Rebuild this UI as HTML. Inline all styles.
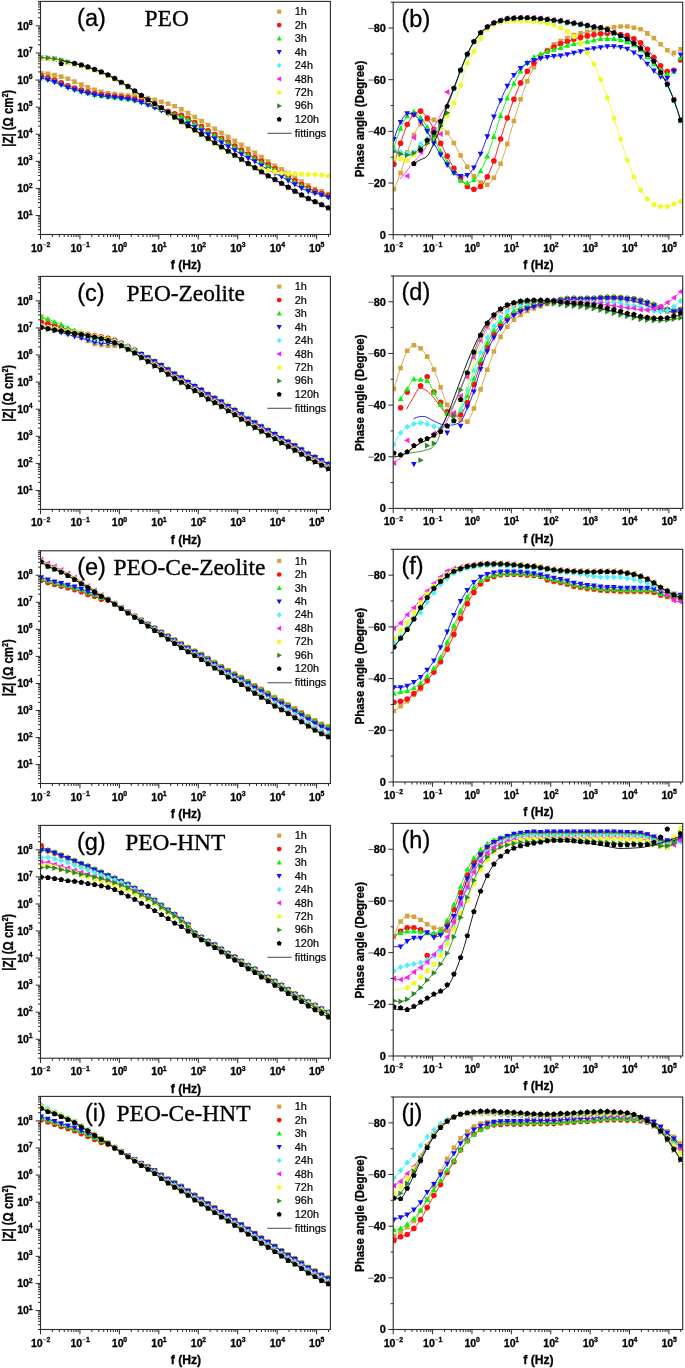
<!DOCTYPE html><html><head><meta charset="utf-8"><style>html,body{margin:0;padding:0;background:#fff;}svg{display:block;filter:blur(0.3px);}text[font-weight=bold]{stroke:#000;stroke-width:0.3px;}.lg{stroke:#000;stroke-width:0.2px;}</style></head><body><svg width="685" height="1368" viewBox="0 0 685 1368"><rect width="685" height="1368" fill="#fff"/><clipPath id="cl0"><rect x="40.5" y="1.4" width="289.9" height="233.1"/></clipPath><clipPath id="cr0"><rect x="393.2" y="2.2" width="289.5" height="232.5"/></clipPath><g clip-path="url(#cl0)"><path d="M41.2 73.3h0M47.9 73.9h0M54.6 75h0M61.2 76.6h0M67.9 78.8h0M74.6 81.6h0M81.3 84.6h0M87.9 87.3h0M94.6 89.7h0M101.3 91.7h0M108 93.2h0M114.7 94.1h0M121.3 94.8h0M128 95.5h0M134.7 96.1h0M141.4 96.9h0M148 98h0M154.7 99.7h0M161.4 101.7h0M168.1 103.8h0M174.7 106.2h0M181.4 109.4h0M188.1 113.1h0M194.8 117h0M201.5 121h0M208.1 125h0M214.8 128.8h0M221.5 132.7h0M228.2 136.8h0M234.8 140.9h0M241.5 144.8h0M248.2 148.8h0M254.9 152.9h0M261.5 157.1h0M268.2 161.5h0M274.9 165.7h0M281.6 169.4h0M288.2 173.1h0M294.9 177.4h0M301.6 181.6h0M308.3 185.6h0M315 189.1h0M321.6 191.4h0M328.3 194.1h0" stroke="#D6A43E" stroke-width="4.6" stroke-linecap="square"/><path d="M41.2 73.3 44.4 73.5 47.7 73.9 50.9 74.4 54.1 74.9 57.3 75.6 60.6 76.4 63.8 77.4 67 78.5 70.2 79.7 73.5 81.1 76.7 82.6 79.9 84.1 83.1 85.4 86.4 86.7 89.6 88 92.8 89.1 96 90.1 99.3 91.1 102.5 92 105.7 92.8 109 93.4 112.2 93.8 115.4 94.2 118.6 94.5 121.9 94.9 125.1 95.2 128.3 95.5 131.5 95.8 134.8 96.1 138 96.5 141.2 96.9 144.4 97.4 147.7 97.9 150.9 98.6 154.1 99.5 157.3 100.5 160.6 101.5 163.8 102.5 167 103.5 170.2 104.5 173.5 105.7 176.7 107.1 179.9 108.6 183.1 110.3 186.4 112.1 189.6 114 192.8 115.9 196.1 117.8 199.3 119.7 202.5 121.6 205.7 123.6 209 125.5 212.2 127.3 215.4 129.2 218.6 131 221.9 133 225.1 134.9 228.3 136.9 231.5 138.9 234.8 140.9 238 142.8 241.2 144.7 244.4 146.6 247.7 148.5 250.9 150.5 254.1 152.5 257.3 154.5 260.6 156.5 263.8 158.6 267 160.7 270.2 162.8 273.5 164.8 276.7 166.7 279.9 168.5 283.1 170.2 286.4 172 289.6 174 292.8 176 296.1 178.1 299.3 180.1 302.5 182.1 305.7 184.1 309 186 312.2 187.8 315.4 189.3 318.6 190.4 321.9 191.5 325.1 192.8 328.3 194.1" fill="none" stroke="#D6A43E" stroke-width="0.9"/><path d="M41.2 75.9h0M47.9 77.9h0M54.6 80.1h0M61.2 82.9h0M67.9 85.7h0M74.6 88h0M81.3 90h0M87.9 91.9h0M94.6 93.5h0M101.3 94.6h0M108 95.5h0M114.7 96.2h0M121.3 97h0M128 97.9h0M134.7 99h0M141.4 100.8h0M148 103.1h0M154.7 105.9h0M161.4 108.7h0M168.1 111.4h0M174.7 113.7h0M181.4 115.3h0M188.1 118.5h0M194.8 122.5h0M201.5 126.6h0M208.1 130.8h0M214.8 134.5h0M221.5 138.2h0M228.2 142.1h0M234.8 146.1h0M241.5 150.1h0M248.2 154h0M254.9 157.7h0M261.5 161.3h0M268.2 164.9h0M274.9 168.7h0M281.6 172.7h0M288.2 176.8h0M294.9 180.8h0M301.6 184.6h0M308.3 188h0M315 191.1h0M321.6 193.5h0M328.3 195.6h0" stroke="#FF1010" stroke-width="5.6" stroke-linecap="round"/><path d="M41.2 75.9 44.4 76.8 47.7 77.8 50.9 78.8 54.1 80 57.3 81.2 60.6 82.6 63.8 84 67 85.3 70.2 86.5 73.5 87.6 76.7 88.6 79.9 89.6 83.1 90.6 86.4 91.5 89.6 92.3 92.8 93.1 96 93.7 99.3 94.3 102.5 94.8 105.7 95.2 109 95.6 112.2 96 115.4 96.3 118.6 96.7 121.9 97 125.1 97.5 128.3 97.9 131.5 98.4 134.8 99 138 99.8 141.2 100.8 144.4 101.9 147.7 103 150.9 104.2 154.1 105.6 157.3 107 160.6 108.4 163.8 109.7 167 111 170.2 112.3 173.5 113.3 176.7 114.1 179.9 114.8 183.1 115.9 186.4 117.5 189.6 119.4 192.8 121.3 196.1 123.3 199.3 125.3 202.5 127.3 205.7 129.3 209 131.3 212.2 133.1 215.4 134.8 218.6 136.6 221.9 138.4 225.1 140.3 228.3 142.2 231.5 144.2 234.8 146.1 238 148 241.2 149.9 244.4 151.8 247.7 153.7 250.9 155.5 254.1 157.3 257.3 159 260.6 160.8 263.8 162.5 267 164.3 270.2 166 273.5 167.9 276.7 169.7 279.9 171.7 283.1 173.7 286.4 175.7 289.6 177.6 292.8 179.6 296.1 181.5 299.3 183.3 302.5 185 305.7 186.7 309 188.4 312.2 189.9 315.4 191.3 318.6 192.5 321.9 193.6 325.1 194.6 328.3 195.6" fill="none" stroke="#FF1010" stroke-width="0.9"/><path d="M41.2 74l2.9 5.3 -5.8 0zM47.9 76l2.9 5.3 -5.8 0zM54.6 78.2l2.9 5.3 -5.8 0zM61.2 81l2.9 5.3 -5.8 0zM67.9 83.8l2.9 5.3 -5.8 0zM74.6 86.1l2.9 5.3 -5.8 0zM81.3 88.1l2.9 5.3 -5.8 0zM87.9 90l2.9 5.3 -5.8 0zM94.6 91.6l2.9 5.3 -5.8 0zM101.3 92.7l2.9 5.3 -5.8 0zM108 93.6l2.9 5.3 -5.8 0zM114.7 94.3l2.9 5.3 -5.8 0zM121.3 95.1l2.9 5.3 -5.8 0zM128 96l2.9 5.3 -5.8 0zM134.7 97.1l2.9 5.3 -5.8 0zM141.4 98.9l2.9 5.3 -5.8 0zM148 101.2l2.9 5.3 -5.8 0zM154.7 104l2.9 5.3 -5.8 0zM161.4 106.8l2.9 5.3 -5.8 0zM168.1 109.5l2.9 5.3 -5.8 0zM174.7 111.8l2.9 5.3 -5.8 0zM181.4 113.4l2.9 5.3 -5.8 0zM188.1 116.6l2.9 5.3 -5.8 0zM194.8 120.6l2.9 5.3 -5.8 0zM201.5 124.7l2.9 5.3 -5.8 0zM208.1 128.9l2.9 5.3 -5.8 0zM214.8 132.6l2.9 5.3 -5.8 0zM221.5 136.3l2.9 5.3 -5.8 0zM228.2 140.2l2.9 5.3 -5.8 0zM234.8 144.2l2.9 5.3 -5.8 0zM241.5 148.2l2.9 5.3 -5.8 0zM248.2 152.1l2.9 5.3 -5.8 0zM254.9 155.8l2.9 5.3 -5.8 0zM261.5 159.4l2.9 5.3 -5.8 0zM268.2 163l2.9 5.3 -5.8 0zM274.9 166.8l2.9 5.3 -5.8 0zM281.6 170.8l2.9 5.3 -5.8 0zM288.2 174.9l2.9 5.3 -5.8 0zM294.9 178.9l2.9 5.3 -5.8 0zM301.6 182.7l2.9 5.3 -5.8 0zM308.3 186.1l2.9 5.3 -5.8 0zM315 189.2l2.9 5.3 -5.8 0zM321.6 191.6l2.9 5.3 -5.8 0zM328.3 193.7l2.9 5.3 -5.8 0z" fill="#10F010"/><path d="M41.2 77.1 44.4 78 47.7 79 50.9 80 54.1 81.2 57.3 82.4 60.6 83.8 63.8 85.2 67 86.5 70.2 87.7 73.5 88.8 76.7 89.8 79.9 90.8 83.1 91.8 86.4 92.7 89.6 93.5 92.8 94.3 96 94.9 99.3 95.5 102.5 96 105.7 96.4 109 96.8 112.2 97.2 115.4 97.5 118.6 97.9 121.9 98.2 125.1 98.7 128.3 99.1 131.5 99.6 134.8 100.2 138 101 141.2 102 144.4 103.1 147.7 104.2 150.9 105.4 154.1 106.8 157.3 108.2 160.6 109.6 163.8 110.9 167 112.2 170.2 113.5 173.5 114.5 176.7 115.3 179.9 116 183.1 117.1 186.4 118.7 189.6 120.6 192.8 122.5 196.1 124.5 199.3 126.5 202.5 128.5 205.7 130.5 209 132.5 212.2 134.3 215.4 136 218.6 137.8 221.9 139.6 225.1 141.5 228.3 143.4 231.5 145.4 234.8 147.3 238 149.2 241.2 151.1 244.4 153 247.7 154.9 250.9 156.7 254.1 158.5 257.3 160.2 260.6 162 263.8 163.7 267 165.5 270.2 167.2 273.5 169.1 276.7 170.9 279.9 172.9 283.1 174.9 286.4 176.9 289.6 178.8 292.8 180.8 296.1 182.7 299.3 184.5 302.5 186.2 305.7 187.9 309 189.6 312.2 191.1 315.4 192.5 318.6 193.7 321.9 194.8 325.1 195.8 328.3 196.8" fill="none" stroke="#10F010" stroke-width="0.9"/><path d="M41.2 81.1l2.9 -5.3 -5.8 0zM47.9 83.1l2.9 -5.3 -5.8 0zM54.6 85.3l2.9 -5.3 -5.8 0zM61.2 88l2.9 -5.3 -5.8 0zM67.9 90.7l2.9 -5.3 -5.8 0zM74.6 92.9l2.9 -5.3 -5.8 0zM81.3 94.8l2.9 -5.3 -5.8 0zM87.9 96.5l2.9 -5.3 -5.8 0zM94.6 97.9l2.9 -5.3 -5.8 0zM101.3 99l2.9 -5.3 -5.8 0zM108 99.9l2.9 -5.3 -5.8 0zM114.7 100.6l2.9 -5.3 -5.8 0zM121.3 101.4l2.9 -5.3 -5.8 0zM128 102.3l2.9 -5.3 -5.8 0zM134.7 103.6l2.9 -5.3 -5.8 0zM141.4 105.6l2.9 -5.3 -5.8 0zM148 108.1l2.9 -5.3 -5.8 0zM154.7 110.8l2.9 -5.3 -5.8 0zM161.4 113.7l2.9 -5.3 -5.8 0zM168.1 116.7l2.9 -5.3 -5.8 0zM174.7 120l2.9 -5.3 -5.8 0zM181.4 123.7l2.9 -5.3 -5.8 0zM188.1 126.9l2.9 -5.3 -5.8 0zM194.8 130.2l2.9 -5.3 -5.8 0zM201.5 133.9l2.9 -5.3 -5.8 0zM208.1 137.8l2.9 -5.3 -5.8 0zM214.8 141.8l2.9 -5.3 -5.8 0zM221.5 145.8l2.9 -5.3 -5.8 0zM228.2 149.7l2.9 -5.3 -5.8 0zM234.8 153.6l2.9 -5.3 -5.8 0zM241.5 157.5l2.9 -5.3 -5.8 0zM248.2 161.2l2.9 -5.3 -5.8 0zM254.9 164.6l2.9 -5.3 -5.8 0zM261.5 168.8l2.9 -5.3 -5.8 0zM268.2 172.9l2.9 -5.3 -5.8 0zM274.9 176.4l2.9 -5.3 -5.8 0zM281.6 179.8l2.9 -5.3 -5.8 0zM288.2 183.8l2.9 -5.3 -5.8 0zM294.9 187.6l2.9 -5.3 -5.8 0zM301.6 191.3l2.9 -5.3 -5.8 0zM308.3 194.4l2.9 -5.3 -5.8 0zM315 196.3l2.9 -5.3 -5.8 0zM321.6 198.1l2.9 -5.3 -5.8 0zM328.3 200.5l2.9 -5.3 -5.8 0z" fill="#1010FF"/><path d="M41.2 78 44.4 78.9 47.7 79.9 50.9 81 54.1 82.1 57.3 83.3 60.6 84.7 63.8 86 67 87.3 70.2 88.4 73.5 89.4 76.7 90.4 79.9 91.4 83.1 92.2 86.4 93 89.6 93.8 92.8 94.4 96 95 99.3 95.6 102.5 96.1 105.7 96.5 109 96.9 112.2 97.3 115.4 97.6 118.6 98 121.9 98.3 125.1 98.8 128.3 99.3 131.5 99.9 134.8 100.5 138 101.4 141.2 102.5 144.4 103.7 147.7 104.9 150.9 106.1 154.1 107.5 157.3 108.8 160.6 110.3 163.8 111.7 167 113.1 170.2 114.6 173.5 116.2 176.7 118 179.9 119.8 183.1 121.5 186.4 123 189.6 124.5 192.8 126.1 196.1 127.8 199.3 129.6 202.5 131.4 205.7 133.3 209 135.2 212.2 137.1 215.4 139.1 218.6 141 221.9 142.9 225.1 144.8 228.3 146.7 231.5 148.6 234.8 150.5 238 152.3 241.2 154.2 244.4 156 247.7 157.8 250.9 159.4 254.1 161.1 257.3 163 260.6 165.1 263.8 167.2 267 169.2 270.2 170.9 273.5 172.6 276.7 174.2 279.9 175.8 283.1 177.6 286.4 179.5 289.6 181.5 292.8 183.4 296.1 185.2 299.3 187 302.5 188.7 305.7 190.2 309 191.5 312.2 192.5 315.4 193.3 318.6 194.1 321.9 195.1 325.1 196.2 328.3 197.4" fill="none" stroke="#1010FF" stroke-width="0.9"/><path d="M41.2 54.6l2.8 3.1 -2.8 3.1 -2.8 -3.1zM47.9 55l2.8 3.1 -2.8 3.1 -2.8 -3.1zM54.6 55.7l2.8 3.1 -2.8 3.1 -2.8 -3.1zM61.2 57.2l2.8 3.1 -2.8 3.1 -2.8 -3.1zM67.9 59l2.8 3.1 -2.8 3.1 -2.8 -3.1zM74.6 60.6l2.8 3.1 -2.8 3.1 -2.8 -3.1zM81.3 62.2l2.8 3.1 -2.8 3.1 -2.8 -3.1zM87.9 64.2l2.8 3.1 -2.8 3.1 -2.8 -3.1zM94.6 66.6l2.8 3.1 -2.8 3.1 -2.8 -3.1zM101.3 69.2l2.8 3.1 -2.8 3.1 -2.8 -3.1zM108 72.1l2.8 3.1 -2.8 3.1 -2.8 -3.1zM114.7 75.6l2.8 3.1 -2.8 3.1 -2.8 -3.1zM121.3 79.5l2.8 3.1 -2.8 3.1 -2.8 -3.1zM128 83.7l2.8 3.1 -2.8 3.1 -2.8 -3.1zM134.7 88.2l2.8 3.1 -2.8 3.1 -2.8 -3.1zM141.4 92.6l2.8 3.1 -2.8 3.1 -2.8 -3.1zM148 97l2.8 3.1 -2.8 3.1 -2.8 -3.1zM154.7 100.9l2.8 3.1 -2.8 3.1 -2.8 -3.1zM161.4 104.8l2.8 3.1 -2.8 3.1 -2.8 -3.1zM168.1 109.5l2.8 3.1 -2.8 3.1 -2.8 -3.1zM174.7 114.3l2.8 3.1 -2.8 3.1 -2.8 -3.1zM181.4 118.7l2.8 3.1 -2.8 3.1 -2.8 -3.1zM188.1 123l2.8 3.1 -2.8 3.1 -2.8 -3.1zM194.8 127.2l2.8 3.1 -2.8 3.1 -2.8 -3.1zM201.5 131.4l2.8 3.1 -2.8 3.1 -2.8 -3.1zM208.1 135.7l2.8 3.1 -2.8 3.1 -2.8 -3.1zM214.8 140l2.8 3.1 -2.8 3.1 -2.8 -3.1zM221.5 144.2l2.8 3.1 -2.8 3.1 -2.8 -3.1zM228.2 148.3l2.8 3.1 -2.8 3.1 -2.8 -3.1zM234.8 152.4l2.8 3.1 -2.8 3.1 -2.8 -3.1zM241.5 156.5l2.8 3.1 -2.8 3.1 -2.8 -3.1zM248.2 160.7l2.8 3.1 -2.8 3.1 -2.8 -3.1zM254.9 164.9l2.8 3.1 -2.8 3.1 -2.8 -3.1zM261.5 169l2.8 3.1 -2.8 3.1 -2.8 -3.1zM268.2 173l2.8 3.1 -2.8 3.1 -2.8 -3.1zM274.9 176.7l2.8 3.1 -2.8 3.1 -2.8 -3.1zM281.6 180.5l2.8 3.1 -2.8 3.1 -2.8 -3.1zM288.2 184.4l2.8 3.1 -2.8 3.1 -2.8 -3.1zM294.9 188.3l2.8 3.1 -2.8 3.1 -2.8 -3.1zM301.6 192.1l2.8 3.1 -2.8 3.1 -2.8 -3.1zM308.3 195.7l2.8 3.1 -2.8 3.1 -2.8 -3.1zM315 198.8l2.8 3.1 -2.8 3.1 -2.8 -3.1zM321.6 201.8l2.8 3.1 -2.8 3.1 -2.8 -3.1zM328.3 205l2.8 3.1 -2.8 3.1 -2.8 -3.1z" fill="#50F0F8"/><path d="M41.2 57.7 44.4 57.8 47.7 58.1 50.9 58.4 54.1 58.8 57.3 59.4 60.6 60.1 63.8 61 67 61.9 70.2 62.7 73.5 63.4 76.7 64.2 79.9 65 83.1 65.9 86.4 66.8 89.6 67.9 92.8 69 96 70.2 99.3 71.4 102.5 72.8 105.7 74.2 109 75.7 112.2 77.4 115.4 79.1 118.6 81 121.9 82.9 125.1 84.9 128.3 87 131.5 89.2 134.8 91.3 138 93.5 141.2 95.6 144.4 97.8 147.7 99.9 150.9 101.8 154.1 103.6 157.3 105.5 160.6 107.4 163.8 109.5 167 111.8 170.2 114.2 173.5 116.5 176.7 118.7 179.9 120.9 183.1 123 186.4 125 189.6 127.1 192.8 129.1 196.1 131.1 199.3 133.1 202.5 135.2 205.7 137.2 209 139.3 212.2 141.4 215.4 143.5 218.6 145.5 221.9 147.5 225.1 149.5 228.3 151.5 231.5 153.5 234.8 155.5 238 157.4 241.2 159.4 244.4 161.5 247.7 163.5 250.9 165.5 254.1 167.6 257.3 169.5 260.6 171.5 263.8 173.4 267 175.4 270.2 177.2 273.5 179 276.7 180.9 279.9 182.7 283.1 184.5 286.4 186.4 289.6 188.3 292.8 190.2 296.1 192 299.3 193.9 302.5 195.7 305.7 197.5 309 199.1 312.2 200.6 315.4 202.1 318.6 203.5 321.9 205 325.1 206.5 328.3 208.1" fill="none" stroke="#50F0F8" stroke-width="0.9"/><path d="M38.1 57.9l5.3 -2.9 0 5.8zM44.8 58.3l5.3 -2.9 0 5.8zM51.5 59l5.3 -2.9 0 5.8zM58.1 60.5l5.3 -2.9 0 5.8zM64.8 62.3l5.3 -2.9 0 5.8zM71.5 63.9l5.3 -2.9 0 5.8zM78.2 65.5l5.3 -2.9 0 5.8zM84.8 67.5l5.3 -2.9 0 5.8zM91.5 69.9l5.3 -2.9 0 5.8zM98.2 72.5l5.3 -2.9 0 5.8zM104.9 75.4l5.3 -2.9 0 5.8zM111.6 78.9l5.3 -2.9 0 5.8zM118.2 82.8l5.3 -2.9 0 5.8zM124.9 87l5.3 -2.9 0 5.8zM131.6 91.5l5.3 -2.9 0 5.8zM138.3 95.9l5.3 -2.9 0 5.8zM144.9 100.3l5.3 -2.9 0 5.8zM151.6 104.2l5.3 -2.9 0 5.8zM158.3 108.1l5.3 -2.9 0 5.8zM165 112.8l5.3 -2.9 0 5.8zM171.6 117.6l5.3 -2.9 0 5.8zM178.3 122l5.3 -2.9 0 5.8zM185 126.3l5.3 -2.9 0 5.8zM191.7 130.5l5.3 -2.9 0 5.8zM198.4 134.7l5.3 -2.9 0 5.8zM205 139l5.3 -2.9 0 5.8zM211.7 143.3l5.3 -2.9 0 5.8zM218.4 147.5l5.3 -2.9 0 5.8zM225.1 151.6l5.3 -2.9 0 5.8zM231.7 155.7l5.3 -2.9 0 5.8zM238.4 159.8l5.3 -2.9 0 5.8zM245.1 164l5.3 -2.9 0 5.8zM251.8 168.2l5.3 -2.9 0 5.8zM258.4 172.3l5.3 -2.9 0 5.8zM265.1 176.3l5.3 -2.9 0 5.8zM271.8 180l5.3 -2.9 0 5.8zM278.5 183.8l5.3 -2.9 0 5.8zM285.1 187.7l5.3 -2.9 0 5.8zM291.8 191.6l5.3 -2.9 0 5.8zM298.5 195.4l5.3 -2.9 0 5.8zM305.2 199l5.3 -2.9 0 5.8zM311.9 202.1l5.3 -2.9 0 5.8zM318.5 205.1l5.3 -2.9 0 5.8zM325.2 208.3l5.3 -2.9 0 5.8z" fill="#FF20F0"/><path d="M41.2 57.9 44.4 58 47.7 58.3 50.9 58.6 54.1 59 57.3 59.6 60.6 60.3 63.8 61.2 67 62.1 70.2 62.9 73.5 63.6 76.7 64.4 79.9 65.2 83.1 66.1 86.4 67 89.6 68.1 92.8 69.2 96 70.4 99.3 71.6 102.5 73 105.7 74.4 109 75.9 112.2 77.6 115.4 79.3 118.6 81.2 121.9 83.1 125.1 85.1 128.3 87.2 131.5 89.4 134.8 91.5 138 93.7 141.2 95.8 144.4 98 147.7 100.1 150.9 102 154.1 103.8 157.3 105.7 160.6 107.6 163.8 109.7 167 112 170.2 114.4 173.5 116.7 176.7 118.9 179.9 121.1 183.1 123.2 186.4 125.2 189.6 127.3 192.8 129.3 196.1 131.3 199.3 133.3 202.5 135.4 205.7 137.4 209 139.5 212.2 141.6 215.4 143.7 218.6 145.7 221.9 147.7 225.1 149.7 228.3 151.7 231.5 153.7 234.8 155.7 238 157.6 241.2 159.6 244.4 161.7 247.7 163.7 250.9 165.7 254.1 167.8 257.3 169.7 260.6 171.7 263.8 173.6 267 175.6 270.2 177.4 273.5 179.2 276.7 181.1 279.9 182.9 283.1 184.7 286.4 186.6 289.6 188.5 292.8 190.4 296.1 192.2 299.3 194.1 302.5 195.9 305.7 197.7 309 199.3 312.2 200.8 315.4 202.3 318.6 203.7 321.9 205.2 325.1 206.7 328.3 208.3" fill="none" stroke="#FF20F0" stroke-width="0.9"/><path d="M43.6 59.6l-2.4 1.4 -2.4 -1.4 0 -2.8 2.4 -1.4 2.4 1.4zM50.3 60l-2.4 1.4 -2.4 -1.4 0 -2.8 2.4 -1.4 2.4 1.4zM57 60.7l-2.4 1.4 -2.4 -1.4 0 -2.8 2.4 -1.4 2.4 1.4zM63.7 62.2l-2.4 1.4 -2.4 -1.4 0 -2.8 2.4 -1.4 2.4 1.4zM70.3 64l-2.4 1.4 -2.4 -1.4 0 -2.8 2.4 -1.4 2.4 1.4zM77 65.6l-2.4 1.4 -2.4 -1.4 0 -2.8 2.4 -1.4 2.4 1.4zM83.7 67.2l-2.4 1.4 -2.4 -1.4 0 -2.8 2.4 -1.4 2.4 1.4zM90.4 69.2l-2.4 1.4 -2.4 -1.4 0 -2.8 2.4 -1.4 2.4 1.4zM97 71.6l-2.4 1.4 -2.4 -1.4 0 -2.8 2.4 -1.4 2.4 1.4zM103.7 74.2l-2.4 1.4 -2.4 -1.4 0 -2.8 2.4 -1.4 2.4 1.4zM110.4 77.1l-2.4 1.4 -2.4 -1.4 0 -2.8 2.4 -1.4 2.4 1.4zM117.1 80.6l-2.4 1.4 -2.4 -1.4 0 -2.8 2.4 -1.4 2.4 1.4zM123.8 84.5l-2.4 1.4 -2.4 -1.4 0 -2.8 2.4 -1.4 2.4 1.4zM130.4 88.7l-2.4 1.4 -2.4 -1.4 0 -2.8 2.4 -1.4 2.4 1.4zM137.1 93.2l-2.4 1.4 -2.4 -1.4 0 -2.8 2.4 -1.4 2.4 1.4zM143.8 97.6l-2.4 1.4 -2.4 -1.4 0 -2.8 2.4 -1.4 2.4 1.4zM150.5 102l-2.4 1.4 -2.4 -1.4 0 -2.8 2.4 -1.4 2.4 1.4zM157.1 105.9l-2.4 1.4 -2.4 -1.4 0 -2.8 2.4 -1.4 2.4 1.4zM163.8 109.8l-2.4 1.4 -2.4 -1.4 0 -2.8 2.4 -1.4 2.4 1.4zM170.5 114.5l-2.4 1.4 -2.4 -1.4 0 -2.8 2.4 -1.4 2.4 1.4zM177.2 119.3l-2.4 1.4 -2.4 -1.4 0 -2.8 2.4 -1.4 2.4 1.4zM183.8 123.7l-2.4 1.4 -2.4 -1.4 0 -2.8 2.4 -1.4 2.4 1.4zM190.5 128l-2.4 1.4 -2.4 -1.4 0 -2.8 2.4 -1.4 2.4 1.4zM197.2 132.2l-2.4 1.4 -2.4 -1.4 0 -2.8 2.4 -1.4 2.4 1.4zM203.9 136.4l-2.4 1.4 -2.4 -1.4 0 -2.8 2.4 -1.4 2.4 1.4zM210.6 140.7l-2.4 1.4 -2.4 -1.4 0 -2.8 2.4 -1.4 2.4 1.4zM217.2 145l-2.4 1.4 -2.4 -1.4 0 -2.8 2.4 -1.4 2.4 1.4zM223.9 149.2l-2.4 1.4 -2.4 -1.4 0 -2.8 2.4 -1.4 2.4 1.4zM230.6 153.3l-2.4 1.4 -2.4 -1.4 0 -2.8 2.4 -1.4 2.4 1.4zM237.3 157.2l-2.4 1.4 -2.4 -1.4 0 -2.8 2.4 -1.4 2.4 1.4zM243.9 161l-2.4 1.4 -2.4 -1.4 0 -2.8 2.4 -1.4 2.4 1.4zM250.6 164.6l-2.4 1.4 -2.4 -1.4 0 -2.8 2.4 -1.4 2.4 1.4zM257.3 167.9l-2.4 1.4 -2.4 -1.4 0 -2.8 2.4 -1.4 2.4 1.4zM264 170.4l-2.4 1.4 -2.4 -1.4 0 -2.8 2.4 -1.4 2.4 1.4zM270.6 171.8l-2.4 1.4 -2.4 -1.4 0 -2.8 2.4 -1.4 2.4 1.4zM277.3 173.3l-2.4 1.4 -2.4 -1.4 0 -2.8 2.4 -1.4 2.4 1.4zM284 174.3l-2.4 1.4 -2.4 -1.4 0 -2.8 2.4 -1.4 2.4 1.4zM290.7 175l-2.4 1.4 -2.4 -1.4 0 -2.8 2.4 -1.4 2.4 1.4zM297.4 175l-2.4 1.4 -2.4 -1.4 0 -2.8 2.4 -1.4 2.4 1.4zM304 175.4l-2.4 1.4 -2.4 -1.4 0 -2.8 2.4 -1.4 2.4 1.4zM310.7 175.7l-2.4 1.4 -2.4 -1.4 0 -2.8 2.4 -1.4 2.4 1.4zM317.4 176l-2.4 1.4 -2.4 -1.4 0 -2.8 2.4 -1.4 2.4 1.4zM324.1 176.5l-2.4 1.4 -2.4 -1.4 0 -2.8 2.4 -1.4 2.4 1.4zM330.7 177.2l-2.4 1.4 -2.4 -1.4 0 -2.8 2.4 -1.4 2.4 1.4z" fill="#F2F830"/><path d="M41.2 58.2 44.4 58.3 47.7 58.6 50.9 58.9 54.1 59.3 57.3 59.9 60.6 60.6 63.8 61.5 67 62.4 70.2 63.2 73.5 63.9 76.7 64.7 79.9 65.5 83.1 66.4 86.4 67.3 89.6 68.4 92.8 69.5 96 70.7 99.3 71.9 102.5 73.3 105.7 74.7 109 76.2 112.2 77.9 115.4 79.6 118.6 81.5 121.9 83.4 125.1 85.4 128.3 87.5 131.5 89.7 134.8 91.8 138 94 141.2 96.1 144.4 98.3 147.7 100.4 150.9 102.3 154.1 104.1 157.3 106 160.6 107.9 163.8 110 167 112.3 170.2 114.7 173.5 117 176.7 119.2 179.9 121.4 183.1 123.5 186.4 125.5 189.6 127.6 192.8 129.6 196.1 131.6 199.3 133.6 202.5 135.7 205.7 137.7 209 139.8 212.2 141.9 215.4 144 218.6 146 221.9 148.1 225.1 150.1 228.3 152 231.5 153.9 234.8 155.8 238 157.6 241.2 159.4 244.4 161.2 247.7 162.9 250.9 164.6 254.1 166.1 257.3 167.5 260.6 168.7 263.8 169.5 267 170.2 270.2 170.9 273.5 171.6 276.7 172.2 279.9 172.7 283.1 173.2 286.4 173.5 289.6 173.6 292.8 173.6 296.1 173.6 299.3 173.9 302.5 174 305.7 174.2 309 174.3 312.2 174.5 315.4 174.6 318.6 174.8 321.9 175.1 325.1 175.4 328.3 175.8" fill="none" stroke="#F2F830" stroke-width="0.9"/><path d="M44.3 57.6l-5.3 -2.9 0 5.8zM51 58l-5.3 -2.9 0 5.8zM57.7 58.7l-5.3 -2.9 0 5.8zM64.3 60.2l-5.3 -2.9 0 5.8zM71 62l-5.3 -2.9 0 5.8zM77.7 63.6l-5.3 -2.9 0 5.8zM84.4 65.2l-5.3 -2.9 0 5.8zM91 67.2l-5.3 -2.9 0 5.8zM97.7 69.6l-5.3 -2.9 0 5.8zM104.4 72.2l-5.3 -2.9 0 5.8zM111.1 75.1l-5.3 -2.9 0 5.8zM117.8 78.6l-5.3 -2.9 0 5.8zM124.4 82.5l-5.3 -2.9 0 5.8zM131.1 86.7l-5.3 -2.9 0 5.8zM137.8 91.2l-5.3 -2.9 0 5.8zM144.5 95.6l-5.3 -2.9 0 5.8zM151.1 100l-5.3 -2.9 0 5.8zM157.8 103.9l-5.3 -2.9 0 5.8zM164.5 107.8l-5.3 -2.9 0 5.8zM171.2 112.5l-5.3 -2.9 0 5.8zM177.8 117.3l-5.3 -2.9 0 5.8zM184.5 121.7l-5.3 -2.9 0 5.8zM191.2 126l-5.3 -2.9 0 5.8zM197.9 130.2l-5.3 -2.9 0 5.8zM204.6 134.4l-5.3 -2.9 0 5.8zM211.2 138.7l-5.3 -2.9 0 5.8zM217.9 143l-5.3 -2.9 0 5.8zM224.6 147.2l-5.3 -2.9 0 5.8zM231.3 151.3l-5.3 -2.9 0 5.8zM237.9 155.4l-5.3 -2.9 0 5.8zM244.6 159.5l-5.3 -2.9 0 5.8zM251.3 163.7l-5.3 -2.9 0 5.8zM258 167.9l-5.3 -2.9 0 5.8zM264.6 172l-5.3 -2.9 0 5.8zM271.3 176l-5.3 -2.9 0 5.8zM278 179.7l-5.3 -2.9 0 5.8zM284.7 183.5l-5.3 -2.9 0 5.8zM291.3 187.4l-5.3 -2.9 0 5.8zM298 191.3l-5.3 -2.9 0 5.8zM304.7 195.1l-5.3 -2.9 0 5.8zM311.4 198.7l-5.3 -2.9 0 5.8zM318.1 201.8l-5.3 -2.9 0 5.8zM324.7 204.8l-5.3 -2.9 0 5.8zM331.4 208l-5.3 -2.9 0 5.8z" fill="#2A8A22"/><path d="M41.2 57.6 44.4 57.7 47.7 58 50.9 58.3 54.1 58.7 57.3 59.3 60.6 60 63.8 60.9 67 61.8 70.2 62.6 73.5 63.3 76.7 64.1 79.9 64.9 83.1 65.8 86.4 66.7 89.6 67.8 92.8 68.9 96 70.1 99.3 71.3 102.5 72.7 105.7 74.1 109 75.6 112.2 77.3 115.4 79 118.6 80.9 121.9 82.8 125.1 84.8 128.3 86.9 131.5 89.1 134.8 91.2 138 93.4 141.2 95.5 144.4 97.7 147.7 99.8 150.9 101.7 154.1 103.5 157.3 105.4 160.6 107.3 163.8 109.4 167 111.7 170.2 114.1 173.5 116.4 176.7 118.6 179.9 120.8 183.1 122.9 186.4 124.9 189.6 127 192.8 129 196.1 131 199.3 133 202.5 135.1 205.7 137.1 209 139.2 212.2 141.3 215.4 143.4 218.6 145.4 221.9 147.4 225.1 149.4 228.3 151.4 231.5 153.4 234.8 155.4 238 157.3 241.2 159.3 244.4 161.4 247.7 163.4 250.9 165.4 254.1 167.5 257.3 169.4 260.6 171.4 263.8 173.3 267 175.3 270.2 177.1 273.5 178.9 276.7 180.8 279.9 182.6 283.1 184.4 286.4 186.3 289.6 188.2 292.8 190.1 296.1 191.9 299.3 193.8 302.5 195.6 305.7 197.4 309 199 312.2 200.5 315.4 202 318.6 203.4 321.9 204.9 325.1 206.4 328.3 208" fill="none" stroke="#2A8A22" stroke-width="0.9"/><path d="M61.2 60.9l2.8 2 -1.1 3.2 -3.4 0 -1.1 -3.2zM74.6 60.5l2.8 2 -1.1 3.2 -3.4 0 -1.1 -3.2zM81.3 62.1l2.8 2 -1.1 3.2 -3.4 0 -1.1 -3.2zM87.9 64.1l2.8 2 -1.1 3.2 -3.4 0 -1.1 -3.2zM94.6 66.5l2.8 2 -1.1 3.2 -3.4 0 -1.1 -3.2zM101.3 69.1l2.8 2 -1.1 3.2 -3.4 0 -1.1 -3.2zM108 72l2.8 2 -1.1 3.2 -3.4 0 -1.1 -3.2zM114.7 75.5l2.8 2 -1.1 3.2 -3.4 0 -1.1 -3.2zM121.3 79.4l2.8 2 -1.1 3.2 -3.4 0 -1.1 -3.2zM128 83.6l2.8 2 -1.1 3.2 -3.4 0 -1.1 -3.2zM134.7 88.1l2.8 2 -1.1 3.2 -3.4 0 -1.1 -3.2zM141.4 92.5l2.8 2 -1.1 3.2 -3.4 0 -1.1 -3.2zM148 96.9l2.8 2 -1.1 3.2 -3.4 0 -1.1 -3.2zM154.7 100.8l2.8 2 -1.1 3.2 -3.4 0 -1.1 -3.2zM161.4 104.7l2.8 2 -1.1 3.2 -3.4 0 -1.1 -3.2zM168.1 109.4l2.8 2 -1.1 3.2 -3.4 0 -1.1 -3.2zM174.7 114.2l2.8 2 -1.1 3.2 -3.4 0 -1.1 -3.2zM181.4 118.6l2.8 2 -1.1 3.2 -3.4 0 -1.1 -3.2zM188.1 122.9l2.8 2 -1.1 3.2 -3.4 0 -1.1 -3.2zM194.8 127.1l2.8 2 -1.1 3.2 -3.4 0 -1.1 -3.2zM201.5 131.3l2.8 2 -1.1 3.2 -3.4 0 -1.1 -3.2zM208.1 135.6l2.8 2 -1.1 3.2 -3.4 0 -1.1 -3.2zM214.8 139.9l2.8 2 -1.1 3.2 -3.4 0 -1.1 -3.2zM221.5 144.1l2.8 2 -1.1 3.2 -3.4 0 -1.1 -3.2zM228.2 148.2l2.8 2 -1.1 3.2 -3.4 0 -1.1 -3.2zM234.8 152.3l2.8 2 -1.1 3.2 -3.4 0 -1.1 -3.2zM241.5 156.4l2.8 2 -1.1 3.2 -3.4 0 -1.1 -3.2zM248.2 160.6l2.8 2 -1.1 3.2 -3.4 0 -1.1 -3.2zM254.9 164.8l2.8 2 -1.1 3.2 -3.4 0 -1.1 -3.2zM261.5 168.9l2.8 2 -1.1 3.2 -3.4 0 -1.1 -3.2zM268.2 172.9l2.8 2 -1.1 3.2 -3.4 0 -1.1 -3.2zM274.9 176.6l2.8 2 -1.1 3.2 -3.4 0 -1.1 -3.2zM281.6 180.4l2.8 2 -1.1 3.2 -3.4 0 -1.1 -3.2zM288.2 184.3l2.8 2 -1.1 3.2 -3.4 0 -1.1 -3.2zM294.9 188.2l2.8 2 -1.1 3.2 -3.4 0 -1.1 -3.2zM301.6 192l2.8 2 -1.1 3.2 -3.4 0 -1.1 -3.2zM308.3 195.6l2.8 2 -1.1 3.2 -3.4 0 -1.1 -3.2zM315 198.7l2.8 2 -1.1 3.2 -3.4 0 -1.1 -3.2zM321.6 201.7l2.8 2 -1.1 3.2 -3.4 0 -1.1 -3.2zM328.3 204.9l2.8 2 -1.1 3.2 -3.4 0 -1.1 -3.2z" fill="#000000"/><path d="M61.2 60 64.2 60.9 67.2 61.7 70.2 62.4 73.2 63 76.2 63.7 79.2 64.5 82.2 65.3 85.2 66.2 88.2 67.1 91.2 68.2 94.2 69.2 97.2 70.4 100.3 71.5 103.3 72.8 106.3 74.1 109.3 75.6 112.3 77.1 115.3 78.8 118.3 80.5 121.3 82.3 124.3 84.1 127.3 86 130.3 88 133.3 90 136.3 92 139.3 94 142.3 96.1 145.3 98 148.3 99.9 151.3 101.7 154.3 103.4 157.3 105.1 160.3 106.9 163.3 108.9 166.3 111 169.3 113.2 172.3 115.4 175.3 117.5 178.3 119.5 181.3 121.5 184.3 123.4 187.3 125.3 190.3 127.2 193.3 129.1 196.3 130.9 199.3 132.8 202.3 134.7 205.3 136.6 208.3 138.6 211.3 140.5 214.3 142.5 217.3 144.4 220.3 146.2 223.3 148.1 226.3 150 229.3 151.8 232.3 153.7 235.3 155.5 238.3 157.3 241.3 159.2 244.3 161.1 247.3 163 250.3 164.9 253.3 166.8 256.3 168.6 259.3 170.4 262.3 172.3 265.3 174 268.3 175.8 271.3 177.5 274.3 179.2 277.3 180.9 280.3 182.6 283.3 184.3 286.3 186.1 289.3 187.8 292.3 189.6 295.3 191.3 298.3 193 301.3 194.7 304.3 196.4 307.3 198 310.3 199.5 313.3 200.8 316.3 202.2 319.3 203.5 322.3 204.9 325.3 206.3 328.3 207.8" fill="none" stroke="#000000" stroke-width="0.9"/></g><g clip-path="url(#cr0)"><path d="M393.9 189.3h0M400.6 173h0M407.2 152.3h0M413.9 135h0M420.6 124h0M427.2 119.5h0M433.9 119.9h0M440.6 126h0M447.2 132.9h0M453.9 143h0M460.6 155.5h0M467.3 166.8h0M473.9 176.4h0M480.6 182.5h0M487.3 184.8h0M493.9 177.8h0M500.6 163.7h0M507.3 143.9h0M513.9 121h0M520.6 99.3h0M527.3 81.3h0M533.9 67.3h0M540.6 57h0M547.3 50h0M553.9 44.4h0M560.6 41h0M567.3 38h0M573.9 35h0M580.6 33.2h0M587.3 31.9h0M593.9 30.5h0M600.6 29h0M607.3 28h0M613.9 27.4h0M620.6 26.5h0M627.3 26.5h0M633.9 27.7h0M640.6 29.2h0M647.3 33.4h0M653.9 38.3h0M660.6 44.3h0M667.3 50.2h0M673.9 52.9h0M680.6 49.3h0" stroke="#D6A43E" stroke-width="4.6" stroke-linecap="square"/><path d="M393.9 189.3 397.1 182.1 400.2 174 403.3 164.6 406.5 154.5 409.6 145.5 412.8 137.4 415.9 131 419.1 125.8 422.2 122.4 425.4 120 428.5 119.5 431.7 119.7 434.8 120.2 438 123 441.1 126.5 444.3 129.6 447.4 133.1 450.5 137.5 453.7 142.6 456.8 148.4 460 154.4 463.1 160 466.3 165.3 469.4 170.2 472.6 174.8 475.7 178.4 478.9 181.4 482 183.2 485.2 184.5 488.3 184.5 491.5 181.3 494.6 176.8 497.7 170.5 500.9 162.9 504 154.1 507.2 144.1 510.3 133.5 513.5 122.5 516.6 111.9 519.8 101.8 522.9 92.6 526.1 84.2 529.2 76.8 532.4 70.2 535.5 64.6 538.7 59.6 541.8 55.6 544.9 52.2 548.1 49.2 551.2 46.4 554.4 44.1 557.5 42.4 560.7 41 563.8 39.5 567 38.1 570.1 36.6 573.3 35.2 576.4 34.2 579.6 33.4 582.7 32.8 585.9 32.2 589 31.5 592.1 30.9 595.3 30.2 598.4 29.4 601.6 28.8 604.7 28.3 607.9 27.9 611 27.7 614.2 27.4 617.3 26.9 620.5 26.5 623.6 26.5 626.8 26.5 629.9 26.8 633.1 27.5 636.2 28.1 639.3 28.8 642.5 30.1 645.6 32.2 648.8 34.4 651.9 36.7 655.1 39.2 658.2 42.1 661.4 45 664.5 47.7 667.7 50.6 670.8 53.7 674 57" fill="none" stroke="#D6A43E" stroke-width="0.9"/><path d="M393.9 164.2h0M400.6 143.2h0M407.2 124.5h0M413.9 114.2h0M420.6 111.1h0M427.2 118.1h0M433.9 129.2h0M440.6 143.4h0M447.2 156.1h0M453.9 168.3h0M460.6 178.2h0M467.3 186.4h0M473.9 189.3h0M480.6 186.5h0M487.3 176.7h0M493.9 160.9h0M500.6 139h0M507.3 118h0M513.9 99.3h0M520.6 82.9h0M527.3 71.3h0M533.9 63.1h0M540.6 56h0M547.3 51h0M553.9 47h0M560.6 43.8h0M567.3 41.6h0M573.9 39.2h0M580.6 37.4h0M587.3 35.9h0M593.9 34.7h0M600.6 33.8h0M607.3 33.2h0M613.9 33.5h0M620.6 34.5h0M627.3 35.6h0M633.9 38.7h0M640.6 42.9h0M647.3 49.3h0M653.9 57.5h0M660.6 65.7h0M667.3 71.5h0M673.9 70.3h0M680.6 59.9h0" stroke="#FF1010" stroke-width="5.6" stroke-linecap="round"/><path d="M393.9 164.2 397 154.2 400.1 144.8 403.1 135.4 406.2 126.8 409.3 120.6 412.3 115.7 415.4 113.2 418.5 111.5 421.6 111.3 424.6 114.5 427.7 118.7 430.8 123.5 433.8 129.1 436.9 135.4 440 142.2 443.1 148.2 446.1 154 449.2 159.8 452.3 165.5 455.3 170.6 458.4 175.2 461.5 179.4 464.6 183.7 467.6 186.6 470.7 188.4 473.8 189.3 476.8 188.6 479.9 186.9 483 184 486.1 178.9 489.1 172.9 492.2 165.5 495.3 156.9 498.3 146.6 501.4 136.3 504.5 126.5 507.6 117.1 510.6 108.3 513.7 99.9 516.8 91.9 519.8 84.5 522.9 78.4 526 73.2 529.1 68.9 532.1 65.2 535.2 61.6 538.3 58.3 541.4 55.4 544.4 53 547.5 50.9 550.6 48.9 553.6 47.2 556.7 45.6 559.8 44.1 562.9 43 565.9 42 569 41 572.1 39.8 575.1 38.8 578.2 38 581.3 37.2 584.4 36.5 587.4 35.9 590.5 35.3 593.6 34.8 596.6 34.3 599.7 33.9 602.8 33.5 605.9 33.2 608.9 33.2 612 33.4 615.1 33.6 618.1 34.1 621.2 34.6 624.3 35 627.4 35.6 630.4 36.8 633.5 38.5 636.6 40.2 639.6 42.2 642.7 44.7 645.8 47.7 648.9 51.1 651.9 54.9 655 58.8 658.1 62.4 661.1 66.4 664.2 71.2 667.3 76.5" fill="none" stroke="#FF1010" stroke-width="0.9"/><path d="M393.9 144.8l2.9 5.3 -5.8 0zM400.6 125.5l2.9 5.3 -5.8 0zM407.2 112.9l2.9 5.3 -5.8 0zM413.9 108.6l2.9 5.3 -5.8 0zM420.6 114.4l2.9 5.3 -5.8 0zM427.2 124l2.9 5.3 -5.8 0zM433.9 135.4l2.9 5.3 -5.8 0zM440.6 148.3l2.9 5.3 -5.8 0zM447.2 158.8l2.9 5.3 -5.8 0zM453.9 169.3l2.9 5.3 -5.8 0zM460.6 177.5l2.9 5.3 -5.8 0zM467.3 180.1l2.9 5.3 -5.8 0zM473.9 176.8l2.9 5.3 -5.8 0zM480.6 168l2.9 5.3 -5.8 0zM487.3 153.1l2.9 5.3 -5.8 0zM493.9 133.6l2.9 5.3 -5.8 0zM500.6 112.6l2.9 5.3 -5.8 0zM507.3 95l2.9 5.3 -5.8 0zM513.9 80.5l2.9 5.3 -5.8 0zM520.6 68.2l2.9 5.3 -5.8 0zM527.3 59.5l2.9 5.3 -5.8 0zM533.9 54.1l2.9 5.3 -5.8 0zM540.6 50.9l2.9 5.3 -5.8 0zM547.3 48.3l2.9 5.3 -5.8 0zM553.9 46.4l2.9 5.3 -5.8 0zM560.6 44.8l2.9 5.3 -5.8 0zM567.3 42.5l2.9 5.3 -5.8 0zM573.9 40.8l2.9 5.3 -5.8 0zM580.6 39.4l2.9 5.3 -5.8 0zM587.3 38.5l2.9 5.3 -5.8 0zM593.9 37.1l2.9 5.3 -5.8 0zM600.6 35.6l2.9 5.3 -5.8 0zM607.3 35.6l2.9 5.3 -5.8 0zM613.9 35.6l2.9 5.3 -5.8 0zM620.6 36.9l2.9 5.3 -5.8 0zM627.3 38.9l2.9 5.3 -5.8 0zM633.9 41.9l2.9 5.3 -5.8 0zM640.6 46.9l2.9 5.3 -5.8 0zM647.3 53.9l2.9 5.3 -5.8 0zM653.9 60.9l2.9 5.3 -5.8 0zM660.6 66.9l2.9 5.3 -5.8 0zM667.3 70.9l2.9 5.3 -5.8 0zM673.9 68.4l2.9 5.3 -5.8 0zM680.6 54.9l2.9 5.3 -5.8 0z" fill="#10F010"/><path d="M393.9 147.9 397 138.1 400.1 129.8 403.1 122.8 406.2 117.2 409.3 114.1 412.3 112 415.4 112.2 418.5 115.1 421.6 118.6 424.6 123 427.7 127.8 430.8 132.9 433.8 138.4 436.9 144.3 440 150.3 443.1 155.5 446.1 160.2 449.2 165 452.3 170 455.3 174.4 458.4 178.6 461.5 181.1 464.6 182.7 467.6 183.2 470.7 182.1 473.8 180 476.8 176.8 479.9 172.2 483 166.5 486.1 159.2 489.1 151.1 492.2 142 495.3 132.5 498.3 122.6 501.4 113.4 504.5 105 507.6 97.4 510.6 90.4 513.7 84 516.8 78 519.8 72.5 522.9 67.9 526 64 529.1 60.9 532.1 58.4 535.2 56.5 538.3 55 541.4 53.7 544.4 52.4 547.5 51.3 550.6 50.4 553.6 49.6 556.7 48.8 559.8 48.1 562.9 47.2 565.9 46 569 45.1 572.1 44.3 575.1 43.6 578.2 42.9 581.3 42.4 584.4 42 587.4 41.6 590.5 41 593.6 40.3 596.6 39.5 599.7 38.8 602.8 38.7 605.9 38.7 608.9 38.7 612 38.7 615.1 38.8 618.1 39.4 621.2 40.1 624.3 41 627.4 42 630.4 43.2 633.5 44.8 636.6 46.7 639.6 49.2 642.7 52 645.8 55.4 648.9 58.7 651.9 62 655 65 658.1 67.6 661.1 70.6 664.2 74.2 667.3 78.5" fill="none" stroke="#10F010" stroke-width="0.9"/><path d="M393.9 142.2l2.9 -5.3 -5.8 0zM400.6 125.3l2.9 -5.3 -5.8 0zM407.2 116.5l2.9 -5.3 -5.8 0zM413.9 117.7l2.9 -5.3 -5.8 0zM420.6 124.7l2.9 -5.3 -5.8 0zM427.2 134.4l2.9 -5.3 -5.8 0zM433.9 146.5l2.9 -5.3 -5.8 0zM440.6 157.8l2.9 -5.3 -5.8 0zM447.2 167.9l2.9 -5.3 -5.8 0zM453.9 176.1l2.9 -5.3 -5.8 0zM460.6 179.2l2.9 -5.3 -5.8 0zM467.3 178.4l2.9 -5.3 -5.8 0zM473.9 170.7l2.9 -5.3 -5.8 0zM480.6 157l2.9 -5.3 -5.8 0zM487.3 139.5l2.9 -5.3 -5.8 0zM493.9 119.9l2.9 -5.3 -5.8 0zM500.6 103.6l2.9 -5.3 -5.8 0zM507.3 89.1l2.9 -5.3 -5.8 0zM513.9 78.3l2.9 -5.3 -5.8 0zM520.6 71.3l2.9 -5.3 -5.8 0zM527.3 66.2l2.9 -5.3 -5.8 0zM533.9 63.4l2.9 -5.3 -5.8 0zM540.6 61.5l2.9 -5.3 -5.8 0zM547.3 60.3l2.9 -5.3 -5.8 0zM553.9 59.2l2.9 -5.3 -5.8 0zM560.6 58.7l2.9 -5.3 -5.8 0zM567.3 57.5l2.9 -5.3 -5.8 0zM573.9 56l2.9 -5.3 -5.8 0zM580.6 54.6l2.9 -5.3 -5.8 0zM587.3 52.7l2.9 -5.3 -5.8 0zM593.9 51.5l2.9 -5.3 -5.8 0zM600.6 50.5l2.9 -5.3 -5.8 0zM607.3 49.6l2.9 -5.3 -5.8 0zM613.9 49.6l2.9 -5.3 -5.8 0zM620.6 50.2l2.9 -5.3 -5.8 0zM627.3 52l2.9 -5.3 -5.8 0zM633.9 55.7l2.9 -5.3 -5.8 0zM640.6 60l2.9 -5.3 -5.8 0zM647.3 67l2.9 -5.3 -5.8 0zM653.9 73.9l2.9 -5.3 -5.8 0zM660.6 79.7l2.9 -5.3 -5.8 0zM667.3 81.2l2.9 -5.3 -5.8 0zM673.9 74.3l2.9 -5.3 -5.8 0zM680.6 57.8l2.9 -5.3 -5.8 0z" fill="#1010FF"/><path d="M393.9 139.1 397 130.2 400.1 123.2 403.1 117.6 406.2 113.7 409.3 113.5 412.3 114.1 415.4 115.5 418.5 118.9 421.6 122.8 424.6 127.2 427.7 132 430.8 137.6 433.8 143.3 436.9 148.6 440 153.7 443.1 158.6 446.1 163.2 449.2 167.5 452.3 171.5 455.3 174 458.4 175.6 461.5 176.1 464.6 175.8 467.6 175.2 470.7 172.4 473.8 167.8 476.8 162.3 479.9 155.5 483 148 486.1 139.7 489.1 131 492.2 121.7 495.3 113.3 498.3 105.7 501.4 98.6 504.5 91.6 507.6 85.4 510.6 80.1 513.7 75.5 516.8 71.9 519.8 68.9 522.9 66.2 526 63.9 529.1 62.2 532.1 60.9 535.2 59.9 538.3 59 541.4 58.2 544.4 57.7 547.5 57.2 550.6 56.6 553.6 56.1 556.7 55.9 559.8 55.7 562.9 55.3 565.9 54.7 569 54 572.1 53.3 575.1 52.6 578.2 52 581.3 51.3 584.4 50.4 587.4 49.6 590.5 49 593.6 48.5 596.6 48 599.7 47.5 602.8 47 605.9 46.6 608.9 46.5 612 46.5 615.1 46.5 618.1 46.8 621.2 47.2 624.3 47.9 627.4 48.9 630.4 50.4 633.5 52.3 636.6 54.1 639.6 56.2 642.7 58.9 645.8 62.3 648.9 65.6 651.9 68.8 655 71.8 658.1 74.6 661.1 77 664.2 78.9 667.3 80.5" fill="none" stroke="#1010FF" stroke-width="0.9"/><path d="M393.9 146.9l2.8 3.1 -2.8 3.1 -2.8 -3.1zM400.6 148.9l2.8 3.1 -2.8 3.1 -2.8 -3.1zM407.2 149.9l2.8 3.1 -2.8 3.1 -2.8 -3.1zM413.9 148.9l2.8 3.1 -2.8 3.1 -2.8 -3.1zM420.6 140.9l2.8 3.1 -2.8 3.1 -2.8 -3.1zM427.2 135.6l2.8 3.1 -2.8 3.1 -2.8 -3.1zM433.9 128.9l2.8 3.1 -2.8 3.1 -2.8 -3.1zM440.6 120.9l2.8 3.1 -2.8 3.1 -2.8 -3.1zM447.2 111.9l2.8 3.1 -2.8 3.1 -2.8 -3.1zM453.9 86l2.8 3.1 -2.8 3.1 -2.8 -3.1zM460.6 67.8l2.8 3.1 -2.8 3.1 -2.8 -3.1zM467.3 51.9l2.8 3.1 -2.8 3.1 -2.8 -3.1zM473.9 39.3l2.8 3.1 -2.8 3.1 -2.8 -3.1zM480.6 30.4l2.8 3.1 -2.8 3.1 -2.8 -3.1zM487.3 24.6l2.8 3.1 -2.8 3.1 -2.8 -3.1zM493.9 20.6l2.8 3.1 -2.8 3.1 -2.8 -3.1zM500.6 18.3l2.8 3.1 -2.8 3.1 -2.8 -3.1zM507.3 16.4l2.8 3.1 -2.8 3.1 -2.8 -3.1zM513.9 15.9l2.8 3.1 -2.8 3.1 -2.8 -3.1zM520.6 15.5l2.8 3.1 -2.8 3.1 -2.8 -3.1zM527.3 15.5l2.8 3.1 -2.8 3.1 -2.8 -3.1zM533.9 15.9l2.8 3.1 -2.8 3.1 -2.8 -3.1zM540.6 16.4l2.8 3.1 -2.8 3.1 -2.8 -3.1zM547.3 17.1l2.8 3.1 -2.8 3.1 -2.8 -3.1zM553.9 18l2.8 3.1 -2.8 3.1 -2.8 -3.1zM560.6 18.6l2.8 3.1 -2.8 3.1 -2.8 -3.1zM567.3 20l2.8 3.1 -2.8 3.1 -2.8 -3.1zM573.9 20.9l2.8 3.1 -2.8 3.1 -2.8 -3.1zM580.6 22l2.8 3.1 -2.8 3.1 -2.8 -3.1zM587.3 23.2l2.8 3.1 -2.8 3.1 -2.8 -3.1zM593.9 24.7l2.8 3.1 -2.8 3.1 -2.8 -3.1zM600.6 25.4l2.8 3.1 -2.8 3.1 -2.8 -3.1zM607.3 27.4l2.8 3.1 -2.8 3.1 -2.8 -3.1zM613.9 30.5l2.8 3.1 -2.8 3.1 -2.8 -3.1zM620.6 33.3l2.8 3.1 -2.8 3.1 -2.8 -3.1zM627.3 36.6l2.8 3.1 -2.8 3.1 -2.8 -3.1zM633.9 41.1l2.8 3.1 -2.8 3.1 -2.8 -3.1zM640.6 46.1l2.8 3.1 -2.8 3.1 -2.8 -3.1zM647.3 52.1l2.8 3.1 -2.8 3.1 -2.8 -3.1zM653.9 58.8l2.8 3.1 -2.8 3.1 -2.8 -3.1zM660.6 70.3l2.8 3.1 -2.8 3.1 -2.8 -3.1zM667.3 82l2.8 3.1 -2.8 3.1 -2.8 -3.1zM673.9 97.7l2.8 3.1 -2.8 3.1 -2.8 -3.1zM680.6 117.8l2.8 3.1 -2.8 3.1 -2.8 -3.1z" fill="#50F0F8"/><path d="M393.9 150 397.1 151.1 400.4 151.9 403.6 152.6 406.8 153 410 152.8 413.2 152.2 416.5 149.6 419.7 145 422.9 142 426.1 139.6 429.3 136.7 432.6 133.5 435.8 130 439 126.3 442.2 120.6 445.5 112.1 448.7 103.3 451.9 94.6 455.1 85.8 458.3 76.9 461.6 68.4 464.8 60.5 468 53.4 471.2 47.1 474.4 41.6 477.7 37 480.9 33.2 484.1 30.2 487.3 27.7 490.6 25.5 493.8 23.8 497 22.5 500.2 21.5 503.4 20.4 506.7 19.6 509.9 19.3 513.1 19.1 516.3 18.8 519.5 18.6 522.8 18.6 526 18.6 529.2 18.7 532.4 18.9 535.7 19.1 538.9 19.4 542.1 19.6 545.3 20 548.5 20.4 551.8 20.8 555 21.2 558.2 21.5 561.4 21.8 564.6 22.5 567.9 23.2 571.1 23.6 574.3 24.1 577.5 24.6 580.7 25.1 584 25.7 587.2 26.3 590.4 27 593.6 27.7 596.9 28.1 600.1 28.4 603.3 29.1 606.5 30.2 609.7 31.6 613 33.2 616.2 34.5 619.4 35.9 622.6 37.3 625.8 38.9 629.1 40.8 632.3 43 635.5 45.3 638.7 47.7 642 50.3 645.2 53.2 648.4 56.2 651.6 59.3 654.8 63.2 658.1 68.7 661.3 74.5 664.5 80 667.7 86 670.9 93.2 674.2 101.4 677.4 110.6 680.6 120.9" fill="none" stroke="#50F0F8" stroke-width="0.9"/><path d="M404.1 176l5.3 -2.9 0 5.8zM410.8 137.5l5.3 -2.9 0 5.8zM417.5 152l5.3 -2.9 0 5.8zM424.1 141l5.3 -2.9 0 5.8zM430.8 130l5.3 -2.9 0 5.8zM437.5 134l5.3 -2.9 0 5.8zM444.1 92l5.3 -2.9 0 5.8zM450.8 87.7l5.3 -2.9 0 5.8zM457.5 69.5l5.3 -2.9 0 5.8zM464.2 53.6l5.3 -2.9 0 5.8zM470.8 41l5.3 -2.9 0 5.8zM477.5 32.1l5.3 -2.9 0 5.8zM484.2 26.3l5.3 -2.9 0 5.8zM490.8 22.3l5.3 -2.9 0 5.8zM497.5 20l5.3 -2.9 0 5.8zM504.2 18.1l5.3 -2.9 0 5.8zM510.8 17.6l5.3 -2.9 0 5.8zM517.5 17.2l5.3 -2.9 0 5.8zM524.2 17.2l5.3 -2.9 0 5.8zM530.8 17.6l5.3 -2.9 0 5.8zM537.5 18.1l5.3 -2.9 0 5.8zM544.2 18.8l5.3 -2.9 0 5.8zM550.8 19.7l5.3 -2.9 0 5.8zM557.5 20.3l5.3 -2.9 0 5.8zM564.2 21.7l5.3 -2.9 0 5.8zM570.8 22.6l5.3 -2.9 0 5.8zM577.5 23.7l5.3 -2.9 0 5.8zM584.2 24.9l5.3 -2.9 0 5.8zM590.8 26.4l5.3 -2.9 0 5.8zM597.5 27.1l5.3 -2.9 0 5.8zM604.2 29.1l5.3 -2.9 0 5.8zM610.8 32.2l5.3 -2.9 0 5.8zM617.5 35l5.3 -2.9 0 5.8zM624.2 38.3l5.3 -2.9 0 5.8zM630.8 42.8l5.3 -2.9 0 5.8zM637.5 47.8l5.3 -2.9 0 5.8zM644.2 53.8l5.3 -2.9 0 5.8zM650.8 60.5l5.3 -2.9 0 5.8zM657.5 72l5.3 -2.9 0 5.8zM664.2 83.7l5.3 -2.9 0 5.8zM670.8 99.4l5.3 -2.9 0 5.8zM677.5 119.5l5.3 -2.9 0 5.8z" fill="#FF20F0"/><path d="M400 179.4 400.6 178.6 401.2 177.9 401.8 177.1 402.4 176.3 403 175.5 403.6 174.8 404.2 174 404.8 173.2 405.5 172.5 406.1 171.7 406.7 170.9 407.3 170.2 407.9 169.4 408.5 168.7 409.1 167.9 409.7 167.1 410.3 166.4 410.9 165.6 411.5 164.9 412.1 164.1 412.7 163.4 413.3 162.6 413.9 161.9 414.5 161.2 415.1 160.5 415.7 159.8 416.4 159.1 417 158.5 417.6 157.8 418.2 157.2 418.8 156.5 419.4 155.9 420 155.2 420.6 154.5 421.2 153.8 421.8 153 422.4 152.3 423 151.5 423.6 150.7 424.2 149.8 424.8 148.9 425.4 147.9 426 146.9 426.6 145.8 427.3 144.5 427.9 143.2 428.5 141.7 429.1 140.1 429.7 138.5 430.3 136.8 430.9 135.2 431.5 133.6 432.1 132 432.7 130.6 433.3 129.2 433.9 127.9 434.5 126.6 435.1 125.4 435.7 124.1 436.3 122.9 436.9 121.7 437.5 120.6 438.2 119.4 438.8 118.3 439.4 117.2 440 116.1 440.6 115 441.2 113.9 441.8 112.9 442.4 111.9 443 110.9 443.6 110 444.2 109 444.8 108 445.4 106.9 446 105.9 446.6 104.7 447.2 103.5 447.8 102.3 448.4 101 449.1 99.6 449.7 98.2 450.3 96.8 450.9 95.4 451.5 93.9 452.1 92.3 452.7 90.7 453.3 89.1 453.9 87.5" fill="none" stroke="#FF20F0" stroke-width="0.9"/><path d="M396.3 159.4l-2.4 1.4 -2.4 -1.4 0 -2.8 2.4 -1.4 2.4 1.4zM403 160.4l-2.4 1.4 -2.4 -1.4 0 -2.8 2.4 -1.4 2.4 1.4zM409.7 161.9l-2.4 1.4 -2.4 -1.4 0 -2.8 2.4 -1.4 2.4 1.4zM416.3 156.4l-2.4 1.4 -2.4 -1.4 0 -2.8 2.4 -1.4 2.4 1.4zM423 150.4l-2.4 1.4 -2.4 -1.4 0 -2.8 2.4 -1.4 2.4 1.4zM429.7 144.4l-2.4 1.4 -2.4 -1.4 0 -2.8 2.4 -1.4 2.4 1.4zM436.3 137.4l-2.4 1.4 -2.4 -1.4 0 -2.8 2.4 -1.4 2.4 1.4zM443 130l-2.4 1.4 -2.4 -1.4 0 -2.8 2.4 -1.4 2.4 1.4zM449.7 117.4l-2.4 1.4 -2.4 -1.4 0 -2.8 2.4 -1.4 2.4 1.4zM456.3 104.2l-2.4 1.4 -2.4 -1.4 0 -2.8 2.4 -1.4 2.4 1.4zM463 86.7l-2.4 1.4 -2.4 -1.4 0 -2.8 2.4 -1.4 2.4 1.4zM469.7 64.5l-2.4 1.4 -2.4 -1.4 0 -2.8 2.4 -1.4 2.4 1.4zM476.3 52.8l-2.4 1.4 -2.4 -1.4 0 -2.8 2.4 -1.4 2.4 1.4zM483 40l-2.4 1.4 -2.4 -1.4 0 -2.8 2.4 -1.4 2.4 1.4zM489.7 30.4l-2.4 1.4 -2.4 -1.4 0 -2.8 2.4 -1.4 2.4 1.4zM496.3 25.9l-2.4 1.4 -2.4 -1.4 0 -2.8 2.4 -1.4 2.4 1.4zM503 23.9l-2.4 1.4 -2.4 -1.4 0 -2.8 2.4 -1.4 2.4 1.4zM509.7 22.9l-2.4 1.4 -2.4 -1.4 0 -2.8 2.4 -1.4 2.4 1.4zM516.3 22.4l-2.4 1.4 -2.4 -1.4 0 -2.8 2.4 -1.4 2.4 1.4zM523 22.4l-2.4 1.4 -2.4 -1.4 0 -2.8 2.4 -1.4 2.4 1.4zM529.7 22.4l-2.4 1.4 -2.4 -1.4 0 -2.8 2.4 -1.4 2.4 1.4zM536.4 22.9l-2.4 1.4 -2.4 -1.4 0 -2.8 2.4 -1.4 2.4 1.4zM543 23.6l-2.4 1.4 -2.4 -1.4 0 -2.8 2.4 -1.4 2.4 1.4zM549.7 24.9l-2.4 1.4 -2.4 -1.4 0 -2.8 2.4 -1.4 2.4 1.4zM556.4 26.6l-2.4 1.4 -2.4 -1.4 0 -2.8 2.4 -1.4 2.4 1.4zM563 29.4l-2.4 1.4 -2.4 -1.4 0 -2.8 2.4 -1.4 2.4 1.4zM569.7 32.9l-2.4 1.4 -2.4 -1.4 0 -2.8 2.4 -1.4 2.4 1.4zM576.4 37.9l-2.4 1.4 -2.4 -1.4 0 -2.8 2.4 -1.4 2.4 1.4zM583 44.9l-2.4 1.4 -2.4 -1.4 0 -2.8 2.4 -1.4 2.4 1.4zM589.7 54.1l-2.4 1.4 -2.4 -1.4 0 -2.8 2.4 -1.4 2.4 1.4zM596.4 65.6l-2.4 1.4 -2.4 -1.4 0 -2.8 2.4 -1.4 2.4 1.4zM603 80.8l-2.4 1.4 -2.4 -1.4 0 -2.8 2.4 -1.4 2.4 1.4zM609.7 99l-2.4 1.4 -2.4 -1.4 0 -2.8 2.4 -1.4 2.4 1.4zM616.4 119.6l-2.4 1.4 -2.4 -1.4 0 -2.8 2.4 -1.4 2.4 1.4zM623 140.5l-2.4 1.4 -2.4 -1.4 0 -2.8 2.4 -1.4 2.4 1.4zM629.7 161.6l-2.4 1.4 -2.4 -1.4 0 -2.8 2.4 -1.4 2.4 1.4zM636.4 178.4l-2.4 1.4 -2.4 -1.4 0 -2.8 2.4 -1.4 2.4 1.4zM643 191.5l-2.4 1.4 -2.4 -1.4 0 -2.8 2.4 -1.4 2.4 1.4zM649.7 200.3l-2.4 1.4 -2.4 -1.4 0 -2.8 2.4 -1.4 2.4 1.4zM656.4 206.1l-2.4 1.4 -2.4 -1.4 0 -2.8 2.4 -1.4 2.4 1.4zM663 208l-2.4 1.4 -2.4 -1.4 0 -2.8 2.4 -1.4 2.4 1.4zM669.7 208l-2.4 1.4 -2.4 -1.4 0 -2.8 2.4 -1.4 2.4 1.4zM676.4 205.4l-2.4 1.4 -2.4 -1.4 0 -2.8 2.4 -1.4 2.4 1.4zM683 203l-2.4 1.4 -2.4 -1.4 0 -2.8 2.4 -1.4 2.4 1.4z" fill="#F2F830"/><path d="M393.9 158 397.1 158.4 400.4 159 403.6 159.8 406.8 160.5 410 159 413.2 155.7 416.5 152.7 419.7 149.8 422.9 146.9 426.1 144.1 429.3 140.9 432.6 137.5 435.8 134.1 439 130.6 442.2 125.9 445.5 119.6 448.7 113.3 451.9 107.1 455.1 100 458.3 91.7 461.6 82.2 464.8 70.6 468 61.5 471.2 55.9 474.4 50.4 477.7 44 480.9 38.1 484.1 32.9 487.3 29 490.6 26.4 493.8 24.6 497 23.4 500.2 22.6 503.4 22 506.7 21.6 509.9 21.2 513.1 21 516.3 21 519.5 21 522.8 21 526 21 529.2 21.1 532.4 21.4 535.7 21.7 538.9 22 542.1 22.4 545.3 23.1 548.5 23.8 551.8 24.6 555 25.6 558.2 26.9 561.4 28.4 564.6 30 567.9 31.9 571.1 34.2 574.3 36.8 577.5 40 580.7 43.7 584 47.9 587.2 52.6 590.4 57.8 593.6 63.6 596.9 70.4 600.1 78.1 603.3 86.4 606.5 95.4 609.7 105 613 115.2 616.2 125.2 619.4 135.3 622.6 145.6 625.8 156 629.1 165.1 632.3 173.2 635.5 180.4 638.7 186.9 642 192.2 645.2 196.5 648.4 200.1 651.6 203.2 654.8 205.1 658.1 206.2 661.3 206.6 664.5 206.6 667.7 206.6 670.9 205.4 674.2 203.9 677.4 202.7 680.6 201.6" fill="none" stroke="#F2F830" stroke-width="0.9"/><path d="M397 151.4l-5.3 -2.9 0 5.8zM403.7 154l-5.3 -2.9 0 5.8zM410.3 155.1l-5.3 -2.9 0 5.8zM417 153.1l-5.3 -2.9 0 5.8zM423.7 147.9l-5.3 -2.9 0 5.8zM430.3 143.2l-5.3 -2.9 0 5.8zM437 136l-5.3 -2.9 0 5.8zM443.7 126l-5.3 -2.9 0 5.8zM450.3 112.8l-5.3 -2.9 0 5.8zM457 88.7l-5.3 -2.9 0 5.8zM463.7 70.5l-5.3 -2.9 0 5.8zM470.4 54.6l-5.3 -2.9 0 5.8zM477 42l-5.3 -2.9 0 5.8zM483.7 33.1l-5.3 -2.9 0 5.8zM490.4 27.3l-5.3 -2.9 0 5.8zM497 23.3l-5.3 -2.9 0 5.8zM503.7 21l-5.3 -2.9 0 5.8zM510.4 19.1l-5.3 -2.9 0 5.8zM517 18.6l-5.3 -2.9 0 5.8zM523.7 18.2l-5.3 -2.9 0 5.8zM530.4 18.2l-5.3 -2.9 0 5.8zM537 18.6l-5.3 -2.9 0 5.8zM543.7 19.1l-5.3 -2.9 0 5.8zM550.4 19.8l-5.3 -2.9 0 5.8zM557 20.7l-5.3 -2.9 0 5.8zM563.7 21.3l-5.3 -2.9 0 5.8zM570.4 22.7l-5.3 -2.9 0 5.8zM577 23.6l-5.3 -2.9 0 5.8zM583.7 24.7l-5.3 -2.9 0 5.8zM590.4 25.9l-5.3 -2.9 0 5.8zM597 27.4l-5.3 -2.9 0 5.8zM603.7 28.1l-5.3 -2.9 0 5.8zM610.4 30.1l-5.3 -2.9 0 5.8zM617 33.2l-5.3 -2.9 0 5.8zM623.7 36l-5.3 -2.9 0 5.8zM630.4 39.3l-5.3 -2.9 0 5.8zM637 43.8l-5.3 -2.9 0 5.8zM643.7 48.8l-5.3 -2.9 0 5.8zM650.4 54.8l-5.3 -2.9 0 5.8zM657 61.5l-5.3 -2.9 0 5.8zM663.7 73l-5.3 -2.9 0 5.8zM670.4 84.7l-5.3 -2.9 0 5.8zM677 100.4l-5.3 -2.9 0 5.8zM683.7 120.5l-5.3 -2.9 0 5.8z" fill="#2A8A22"/><path d="M393.9 151.4 397.1 152.9 400.4 153.9 403.6 154.7 406.8 155.1 410 154.6 413.2 153.4 416.5 151.4 419.7 148.6 422.9 146.3 426.1 144.1 429.3 141.2 432.6 137.6 435.8 133.6 439 128.8 442.2 122 445.5 112.1 448.7 102.8 451.9 94.1 455.1 85.4 458.3 76.5 461.6 68 464.8 60.1 468 53 471.2 46.7 474.4 41.2 477.7 36.6 480.9 32.8 484.1 29.8 487.3 27.3 490.6 25.1 493.8 23.4 497 22.1 500.2 21.1 503.4 20 506.7 19.2 509.9 18.9 513.1 18.7 516.3 18.4 519.5 18.2 522.8 18.2 526 18.2 529.2 18.3 532.4 18.5 535.7 18.7 538.9 19 542.1 19.2 545.3 19.6 548.5 20 551.8 20.4 555 20.8 558.2 21.1 561.4 21.4 564.6 22.1 567.9 22.8 571.1 23.2 574.3 23.7 577.5 24.2 580.7 24.7 584 25.3 587.2 25.9 590.4 26.6 593.6 27.3 596.9 27.7 600.1 28 603.3 28.7 606.5 29.8 609.7 31.2 613 32.8 616.2 34.1 619.4 35.5 622.6 36.9 625.8 38.5 629.1 40.4 632.3 42.6 635.5 44.9 638.7 47.3 642 49.9 645.2 52.8 648.4 55.8 651.6 58.9 654.8 62.8 658.1 68.3 661.3 74.1 664.5 79.6 667.7 85.6 670.9 92.8 674.2 101 677.4 110.2 680.6 120.5" fill="none" stroke="#2A8A22" stroke-width="0.9"/><path d="M413.9 160.7l2.8 2 -1.1 3.2 -3.4 0 -1.1 -3.2zM420.6 147.1l2.8 2 -1.1 3.2 -3.4 0 -1.1 -3.2zM427.2 137.4l2.8 2 -1.1 3.2 -3.4 0 -1.1 -3.2zM433.9 129.6l2.8 2 -1.1 3.2 -3.4 0 -1.1 -3.2zM440.6 118.5l2.8 2 -1.1 3.2 -3.4 0 -1.1 -3.2zM447.2 103.4l2.8 2 -1.1 3.2 -3.4 0 -1.1 -3.2zM453.9 85.4l2.8 2 -1.1 3.2 -3.4 0 -1.1 -3.2zM460.6 67.2l2.8 2 -1.1 3.2 -3.4 0 -1.1 -3.2zM467.3 51.3l2.8 2 -1.1 3.2 -3.4 0 -1.1 -3.2zM473.9 38.7l2.8 2 -1.1 3.2 -3.4 0 -1.1 -3.2zM480.6 29.8l2.8 2 -1.1 3.2 -3.4 0 -1.1 -3.2zM487.3 24l2.8 2 -1.1 3.2 -3.4 0 -1.1 -3.2zM493.9 20l2.8 2 -1.1 3.2 -3.4 0 -1.1 -3.2zM500.6 17.7l2.8 2 -1.1 3.2 -3.4 0 -1.1 -3.2zM507.3 15.8l2.8 2 -1.1 3.2 -3.4 0 -1.1 -3.2zM513.9 15.3l2.8 2 -1.1 3.2 -3.4 0 -1.1 -3.2zM520.6 14.9l2.8 2 -1.1 3.2 -3.4 0 -1.1 -3.2zM527.3 14.9l2.8 2 -1.1 3.2 -3.4 0 -1.1 -3.2zM533.9 15.3l2.8 2 -1.1 3.2 -3.4 0 -1.1 -3.2zM540.6 15.8l2.8 2 -1.1 3.2 -3.4 0 -1.1 -3.2zM547.3 16.5l2.8 2 -1.1 3.2 -3.4 0 -1.1 -3.2zM553.9 17.4l2.8 2 -1.1 3.2 -3.4 0 -1.1 -3.2zM560.6 18l2.8 2 -1.1 3.2 -3.4 0 -1.1 -3.2zM567.3 19.4l2.8 2 -1.1 3.2 -3.4 0 -1.1 -3.2zM573.9 20.3l2.8 2 -1.1 3.2 -3.4 0 -1.1 -3.2zM580.6 21.4l2.8 2 -1.1 3.2 -3.4 0 -1.1 -3.2zM587.3 22.6l2.8 2 -1.1 3.2 -3.4 0 -1.1 -3.2zM593.9 24.1l2.8 2 -1.1 3.2 -3.4 0 -1.1 -3.2zM600.6 24.8l2.8 2 -1.1 3.2 -3.4 0 -1.1 -3.2zM607.3 26.8l2.8 2 -1.1 3.2 -3.4 0 -1.1 -3.2zM613.9 29.9l2.8 2 -1.1 3.2 -3.4 0 -1.1 -3.2zM620.6 32.7l2.8 2 -1.1 3.2 -3.4 0 -1.1 -3.2zM627.3 36l2.8 2 -1.1 3.2 -3.4 0 -1.1 -3.2zM633.9 40.5l2.8 2 -1.1 3.2 -3.4 0 -1.1 -3.2zM640.6 45.5l2.8 2 -1.1 3.2 -3.4 0 -1.1 -3.2zM647.3 51.5l2.8 2 -1.1 3.2 -3.4 0 -1.1 -3.2zM653.9 58.2l2.8 2 -1.1 3.2 -3.4 0 -1.1 -3.2zM660.6 69.7l2.8 2 -1.1 3.2 -3.4 0 -1.1 -3.2zM667.3 81.4l2.8 2 -1.1 3.2 -3.4 0 -1.1 -3.2zM673.9 97.1l2.8 2 -1.1 3.2 -3.4 0 -1.1 -3.2zM680.6 117.2l2.8 2 -1.1 3.2 -3.4 0 -1.1 -3.2z" fill="#000000"/><path d="M413.4 163.6 416.4 161.9 419.4 160.3 422.4 158.9 425.4 157.6 428.4 154.8 431.4 148.6 434.4 142 437.4 135.1 440.4 127.1 443.4 116.7 446.4 106.6 449.4 98.8 452.4 91.9 455.4 84.2 458.4 75.9 461.4 68 464.4 60.6 467.4 53.8 470.4 47.7 473.5 42.4 476.5 37.8 479.5 34 482.5 30.8 485.5 28.2 488.5 26.1 491.5 24.2 494.5 22.7 497.5 21.6 500.5 20.6 503.5 19.6 506.5 18.8 509.5 18.5 512.5 18.3 515.5 18.1 518.5 17.9 521.5 17.8 524.5 17.8 527.5 17.8 530.5 17.9 533.5 18.2 536.5 18.4 539.5 18.6 542.5 18.9 545.5 19.2 548.5 19.6 551.5 20 554.5 20.4 557.5 20.6 560.5 20.9 563.5 21.5 566.5 22.2 569.5 22.6 572.5 23 575.5 23.4 578.5 23.9 581.5 24.5 584.5 25 587.6 25.6 590.6 26.3 593.6 26.9 596.6 27.3 599.6 27.6 602.6 28.1 605.6 29.1 608.6 30.2 611.6 31.7 614.6 33.1 617.6 34.3 620.6 35.6 623.6 37 626.6 38.5 629.6 40.3 632.6 42.4 635.6 44.6 638.6 46.8 641.6 49.2 644.6 51.9 647.6 54.7 650.6 57.5 653.6 60.7 656.6 65.2 659.6 70.8 662.6 76 665.6 81.1 668.6 87.1 671.6 94 674.6 101.8 677.6 110.5 680.6 120.1" fill="none" stroke="#000000" stroke-width="0.9"/></g><rect x="40.5" y="1.4" width="289.9" height="233.1" fill="none" stroke="#2b2b2b" stroke-width="1.1"/><path d="M40.5 234.5v4.8M52.37 234.5v2.5M59.32 234.5v2.5M64.25 234.5v2.5M68.07 234.5v2.5M71.19 234.5v2.5M73.83 234.5v2.5M76.12 234.5v2.5M78.14 234.5v2.5M79.94 234.5v4.8M91.82 234.5v2.5M98.76 234.5v2.5M103.69 234.5v2.5M107.51 234.5v2.5M110.63 234.5v2.5M113.27 234.5v2.5M115.56 234.5v2.5M117.58 234.5v2.5M119.38 234.5v4.8M131.26 234.5v2.5M138.2 234.5v2.5M143.13 234.5v2.5M146.95 234.5v2.5M150.08 234.5v2.5M152.72 234.5v2.5M155 234.5v2.5M157.02 234.5v2.5M158.83 234.5v4.8M170.7 234.5v2.5M177.65 234.5v2.5M182.57 234.5v2.5M186.4 234.5v2.5M189.52 234.5v2.5M192.16 234.5v2.5M194.45 234.5v2.5M196.46 234.5v2.5M198.27 234.5v4.8M210.14 234.5v2.5M217.09 234.5v2.5M222.02 234.5v2.5M225.84 234.5v2.5M228.96 234.5v2.5M231.6 234.5v2.5M233.89 234.5v2.5M235.91 234.5v2.5M237.71 234.5v4.8M249.58 234.5v2.5M256.53 234.5v2.5M261.46 234.5v2.5M265.28 234.5v2.5M268.4 234.5v2.5M271.04 234.5v2.5M273.33 234.5v2.5M275.35 234.5v2.5M277.15 234.5v4.8M289.03 234.5v2.5M295.97 234.5v2.5M300.9 234.5v2.5M304.72 234.5v2.5M307.85 234.5v2.5M310.49 234.5v2.5M312.77 234.5v2.5M314.79 234.5v2.5M316.6 234.5v4.8M328.47 234.5v2.5" stroke="#2b2b2b" stroke-width="1" fill="none"/><text x="30.97" y="251.5" font-family="Liberation Sans" font-size="10.6" font-weight="bold" text-anchor="start">10</text><rect x="42.86" y="244.4" width="3.45" height="0.8" fill="#555"/><text x="46.49" y="246.8" font-family="Liberation Sans" font-size="6.9" font-weight="bold" text-anchor="start">2</text><text x="70.42" y="251.5" font-family="Liberation Sans" font-size="10.6" font-weight="bold" text-anchor="start">10</text><rect x="82.3" y="244.4" width="3.45" height="0.8" fill="#555"/><text x="85.93" y="246.8" font-family="Liberation Sans" font-size="6.9" font-weight="bold" text-anchor="start">1</text><text x="111.87" y="251.5" font-family="Liberation Sans" font-size="10.6" font-weight="bold" text-anchor="start">10</text><text x="123.36" y="246.8" font-family="Liberation Sans" font-size="6.9" font-weight="bold" text-anchor="start">0</text><text x="151.31" y="251.5" font-family="Liberation Sans" font-size="10.6" font-weight="bold" text-anchor="start">10</text><text x="162.8" y="246.8" font-family="Liberation Sans" font-size="6.9" font-weight="bold" text-anchor="start">1</text><text x="190.76" y="251.5" font-family="Liberation Sans" font-size="10.6" font-weight="bold" text-anchor="start">10</text><text x="202.24" y="246.8" font-family="Liberation Sans" font-size="6.9" font-weight="bold" text-anchor="start">2</text><text x="230.2" y="251.5" font-family="Liberation Sans" font-size="10.6" font-weight="bold" text-anchor="start">10</text><text x="241.69" y="246.8" font-family="Liberation Sans" font-size="6.9" font-weight="bold" text-anchor="start">3</text><text x="269.64" y="251.5" font-family="Liberation Sans" font-size="10.6" font-weight="bold" text-anchor="start">10</text><text x="281.13" y="246.8" font-family="Liberation Sans" font-size="6.9" font-weight="bold" text-anchor="start">4</text><text x="309.08" y="251.5" font-family="Liberation Sans" font-size="10.6" font-weight="bold" text-anchor="start">10</text><text x="320.57" y="246.8" font-family="Liberation Sans" font-size="6.9" font-weight="bold" text-anchor="start">5</text><text x="185.95" y="268.9" font-family="Liberation Sans" font-size="12.2" font-weight="bold" text-anchor="middle">f (Hz)</text><path d="M40.5 234.5h-2.5M40.5 229.73h-2.5M40.5 226.34h-2.5M40.5 223.72h-2.5M40.5 221.57h-2.5M40.5 219.76h-2.5M40.5 218.19h-2.5M40.5 216.8h-2.5M40.5 215.56h-4.8M40.5 207.4h-2.5M40.5 202.63h-2.5M40.5 199.24h-2.5M40.5 196.62h-2.5M40.5 194.47h-2.5M40.5 192.66h-2.5M40.5 191.09h-2.5M40.5 189.7h-2.5M40.5 188.46h-4.8M40.5 180.3h-2.5M40.5 175.53h-2.5M40.5 172.15h-2.5M40.5 169.52h-2.5M40.5 167.37h-2.5M40.5 165.56h-2.5M40.5 163.99h-2.5M40.5 162.6h-2.5M40.5 161.36h-4.8M40.5 153.21h-2.5M40.5 148.43h-2.5M40.5 145.05h-2.5M40.5 142.42h-2.5M40.5 140.28h-2.5M40.5 138.46h-2.5M40.5 136.89h-2.5M40.5 135.5h-2.5M40.5 134.26h-4.8M40.5 126.11h-2.5M40.5 121.34h-2.5M40.5 117.95h-2.5M40.5 115.32h-2.5M40.5 113.18h-2.5M40.5 111.36h-2.5M40.5 109.79h-2.5M40.5 108.41h-2.5M40.5 107.17h-4.8M40.5 99.01h-2.5M40.5 94.24h-2.5M40.5 90.85h-2.5M40.5 88.23h-2.5M40.5 86.08h-2.5M40.5 84.27h-2.5M40.5 82.69h-2.5M40.5 81.31h-2.5M40.5 80.07h-4.8M40.5 71.91h-2.5M40.5 67.14h-2.5M40.5 63.75h-2.5M40.5 61.13h-2.5M40.5 58.98h-2.5M40.5 57.17h-2.5M40.5 55.6h-2.5M40.5 54.21h-2.5M40.5 52.97h-4.8M40.5 44.81h-2.5M40.5 40.04h-2.5M40.5 36.66h-2.5M40.5 34.03h-2.5M40.5 31.88h-2.5M40.5 30.07h-2.5M40.5 28.5h-2.5M40.5 27.11h-2.5M40.5 25.87h-4.8M40.5 17.71h-2.5M40.5 12.94h-2.5M40.5 9.56h-2.5M40.5 6.93h-2.5M40.5 4.79h-2.5M40.5 2.97h-2.5M40.5 1.4h-2.5" stroke="#2b2b2b" stroke-width="1" fill="none"/><text x="17.18" y="219.36" font-family="Liberation Sans" font-size="10.6" font-weight="bold" text-anchor="start">10</text><text x="28.66" y="214.66" font-family="Liberation Sans" font-size="6.9" font-weight="bold" text-anchor="start">1</text><text x="17.18" y="192.26" font-family="Liberation Sans" font-size="10.6" font-weight="bold" text-anchor="start">10</text><text x="28.66" y="187.56" font-family="Liberation Sans" font-size="6.9" font-weight="bold" text-anchor="start">2</text><text x="17.18" y="165.16" font-family="Liberation Sans" font-size="10.6" font-weight="bold" text-anchor="start">10</text><text x="28.66" y="160.46" font-family="Liberation Sans" font-size="6.9" font-weight="bold" text-anchor="start">3</text><text x="17.18" y="138.06" font-family="Liberation Sans" font-size="10.6" font-weight="bold" text-anchor="start">10</text><text x="28.66" y="133.36" font-family="Liberation Sans" font-size="6.9" font-weight="bold" text-anchor="start">4</text><text x="17.18" y="110.97" font-family="Liberation Sans" font-size="10.6" font-weight="bold" text-anchor="start">10</text><text x="28.66" y="106.27" font-family="Liberation Sans" font-size="6.9" font-weight="bold" text-anchor="start">5</text><text x="17.18" y="83.87" font-family="Liberation Sans" font-size="10.6" font-weight="bold" text-anchor="start">10</text><text x="28.66" y="79.17" font-family="Liberation Sans" font-size="6.9" font-weight="bold" text-anchor="start">6</text><text x="17.18" y="56.77" font-family="Liberation Sans" font-size="10.6" font-weight="bold" text-anchor="start">10</text><text x="28.66" y="52.07" font-family="Liberation Sans" font-size="6.9" font-weight="bold" text-anchor="start">7</text><text x="17.18" y="29.67" font-family="Liberation Sans" font-size="10.6" font-weight="bold" text-anchor="start">10</text><text x="28.66" y="24.97" font-family="Liberation Sans" font-size="6.9" font-weight="bold" text-anchor="start">8</text><text transform="translate(13.0 118.3) rotate(-90)" font-family="Liberation Sans" font-size="14.5" font-weight="bold" text-anchor="middle" textLength="57" lengthAdjust="spacingAndGlyphs">|Z| (&#937; cm<tspan font-size="9" dy="-5.5">2</tspan><tspan dy="5.5">)</tspan></text><rect x="277.13" y="9.53" width="4.14" height="4.14" fill="#D6A43E"/><text x="294.8" y="15.2" font-family="Liberation Sans" font-size="10.9" font-weight="normal" text-anchor="start" class="lg">1h</text><circle cx="279.2" cy="25.07" r="2.34" fill="#FF1010"/><text x="294.8" y="28.67" font-family="Liberation Sans" font-size="10.9" font-weight="normal" text-anchor="start" class="lg">2h</text><polygon points="279.2,35.75 281.81,40.52 276.59,40.52" fill="#10F010"/><text x="294.8" y="42.14" font-family="Liberation Sans" font-size="10.9" font-weight="normal" text-anchor="start" class="lg">3h</text><polygon points="279.2,54.8 281.81,50.03 276.59,50.03" fill="#1010FF"/><text x="294.8" y="55.61" font-family="Liberation Sans" font-size="10.9" font-weight="normal" text-anchor="start" class="lg">4h</text><polygon points="279.2,62.69 281.72,65.48 279.2,68.27 276.68,65.48" fill="#50F0F8"/><text x="294.8" y="69.08" font-family="Liberation Sans" font-size="10.9" font-weight="normal" text-anchor="start" class="lg">24h</text><polygon points="276.41,78.95 281.18,76.34 281.18,81.56" fill="#FF20F0"/><text x="294.8" y="82.55" font-family="Liberation Sans" font-size="10.9" font-weight="normal" text-anchor="start" class="lg">48h</text><polygon points="281.38,93.68 279.2,94.94 277.02,93.68 277.02,91.16 279.2,89.9 281.38,91.16" fill="#F2F830"/><text x="294.8" y="96.02" font-family="Liberation Sans" font-size="10.9" font-weight="normal" text-anchor="start" class="lg">72h</text><polygon points="281.99,105.89 277.22,103.28 277.22,108.5" fill="#2A8A22"/><text x="294.8" y="109.49" font-family="Liberation Sans" font-size="10.9" font-weight="normal" text-anchor="start" class="lg">96h</text><polygon points="279.2,116.75 281.68,118.55 280.73,121.47 277.67,121.47 276.72,118.55" fill="#000000"/><text x="294.8" y="122.96" font-family="Liberation Sans" font-size="10.9" font-weight="normal" text-anchor="start" class="lg">120h</text><path d="M267.3 133.33H291.8" stroke="#666" stroke-width="1.2"/><text x="294.8" y="136.73" font-family="Liberation Sans" font-size="10.9" font-weight="normal" text-anchor="start" class="lg">fittings</text><rect x="393.2" y="2.2" width="289.5" height="232.5" fill="none" stroke="#2b2b2b" stroke-width="1.1"/><path d="M393.2 234.7v4.8M405.06 234.7v2.5M411.99 234.7v2.5M416.91 234.7v2.5M420.73 234.7v2.5M423.85 234.7v2.5M426.49 234.7v2.5M428.77 234.7v2.5M430.79 234.7v2.5M432.59 234.7v4.8M444.44 234.7v2.5M451.38 234.7v2.5M456.3 234.7v2.5M460.12 234.7v2.5M463.24 234.7v2.5M465.87 234.7v2.5M468.16 234.7v2.5M470.17 234.7v2.5M471.98 234.7v4.8M483.83 234.7v2.5M490.77 234.7v2.5M495.69 234.7v2.5M499.51 234.7v2.5M502.63 234.7v2.5M505.26 234.7v2.5M507.55 234.7v2.5M509.56 234.7v2.5M511.36 234.7v4.8M523.22 234.7v2.5M530.16 234.7v2.5M535.08 234.7v2.5M538.89 234.7v2.5M542.01 234.7v2.5M544.65 234.7v2.5M546.93 234.7v2.5M548.95 234.7v2.5M550.75 234.7v4.8M562.61 234.7v2.5M569.54 234.7v2.5M574.46 234.7v2.5M578.28 234.7v2.5M581.4 234.7v2.5M584.04 234.7v2.5M586.32 234.7v2.5M588.34 234.7v2.5M590.14 234.7v4.8M602 234.7v2.5M608.93 234.7v2.5M613.85 234.7v2.5M617.67 234.7v2.5M620.79 234.7v2.5M623.43 234.7v2.5M625.71 234.7v2.5M627.72 234.7v2.5M629.53 234.7v4.8M641.38 234.7v2.5M648.32 234.7v2.5M653.24 234.7v2.5M657.06 234.7v2.5M660.18 234.7v2.5M662.81 234.7v2.5M665.1 234.7v2.5M667.11 234.7v2.5M668.91 234.7v4.8M680.77 234.7v2.5" stroke="#2b2b2b" stroke-width="1" fill="none"/><text x="383.67" y="251.7" font-family="Liberation Sans" font-size="10.6" font-weight="bold" text-anchor="start">10</text><rect x="395.56" y="244.6" width="3.45" height="0.8" fill="#555"/><text x="399.19" y="247" font-family="Liberation Sans" font-size="6.9" font-weight="bold" text-anchor="start">2</text><text x="423.06" y="251.7" font-family="Liberation Sans" font-size="10.6" font-weight="bold" text-anchor="start">10</text><rect x="434.95" y="244.6" width="3.45" height="0.8" fill="#555"/><text x="438.58" y="247" font-family="Liberation Sans" font-size="6.9" font-weight="bold" text-anchor="start">1</text><text x="464.46" y="251.7" font-family="Liberation Sans" font-size="10.6" font-weight="bold" text-anchor="start">10</text><text x="475.95" y="247" font-family="Liberation Sans" font-size="6.9" font-weight="bold" text-anchor="start">0</text><text x="503.85" y="251.7" font-family="Liberation Sans" font-size="10.6" font-weight="bold" text-anchor="start">10</text><text x="515.34" y="247" font-family="Liberation Sans" font-size="6.9" font-weight="bold" text-anchor="start">1</text><text x="543.24" y="251.7" font-family="Liberation Sans" font-size="10.6" font-weight="bold" text-anchor="start">10</text><text x="554.73" y="247" font-family="Liberation Sans" font-size="6.9" font-weight="bold" text-anchor="start">2</text><text x="582.63" y="251.7" font-family="Liberation Sans" font-size="10.6" font-weight="bold" text-anchor="start">10</text><text x="594.11" y="247" font-family="Liberation Sans" font-size="6.9" font-weight="bold" text-anchor="start">3</text><text x="622.01" y="251.7" font-family="Liberation Sans" font-size="10.6" font-weight="bold" text-anchor="start">10</text><text x="633.5" y="247" font-family="Liberation Sans" font-size="6.9" font-weight="bold" text-anchor="start">4</text><text x="661.4" y="251.7" font-family="Liberation Sans" font-size="10.6" font-weight="bold" text-anchor="start">10</text><text x="672.89" y="247" font-family="Liberation Sans" font-size="6.9" font-weight="bold" text-anchor="start">5</text><text x="538.45" y="269.1" font-family="Liberation Sans" font-size="12.2" font-weight="bold" text-anchor="middle">f (Hz)</text><path d="M393.2 234.7h-4.8M393.2 208.87h-2.5M393.2 183.03h-4.8M393.2 157.2h-2.5M393.2 131.37h-4.8M393.2 105.53h-2.5M393.2 79.7h-4.8M393.2 53.87h-2.5M393.2 28.03h-4.8M393.2 2.2h-2.5" stroke="#2b2b2b" stroke-width="1" fill="none"/><text x="385.9" y="238.5" font-family="Liberation Sans" font-size="11" font-weight="bold" text-anchor="end">0</text><text x="385.9" y="186.83" font-family="Liberation Sans" font-size="11" font-weight="bold" text-anchor="end">20</text><rect x="368.4" y="182.93" width="5.3" height="0.9" fill="#444"/><text x="385.9" y="135.17" font-family="Liberation Sans" font-size="11" font-weight="bold" text-anchor="end">40</text><rect x="368.4" y="131.27" width="5.3" height="0.9" fill="#444"/><text x="385.9" y="83.5" font-family="Liberation Sans" font-size="11" font-weight="bold" text-anchor="end">60</text><rect x="368.4" y="79.6" width="5.3" height="0.9" fill="#444"/><text x="385.9" y="31.83" font-family="Liberation Sans" font-size="11" font-weight="bold" text-anchor="end">80</text><rect x="368.4" y="27.93" width="5.3" height="0.9" fill="#444"/><text transform="translate(363.6 118.95) rotate(-90)" font-family="Liberation Sans" font-size="12.6" font-weight="bold" text-anchor="middle" textLength="116.5" lengthAdjust="spacingAndGlyphs">Phase angle (Degree)</text><text x="77.1" y="26" font-family="Liberation Sans" font-size="23.5" font-weight="normal" text-anchor="start" stroke="#000" stroke-width="0.3">(a)</text><text x="144.6" y="25.8" font-family="Liberation Serif" font-size="23.4" font-weight="normal" text-anchor="start" stroke="#000" stroke-width="0.35">PEO</text><text x="401.5" y="26.5" font-family="Liberation Sans" font-size="23.5" font-weight="normal" text-anchor="start" stroke="#000" stroke-width="0.3">(b)</text><clipPath id="cl1"><rect x="40.5" y="276.4" width="289.9" height="233"/></clipPath><clipPath id="cr1"><rect x="393.2" y="276" width="289.5" height="232.4"/></clipPath><g clip-path="url(#cl1)"><path d="M41.2 316.6h0M47.9 320.5h0M54.6 324h0M61.2 327.5h0M67.9 331h0M74.6 334h0M81.3 337.7h0M87.9 341h0M94.6 343.9h0M101.3 345h0M108 345.8h0M114.7 345.8h0M121.3 346.2h0M128 348.5h0M134.7 352h0M141.4 356h0M148 358.4h0M154.7 362.3h0M161.4 365.7h0M168.1 370.1h0M174.7 374.5h0M181.4 378.3h0M188.1 382.7h0M194.8 386.7h0M201.5 390.6h0M208.1 394.9h0M214.8 398.6h0M221.5 402.3h0M228.2 406.7h0M234.8 410.6h0M241.5 415h0M248.2 419.4h0M254.9 423.3h0M261.5 427.1h0M268.2 431h0M274.9 434.7h0M281.6 438.7h0M288.2 442.3h0M294.9 446h0M301.6 450h0M308.3 454.3h0M315 457.6h0M321.6 460.9h0M328.3 464.6h0" stroke="#D6A43E" stroke-width="4.6" stroke-linecap="square"/><path d="M41.2 316.6 44.4 318.5 47.7 320.4 50.9 322.1 54.1 323.8 57.3 325.5 60.6 327.1 63.8 328.9 67 330.6 70.2 332.1 73.5 333.5 76.7 335.1 79.9 337 83.1 338.7 86.4 340.3 89.6 341.8 92.8 343.3 96 344.2 99.3 344.7 102.5 345.2 105.7 345.7 109 345.8 112.2 345.8 115.4 345.8 118.6 346 121.9 346.3 125.1 347.3 128.3 348.6 131.5 350.2 134.8 352 138 354.1 141.2 355.9 144.4 357.1 147.7 358.2 150.9 360 154.1 362 157.3 363.6 160.6 365.2 163.8 367.2 167 369.4 170.2 371.5 173.5 373.7 176.7 375.6 179.9 377.4 183.1 379.4 186.4 381.5 189.6 383.6 192.8 385.5 196.1 387.4 199.3 389.3 202.5 391.2 205.7 393.4 209 395.4 212.2 397.2 215.4 399 218.6 400.7 221.9 402.6 225.1 404.7 228.3 406.8 231.5 408.7 234.8 410.6 238 412.7 241.2 414.8 244.4 417 247.7 419.1 250.9 421 254.1 422.9 257.3 424.7 260.6 426.5 263.8 428.4 267 430.3 270.2 432.1 273.5 433.9 276.7 435.7 279.9 437.7 283.1 439.5 286.4 441.3 289.6 443.1 292.8 444.9 296.1 446.7 299.3 448.6 302.5 450.6 305.7 452.7 309 454.7 312.2 456.3 315.4 457.8 318.6 459.4 321.9 461 325.1 462.8 328.3 464.6" fill="none" stroke="#D6A43E" stroke-width="0.9"/><path d="M41.2 322h0M47.9 323.9h0M54.6 325h0M61.2 327.5h0M67.9 330h0M74.6 332h0M81.3 333.5h0M87.9 334.3h0M94.6 335.7h0M101.3 336.8h0M108 338.4h0M114.7 340.3h0M121.3 343.1h0M128 346.5h0M134.7 350h0M141.4 354.2h0M148 357.6h0M154.7 361.6h0M161.4 365.5h0M168.1 369.9h0M174.7 374.3h0M181.4 378.1h0M188.1 382.5h0M194.8 386.5h0M201.5 390.3h0M208.1 394.7h0M214.8 398.4h0M221.5 402.1h0M228.2 406.5h0M234.8 410.4h0M241.5 414.8h0M248.2 419.2h0M254.9 423.1h0M261.5 426.9h0M268.2 430.8h0M274.9 434.5h0M281.6 438.5h0M288.2 442.1h0M294.9 445.8h0M301.6 449.8h0M308.3 454.1h0M315 457.4h0M321.6 460.7h0M328.3 464.4h0" stroke="#FF1010" stroke-width="5.6" stroke-linecap="round"/><path d="M41.2 322 44.4 323 47.7 323.8 50.9 324.4 54.1 324.9 57.3 325.9 60.6 327.2 63.8 328.5 67 329.7 70.2 330.8 73.5 331.7 76.7 332.5 79.9 333.3 83.1 333.8 86.4 334.1 89.6 334.6 92.8 335.3 96 335.9 99.3 336.5 102.5 337.1 105.7 337.8 109 338.6 112.2 339.5 115.4 340.6 118.6 341.9 121.9 343.3 125.1 345 128.3 346.7 131.5 348.3 134.8 350 138 352.1 141.2 354.1 144.4 355.8 147.7 357.5 150.9 359.3 154.1 361.2 157.3 363.1 160.6 365 163.8 367 167 369.2 170.2 371.3 173.5 373.5 176.7 375.4 179.9 377.2 183.1 379.2 186.4 381.3 189.6 383.4 192.8 385.3 196.1 387.2 199.3 389 202.5 391 205.7 393.2 209 395.2 212.2 397 215.4 398.8 218.6 400.5 221.9 402.4 225.1 404.5 228.3 406.6 231.5 408.5 234.8 410.4 238 412.4 241.2 414.6 244.4 416.8 247.7 418.9 250.9 420.8 254.1 422.7 257.3 424.5 260.6 426.3 263.8 428.2 267 430.1 270.2 431.9 273.5 433.7 276.7 435.5 279.9 437.5 283.1 439.3 286.4 441.1 289.6 442.9 292.8 444.7 296.1 446.5 299.3 448.4 302.5 450.4 305.7 452.5 309 454.5 312.2 456.1 315.4 457.6 318.6 459.2 321.9 460.8 325.1 462.6 328.3 464.4" fill="none" stroke="#FF1010" stroke-width="0.9"/><path d="M41.2 313.9l2.9 5.3 -5.8 0zM47.9 315.9l2.9 5.3 -5.8 0zM54.6 318.9l2.9 5.3 -5.8 0zM61.2 321.5l2.9 5.3 -5.8 0zM67.9 324.7l2.9 5.3 -5.8 0zM74.6 327.3l2.9 5.3 -5.8 0zM81.3 329.4l2.9 5.3 -5.8 0zM87.9 331.4l2.9 5.3 -5.8 0zM94.6 333.4l2.9 5.3 -5.8 0zM101.3 333.9l2.9 5.3 -5.8 0zM108 335.3l2.9 5.3 -5.8 0zM114.7 337.2l2.9 5.3 -5.8 0zM121.3 339.8l2.9 5.3 -5.8 0zM128 343.1l2.9 5.3 -5.8 0zM134.7 346.5l2.9 5.3 -5.8 0zM141.4 350.6l2.9 5.3 -5.8 0zM148 353.9l2.9 5.3 -5.8 0zM154.7 357.7l2.9 5.3 -5.8 0zM161.4 361.5l2.9 5.3 -5.8 0zM168.1 365.8l2.9 5.3 -5.8 0zM174.7 370.2l2.9 5.3 -5.8 0zM181.4 373.9l2.9 5.3 -5.8 0zM188.1 378.2l2.9 5.3 -5.8 0zM194.8 382.2l2.9 5.3 -5.8 0zM201.5 386.1l2.9 5.3 -5.8 0zM208.1 390.5l2.9 5.3 -5.8 0zM214.8 394.2l2.9 5.3 -5.8 0zM221.5 397.9l2.9 5.3 -5.8 0zM228.2 402.3l2.9 5.3 -5.8 0zM234.8 406.2l2.9 5.3 -5.8 0zM241.5 410.6l2.9 5.3 -5.8 0zM248.2 415l2.9 5.3 -5.8 0zM254.9 418.9l2.9 5.3 -5.8 0zM261.5 422.7l2.9 5.3 -5.8 0zM268.2 426.6l2.9 5.3 -5.8 0zM274.9 430.3l2.9 5.3 -5.8 0zM281.6 434.3l2.9 5.3 -5.8 0zM288.2 438l2.9 5.3 -5.8 0zM294.9 441.7l2.9 5.3 -5.8 0zM301.6 445.7l2.9 5.3 -5.8 0zM308.3 450l2.9 5.3 -5.8 0zM315 453.3l2.9 5.3 -5.8 0zM321.6 456.6l2.9 5.3 -5.8 0zM328.3 460.3l2.9 5.3 -5.8 0z" fill="#10F010"/><path d="M41.2 317 44.4 317.9 47.7 318.9 50.9 320.3 54.1 321.8 57.3 323.1 60.6 324.3 63.8 325.8 67 327.4 70.2 328.8 73.5 330 76.7 331.1 79.9 332.1 83.1 333.1 86.4 334 89.6 335.1 92.8 336.1 96 336.6 99.3 336.8 102.5 337.2 105.7 337.9 109 338.7 112.2 339.5 115.4 340.5 118.6 341.7 121.9 343.1 125.1 344.7 128.3 346.4 131.5 347.9 134.8 349.6 138 351.6 141.2 353.6 144.4 355.2 147.7 356.8 150.9 358.6 154.1 360.5 157.3 362.3 160.6 364.1 163.8 366.1 167 368.3 170.2 370.4 173.5 372.5 176.7 374.4 179.9 376.1 183.1 378.1 186.4 380.2 189.6 382.2 192.8 384.1 196.1 386 199.3 387.9 202.5 389.9 205.7 392.1 209 394.1 212.2 395.9 215.4 397.6 218.6 399.4 221.9 401.2 225.1 403.4 228.3 405.5 231.5 407.4 234.8 409.3 238 411.3 241.2 413.5 244.4 415.7 247.7 417.8 250.9 419.7 254.1 421.6 257.3 423.4 260.6 425.2 263.8 427.1 267 429 270.2 430.8 273.5 432.6 276.7 434.5 279.9 436.4 283.1 438.3 286.4 440.1 289.6 441.8 292.8 443.6 296.1 445.5 299.3 447.4 302.5 449.4 305.7 451.5 309 453.5 312.2 455.1 315.4 456.6 318.6 458.2 321.9 459.8 325.1 461.6 328.3 463.4" fill="none" stroke="#10F010" stroke-width="0.9"/><path d="M41.2 330.1l2.9 -5.3 -5.8 0zM47.9 332.1l2.9 -5.3 -5.8 0zM54.6 333.6l2.9 -5.3 -5.8 0zM61.2 335.6l2.9 -5.3 -5.8 0zM67.9 337.6l2.9 -5.3 -5.8 0zM74.6 339.6l2.9 -5.3 -5.8 0zM81.3 341.1l2.9 -5.3 -5.8 0zM87.9 343l2.9 -5.3 -5.8 0zM94.6 345.2l2.9 -5.3 -5.8 0zM101.3 346.4l2.9 -5.3 -5.8 0zM108 346.6l2.9 -5.3 -5.8 0zM114.7 346.6l2.9 -5.3 -5.8 0zM121.3 348.1l2.9 -5.3 -5.8 0zM128 351.1l2.9 -5.3 -5.8 0zM134.7 354.6l2.9 -5.3 -5.8 0zM141.4 357.4l2.9 -5.3 -5.8 0zM148 360.8l2.9 -5.3 -5.8 0zM154.7 364.6l2.9 -5.3 -5.8 0zM161.4 368.4l2.9 -5.3 -5.8 0zM168.1 372.8l2.9 -5.3 -5.8 0zM174.7 377.1l2.9 -5.3 -5.8 0zM181.4 380.9l2.9 -5.3 -5.8 0zM188.1 385.2l2.9 -5.3 -5.8 0zM194.8 389.2l2.9 -5.3 -5.8 0zM201.5 393.1l2.9 -5.3 -5.8 0zM208.1 397.5l2.9 -5.3 -5.8 0zM214.8 401.2l2.9 -5.3 -5.8 0zM221.5 404.9l2.9 -5.3 -5.8 0zM228.2 409.3l2.9 -5.3 -5.8 0zM234.8 413.2l2.9 -5.3 -5.8 0zM241.5 417.6l2.9 -5.3 -5.8 0zM248.2 422l2.9 -5.3 -5.8 0zM254.9 425.9l2.9 -5.3 -5.8 0zM261.5 429.7l2.9 -5.3 -5.8 0zM268.2 433.6l2.9 -5.3 -5.8 0zM274.9 437.3l2.9 -5.3 -5.8 0zM281.6 441.3l2.9 -5.3 -5.8 0zM288.2 445l2.9 -5.3 -5.8 0zM294.9 448.7l2.9 -5.3 -5.8 0zM301.6 452.7l2.9 -5.3 -5.8 0zM308.3 457l2.9 -5.3 -5.8 0zM315 460.3l2.9 -5.3 -5.8 0zM321.6 463.6l2.9 -5.3 -5.8 0zM328.3 467.3l2.9 -5.3 -5.8 0z" fill="#1010FF"/><path d="M41.2 327 44.4 328 47.7 328.9 50.9 329.7 54.1 330.4 57.3 331.3 60.6 332.3 63.8 333.3 67 334.2 70.2 335.2 73.5 336.2 76.7 337 79.9 337.7 83.1 338.5 86.4 339.4 89.6 340.5 92.8 341.6 96 342.4 99.3 343.1 102.5 343.4 105.7 343.5 109 343.5 112.2 343.5 115.4 343.6 118.6 344.2 121.9 345.2 125.1 346.5 128.3 348.2 131.5 349.9 134.8 351.5 138 352.9 141.2 354.2 144.4 355.8 147.7 357.5 150.9 359.3 154.1 361.2 157.3 363 160.6 364.8 163.8 366.9 167 369 170.2 371.1 173.5 373.2 176.7 375.1 179.9 376.9 183.1 378.8 186.4 381 189.6 383 192.8 384.9 196.1 386.8 199.3 388.7 202.5 390.7 205.7 392.9 209 394.9 212.2 396.7 215.4 398.4 218.6 400.2 221.9 402 225.1 404.2 228.3 406.3 231.5 408.2 234.8 410.1 238 412.1 241.2 414.3 244.4 416.5 247.7 418.6 250.9 420.5 254.1 422.4 257.3 424.2 260.6 426 263.8 427.9 267 429.8 270.2 431.6 273.5 433.4 276.7 435.3 279.9 437.2 283.1 439.1 286.4 440.9 289.6 442.6 292.8 444.4 296.1 446.3 299.3 448.2 302.5 450.2 305.7 452.3 309 454.3 312.2 455.9 315.4 457.4 318.6 459 321.9 460.6 325.1 462.4 328.3 464.2" fill="none" stroke="#1010FF" stroke-width="0.9"/><path d="M41.2 322.4l2.8 3.1 -2.8 3.1 -2.8 -3.1zM47.9 324.4l2.8 3.1 -2.8 3.1 -2.8 -3.1zM54.6 325.4l2.8 3.1 -2.8 3.1 -2.8 -3.1zM61.2 326.9l2.8 3.1 -2.8 3.1 -2.8 -3.1zM67.9 328.4l2.8 3.1 -2.8 3.1 -2.8 -3.1zM74.6 329.9l2.8 3.1 -2.8 3.1 -2.8 -3.1zM81.3 331.4l2.8 3.1 -2.8 3.1 -2.8 -3.1zM87.9 333.4l2.8 3.1 -2.8 3.1 -2.8 -3.1zM94.6 335.9l2.8 3.1 -2.8 3.1 -2.8 -3.1zM101.3 337.4l2.8 3.1 -2.8 3.1 -2.8 -3.1zM108 337.9l2.8 3.1 -2.8 3.1 -2.8 -3.1zM114.7 338.1l2.8 3.1 -2.8 3.1 -2.8 -3.1zM121.3 339.9l2.8 3.1 -2.8 3.1 -2.8 -3.1zM128 343.4l2.8 3.1 -2.8 3.1 -2.8 -3.1zM134.7 347.4l2.8 3.1 -2.8 3.1 -2.8 -3.1zM141.4 352.8l2.8 3.1 -2.8 3.1 -2.8 -3.1zM148 356.6l2.8 3.1 -2.8 3.1 -2.8 -3.1zM154.7 360.8l2.8 3.1 -2.8 3.1 -2.8 -3.1zM161.4 364.6l2.8 3.1 -2.8 3.1 -2.8 -3.1zM168.1 369l2.8 3.1 -2.8 3.1 -2.8 -3.1zM174.7 373.4l2.8 3.1 -2.8 3.1 -2.8 -3.1zM181.4 377.2l2.8 3.1 -2.8 3.1 -2.8 -3.1zM188.1 381.6l2.8 3.1 -2.8 3.1 -2.8 -3.1zM194.8 385.6l2.8 3.1 -2.8 3.1 -2.8 -3.1zM201.5 389.5l2.8 3.1 -2.8 3.1 -2.8 -3.1zM208.1 393.9l2.8 3.1 -2.8 3.1 -2.8 -3.1zM214.8 397.6l2.8 3.1 -2.8 3.1 -2.8 -3.1zM221.5 401.3l2.8 3.1 -2.8 3.1 -2.8 -3.1zM228.2 405.7l2.8 3.1 -2.8 3.1 -2.8 -3.1zM234.8 409.6l2.8 3.1 -2.8 3.1 -2.8 -3.1zM241.5 414l2.8 3.1 -2.8 3.1 -2.8 -3.1zM248.2 418.4l2.8 3.1 -2.8 3.1 -2.8 -3.1zM254.9 422.3l2.8 3.1 -2.8 3.1 -2.8 -3.1zM261.5 426.1l2.8 3.1 -2.8 3.1 -2.8 -3.1zM268.2 430l2.8 3.1 -2.8 3.1 -2.8 -3.1zM274.9 433.7l2.8 3.1 -2.8 3.1 -2.8 -3.1zM281.6 437.7l2.8 3.1 -2.8 3.1 -2.8 -3.1zM288.2 441.4l2.8 3.1 -2.8 3.1 -2.8 -3.1zM294.9 445.1l2.8 3.1 -2.8 3.1 -2.8 -3.1zM301.6 449.1l2.8 3.1 -2.8 3.1 -2.8 -3.1zM308.3 453.4l2.8 3.1 -2.8 3.1 -2.8 -3.1zM315 456.7l2.8 3.1 -2.8 3.1 -2.8 -3.1zM321.6 460l2.8 3.1 -2.8 3.1 -2.8 -3.1zM328.3 463.7l2.8 3.1 -2.8 3.1 -2.8 -3.1z" fill="#50F0F8"/><path d="M41.2 325.5 44.4 326.6 47.7 327.4 50.9 328 54.1 328.4 57.3 329.1 60.6 329.8 63.8 330.6 67 331.3 70.2 332 73.5 332.7 76.7 333.5 79.9 334.2 83.1 335 86.4 336 89.6 337.1 92.8 338.4 96 339.4 99.3 340.2 102.5 340.6 105.7 340.9 109 341 112.2 341.1 115.4 341.3 118.6 342.1 121.9 343.2 125.1 344.8 128.3 346.7 131.5 348.5 134.8 350.6 138 353.2 141.2 355.8 144.4 357.7 147.7 359.5 150.9 361.5 154.1 363.6 157.3 365.4 160.6 367.2 163.8 369.2 167 371.4 170.2 373.6 173.5 375.7 176.7 377.6 179.9 379.4 183.1 381.4 186.4 383.6 189.6 385.6 192.8 387.6 196.1 389.4 199.3 391.3 202.5 393.3 205.7 395.5 209 397.5 212.2 399.3 215.4 401 218.6 402.8 221.9 404.6 225.1 406.8 228.3 408.9 231.5 410.8 234.8 412.7 238 414.7 241.2 416.9 244.4 419.1 247.7 421.2 250.9 423.1 254.1 425 257.3 426.8 260.6 428.6 263.8 430.5 267 432.4 270.2 434.2 273.5 436 276.7 437.9 279.9 439.8 283.1 441.7 286.4 443.5 289.6 445.2 292.8 447 296.1 448.9 299.3 450.8 302.5 452.8 305.7 454.9 309 456.9 312.2 458.5 315.4 460 318.6 461.6 321.9 463.2 325.1 465 328.3 466.8" fill="none" stroke="#50F0F8" stroke-width="0.9"/><path d="M38.1 326.8l5.3 -2.9 0 5.8zM44.8 327.9l5.3 -2.9 0 5.8zM51.5 329.3l5.3 -2.9 0 5.8zM58.1 330.2l5.3 -2.9 0 5.8zM64.8 331.5l5.3 -2.9 0 5.8zM71.5 332.6l5.3 -2.9 0 5.8zM78.2 333.7l5.3 -2.9 0 5.8zM84.8 334.8l5.3 -2.9 0 5.8zM91.5 336.4l5.3 -2.9 0 5.8zM98.2 337.8l5.3 -2.9 0 5.8zM104.9 339.5l5.3 -2.9 0 5.8zM111.6 341.7l5.3 -2.9 0 5.8zM118.2 344.7l5.3 -2.9 0 5.8zM124.9 348.2l5.3 -2.9 0 5.8zM131.6 351.7l5.3 -2.9 0 5.8zM138.3 356.1l5.3 -2.9 0 5.8zM144.9 359.8l5.3 -2.9 0 5.8zM151.6 364l5.3 -2.9 0 5.8zM158.3 367.7l5.3 -2.9 0 5.8zM165 372.1l5.3 -2.9 0 5.8zM171.6 376.5l5.3 -2.9 0 5.8zM178.3 380.3l5.3 -2.9 0 5.8zM185 384.7l5.3 -2.9 0 5.8zM191.7 388.7l5.3 -2.9 0 5.8zM198.4 392.6l5.3 -2.9 0 5.8zM205 397l5.3 -2.9 0 5.8zM211.7 400.7l5.3 -2.9 0 5.8zM218.4 404.4l5.3 -2.9 0 5.8zM225.1 408.8l5.3 -2.9 0 5.8zM231.7 412.7l5.3 -2.9 0 5.8zM238.4 417.1l5.3 -2.9 0 5.8zM245.1 421.5l5.3 -2.9 0 5.8zM251.8 425.4l5.3 -2.9 0 5.8zM258.4 429.2l5.3 -2.9 0 5.8zM265.1 433.1l5.3 -2.9 0 5.8zM271.8 436.8l5.3 -2.9 0 5.8zM278.5 440.8l5.3 -2.9 0 5.8zM285.1 444.5l5.3 -2.9 0 5.8zM291.8 448.2l5.3 -2.9 0 5.8zM298.5 452.2l5.3 -2.9 0 5.8zM305.2 456.5l5.3 -2.9 0 5.8zM311.9 459.8l5.3 -2.9 0 5.8zM318.5 463.1l5.3 -2.9 0 5.8zM325.2 466.8l5.3 -2.9 0 5.8z" fill="#FF20F0"/><path d="M41.2 326.8 44.4 327.3 47.7 327.8 50.9 328.5 54.1 329.2 57.3 329.7 60.6 330.1 63.8 330.7 67 331.4 70.2 331.9 73.5 332.4 76.7 333 79.9 333.5 83.1 334 86.4 334.5 89.6 335.1 92.8 335.9 96 336.7 99.3 337.3 102.5 338 105.7 338.9 109 339.8 112.2 340.8 115.4 342 118.6 343.4 121.9 345 125.1 346.6 128.3 348.4 131.5 350 134.8 351.8 138 353.9 141.2 356 144.4 357.8 147.7 359.6 150.9 361.6 154.1 363.6 157.3 365.4 160.6 367.2 163.8 369.2 167 371.4 170.2 373.6 173.5 375.7 176.7 377.6 179.9 379.4 183.1 381.4 186.4 383.6 189.6 385.6 192.8 387.6 196.1 389.4 199.3 391.3 202.5 393.3 205.7 395.5 209 397.5 212.2 399.3 215.4 401 218.6 402.8 221.9 404.6 225.1 406.8 228.3 408.9 231.5 410.8 234.8 412.7 238 414.7 241.2 416.9 244.4 419.1 247.7 421.2 250.9 423.1 254.1 425 257.3 426.8 260.6 428.6 263.8 430.5 267 432.4 270.2 434.2 273.5 436 276.7 437.9 279.9 439.8 283.1 441.7 286.4 443.5 289.6 445.2 292.8 447 296.1 448.9 299.3 450.8 302.5 452.8 305.7 454.9 309 456.9 312.2 458.5 315.4 460 318.6 461.6 321.9 463.2 325.1 465 328.3 466.8" fill="none" stroke="#FF20F0" stroke-width="0.9"/><path d="M43.6 327.6l-2.4 1.4 -2.4 -1.4 0 -2.8 2.4 -1.4 2.4 1.4zM50.3 328.7l-2.4 1.4 -2.4 -1.4 0 -2.8 2.4 -1.4 2.4 1.4zM57 330.1l-2.4 1.4 -2.4 -1.4 0 -2.8 2.4 -1.4 2.4 1.4zM63.7 331.2l-2.4 1.4 -2.4 -1.4 0 -2.8 2.4 -1.4 2.4 1.4zM70.3 332.5l-2.4 1.4 -2.4 -1.4 0 -2.8 2.4 -1.4 2.4 1.4zM77 333.6l-2.4 1.4 -2.4 -1.4 0 -2.8 2.4 -1.4 2.4 1.4zM83.7 334.8l-2.4 1.4 -2.4 -1.4 0 -2.8 2.4 -1.4 2.4 1.4zM90.4 335.9l-2.4 1.4 -2.4 -1.4 0 -2.8 2.4 -1.4 2.4 1.4zM97 337.5l-2.4 1.4 -2.4 -1.4 0 -2.8 2.4 -1.4 2.4 1.4zM103.7 338.9l-2.4 1.4 -2.4 -1.4 0 -2.8 2.4 -1.4 2.4 1.4zM110.4 340.7l-2.4 1.4 -2.4 -1.4 0 -2.8 2.4 -1.4 2.4 1.4zM117.1 343l-2.4 1.4 -2.4 -1.4 0 -2.8 2.4 -1.4 2.4 1.4zM123.8 346l-2.4 1.4 -2.4 -1.4 0 -2.8 2.4 -1.4 2.4 1.4zM130.4 349.7l-2.4 1.4 -2.4 -1.4 0 -2.8 2.4 -1.4 2.4 1.4zM137.1 353.5l-2.4 1.4 -2.4 -1.4 0 -2.8 2.4 -1.4 2.4 1.4zM143.8 358l-2.4 1.4 -2.4 -1.4 0 -2.8 2.4 -1.4 2.4 1.4zM150.5 361.9l-2.4 1.4 -2.4 -1.4 0 -2.8 2.4 -1.4 2.4 1.4zM157.1 366.4l-2.4 1.4 -2.4 -1.4 0 -2.8 2.4 -1.4 2.4 1.4zM163.8 370.3l-2.4 1.4 -2.4 -1.4 0 -2.8 2.4 -1.4 2.4 1.4zM170.5 374.7l-2.4 1.4 -2.4 -1.4 0 -2.8 2.4 -1.4 2.4 1.4zM177.2 379.1l-2.4 1.4 -2.4 -1.4 0 -2.8 2.4 -1.4 2.4 1.4zM183.8 382.9l-2.4 1.4 -2.4 -1.4 0 -2.8 2.4 -1.4 2.4 1.4zM190.5 387.3l-2.4 1.4 -2.4 -1.4 0 -2.8 2.4 -1.4 2.4 1.4zM197.2 391.3l-2.4 1.4 -2.4 -1.4 0 -2.8 2.4 -1.4 2.4 1.4zM203.9 395.2l-2.4 1.4 -2.4 -1.4 0 -2.8 2.4 -1.4 2.4 1.4zM210.6 399.6l-2.4 1.4 -2.4 -1.4 0 -2.8 2.4 -1.4 2.4 1.4zM217.2 403.3l-2.4 1.4 -2.4 -1.4 0 -2.8 2.4 -1.4 2.4 1.4zM223.9 407l-2.4 1.4 -2.4 -1.4 0 -2.8 2.4 -1.4 2.4 1.4zM230.6 411.4l-2.4 1.4 -2.4 -1.4 0 -2.8 2.4 -1.4 2.4 1.4zM237.3 415.3l-2.4 1.4 -2.4 -1.4 0 -2.8 2.4 -1.4 2.4 1.4zM243.9 419.7l-2.4 1.4 -2.4 -1.4 0 -2.8 2.4 -1.4 2.4 1.4zM250.6 424.1l-2.4 1.4 -2.4 -1.4 0 -2.8 2.4 -1.4 2.4 1.4zM257.3 428l-2.4 1.4 -2.4 -1.4 0 -2.8 2.4 -1.4 2.4 1.4zM264 431.8l-2.4 1.4 -2.4 -1.4 0 -2.8 2.4 -1.4 2.4 1.4zM270.6 435.7l-2.4 1.4 -2.4 -1.4 0 -2.8 2.4 -1.4 2.4 1.4zM277.3 439.4l-2.4 1.4 -2.4 -1.4 0 -2.8 2.4 -1.4 2.4 1.4zM284 443.4l-2.4 1.4 -2.4 -1.4 0 -2.8 2.4 -1.4 2.4 1.4zM290.7 447.1l-2.4 1.4 -2.4 -1.4 0 -2.8 2.4 -1.4 2.4 1.4zM297.4 450.8l-2.4 1.4 -2.4 -1.4 0 -2.8 2.4 -1.4 2.4 1.4zM304 454.8l-2.4 1.4 -2.4 -1.4 0 -2.8 2.4 -1.4 2.4 1.4zM310.7 459.1l-2.4 1.4 -2.4 -1.4 0 -2.8 2.4 -1.4 2.4 1.4zM317.4 462.4l-2.4 1.4 -2.4 -1.4 0 -2.8 2.4 -1.4 2.4 1.4zM324.1 465.7l-2.4 1.4 -2.4 -1.4 0 -2.8 2.4 -1.4 2.4 1.4zM330.7 469.4l-2.4 1.4 -2.4 -1.4 0 -2.8 2.4 -1.4 2.4 1.4z" fill="#F2F830"/><path d="M41.2 326.2 44.4 326.7 47.7 327.3 50.9 328 54.1 328.7 57.3 329.2 60.6 329.7 63.8 330.3 67 330.9 70.2 331.5 73.5 332 76.7 332.6 79.9 333.1 83.1 333.7 86.4 334.2 89.6 334.8 92.8 335.7 96 336.4 99.3 337.1 102.5 337.8 105.7 338.7 109 339.6 112.2 340.7 115.4 341.9 118.6 343.3 121.9 344.9 125.1 346.7 128.3 348.5 131.5 350.3 134.8 352.1 138 354.3 141.2 356.5 144.4 358.4 147.7 360.3 150.9 362.4 154.1 364.6 157.3 366.5 160.6 368.4 163.8 370.4 167 372.6 170.2 374.8 173.5 376.9 176.7 378.8 179.9 380.6 183.1 382.6 186.4 384.8 189.6 386.8 192.8 388.8 196.1 390.6 199.3 392.5 202.5 394.5 205.7 396.7 209 398.7 212.2 400.5 215.4 402.2 218.6 404 221.9 405.8 225.1 408 228.3 410.1 231.5 412 234.8 413.9 238 415.9 241.2 418.1 244.4 420.3 247.7 422.4 250.9 424.3 254.1 426.2 257.3 428 260.6 429.8 263.8 431.7 267 433.6 270.2 435.4 273.5 437.2 276.7 439.1 279.9 441 283.1 442.9 286.4 444.7 289.6 446.4 292.8 448.2 296.1 450.1 299.3 452 302.5 454 305.7 456.1 309 458.1 312.2 459.7 315.4 461.2 318.6 462.8 321.9 464.4 325.1 466.2 328.3 468" fill="none" stroke="#F2F830" stroke-width="0.9"/><path d="M44.3 328.1l-5.3 -2.9 0 5.8zM51 329.2l-5.3 -2.9 0 5.8zM57.7 330.6l-5.3 -2.9 0 5.8zM64.3 331.6l-5.3 -2.9 0 5.8zM71 332.9l-5.3 -2.9 0 5.8zM77.7 334l-5.3 -2.9 0 5.8zM84.4 335.1l-5.3 -2.9 0 5.8zM91 336.2l-5.3 -2.9 0 5.8zM97.7 337.8l-5.3 -2.9 0 5.8zM104.4 339.2l-5.3 -2.9 0 5.8zM111.1 341l-5.3 -2.9 0 5.8zM117.8 343.2l-5.3 -2.9 0 5.8zM124.4 346.2l-5.3 -2.9 0 5.8zM131.1 349.9l-5.3 -2.9 0 5.8zM137.8 353.6l-5.3 -2.9 0 5.8zM144.5 358.1l-5.3 -2.9 0 5.8zM151.1 362l-5.3 -2.9 0 5.8zM157.8 366.4l-5.3 -2.9 0 5.8zM164.5 370.3l-5.3 -2.9 0 5.8zM171.2 374.7l-5.3 -2.9 0 5.8zM177.8 379.1l-5.3 -2.9 0 5.8zM184.5 382.9l-5.3 -2.9 0 5.8zM191.2 387.3l-5.3 -2.9 0 5.8zM197.9 391.3l-5.3 -2.9 0 5.8zM204.6 395.2l-5.3 -2.9 0 5.8zM211.2 399.6l-5.3 -2.9 0 5.8zM217.9 403.3l-5.3 -2.9 0 5.8zM224.6 407l-5.3 -2.9 0 5.8zM231.3 411.4l-5.3 -2.9 0 5.8zM237.9 415.3l-5.3 -2.9 0 5.8zM244.6 419.7l-5.3 -2.9 0 5.8zM251.3 424.1l-5.3 -2.9 0 5.8zM258 428l-5.3 -2.9 0 5.8zM264.6 431.8l-5.3 -2.9 0 5.8zM271.3 435.7l-5.3 -2.9 0 5.8zM278 439.4l-5.3 -2.9 0 5.8zM284.7 443.4l-5.3 -2.9 0 5.8zM291.3 447.1l-5.3 -2.9 0 5.8zM298 450.8l-5.3 -2.9 0 5.8zM304.7 454.8l-5.3 -2.9 0 5.8zM311.4 459.1l-5.3 -2.9 0 5.8zM318.1 462.4l-5.3 -2.9 0 5.8zM324.7 465.7l-5.3 -2.9 0 5.8zM331.4 469.4l-5.3 -2.9 0 5.8z" fill="#2A8A22"/><path d="M41.2 328.1 44.4 328.6 47.7 329.2 50.9 329.8 54.1 330.5 57.3 331 60.6 331.5 63.8 332.1 67 332.7 70.2 333.3 73.5 333.8 76.7 334.3 79.9 334.9 83.1 335.4 86.4 335.9 89.6 336.6 92.8 337.4 96 338.1 99.3 338.8 102.5 339.5 105.7 340.4 109 341.3 112.2 342.3 115.4 343.5 118.6 344.9 121.9 346.5 125.1 348.2 128.3 350.1 131.5 351.8 134.8 353.7 138 355.8 141.2 358 144.4 359.9 147.7 361.8 150.9 363.9 154.1 366 157.3 367.9 160.6 369.8 163.8 371.8 167 374 170.2 376.2 173.5 378.3 176.7 380.2 179.9 382 183.1 384 186.4 386.2 189.6 388.2 192.8 390.2 196.1 392 199.3 393.9 202.5 395.9 205.7 398.1 209 400.1 212.2 401.9 215.4 403.6 218.6 405.4 221.9 407.2 225.1 409.4 228.3 411.5 231.5 413.4 234.8 415.3 238 417.3 241.2 419.5 244.4 421.7 247.7 423.8 250.9 425.7 254.1 427.6 257.3 429.4 260.6 431.2 263.8 433.1 267 435 270.2 436.8 273.5 438.6 276.7 440.5 279.9 442.4 283.1 444.3 286.4 446.1 289.6 447.8 292.8 449.6 296.1 451.5 299.3 453.4 302.5 455.4 305.7 457.5 309 459.5 312.2 461.1 315.4 462.6 318.6 464.2 321.9 465.8 325.1 467.6 328.3 469.4" fill="none" stroke="#2A8A22" stroke-width="0.9"/><path d="M41.2 324.6l2.8 2 -1.1 3.2 -3.4 0 -1.1 -3.2zM47.9 325.7l2.8 2 -1.1 3.2 -3.4 0 -1.1 -3.2zM54.6 327.1l2.8 2 -1.1 3.2 -3.4 0 -1.1 -3.2zM61.2 328.1l2.8 2 -1.1 3.2 -3.4 0 -1.1 -3.2zM67.9 329.4l2.8 2 -1.1 3.2 -3.4 0 -1.1 -3.2zM74.6 330.5l2.8 2 -1.1 3.2 -3.4 0 -1.1 -3.2zM81.3 331.6l2.8 2 -1.1 3.2 -3.4 0 -1.1 -3.2zM87.9 332.7l2.8 2 -1.1 3.2 -3.4 0 -1.1 -3.2zM94.6 334.3l2.8 2 -1.1 3.2 -3.4 0 -1.1 -3.2zM101.3 335.7l2.8 2 -1.1 3.2 -3.4 0 -1.1 -3.2zM108 337.5l2.8 2 -1.1 3.2 -3.4 0 -1.1 -3.2zM114.7 339.7l2.8 2 -1.1 3.2 -3.4 0 -1.1 -3.2zM121.3 342.7l2.8 2 -1.1 3.2 -3.4 0 -1.1 -3.2zM128 346.4l2.8 2 -1.1 3.2 -3.4 0 -1.1 -3.2zM134.7 350.1l2.8 2 -1.1 3.2 -3.4 0 -1.1 -3.2zM141.4 354.6l2.8 2 -1.1 3.2 -3.4 0 -1.1 -3.2zM148 358.5l2.8 2 -1.1 3.2 -3.4 0 -1.1 -3.2zM154.7 362.9l2.8 2 -1.1 3.2 -3.4 0 -1.1 -3.2zM161.4 366.8l2.8 2 -1.1 3.2 -3.4 0 -1.1 -3.2zM168.1 371.2l2.8 2 -1.1 3.2 -3.4 0 -1.1 -3.2zM174.7 375.6l2.8 2 -1.1 3.2 -3.4 0 -1.1 -3.2zM181.4 379.4l2.8 2 -1.1 3.2 -3.4 0 -1.1 -3.2zM188.1 383.8l2.8 2 -1.1 3.2 -3.4 0 -1.1 -3.2zM194.8 387.8l2.8 2 -1.1 3.2 -3.4 0 -1.1 -3.2zM201.5 391.7l2.8 2 -1.1 3.2 -3.4 0 -1.1 -3.2zM208.1 396.1l2.8 2 -1.1 3.2 -3.4 0 -1.1 -3.2zM214.8 399.8l2.8 2 -1.1 3.2 -3.4 0 -1.1 -3.2zM221.5 403.5l2.8 2 -1.1 3.2 -3.4 0 -1.1 -3.2zM228.2 407.9l2.8 2 -1.1 3.2 -3.4 0 -1.1 -3.2zM234.8 411.8l2.8 2 -1.1 3.2 -3.4 0 -1.1 -3.2zM241.5 416.2l2.8 2 -1.1 3.2 -3.4 0 -1.1 -3.2zM248.2 420.6l2.8 2 -1.1 3.2 -3.4 0 -1.1 -3.2zM254.9 424.5l2.8 2 -1.1 3.2 -3.4 0 -1.1 -3.2zM261.5 428.3l2.8 2 -1.1 3.2 -3.4 0 -1.1 -3.2zM268.2 432.2l2.8 2 -1.1 3.2 -3.4 0 -1.1 -3.2zM274.9 435.9l2.8 2 -1.1 3.2 -3.4 0 -1.1 -3.2zM281.6 439.9l2.8 2 -1.1 3.2 -3.4 0 -1.1 -3.2zM288.2 443.6l2.8 2 -1.1 3.2 -3.4 0 -1.1 -3.2zM294.9 447.3l2.8 2 -1.1 3.2 -3.4 0 -1.1 -3.2zM301.6 451.3l2.8 2 -1.1 3.2 -3.4 0 -1.1 -3.2zM308.3 455.6l2.8 2 -1.1 3.2 -3.4 0 -1.1 -3.2zM315 458.9l2.8 2 -1.1 3.2 -3.4 0 -1.1 -3.2zM321.6 462.2l2.8 2 -1.1 3.2 -3.4 0 -1.1 -3.2zM328.3 465.9l2.8 2 -1.1 3.2 -3.4 0 -1.1 -3.2z" fill="#000000"/><path d="M41.2 327.5 44.4 328 47.7 328.6 50.9 329.2 54.1 329.9 57.3 330.4 60.6 330.9 63.8 331.5 67 332.1 70.2 332.7 73.5 333.2 76.7 333.7 79.9 334.3 83.1 334.8 86.4 335.3 89.6 336 92.8 336.8 96 337.5 99.3 338.2 102.5 338.9 105.7 339.8 109 340.7 112.2 341.7 115.4 342.9 118.6 344.3 121.9 345.9 125.1 347.6 128.3 349.5 131.5 351.2 134.8 353.1 138 355.2 141.2 357.4 144.4 359.3 147.7 361.2 150.9 363.3 154.1 365.4 157.3 367.3 160.6 369.2 163.8 371.2 167 373.4 170.2 375.6 173.5 377.7 176.7 379.6 179.9 381.4 183.1 383.4 186.4 385.6 189.6 387.6 192.8 389.6 196.1 391.4 199.3 393.3 202.5 395.3 205.7 397.5 209 399.5 212.2 401.3 215.4 403 218.6 404.8 221.9 406.6 225.1 408.8 228.3 410.9 231.5 412.8 234.8 414.7 238 416.7 241.2 418.9 244.4 421.1 247.7 423.2 250.9 425.1 254.1 427 257.3 428.8 260.6 430.6 263.8 432.5 267 434.4 270.2 436.2 273.5 438 276.7 439.9 279.9 441.8 283.1 443.7 286.4 445.5 289.6 447.2 292.8 449 296.1 450.9 299.3 452.8 302.5 454.8 305.7 456.9 309 458.9 312.2 460.5 315.4 462 318.6 463.6 321.9 465.2 325.1 467 328.3 468.8" fill="none" stroke="#000000" stroke-width="0.9"/></g><g clip-path="url(#cr1)"><path d="M393.9 389h0M400.6 368h0M407.2 350.8h0M413.9 345.2h0M420.6 348.5h0M427.2 356.6h0M433.9 369.5h0M440.6 387.2h0M447.2 404.7h0M453.9 414h0M460.6 420h0M467.3 421.6h0M473.9 408.5h0M480.6 389.4h0M487.3 369.7h0M493.9 351.5h0M500.6 336.9h0M507.3 326.8h0M513.9 319.8h0M520.6 315h0M527.3 311h0M533.9 308.4h0M540.6 306.2h0M547.3 304h0M553.9 302.3h0M560.6 301.5h0M567.3 301h0M573.9 300.3h0M580.6 300.5h0M587.3 300.3h0M593.9 300.3h0M600.6 299.5h0M607.3 299.2h0M613.9 299.2h0M620.6 299.5h0M627.3 300.3h0M633.9 300.8h0M640.6 302.4h0M647.3 304.3h0M653.9 306.7h0M660.6 309.1h0M667.3 311.5h0M673.9 312.7h0M680.6 311.5h0" stroke="#D6A43E" stroke-width="4.6" stroke-linecap="square"/><path d="M393.9 389 397.1 378.4 400.4 368.6 403.6 359.1 406.8 351.5 410 347.5 413.2 345.4 416.5 345.9 419.7 347.9 422.9 350.7 426.1 354.9 429.3 360.1 432.6 366.5 435.8 374.1 439 382.9 442.2 391.8 445.5 400.7 448.7 407.1 451.9 411.6 455.1 415.3 458.3 418.6 461.6 420.4 464.8 421.3 468 421.1 471.2 415.4 474.4 407.2 477.7 398.2 480.9 388.5 484.1 378.9 487.3 369.5 490.6 360.4 493.8 351.9 497 344.3 500.2 337.6 503.4 332.1 506.7 327.6 509.9 323.8 513.1 320.5 516.3 317.9 519.5 315.7 522.8 313.6 526 311.7 529.2 310.1 532.4 308.9 535.7 307.8 538.9 306.8 542.1 305.7 545.3 304.6 548.5 303.6 551.8 302.8 555 302.1 558.2 301.7 561.4 301.4 564.6 301.2 567.9 300.9 571.1 300.5 574.3 300.3 577.5 300.4 580.7 300.5 584 300.4 587.2 300.3 590.4 300.3 593.6 300.3 596.9 300 600.1 299.5 603.3 299.3 606.5 299.2 609.7 299.2 613 299.2 616.2 299.2 619.4 299.4 622.6 299.7 625.8 300.1 629.1 300.4 632.3 300.6 635.5 301.1 638.7 301.9 642 302.8 645.2 303.7 648.4 304.7 651.6 305.8 654.8 307 658.1 308.2 661.3 309.4 664.5 310.6 667.7 311.6 670.9 312.4 674.2 312.7 677.4 312.4 680.6 311.5" fill="none" stroke="#D6A43E" stroke-width="0.9"/><path d="M400.6 407.7h0M407.2 391.9h0M420.6 385.8h0M427.2 376.7h0M433.9 392h0M440.6 402.4h0M447.2 411.8h0M453.9 415.5h0M460.6 414.7h0M467.3 402.6h0M473.9 384.4h0M480.6 363.6h0M487.3 347h0M493.9 334h0M500.6 325h0M507.3 318.5h0M513.9 313.5h0M520.6 310h0M527.3 307.5h0M533.9 305.5h0M540.6 303.5h0M547.3 302h0M553.9 300.5h0M560.6 299.5h0M567.3 298.6h0M573.9 298.3h0M580.6 298.5h0M587.3 298.3h0M593.9 298.3h0M600.6 297.5h0M607.3 297.2h0M613.9 297.2h0M620.6 297.5h0M627.3 298.3h0M633.9 298.8h0M640.6 300.4h0M647.3 302.3h0M653.9 304.7h0M660.6 307.1h0M667.3 309.5h0M673.9 310.7h0M680.6 309.5h0" stroke="#FF1010" stroke-width="5.6" stroke-linecap="round"/><path d="M406.4 409.4 409.5 403.8 412.6 398.7 415.6 393.2 418.7 388.5 421.8 388.1 424.9 389.6 428 391.7 431 394.7 434.1 398.2 437.2 402.3 440.3 406.4 443.4 410.6 446.5 413.9 449.5 415.8 452.6 416.9 455.7 416.7 458.8 415.7 461.9 413.4 464.9 407.5 468 400.7 471.1 392.5 474.2 383.6 477.3 373.9 480.3 364.3 483.4 356.1 486.5 348.7 489.6 342 492.7 336.1 495.8 331.2 498.8 327.1 501.9 323.6 505 320.5 508.1 317.8 511.2 315.3 514.2 313.3 517.3 311.7 520.4 310.2 523.5 308.9 526.6 307.8 529.6 306.7 532.7 305.7 535.8 304.8 538.9 303.9 542 303.1 545.1 302.3 548.1 301.6 551.2 300.9 554.3 300.5 557.4 300.1 560.5 299.8 563.5 299.6 566.6 299.3 569.7 299.1 572.8 299 575.9 298.8 578.9 298.6 582 298.4 585.1 298.2 588.2 298 591.3 297.8 594.4 297.6 597.4 297.5 600.5 297.3 603.6 297.2 606.7 297.2 609.8 297.2 612.8 297.3 615.9 297.5 619 297.7 622.1 297.9 625.2 298.1 628.2 298.4 631.3 298.7 634.4 299.2 637.5 299.8 640.6 300.4 643.7 301.2 646.7 302.1 649.8 303.2 652.9 304.3 656 305.5 659.1 306.9 662.1 308.3 665.2 309.3 668.3 309.5 671.4 309.5 674.5 309.5 677.5 309.5 680.6 309.5" fill="none" stroke="#FF1010" stroke-width="0.9"/><path d="M400.6 395.8l2.9 5.3 -5.8 0zM407.2 385.9l2.9 5.3 -5.8 0zM413.9 376l2.9 5.3 -5.8 0zM420.6 376.5l2.9 5.3 -5.8 0zM427.2 377.7l2.9 5.3 -5.8 0zM433.9 389.4l2.9 5.3 -5.8 0zM440.6 401.6l2.9 5.3 -5.8 0zM447.2 410.4l2.9 5.3 -5.8 0zM453.9 411.9l2.9 5.3 -5.8 0zM460.6 406.9l2.9 5.3 -5.8 0zM467.3 392.9l2.9 5.3 -5.8 0zM473.9 375.4l2.9 5.3 -5.8 0zM480.6 356.9l2.9 5.3 -5.8 0zM487.3 339.9l2.9 5.3 -5.8 0zM493.9 326.9l2.9 5.3 -5.8 0zM500.6 318.4l2.9 5.3 -5.8 0zM507.3 312.4l2.9 5.3 -5.8 0zM513.9 307.9l2.9 5.3 -5.8 0zM520.6 304.4l2.9 5.3 -5.8 0zM527.3 301.9l2.9 5.3 -5.8 0zM533.9 299.9l2.9 5.3 -5.8 0zM540.6 298.4l2.9 5.3 -5.8 0zM547.3 297.4l2.9 5.3 -5.8 0zM553.9 296.9l2.9 5.3 -5.8 0zM560.6 295.9l2.9 5.3 -5.8 0zM567.3 295l2.9 5.3 -5.8 0zM573.9 294.7l2.9 5.3 -5.8 0zM580.6 294.9l2.9 5.3 -5.8 0zM587.3 294.7l2.9 5.3 -5.8 0zM593.9 294.7l2.9 5.3 -5.8 0zM600.6 293.9l2.9 5.3 -5.8 0zM607.3 293.6l2.9 5.3 -5.8 0zM613.9 293.6l2.9 5.3 -5.8 0zM620.6 293.9l2.9 5.3 -5.8 0zM627.3 294.7l2.9 5.3 -5.8 0zM633.9 295.2l2.9 5.3 -5.8 0zM640.6 296.8l2.9 5.3 -5.8 0zM647.3 298.7l2.9 5.3 -5.8 0zM653.9 301.1l2.9 5.3 -5.8 0zM660.6 303.5l2.9 5.3 -5.8 0zM667.3 305.9l2.9 5.3 -5.8 0zM673.9 307.1l2.9 5.3 -5.8 0zM680.6 305.9l2.9 5.3 -5.8 0z" fill="#10F010"/><path d="M400.6 398.9 403.7 394.2 406.9 389.5 410 383.9 413.2 379.4 416.3 379.2 419.5 379.5 422.6 379.8 425.7 380.4 428.9 382.4 432 388.6 435.2 394.9 438.3 400.9 441.5 406.1 444.6 411 447.8 413.7 450.9 414.6 454.1 415 457.2 413.4 460.4 410.2 463.5 404.9 466.7 397.4 469.8 389.6 472.9 381.1 476.1 372.5 479.2 363.7 482.4 355.2 485.5 347.1 488.7 339.9 491.8 333.6 495 328.4 498.1 324.3 501.3 320.8 504.4 317.8 507.6 315.3 510.7 313 513.8 311 517 309.3 520.1 307.7 523.3 306.4 526.4 305.3 529.6 304.3 532.7 303.3 535.9 302.5 539 301.8 542.2 301.2 545.3 300.7 548.5 300.4 551.6 300.2 554.8 299.9 557.9 299.4 561 298.9 564.2 298.5 567.3 298.1 570.5 297.9 573.6 297.8 576.8 297.9 579.9 298 583.1 297.9 586.2 297.8 589.4 297.8 592.5 297.8 595.7 297.7 598.8 297.2 602 296.9 605.1 296.7 608.2 296.7 611.4 296.7 614.5 296.7 617.7 296.8 620.8 297 624 297.4 627.1 297.8 630.3 298 633.4 298.3 636.6 298.8 639.7 299.7 642.9 300.5 646 301.4 649.1 302.4 652.3 303.6 655.4 304.7 658.6 305.9 661.7 307 664.9 308.3 668 309.2 671.2 309.9 674.3 310.2 677.5 309.9 680.6 309" fill="none" stroke="#10F010" stroke-width="0.9"/><path d="M413.9 467.2l2.9 -5.3 -5.8 0zM447.2 435.9l2.9 -5.3 -5.8 0zM460.6 429.1l2.9 -5.3 -5.8 0zM467.3 410l2.9 -5.3 -5.8 0zM473.9 394.7l2.9 -5.3 -5.8 0zM480.6 372.2l2.9 -5.3 -5.8 0zM487.3 354.6l2.9 -5.3 -5.8 0zM493.9 340.8l2.9 -5.3 -5.8 0zM500.6 331.2l2.9 -5.3 -5.8 0zM507.3 324l2.9 -5.3 -5.8 0zM513.9 318.5l2.9 -5.3 -5.8 0zM520.6 314.6l2.9 -5.3 -5.8 0zM527.3 311.9l2.9 -5.3 -5.8 0zM533.9 309.8l2.9 -5.3 -5.8 0zM540.6 308l2.9 -5.3 -5.8 0zM547.3 306.1l2.9 -5.3 -5.8 0zM553.9 304.6l2.9 -5.3 -5.8 0zM560.6 303.6l2.9 -5.3 -5.8 0zM567.3 302.7l2.9 -5.3 -5.8 0zM573.9 302.4l2.9 -5.3 -5.8 0zM580.6 302.6l2.9 -5.3 -5.8 0zM587.3 302.4l2.9 -5.3 -5.8 0zM593.9 302.4l2.9 -5.3 -5.8 0zM600.6 301.6l2.9 -5.3 -5.8 0zM607.3 301.3l2.9 -5.3 -5.8 0zM613.9 301.3l2.9 -5.3 -5.8 0zM620.6 301.6l2.9 -5.3 -5.8 0zM627.3 302.4l2.9 -5.3 -5.8 0zM633.9 302.9l2.9 -5.3 -5.8 0zM640.6 304.5l2.9 -5.3 -5.8 0zM647.3 306.4l2.9 -5.3 -5.8 0zM653.9 308.8l2.9 -5.3 -5.8 0zM660.6 311.2l2.9 -5.3 -5.8 0zM667.3 313.6l2.9 -5.3 -5.8 0zM673.9 314.8l2.9 -5.3 -5.8 0zM680.6 313.6l2.9 -5.3 -5.8 0z" fill="#1010FF"/><path d="M413.4 418.8 416.4 417.4 419.4 416.7 422.4 416.4 425.4 416.7 428.4 418.1 431.4 419.8 434.4 421.3 437.4 422.7 440.4 424 443.4 424.6 446.4 424.8 449.4 425 452.4 425 455.4 424.4 458.4 423.2 461.4 421.1 464.4 415 467.4 407.7 470.4 400.7 473.4 392.9 476.4 383.3 479.4 372.7 482.5 363.8 485.5 355.9 488.5 348.8 491.5 342.3 494.5 336.8 497.5 332.2 500.5 328.3 503.5 324.8 506.5 321.7 509.5 318.9 512.5 316.4 515.5 314.4 518.5 312.7 521.5 311.2 524.5 309.9 527.5 308.7 530.5 307.7 533.5 306.9 536.5 306.1 539.5 305.2 542.5 304.2 545.5 303 548.5 301.8 551.5 300.9 554.5 300.4 557.5 300.2 560.5 300 563.5 299.9 566.5 299.8 569.5 299.7 572.5 299.6 575.5 299.5 578.5 299.4 581.5 299.3 584.5 299.1 587.5 299 590.5 298.8 593.5 298.6 596.5 298.5 599.5 298.4 602.5 298.3 605.5 298.2 608.5 298.2 611.5 298.3 614.6 298.5 617.6 298.7 620.6 299 623.6 299.3 626.6 299.7 629.6 300.2 632.6 300.9 635.6 301.7 638.6 302.7 641.6 303.6 644.6 304.7 647.6 305.8 650.6 307 653.6 308 656.6 309 659.6 310.1 662.6 311 665.6 311.6 668.6 311.7 671.6 311.7 674.6 311.5 677.6 311.1 680.6 310.5" fill="none" stroke="#1010FF" stroke-width="0.9"/><path d="M393.9 441.4l2.8 3.1 -2.8 3.1 -2.8 -3.1zM400.6 429.7l2.8 3.1 -2.8 3.1 -2.8 -3.1zM407.2 423.8l2.8 3.1 -2.8 3.1 -2.8 -3.1zM413.9 420.9l2.8 3.1 -2.8 3.1 -2.8 -3.1zM420.6 419.7l2.8 3.1 -2.8 3.1 -2.8 -3.1zM427.2 420.9l2.8 3.1 -2.8 3.1 -2.8 -3.1zM433.9 423.3l2.8 3.1 -2.8 3.1 -2.8 -3.1zM440.6 425l2.8 3.1 -2.8 3.1 -2.8 -3.1zM447.2 422.9l2.8 3.1 -2.8 3.1 -2.8 -3.1zM453.9 416.9l2.8 3.1 -2.8 3.1 -2.8 -3.1zM460.6 406.3l2.8 3.1 -2.8 3.1 -2.8 -3.1zM467.3 386.8l2.8 3.1 -2.8 3.1 -2.8 -3.1zM473.9 367.5l2.8 3.1 -2.8 3.1 -2.8 -3.1zM480.6 349.5l2.8 3.1 -2.8 3.1 -2.8 -3.1zM487.3 334.6l2.8 3.1 -2.8 3.1 -2.8 -3.1zM493.9 322.8l2.8 3.1 -2.8 3.1 -2.8 -3.1zM500.6 313.9l2.8 3.1 -2.8 3.1 -2.8 -3.1zM507.3 307.9l2.8 3.1 -2.8 3.1 -2.8 -3.1zM513.9 303.9l2.8 3.1 -2.8 3.1 -2.8 -3.1zM520.6 301.4l2.8 3.1 -2.8 3.1 -2.8 -3.1zM527.3 299.9l2.8 3.1 -2.8 3.1 -2.8 -3.1zM533.9 298.9l2.8 3.1 -2.8 3.1 -2.8 -3.1zM540.6 298.4l2.8 3.1 -2.8 3.1 -2.8 -3.1zM547.3 298.4l2.8 3.1 -2.8 3.1 -2.8 -3.1zM553.9 298.4l2.8 3.1 -2.8 3.1 -2.8 -3.1zM560.6 298.4l2.8 3.1 -2.8 3.1 -2.8 -3.1zM567.3 298.4l2.8 3.1 -2.8 3.1 -2.8 -3.1zM573.9 298.4l2.8 3.1 -2.8 3.1 -2.8 -3.1zM580.6 298.6l2.8 3.1 -2.8 3.1 -2.8 -3.1zM587.3 298.9l2.8 3.1 -2.8 3.1 -2.8 -3.1zM593.9 299.2l2.8 3.1 -2.8 3.1 -2.8 -3.1zM600.6 299.4l2.8 3.1 -2.8 3.1 -2.8 -3.1zM607.3 299.4l2.8 3.1 -2.8 3.1 -2.8 -3.1zM613.9 299.4l2.8 3.1 -2.8 3.1 -2.8 -3.1zM620.6 300.2l2.8 3.1 -2.8 3.1 -2.8 -3.1zM627.3 301.5l2.8 3.1 -2.8 3.1 -2.8 -3.1zM633.9 302.6l2.8 3.1 -2.8 3.1 -2.8 -3.1zM640.6 304.2l2.8 3.1 -2.8 3.1 -2.8 -3.1zM647.3 306.3l2.8 3.1 -2.8 3.1 -2.8 -3.1zM653.9 307.9l2.8 3.1 -2.8 3.1 -2.8 -3.1zM660.6 308.6l2.8 3.1 -2.8 3.1 -2.8 -3.1zM667.3 307.4l2.8 3.1 -2.8 3.1 -2.8 -3.1zM673.9 303.4l2.8 3.1 -2.8 3.1 -2.8 -3.1zM680.6 297.8l2.8 3.1 -2.8 3.1 -2.8 -3.1z" fill="#50F0F8"/><path d="M393.9 444.5 397.1 438 400.4 433.1 403.6 429.7 406.8 427.2 410 425.4 413.2 424.2 416.5 423.4 419.7 422.8 422.9 423 426.1 423.7 429.3 424.7 432.6 425.9 435.8 427 439 427.9 442.2 427.9 445.5 426.8 448.7 425.2 451.9 422.2 455.1 418.5 458.3 413.6 461.6 407.1 464.8 397.6 468 387.7 471.2 378.3 474.4 369.1 477.7 360.2 480.9 351.9 484.1 344.4 487.3 337.6 490.6 331.5 493.8 326.1 497 321.5 500.2 317.4 503.4 314.2 506.7 311.5 509.9 309.2 513.1 307.4 516.3 306 519.5 304.8 522.8 303.9 526 303.2 529.2 302.7 532.4 302.2 535.7 301.8 538.9 301.6 542.1 301.5 545.3 301.5 548.5 301.5 551.8 301.5 555 301.5 558.2 301.5 561.4 301.5 564.6 301.5 567.9 301.5 571.1 301.5 574.3 301.5 577.5 301.6 580.7 301.7 584 301.8 587.2 302 590.4 302.1 593.6 302.3 596.9 302.4 600.1 302.5 603.3 302.5 606.5 302.5 609.7 302.5 613 302.5 616.2 302.6 619.4 303.1 622.6 303.7 625.8 304.3 629.1 304.9 632.3 305.4 635.5 306 638.7 306.8 642 307.7 645.2 308.8 648.4 309.7 651.6 310.5 654.8 311.1 658.1 311.6 661.3 311.7 664.5 311.2 667.7 310.4 670.9 308.6 674.2 306.3 677.4 303.8 680.6 300.9" fill="none" stroke="#50F0F8" stroke-width="0.9"/><path d="M390.8 463.1l5.3 -2.9 0 5.8zM404.1 440.4l5.3 -2.9 0 5.8zM430.8 433.4l5.3 -2.9 0 5.8zM437.5 430l5.3 -2.9 0 5.8zM444.1 426.4l5.3 -2.9 0 5.8zM450.8 413l5.3 -2.9 0 5.8zM457.5 396l5.3 -2.9 0 5.8zM464.2 377.2l5.3 -2.9 0 5.8zM470.8 357.5l5.3 -2.9 0 5.8zM477.5 340.6l5.3 -2.9 0 5.8zM484.2 327l5.3 -2.9 0 5.8zM490.8 317.5l5.3 -2.9 0 5.8zM497.5 311l5.3 -2.9 0 5.8zM504.2 307l5.3 -2.9 0 5.8zM510.8 304l5.3 -2.9 0 5.8zM517.5 302.5l5.3 -2.9 0 5.8zM524.2 301.5l5.3 -2.9 0 5.8zM530.8 301l5.3 -2.9 0 5.8zM537.5 301l5.3 -2.9 0 5.8zM544.2 301l5.3 -2.9 0 5.8zM550.8 301.2l5.3 -2.9 0 5.8zM557.5 301.5l5.3 -2.9 0 5.8zM564.2 301.8l5.3 -2.9 0 5.8zM570.8 302l5.3 -2.9 0 5.8zM577.5 302.3l5.3 -2.9 0 5.8zM584.2 302.8l5.3 -2.9 0 5.8zM590.8 303.3l5.3 -2.9 0 5.8zM597.5 303.3l5.3 -2.9 0 5.8zM604.2 304.5l5.3 -2.9 0 5.8zM610.8 305.7l5.3 -2.9 0 5.8zM617.5 306.8l5.3 -2.9 0 5.8zM624.2 307.8l5.3 -2.9 0 5.8zM630.8 308.1l5.3 -2.9 0 5.8zM637.5 309.7l5.3 -2.9 0 5.8zM644.2 310l5.3 -2.9 0 5.8zM650.8 308.9l5.3 -2.9 0 5.8zM657.5 306.5l5.3 -2.9 0 5.8zM664.2 302.5l5.3 -2.9 0 5.8zM670.8 297.7l5.3 -2.9 0 5.8zM677.5 291.7l5.3 -2.9 0 5.8z" fill="#FF20F0"/><path d="M393.5 463 396.7 460.9 400 458.5 403.2 455.7 406.4 452.8 409.6 450.1 412.9 447.7 416.1 445.6 419.3 443.7 422.5 442.1 425.8 440.7 429 439.1 432.2 437.1 435.4 435 438.7 432.8 441.9 429.5 445.1 424.1 448.3 417.9 451.6 410.5 454.8 403 458 396 461.2 388.4 464.5 379.7 467.7 371 470.9 362.4 474.1 354.4 477.4 347.3 480.6 340.6 483.8 333.6 487 327.4 490.3 322.5 493.5 318.2 496.7 314.5 500 311.5 503.2 309.2 506.4 307.2 509.6 305.5 512.9 304.3 516.1 303.5 519.3 302.8 522.5 302.1 525.8 301.6 529 301.2 532.2 301 535.4 301 538.7 301 541.9 301.1 545.1 301.1 548.3 301.2 551.6 301.3 554.8 301.3 558 301.4 561.2 301.5 564.5 301.6 567.7 301.7 570.9 301.9 574.1 302 577.4 302.2 580.6 302.4 583.8 302.6 587.1 302.8 590.3 303 593.5 303.3 596.7 303.6 600 303.9 603.2 304.3 606.4 304.8 609.6 305.2 612.9 305.7 616.1 306.2 619.3 306.6 622.5 307.1 625.8 307.5 629 308 632.2 308.6 635.4 309 638.7 309.4 641.9 309.8 645.1 310 648.3 310 651.6 309.5 654.8 308.6 658 307.5 661.2 306.2 664.5 304.7 667.7 302.8 670.9 300.5 674.1 297.8 677.4 294.9 680.6 291.7" fill="none" stroke="#FF20F0" stroke-width="0.9"/><path d="M393.9 458 397.1 457.1 400.4 456.1 403.6 454.8 406.8 453.2 410 451.1 413.2 448.5 416.5 446 419.7 443.6 422.9 441.8 426.1 440.5 429.3 439.1 432.6 437.7 435.8 436 439 434 442.2 431.9 445.5 429.5 448.7 426.6 451.9 422.9 455.1 417.8 458.3 410.7 461.6 402.4 464.8 392.9 468 382.5 471.2 371.1 474.4 360.4 477.7 351.4 480.9 343.3 484.1 336.1 487.3 329.9 490.6 324.6 493.8 320.2 497 316.5 500.2 313.3 503.4 310.8 506.7 308.8 509.9 307.2 513.1 305.8 516.3 304.7 519.5 303.8 522.8 303 526 302.5 529.2 302.1 532.4 301.9 535.7 301.7 538.9 301.5 542.1 301.5 545.3 301.5 548.5 301.5 551.8 301.7 555 301.9 558.2 302 561.4 302.3 564.6 302.6 567.9 302.8 571.1 303 574.3 303.2 577.5 303.4 580.7 303.5 584 303.7 587.2 304 590.4 304.3 593.6 304.6 596.9 305 600.1 305.4 603.3 306 606.5 306.6 609.7 307.3 613 308.1 616.2 308.8 619.4 309.5 622.6 310.3 625.8 311.1 629.1 311.9 632.3 312.6 635.5 313.4 638.7 314.3 642 315.1 645.2 315.7 648.4 316.2 651.6 316.7 654.8 317.1 658.1 317.2 661.3 317.3 664.5 317.2 667.7 317 670.9 316.6 674.2 315.9 677.4 315.1 680.6 314" fill="none" stroke="#F2F830" stroke-width="0.9"/><path d="M423.7 460.2l-5.3 -2.9 0 5.8zM430.3 445.6l-5.3 -2.9 0 5.8zM437 443.3l-5.3 -2.9 0 5.8zM457 415.8l-5.3 -2.9 0 5.8zM463.7 390.1l-5.3 -2.9 0 5.8zM470.4 373.5l-5.3 -2.9 0 5.8zM477 353l-5.3 -2.9 0 5.8zM483.7 336l-5.3 -2.9 0 5.8zM490.4 324l-5.3 -2.9 0 5.8zM497 315.8l-5.3 -2.9 0 5.8zM503.7 309.5l-5.3 -2.9 0 5.8zM510.4 305.5l-5.3 -2.9 0 5.8zM517 303.3l-5.3 -2.9 0 5.8zM523.7 302l-5.3 -2.9 0 5.8zM530.4 301.5l-5.3 -2.9 0 5.8zM537 301.8l-5.3 -2.9 0 5.8zM543.7 302.3l-5.3 -2.9 0 5.8zM550.4 303l-5.3 -2.9 0 5.8zM557 303.8l-5.3 -2.9 0 5.8zM563.7 304.6l-5.3 -2.9 0 5.8zM570.4 305.5l-5.3 -2.9 0 5.8zM577 306.2l-5.3 -2.9 0 5.8zM583.7 306.8l-5.3 -2.9 0 5.8zM590.4 307.5l-5.3 -2.9 0 5.8zM597 308.5l-5.3 -2.9 0 5.8zM603.7 310l-5.3 -2.9 0 5.8zM610.4 311.5l-5.3 -2.9 0 5.8zM617 313.3l-5.3 -2.9 0 5.8zM623.7 314.8l-5.3 -2.9 0 5.8zM630.4 316.3l-5.3 -2.9 0 5.8zM637 317.8l-5.3 -2.9 0 5.8zM643.7 319.3l-5.3 -2.9 0 5.8zM650.4 320l-5.3 -2.9 0 5.8zM657 320.5l-5.3 -2.9 0 5.8zM663.7 320.5l-5.3 -2.9 0 5.8zM670.4 320l-5.3 -2.9 0 5.8zM677 319l-5.3 -2.9 0 5.8zM683.7 317.8l-5.3 -2.9 0 5.8z" fill="#2A8A22"/><path d="M400 455 403.2 454.3 406.3 453.6 409.5 453 412.6 452.6 415.8 452.2 418.9 451.7 422.1 451.1 425.2 450.3 428.4 449.4 431.5 448 434.7 445.1 437.8 440.2 441 431 444.1 422.3 447.3 414.9 450.4 409.7 453.6 404.6 456.8 397.6 459.9 389.7 463.1 382.3 466.2 374.8 469.4 365.9 472.5 356 475.7 347.4 478.8 339.7 482 333.3 485.1 327.4 488.3 322.1 491.4 317.6 494.6 314.4 497.7 311.7 500.9 309.1 504 306.9 507.2 305.1 510.3 303.8 513.5 303 516.7 302.7 519.8 302.4 523 302.2 526.1 302 529.3 301.8 532.4 301.7 535.6 301.6 538.7 301.5 541.9 301.5 545 301.6 548.2 301.7 551.3 301.9 554.5 302.2 557.6 302.5 560.8 302.9 563.9 303.3 567.1 303.7 570.3 304.1 573.4 304.5 576.6 305 579.7 305.4 582.9 305.8 586 306.3 589.2 306.8 592.3 307.3 595.5 307.9 598.6 308.4 601.8 309.1 604.9 309.7 608.1 310.3 611.2 311 614.4 311.6 617.5 312.3 620.7 313.1 623.8 313.9 627 314.7 630.2 315.5 633.3 316.3 636.5 317 639.6 317.6 642.8 318.2 645.9 318.8 649.1 319.3 652.2 319.8 655.4 320.2 658.5 320.5 661.7 320.5 664.8 320.4 668 320.1 671.1 319.7 674.3 319.2 677.4 318.6 680.6 317.8" fill="none" stroke="#2A8A22" stroke-width="0.9"/><path d="M393.9 450.3l2.8 2 -1.1 3.2 -3.4 0 -1.1 -3.2zM400.6 452.1l2.8 2 -1.1 3.2 -3.4 0 -1.1 -3.2zM407.2 449.1l2.8 2 -1.1 3.2 -3.4 0 -1.1 -3.2zM413.9 442.7l2.8 2 -1.1 3.2 -3.4 0 -1.1 -3.2zM420.6 437.5l2.8 2 -1.1 3.2 -3.4 0 -1.1 -3.2zM427.2 435.7l2.8 2 -1.1 3.2 -3.4 0 -1.1 -3.2zM433.9 432.2l2.8 2 -1.1 3.2 -3.4 0 -1.1 -3.2zM440.6 428.7l2.8 2 -1.1 3.2 -3.4 0 -1.1 -3.2zM447.2 423.1l2.8 2 -1.1 3.2 -3.4 0 -1.1 -3.2zM453.9 418l2.8 2 -1.1 3.2 -3.4 0 -1.1 -3.2zM460.6 396.8l2.8 2 -1.1 3.2 -3.4 0 -1.1 -3.2zM467.3 369.9l2.8 2 -1.1 3.2 -3.4 0 -1.1 -3.2zM473.9 349.3l2.8 2 -1.1 3.2 -3.4 0 -1.1 -3.2zM480.6 332.2l2.8 2 -1.1 3.2 -3.4 0 -1.1 -3.2zM487.3 320.2l2.8 2 -1.1 3.2 -3.4 0 -1.1 -3.2zM493.9 312.1l2.8 2 -1.1 3.2 -3.4 0 -1.1 -3.2zM500.6 305.9l2.8 2 -1.1 3.2 -3.4 0 -1.1 -3.2zM507.3 302l2.8 2 -1.1 3.2 -3.4 0 -1.1 -3.2zM513.9 299.8l2.8 2 -1.1 3.2 -3.4 0 -1.1 -3.2zM520.6 298.3l2.8 2 -1.1 3.2 -3.4 0 -1.1 -3.2zM527.3 297.6l2.8 2 -1.1 3.2 -3.4 0 -1.1 -3.2zM533.9 297.2l2.8 2 -1.1 3.2 -3.4 0 -1.1 -3.2zM540.6 297.2l2.8 2 -1.1 3.2 -3.4 0 -1.1 -3.2zM547.3 297.6l2.8 2 -1.1 3.2 -3.4 0 -1.1 -3.2zM553.9 298.3l2.8 2 -1.1 3.2 -3.4 0 -1.1 -3.2zM560.6 298.9l2.8 2 -1.1 3.2 -3.4 0 -1.1 -3.2zM567.3 299.8l2.8 2 -1.1 3.2 -3.4 0 -1.1 -3.2zM573.9 300.5l2.8 2 -1.1 3.2 -3.4 0 -1.1 -3.2zM580.6 300.4l2.8 2 -1.1 3.2 -3.4 0 -1.1 -3.2zM587.3 301.2l2.8 2 -1.1 3.2 -3.4 0 -1.1 -3.2zM593.9 302l2.8 2 -1.1 3.2 -3.4 0 -1.1 -3.2zM600.6 303.6l2.8 2 -1.1 3.2 -3.4 0 -1.1 -3.2zM607.3 305.2l2.8 2 -1.1 3.2 -3.4 0 -1.1 -3.2zM613.9 306.8l2.8 2 -1.1 3.2 -3.4 0 -1.1 -3.2zM620.6 308.4l2.8 2 -1.1 3.2 -3.4 0 -1.1 -3.2zM627.3 310.4l2.8 2 -1.1 3.2 -3.4 0 -1.1 -3.2zM633.9 311.6l2.8 2 -1.1 3.2 -3.4 0 -1.1 -3.2zM640.6 313.6l2.8 2 -1.1 3.2 -3.4 0 -1.1 -3.2zM647.3 314.5l2.8 2 -1.1 3.2 -3.4 0 -1.1 -3.2zM653.9 315.2l2.8 2 -1.1 3.2 -3.4 0 -1.1 -3.2zM660.6 315.2l2.8 2 -1.1 3.2 -3.4 0 -1.1 -3.2zM667.3 314.9l2.8 2 -1.1 3.2 -3.4 0 -1.1 -3.2zM673.9 313.2l2.8 2 -1.1 3.2 -3.4 0 -1.1 -3.2zM680.6 310.4l2.8 2 -1.1 3.2 -3.4 0 -1.1 -3.2z" fill="#000000"/><path d="M393.5 457 396.7 456.5 400 455.7 403.2 454.4 406.4 452.6 409.6 450.3 412.9 447.7 416.1 445.6 419.3 443.7 422.5 442 425.8 440.4 429 438.5 432.2 436.3 435.4 433.7 438.7 430.4 441.9 426 445.1 419.8 448.3 412.6 451.6 404.3 454.8 395.6 458 387 461.2 378.3 464.5 369.4 467.7 361 470.9 353.5 474.1 346.5 477.4 339.5 480.6 333 483.8 327.2 487 322.3 490.3 318.4 493.5 314.8 496.7 311.7 500 309.2 503.2 307.2 506.4 305.5 509.6 304 512.9 302.9 516.1 302.2 519.3 301.6 522.5 301.1 525.8 300.6 529 300.3 532.2 300.1 535.4 300.1 538.7 300.2 541.9 300.4 545.1 300.7 548.3 301.1 551.6 301.5 554.8 301.9 558 302.2 561.2 302.6 564.5 302.9 567.7 303.2 570.9 303.5 574.1 303.9 577.4 304.2 580.6 304.6 583.8 305 587.1 305.5 590.3 306 593.5 306.6 596.7 307.3 600 308.1 603.2 308.9 606.4 309.7 609.6 310.5 612.9 311.3 616.1 312 619.3 312.8 622.5 313.7 625.8 314.6 629 315.4 632.2 316.2 635.4 316.8 638.7 317.3 641.9 317.6 645.1 317.8 648.3 318.1 651.6 318.2 654.8 318.4 658 318.5 661.2 318.5 664.5 318.3 667.7 318 670.9 317.4 674.1 316.7 677.4 315.9 680.6 315" fill="none" stroke="#000000" stroke-width="0.9"/></g><rect x="40.5" y="276.4" width="289.9" height="233" fill="none" stroke="#2b2b2b" stroke-width="1.1"/><path d="M40.5 509.4v4.8M52.37 509.4v2.5M59.32 509.4v2.5M64.25 509.4v2.5M68.07 509.4v2.5M71.19 509.4v2.5M73.83 509.4v2.5M76.12 509.4v2.5M78.14 509.4v2.5M79.94 509.4v4.8M91.82 509.4v2.5M98.76 509.4v2.5M103.69 509.4v2.5M107.51 509.4v2.5M110.63 509.4v2.5M113.27 509.4v2.5M115.56 509.4v2.5M117.58 509.4v2.5M119.38 509.4v4.8M131.26 509.4v2.5M138.2 509.4v2.5M143.13 509.4v2.5M146.95 509.4v2.5M150.08 509.4v2.5M152.72 509.4v2.5M155 509.4v2.5M157.02 509.4v2.5M158.83 509.4v4.8M170.7 509.4v2.5M177.65 509.4v2.5M182.57 509.4v2.5M186.4 509.4v2.5M189.52 509.4v2.5M192.16 509.4v2.5M194.45 509.4v2.5M196.46 509.4v2.5M198.27 509.4v4.8M210.14 509.4v2.5M217.09 509.4v2.5M222.02 509.4v2.5M225.84 509.4v2.5M228.96 509.4v2.5M231.6 509.4v2.5M233.89 509.4v2.5M235.91 509.4v2.5M237.71 509.4v4.8M249.58 509.4v2.5M256.53 509.4v2.5M261.46 509.4v2.5M265.28 509.4v2.5M268.4 509.4v2.5M271.04 509.4v2.5M273.33 509.4v2.5M275.35 509.4v2.5M277.15 509.4v4.8M289.03 509.4v2.5M295.97 509.4v2.5M300.9 509.4v2.5M304.72 509.4v2.5M307.85 509.4v2.5M310.49 509.4v2.5M312.77 509.4v2.5M314.79 509.4v2.5M316.6 509.4v4.8M328.47 509.4v2.5" stroke="#2b2b2b" stroke-width="1" fill="none"/><text x="30.97" y="526.4" font-family="Liberation Sans" font-size="10.6" font-weight="bold" text-anchor="start">10</text><rect x="42.86" y="519.3" width="3.45" height="0.8" fill="#555"/><text x="46.49" y="521.7" font-family="Liberation Sans" font-size="6.9" font-weight="bold" text-anchor="start">2</text><text x="70.42" y="526.4" font-family="Liberation Sans" font-size="10.6" font-weight="bold" text-anchor="start">10</text><rect x="82.3" y="519.3" width="3.45" height="0.8" fill="#555"/><text x="85.93" y="521.7" font-family="Liberation Sans" font-size="6.9" font-weight="bold" text-anchor="start">1</text><text x="111.87" y="526.4" font-family="Liberation Sans" font-size="10.6" font-weight="bold" text-anchor="start">10</text><text x="123.36" y="521.7" font-family="Liberation Sans" font-size="6.9" font-weight="bold" text-anchor="start">0</text><text x="151.31" y="526.4" font-family="Liberation Sans" font-size="10.6" font-weight="bold" text-anchor="start">10</text><text x="162.8" y="521.7" font-family="Liberation Sans" font-size="6.9" font-weight="bold" text-anchor="start">1</text><text x="190.76" y="526.4" font-family="Liberation Sans" font-size="10.6" font-weight="bold" text-anchor="start">10</text><text x="202.24" y="521.7" font-family="Liberation Sans" font-size="6.9" font-weight="bold" text-anchor="start">2</text><text x="230.2" y="526.4" font-family="Liberation Sans" font-size="10.6" font-weight="bold" text-anchor="start">10</text><text x="241.69" y="521.7" font-family="Liberation Sans" font-size="6.9" font-weight="bold" text-anchor="start">3</text><text x="269.64" y="526.4" font-family="Liberation Sans" font-size="10.6" font-weight="bold" text-anchor="start">10</text><text x="281.13" y="521.7" font-family="Liberation Sans" font-size="6.9" font-weight="bold" text-anchor="start">4</text><text x="309.08" y="526.4" font-family="Liberation Sans" font-size="10.6" font-weight="bold" text-anchor="start">10</text><text x="320.57" y="521.7" font-family="Liberation Sans" font-size="6.9" font-weight="bold" text-anchor="start">5</text><text x="185.95" y="543.8" font-family="Liberation Sans" font-size="12.2" font-weight="bold" text-anchor="middle">f (Hz)</text><path d="M40.5 509.4h-2.5M40.5 504.63h-2.5M40.5 501.25h-2.5M40.5 498.62h-2.5M40.5 496.48h-2.5M40.5 494.66h-2.5M40.5 493.09h-2.5M40.5 491.71h-2.5M40.5 490.47h-4.8M40.5 482.31h-2.5M40.5 477.54h-2.5M40.5 474.16h-2.5M40.5 471.53h-2.5M40.5 469.39h-2.5M40.5 467.58h-2.5M40.5 466.01h-2.5M40.5 464.62h-2.5M40.5 463.38h-4.8M40.5 455.23h-2.5M40.5 450.46h-2.5M40.5 447.07h-2.5M40.5 444.45h-2.5M40.5 442.3h-2.5M40.5 440.49h-2.5M40.5 438.92h-2.5M40.5 437.53h-2.5M40.5 436.29h-4.8M40.5 428.14h-2.5M40.5 423.37h-2.5M40.5 419.99h-2.5M40.5 417.36h-2.5M40.5 415.22h-2.5M40.5 413.4h-2.5M40.5 411.83h-2.5M40.5 410.45h-2.5M40.5 409.21h-4.8M40.5 401.05h-2.5M40.5 396.28h-2.5M40.5 392.9h-2.5M40.5 390.28h-2.5M40.5 388.13h-2.5M40.5 386.32h-2.5M40.5 384.75h-2.5M40.5 383.36h-2.5M40.5 382.12h-4.8M40.5 373.97h-2.5M40.5 369.2h-2.5M40.5 365.81h-2.5M40.5 363.19h-2.5M40.5 361.04h-2.5M40.5 359.23h-2.5M40.5 357.66h-2.5M40.5 356.27h-2.5M40.5 355.03h-4.8M40.5 346.88h-2.5M40.5 342.11h-2.5M40.5 338.73h-2.5M40.5 336.1h-2.5M40.5 333.96h-2.5M40.5 332.14h-2.5M40.5 330.57h-2.5M40.5 329.19h-2.5M40.5 327.95h-4.8M40.5 319.79h-2.5M40.5 315.02h-2.5M40.5 311.64h-2.5M40.5 309.02h-2.5M40.5 306.87h-2.5M40.5 305.06h-2.5M40.5 303.49h-2.5M40.5 302.1h-2.5M40.5 300.86h-4.8M40.5 292.71h-2.5M40.5 287.94h-2.5M40.5 284.55h-2.5M40.5 281.93h-2.5M40.5 279.78h-2.5M40.5 277.97h-2.5M40.5 276.4h-2.5" stroke="#2b2b2b" stroke-width="1" fill="none"/><text x="17.18" y="494.27" font-family="Liberation Sans" font-size="10.6" font-weight="bold" text-anchor="start">10</text><text x="28.66" y="489.57" font-family="Liberation Sans" font-size="6.9" font-weight="bold" text-anchor="start">1</text><text x="17.18" y="467.18" font-family="Liberation Sans" font-size="10.6" font-weight="bold" text-anchor="start">10</text><text x="28.66" y="462.48" font-family="Liberation Sans" font-size="6.9" font-weight="bold" text-anchor="start">2</text><text x="17.18" y="440.09" font-family="Liberation Sans" font-size="10.6" font-weight="bold" text-anchor="start">10</text><text x="28.66" y="435.39" font-family="Liberation Sans" font-size="6.9" font-weight="bold" text-anchor="start">3</text><text x="17.18" y="413.01" font-family="Liberation Sans" font-size="10.6" font-weight="bold" text-anchor="start">10</text><text x="28.66" y="408.31" font-family="Liberation Sans" font-size="6.9" font-weight="bold" text-anchor="start">4</text><text x="17.18" y="385.92" font-family="Liberation Sans" font-size="10.6" font-weight="bold" text-anchor="start">10</text><text x="28.66" y="381.22" font-family="Liberation Sans" font-size="6.9" font-weight="bold" text-anchor="start">5</text><text x="17.18" y="358.83" font-family="Liberation Sans" font-size="10.6" font-weight="bold" text-anchor="start">10</text><text x="28.66" y="354.13" font-family="Liberation Sans" font-size="6.9" font-weight="bold" text-anchor="start">6</text><text x="17.18" y="331.75" font-family="Liberation Sans" font-size="10.6" font-weight="bold" text-anchor="start">10</text><text x="28.66" y="327.05" font-family="Liberation Sans" font-size="6.9" font-weight="bold" text-anchor="start">7</text><text x="17.18" y="304.66" font-family="Liberation Sans" font-size="10.6" font-weight="bold" text-anchor="start">10</text><text x="28.66" y="299.96" font-family="Liberation Sans" font-size="6.9" font-weight="bold" text-anchor="start">8</text><text transform="translate(13.0 393.3) rotate(-90)" font-family="Liberation Sans" font-size="14.5" font-weight="bold" text-anchor="middle" textLength="57" lengthAdjust="spacingAndGlyphs">|Z| (&#937; cm<tspan font-size="9" dy="-5.5">2</tspan><tspan dy="5.5">)</tspan></text><rect x="277.13" y="284.53" width="4.14" height="4.14" fill="#D6A43E"/><text x="294.8" y="290.2" font-family="Liberation Sans" font-size="10.9" font-weight="normal" text-anchor="start" class="lg">1h</text><circle cx="279.2" cy="300.07" r="2.34" fill="#FF1010"/><text x="294.8" y="303.67" font-family="Liberation Sans" font-size="10.9" font-weight="normal" text-anchor="start" class="lg">2h</text><polygon points="279.2,310.75 281.81,315.52 276.59,315.52" fill="#10F010"/><text x="294.8" y="317.14" font-family="Liberation Sans" font-size="10.9" font-weight="normal" text-anchor="start" class="lg">3h</text><polygon points="279.2,329.8 281.81,325.03 276.59,325.03" fill="#1010FF"/><text x="294.8" y="330.61" font-family="Liberation Sans" font-size="10.9" font-weight="normal" text-anchor="start" class="lg">4h</text><polygon points="279.2,337.69 281.72,340.48 279.2,343.27 276.68,340.48" fill="#50F0F8"/><text x="294.8" y="344.08" font-family="Liberation Sans" font-size="10.9" font-weight="normal" text-anchor="start" class="lg">24h</text><polygon points="276.41,353.95 281.18,351.34 281.18,356.56" fill="#FF20F0"/><text x="294.8" y="357.55" font-family="Liberation Sans" font-size="10.9" font-weight="normal" text-anchor="start" class="lg">48h</text><polygon points="281.38,368.68 279.2,369.94 277.02,368.68 277.02,366.16 279.2,364.9 281.38,366.16" fill="#F2F830"/><text x="294.8" y="371.02" font-family="Liberation Sans" font-size="10.9" font-weight="normal" text-anchor="start" class="lg">72h</text><polygon points="281.99,380.89 277.22,378.28 277.22,383.5" fill="#2A8A22"/><text x="294.8" y="384.49" font-family="Liberation Sans" font-size="10.9" font-weight="normal" text-anchor="start" class="lg">96h</text><polygon points="279.2,391.75 281.68,393.55 280.73,396.47 277.67,396.47 276.72,393.55" fill="#000000"/><text x="294.8" y="397.96" font-family="Liberation Sans" font-size="10.9" font-weight="normal" text-anchor="start" class="lg">120h</text><path d="M267.3 408.33H291.8" stroke="#666" stroke-width="1.2"/><text x="294.8" y="411.73" font-family="Liberation Sans" font-size="10.9" font-weight="normal" text-anchor="start" class="lg">fittings</text><rect x="393.2" y="276" width="289.5" height="232.4" fill="none" stroke="#2b2b2b" stroke-width="1.1"/><path d="M393.2 508.4v4.8M405.06 508.4v2.5M411.99 508.4v2.5M416.91 508.4v2.5M420.73 508.4v2.5M423.85 508.4v2.5M426.49 508.4v2.5M428.77 508.4v2.5M430.79 508.4v2.5M432.59 508.4v4.8M444.44 508.4v2.5M451.38 508.4v2.5M456.3 508.4v2.5M460.12 508.4v2.5M463.24 508.4v2.5M465.87 508.4v2.5M468.16 508.4v2.5M470.17 508.4v2.5M471.98 508.4v4.8M483.83 508.4v2.5M490.77 508.4v2.5M495.69 508.4v2.5M499.51 508.4v2.5M502.63 508.4v2.5M505.26 508.4v2.5M507.55 508.4v2.5M509.56 508.4v2.5M511.36 508.4v4.8M523.22 508.4v2.5M530.16 508.4v2.5M535.08 508.4v2.5M538.89 508.4v2.5M542.01 508.4v2.5M544.65 508.4v2.5M546.93 508.4v2.5M548.95 508.4v2.5M550.75 508.4v4.8M562.61 508.4v2.5M569.54 508.4v2.5M574.46 508.4v2.5M578.28 508.4v2.5M581.4 508.4v2.5M584.04 508.4v2.5M586.32 508.4v2.5M588.34 508.4v2.5M590.14 508.4v4.8M602 508.4v2.5M608.93 508.4v2.5M613.85 508.4v2.5M617.67 508.4v2.5M620.79 508.4v2.5M623.43 508.4v2.5M625.71 508.4v2.5M627.72 508.4v2.5M629.53 508.4v4.8M641.38 508.4v2.5M648.32 508.4v2.5M653.24 508.4v2.5M657.06 508.4v2.5M660.18 508.4v2.5M662.81 508.4v2.5M665.1 508.4v2.5M667.11 508.4v2.5M668.91 508.4v4.8M680.77 508.4v2.5" stroke="#2b2b2b" stroke-width="1" fill="none"/><text x="383.67" y="525.4" font-family="Liberation Sans" font-size="10.6" font-weight="bold" text-anchor="start">10</text><rect x="395.56" y="518.3" width="3.45" height="0.8" fill="#555"/><text x="399.19" y="520.7" font-family="Liberation Sans" font-size="6.9" font-weight="bold" text-anchor="start">2</text><text x="423.06" y="525.4" font-family="Liberation Sans" font-size="10.6" font-weight="bold" text-anchor="start">10</text><rect x="434.95" y="518.3" width="3.45" height="0.8" fill="#555"/><text x="438.58" y="520.7" font-family="Liberation Sans" font-size="6.9" font-weight="bold" text-anchor="start">1</text><text x="464.46" y="525.4" font-family="Liberation Sans" font-size="10.6" font-weight="bold" text-anchor="start">10</text><text x="475.95" y="520.7" font-family="Liberation Sans" font-size="6.9" font-weight="bold" text-anchor="start">0</text><text x="503.85" y="525.4" font-family="Liberation Sans" font-size="10.6" font-weight="bold" text-anchor="start">10</text><text x="515.34" y="520.7" font-family="Liberation Sans" font-size="6.9" font-weight="bold" text-anchor="start">1</text><text x="543.24" y="525.4" font-family="Liberation Sans" font-size="10.6" font-weight="bold" text-anchor="start">10</text><text x="554.73" y="520.7" font-family="Liberation Sans" font-size="6.9" font-weight="bold" text-anchor="start">2</text><text x="582.63" y="525.4" font-family="Liberation Sans" font-size="10.6" font-weight="bold" text-anchor="start">10</text><text x="594.11" y="520.7" font-family="Liberation Sans" font-size="6.9" font-weight="bold" text-anchor="start">3</text><text x="622.01" y="525.4" font-family="Liberation Sans" font-size="10.6" font-weight="bold" text-anchor="start">10</text><text x="633.5" y="520.7" font-family="Liberation Sans" font-size="6.9" font-weight="bold" text-anchor="start">4</text><text x="661.4" y="525.4" font-family="Liberation Sans" font-size="10.6" font-weight="bold" text-anchor="start">10</text><text x="672.89" y="520.7" font-family="Liberation Sans" font-size="6.9" font-weight="bold" text-anchor="start">5</text><text x="538.45" y="542.8" font-family="Liberation Sans" font-size="12.2" font-weight="bold" text-anchor="middle">f (Hz)</text><path d="M393.2 508.4h-4.8M393.2 482.58h-2.5M393.2 456.76h-4.8M393.2 430.93h-2.5M393.2 405.11h-4.8M393.2 379.29h-2.5M393.2 353.47h-4.8M393.2 327.64h-2.5M393.2 301.82h-4.8M393.2 276h-2.5" stroke="#2b2b2b" stroke-width="1" fill="none"/><text x="385.9" y="512.2" font-family="Liberation Sans" font-size="11" font-weight="bold" text-anchor="end">0</text><text x="385.9" y="460.56" font-family="Liberation Sans" font-size="11" font-weight="bold" text-anchor="end">20</text><rect x="368.4" y="456.66" width="5.3" height="0.9" fill="#444"/><text x="385.9" y="408.91" font-family="Liberation Sans" font-size="11" font-weight="bold" text-anchor="end">40</text><rect x="368.4" y="405.01" width="5.3" height="0.9" fill="#444"/><text x="385.9" y="357.27" font-family="Liberation Sans" font-size="11" font-weight="bold" text-anchor="end">60</text><rect x="368.4" y="353.37" width="5.3" height="0.9" fill="#444"/><text x="385.9" y="305.62" font-family="Liberation Sans" font-size="11" font-weight="bold" text-anchor="end">80</text><rect x="368.4" y="301.72" width="5.3" height="0.9" fill="#444"/><text transform="translate(363.6 392.7) rotate(-90)" font-family="Liberation Sans" font-size="12.6" font-weight="bold" text-anchor="middle" textLength="116.5" lengthAdjust="spacingAndGlyphs">Phase angle (Degree)</text><text x="77.3" y="301" font-family="Liberation Sans" font-size="23.5" font-weight="normal" text-anchor="start" stroke="#000" stroke-width="0.3">(c)</text><text x="126.6" y="300.8" font-family="Liberation Serif" font-size="23.4" font-weight="normal" text-anchor="start" stroke="#000" stroke-width="0.35">PEO-Zeolite</text><text x="401.5" y="300.3" font-family="Liberation Sans" font-size="23.5" font-weight="normal" text-anchor="start" stroke="#000" stroke-width="0.3">(d)</text><clipPath id="cl2"><rect x="40.5" y="550.8" width="289.9" height="232.7"/></clipPath><clipPath id="cr2"><rect x="393.2" y="549.3" width="289.5" height="232.7"/></clipPath><g clip-path="url(#cl2)"><path d="M41.2 579.6h0M47.9 581.8h0M54.6 583.9h0M61.2 585.5h0M67.9 587.2h0M74.6 589h0M81.3 591.2h0M87.9 593.8h0M94.6 595.7h0M101.3 598.7h0M108 600h0M114.7 604h0M121.3 608h0M128 612h0M134.7 615.9h0M141.4 619.8h0M148 623.8h0M154.7 627.8h0M161.4 631.8h0M168.1 635.7h0M174.7 639.7h0M181.4 643.4h0M188.1 647.1h0M194.8 650.7h0M201.5 654.1h0M208.1 658.1h0M214.8 662.1h0M221.5 666.2h0M228.2 670.2h0M234.8 673.5h0M241.5 677.1h0M248.2 681.1h0M254.9 685.2h0M261.5 688.7h0M268.2 692.9h0M274.9 697.1h0M281.6 700.7h0M288.2 704.2h0M294.9 708.4h0M301.6 712.2h0M308.3 716.3h0M315 720.2h0M321.6 723.7h0M328.3 726.4h0" stroke="#D6A43E" stroke-width="4.6" stroke-linecap="square"/><path d="M41.2 579.6 44.4 580.7 47.7 581.7 50.9 582.8 54.1 583.8 57.3 584.6 60.6 585.3 63.8 586.1 67 587 70.2 587.8 73.5 588.7 76.7 589.6 79.9 590.7 83.1 591.9 86.4 593.2 89.6 594.3 92.8 595.1 96 596.3 99.3 597.9 102.5 599 105.7 599.5 109 600.4 112.2 602.3 115.4 604.4 118.6 606.4 121.9 608.3 125.1 610.2 128.3 612.1 131.5 614 134.8 615.9 138 617.8 141.2 619.8 144.4 621.7 147.7 623.6 150.9 625.5 154.1 627.5 157.3 629.4 160.6 631.3 163.8 633.2 167 635.1 170.2 637 173.5 639 176.7 640.8 179.9 642.6 183.1 644.4 186.4 646.2 189.6 648 192.8 649.7 196.1 651.3 199.3 653 202.5 654.7 205.7 656.6 209 658.6 212.2 660.5 215.4 662.5 218.6 664.4 221.9 666.4 225.1 668.4 228.3 670.3 231.5 671.9 234.8 673.5 238 675.2 241.2 676.9 244.4 678.8 247.7 680.8 250.9 682.8 254.1 684.7 257.3 686.5 260.6 688.2 263.8 690.1 267 692.1 270.2 694.2 273.5 696.3 276.7 698.1 279.9 699.8 283.1 701.5 286.4 703.1 289.6 705 292.8 707.1 296.1 709.1 299.3 710.9 302.5 712.8 305.7 714.8 309 716.7 312.2 718.6 315.4 720.4 318.6 722.2 321.9 723.8 325.1 725.2 328.3 726.4" fill="none" stroke="#D6A43E" stroke-width="0.9"/><path d="M41.2 580.2h0M47.9 582.4h0M54.6 584.5h0M61.2 586.1h0M67.9 587.8h0M74.6 589.6h0M81.3 591.8h0M87.9 594.4h0M94.6 596.3h0M101.3 599.3h0M108 600.1h0M114.7 604.1h0M121.3 608.2h0M128 612.2h0M134.7 616.2h0M141.4 620.2h0M148 624.3h0M154.7 628.4h0M161.4 632.4h0M168.1 636.4h0M174.7 640.4h0M181.4 644.2h0M188.1 648h0M194.8 651.6h0M201.5 655.1h0M208.1 659.1h0M214.8 663.2h0M221.5 667.3h0M228.2 671.4h0M234.8 674.8h0M241.5 678.4h0M248.2 682.5h0M254.9 686.6h0M261.5 690.2h0M268.2 694.4h0M274.9 698.7h0M281.6 702.2h0M288.2 705.8h0M294.9 710h0M301.6 713.8h0M308.3 718h0M315 721.8h0M321.6 725.4h0M328.3 728.1h0" stroke="#FF1010" stroke-width="5.6" stroke-linecap="round"/><path d="M41.2 580.2 44.4 581.3 47.7 582.3 50.9 583.4 54.1 584.4 57.3 585.2 60.6 585.9 63.8 586.7 67 587.6 70.2 588.4 73.5 589.3 76.7 590.2 79.9 591.3 83.1 592.5 86.4 593.8 89.6 594.9 92.8 595.7 96 596.9 99.3 598.6 102.5 599.5 105.7 599.8 109 600.4 112.2 602.4 115.4 604.6 118.6 606.5 121.9 608.5 125.1 610.5 128.3 612.4 131.5 614.3 134.8 616.2 138 618.2 141.2 620.2 144.4 622.1 147.7 624.1 150.9 626 154.1 628 157.3 630 160.6 631.9 163.8 633.9 167 635.8 170.2 637.7 173.5 639.7 176.7 641.6 179.9 643.4 183.1 645.2 186.4 647 189.6 648.8 192.8 650.6 196.1 652.3 199.3 653.9 202.5 655.7 205.7 657.6 209 659.6 212.2 661.6 215.4 663.6 218.6 665.5 221.9 667.5 225.1 669.6 228.3 671.5 231.5 673.1 234.8 674.8 238 676.5 241.2 678.2 244.4 680.2 247.7 682.2 250.9 684.2 254.1 686.2 257.3 687.9 260.6 689.6 263.8 691.6 267 693.7 270.2 695.8 273.5 697.8 276.7 699.7 279.9 701.4 283.1 703 286.4 704.7 289.6 706.6 292.8 708.7 296.1 710.7 299.3 712.5 302.5 714.4 305.7 716.4 309 718.4 312.2 720.3 315.4 722.1 318.6 723.8 321.9 725.5 325.1 726.9 328.3 728.1" fill="none" stroke="#FF1010" stroke-width="0.9"/><path d="M41.2 575.7l2.9 5.3 -5.8 0zM47.9 577.9l2.9 5.3 -5.8 0zM54.6 580l2.9 5.3 -5.8 0zM61.2 581.6l2.9 5.3 -5.8 0zM67.9 583.3l2.9 5.3 -5.8 0zM74.6 585.1l2.9 5.3 -5.8 0zM81.3 587.3l2.9 5.3 -5.8 0zM87.9 589.9l2.9 5.3 -5.8 0zM94.6 591.8l2.9 5.3 -5.8 0zM101.3 594.8l2.9 5.3 -5.8 0zM108 596.5l2.9 5.3 -5.8 0zM114.7 600.5l2.9 5.3 -5.8 0zM121.3 604.6l2.9 5.3 -5.8 0zM128 608.7l2.9 5.3 -5.8 0zM134.7 612.6l2.9 5.3 -5.8 0zM141.4 616.7l2.9 5.3 -5.8 0zM148 620.8l2.9 5.3 -5.8 0zM154.7 624.8l2.9 5.3 -5.8 0zM161.4 628.9l2.9 5.3 -5.8 0zM168.1 632.9l2.9 5.3 -5.8 0zM174.7 636.9l2.9 5.3 -5.8 0zM181.4 640.7l2.9 5.3 -5.8 0zM188.1 644.5l2.9 5.3 -5.8 0zM194.8 648.1l2.9 5.3 -5.8 0zM201.5 651.5l2.9 5.3 -5.8 0zM208.1 655.5l2.9 5.3 -5.8 0zM214.8 659.6l2.9 5.3 -5.8 0zM221.5 663.7l2.9 5.3 -5.8 0zM228.2 667.8l2.9 5.3 -5.8 0zM234.8 671.2l2.9 5.3 -5.8 0zM241.5 674.8l2.9 5.3 -5.8 0zM248.2 678.8l2.9 5.3 -5.8 0zM254.9 682.9l2.9 5.3 -5.8 0zM261.5 686.5l2.9 5.3 -5.8 0zM268.2 690.7l2.9 5.3 -5.8 0zM274.9 694.9l2.9 5.3 -5.8 0zM281.6 698.5l2.9 5.3 -5.8 0zM288.2 702l2.9 5.3 -5.8 0zM294.9 706.2l2.9 5.3 -5.8 0zM301.6 710l2.9 5.3 -5.8 0zM308.3 714.1l2.9 5.3 -5.8 0zM315 718l2.9 5.3 -5.8 0zM321.6 721.5l2.9 5.3 -5.8 0zM328.3 724.2l2.9 5.3 -5.8 0z" fill="#10F010"/><path d="M41.2 578.8 44.4 579.9 47.7 580.9 50.9 582 54.1 583 57.3 583.8 60.6 584.5 63.8 585.3 67 586.2 70.2 587 73.5 587.9 76.7 588.8 79.9 589.9 83.1 591.1 86.4 592.4 89.6 593.5 92.8 594.3 96 595.5 99.3 597.1 102.5 598.2 105.7 598.9 109 600 112.2 602 115.4 604.1 118.6 606.1 121.9 608 125.1 610 128.3 611.9 131.5 613.9 134.8 615.8 138 617.7 141.2 619.7 144.4 621.7 147.7 623.6 150.9 625.6 154.1 627.6 157.3 629.5 160.6 631.5 163.8 633.4 167 635.3 170.2 637.3 173.5 639.3 176.7 641.2 179.9 643 183.1 644.8 186.4 646.6 189.6 648.4 192.8 650.1 196.1 651.8 199.3 653.5 202.5 655.2 205.7 657.2 209 659.1 212.2 661.1 215.4 663.1 218.6 665.1 221.9 667 225.1 669.1 228.3 671 231.5 672.6 234.8 674.2 238 675.9 241.2 677.7 244.4 679.6 247.7 681.6 250.9 683.6 254.1 685.6 257.3 687.4 260.6 689.1 263.8 691 267 693.1 270.2 695.1 273.5 697.2 276.7 699 279.9 700.7 283.1 702.4 286.4 704 289.6 705.9 292.8 708 296.1 710 299.3 711.8 302.5 713.7 305.7 715.7 309 717.6 312.2 719.5 315.4 721.3 318.6 723.1 321.9 724.7 325.1 726.1 328.3 727.3" fill="none" stroke="#10F010" stroke-width="0.9"/><path d="M41.2 580.5l2.9 -5.3 -5.8 0zM47.9 582.7l2.9 -5.3 -5.8 0zM54.6 584.8l2.9 -5.3 -5.8 0zM61.2 586.4l2.9 -5.3 -5.8 0zM67.9 588.1l2.9 -5.3 -5.8 0zM74.6 589.9l2.9 -5.3 -5.8 0zM81.3 592.1l2.9 -5.3 -5.8 0zM87.9 594.7l2.9 -5.3 -5.8 0zM94.6 596.6l2.9 -5.3 -5.8 0zM101.3 599.6l2.9 -5.3 -5.8 0zM108 602.7l2.9 -5.3 -5.8 0zM114.7 606.9l2.9 -5.3 -5.8 0zM121.3 611l2.9 -5.3 -5.8 0zM128 615.1l2.9 -5.3 -5.8 0zM134.7 619.2l2.9 -5.3 -5.8 0zM141.4 623.3l2.9 -5.3 -5.8 0zM148 627.4l2.9 -5.3 -5.8 0zM154.7 631.6l2.9 -5.3 -5.8 0zM161.4 635.7l2.9 -5.3 -5.8 0zM168.1 639.7l2.9 -5.3 -5.8 0zM174.7 643.9l2.9 -5.3 -5.8 0zM181.4 647.7l2.9 -5.3 -5.8 0zM188.1 651.6l2.9 -5.3 -5.8 0zM194.8 655.3l2.9 -5.3 -5.8 0zM201.5 658.9l2.9 -5.3 -5.8 0zM208.1 663l2.9 -5.3 -5.8 0zM214.8 667.2l2.9 -5.3 -5.8 0zM221.5 671.4l2.9 -5.3 -5.8 0zM228.2 675.5l2.9 -5.3 -5.8 0zM234.8 679l2.9 -5.3 -5.8 0zM241.5 682.7l2.9 -5.3 -5.8 0zM248.2 686.9l2.9 -5.3 -5.8 0zM254.9 691.1l2.9 -5.3 -5.8 0zM261.5 694.8l2.9 -5.3 -5.8 0zM268.2 699l2.9 -5.3 -5.8 0zM274.9 703.3l2.9 -5.3 -5.8 0zM281.6 706.9l2.9 -5.3 -5.8 0zM288.2 710.4l2.9 -5.3 -5.8 0zM294.9 714.6l2.9 -5.3 -5.8 0zM301.6 718.5l2.9 -5.3 -5.8 0zM308.3 722.6l2.9 -5.3 -5.8 0zM315 726.5l2.9 -5.3 -5.8 0zM321.6 730.1l2.9 -5.3 -5.8 0zM328.3 732.8l2.9 -5.3 -5.8 0z" fill="#1010FF"/><path d="M41.2 577.4 44.4 578.5 47.7 579.5 50.9 580.6 54.1 581.6 57.3 582.4 60.6 583.1 63.8 583.9 67 584.8 70.2 585.6 73.5 586.5 76.7 587.4 79.9 588.5 83.1 589.7 86.4 591 89.6 592.1 92.8 592.9 96 594 99.3 595.5 102.5 597 105.7 598.5 109 600.2 112.2 602.2 115.4 604.2 118.6 606.2 121.9 608.2 125.1 610.2 128.3 612.2 131.5 614.2 134.8 616.1 138 618.1 141.2 620.1 144.4 622.1 147.7 624.1 150.9 626.1 154.1 628.1 157.3 630.1 160.6 632.1 163.8 634.1 167 636 170.2 638 173.5 640 176.7 641.9 179.9 643.7 183.1 645.6 186.4 647.5 189.6 649.3 192.8 651.1 196.1 652.9 199.3 654.6 202.5 656.4 205.7 658.4 209 660.4 212.2 662.4 215.4 664.4 218.6 666.5 221.9 668.5 225.1 670.6 228.3 672.5 231.5 674.2 234.8 675.9 238 677.6 241.2 679.5 244.4 681.4 247.7 683.5 250.9 685.5 254.1 687.6 257.3 689.4 260.6 691.1 263.8 693.1 267 695.2 270.2 697.3 273.5 699.3 276.7 701.2 279.9 702.9 283.1 704.6 286.4 706.3 289.6 708.1 292.8 710.2 296.1 712.2 299.3 714.1 302.5 715.9 305.7 718 309 720 312.2 721.8 315.4 723.6 318.6 725.4 321.9 727 325.1 728.5 328.3 729.7" fill="none" stroke="#1010FF" stroke-width="0.9"/><path d="M41.2 558.1l2.8 3.1 -2.8 3.1 -2.8 -3.1zM47.9 562.5l2.8 3.1 -2.8 3.1 -2.8 -3.1zM54.6 565.4l2.8 3.1 -2.8 3.1 -2.8 -3.1zM61.2 568.4l2.8 3.1 -2.8 3.1 -2.8 -3.1zM67.9 571.9l2.8 3.1 -2.8 3.1 -2.8 -3.1zM74.6 575.7l2.8 3.1 -2.8 3.1 -2.8 -3.1zM81.3 580l2.8 3.1 -2.8 3.1 -2.8 -3.1zM87.9 583.8l2.8 3.1 -2.8 3.1 -2.8 -3.1zM94.6 588.1l2.8 3.1 -2.8 3.1 -2.8 -3.1zM101.3 592.5l2.8 3.1 -2.8 3.1 -2.8 -3.1zM108 596l2.8 3.1 -2.8 3.1 -2.8 -3.1zM114.7 600.3l2.8 3.1 -2.8 3.1 -2.8 -3.1zM121.3 604.5l2.8 3.1 -2.8 3.1 -2.8 -3.1zM128 608.8l2.8 3.1 -2.8 3.1 -2.8 -3.1zM134.7 613l2.8 3.1 -2.8 3.1 -2.8 -3.1zM141.4 617.3l2.8 3.1 -2.8 3.1 -2.8 -3.1zM148 621.5l2.8 3.1 -2.8 3.1 -2.8 -3.1zM154.7 625.8l2.8 3.1 -2.8 3.1 -2.8 -3.1zM161.4 630.1l2.8 3.1 -2.8 3.1 -2.8 -3.1zM168.1 634.3l2.8 3.1 -2.8 3.1 -2.8 -3.1zM174.7 638.5l2.8 3.1 -2.8 3.1 -2.8 -3.1zM181.4 642.5l2.8 3.1 -2.8 3.1 -2.8 -3.1zM188.1 646.5l2.8 3.1 -2.8 3.1 -2.8 -3.1zM194.8 650.4l2.8 3.1 -2.8 3.1 -2.8 -3.1zM201.5 654.1l2.8 3.1 -2.8 3.1 -2.8 -3.1zM208.1 658.3l2.8 3.1 -2.8 3.1 -2.8 -3.1zM214.8 662.7l2.8 3.1 -2.8 3.1 -2.8 -3.1zM221.5 667l2.8 3.1 -2.8 3.1 -2.8 -3.1zM228.2 671.3l2.8 3.1 -2.8 3.1 -2.8 -3.1zM234.8 675l2.8 3.1 -2.8 3.1 -2.8 -3.1zM241.5 678.8l2.8 3.1 -2.8 3.1 -2.8 -3.1zM248.2 683.1l2.8 3.1 -2.8 3.1 -2.8 -3.1zM254.9 687.5l2.8 3.1 -2.8 3.1 -2.8 -3.1zM261.5 691.3l2.8 3.1 -2.8 3.1 -2.8 -3.1zM268.2 695.6l2.8 3.1 -2.8 3.1 -2.8 -3.1zM274.9 700l2.8 3.1 -2.8 3.1 -2.8 -3.1zM281.6 703.6l2.8 3.1 -2.8 3.1 -2.8 -3.1zM288.2 707.3l2.8 3.1 -2.8 3.1 -2.8 -3.1zM294.9 711.6l2.8 3.1 -2.8 3.1 -2.8 -3.1zM301.6 715.6l2.8 3.1 -2.8 3.1 -2.8 -3.1zM308.3 719.8l2.8 3.1 -2.8 3.1 -2.8 -3.1zM315 723.8l2.8 3.1 -2.8 3.1 -2.8 -3.1zM321.6 727.4l2.8 3.1 -2.8 3.1 -2.8 -3.1zM328.3 730.3l2.8 3.1 -2.8 3.1 -2.8 -3.1z" fill="#50F0F8"/><path d="M41.2 561.2 44.4 563.5 47.7 565.5 50.9 567 54.1 568.3 57.3 569.7 60.6 571.2 63.8 572.8 67 574.5 70.2 576.3 73.5 578.1 76.7 580.1 79.9 582.3 83.1 584.2 86.4 586 89.6 587.9 92.8 590 96 592.2 99.3 594.3 102.5 596.3 105.7 597.9 109 599.7 112.2 601.8 115.4 603.9 118.6 605.9 121.9 608 125.1 610.1 128.3 612.1 131.5 614.1 134.8 616.1 138 618.2 141.2 620.3 144.4 622.3 147.7 624.4 150.9 626.5 154.1 628.5 157.3 630.6 160.6 632.7 163.8 634.7 167 636.7 170.2 638.8 173.5 640.8 176.7 642.8 179.9 644.7 183.1 646.6 186.4 648.6 189.6 650.5 192.8 652.4 196.1 654.2 199.3 656 202.5 657.8 205.7 659.9 209 662 212.2 664.1 215.4 666.2 218.6 668.2 221.9 670.3 225.1 672.5 228.3 674.5 231.5 676.3 234.8 678 238 679.8 241.2 681.7 244.4 683.8 247.7 685.9 250.9 688 254.1 690.1 257.3 692 260.6 693.8 263.8 695.8 267 698 270.2 700.1 273.5 702.2 276.7 704.1 279.9 705.9 283.1 707.6 286.4 709.3 289.6 711.2 292.8 713.4 296.1 715.4 299.3 717.3 302.5 719.3 305.7 721.3 309 723.4 312.2 725.3 315.4 727.2 318.6 729 321.9 730.7 325.1 732.1 328.3 733.4" fill="none" stroke="#50F0F8" stroke-width="0.9"/><path d="M38.1 559.5l5.3 -2.9 0 5.8zM44.8 563.5l5.3 -2.9 0 5.8zM51.5 566.5l5.3 -2.9 0 5.8zM58.1 569.8l5.3 -2.9 0 5.8zM64.8 573.5l5.3 -2.9 0 5.8zM71.5 577.5l5.3 -2.9 0 5.8zM78.2 582l5.3 -2.9 0 5.8zM84.8 586l5.3 -2.9 0 5.8zM91.5 590.5l5.3 -2.9 0 5.8zM98.2 595l5.3 -2.9 0 5.8zM104.9 598.9l5.3 -2.9 0 5.8zM111.6 603.3l5.3 -2.9 0 5.8zM118.2 607.7l5.3 -2.9 0 5.8zM124.9 612l5.3 -2.9 0 5.8zM131.6 616.3l5.3 -2.9 0 5.8zM138.3 620.7l5.3 -2.9 0 5.8zM144.9 625.1l5.3 -2.9 0 5.8zM151.6 629.5l5.3 -2.9 0 5.8zM158.3 633.9l5.3 -2.9 0 5.8zM165 638.1l5.3 -2.9 0 5.8zM171.6 642.5l5.3 -2.9 0 5.8zM178.3 646.6l5.3 -2.9 0 5.8zM185 650.7l5.3 -2.9 0 5.8zM191.7 654.6l5.3 -2.9 0 5.8zM198.4 658.4l5.3 -2.9 0 5.8zM205 662.7l5.3 -2.9 0 5.8zM211.7 667.1l5.3 -2.9 0 5.8zM218.4 671.4l5.3 -2.9 0 5.8zM225.1 675.8l5.3 -2.9 0 5.8zM231.7 679.5l5.3 -2.9 0 5.8zM238.4 683.4l5.3 -2.9 0 5.8zM245.1 687.8l5.3 -2.9 0 5.8zM251.8 692.2l5.3 -2.9 0 5.8zM258.4 696.1l5.3 -2.9 0 5.8zM265.1 700.5l5.3 -2.9 0 5.8zM271.8 704.9l5.3 -2.9 0 5.8zM278.5 708.6l5.3 -2.9 0 5.8zM285.1 712.3l5.3 -2.9 0 5.8zM291.8 716.6l5.3 -2.9 0 5.8zM298.5 720.6l5.3 -2.9 0 5.8zM305.2 724.9l5.3 -2.9 0 5.8zM311.9 728.9l5.3 -2.9 0 5.8zM318.5 732.6l5.3 -2.9 0 5.8zM325.2 735.5l5.3 -2.9 0 5.8z" fill="#FF20F0"/><path d="M41.2 559.5 44.4 561.6 47.7 563.4 50.9 564.9 54.1 566.3 57.3 567.8 60.6 569.5 63.8 571.2 67 573 70.2 574.9 73.5 576.8 76.7 578.9 79.9 581.1 83.1 583.1 86.4 585 89.6 587.1 92.8 589.3 96 591.5 99.3 593.7 102.5 595.7 105.7 597.6 109 599.5 112.2 601.6 115.4 603.8 118.6 605.9 121.9 608 125.1 610.1 128.3 612.2 131.5 614.3 134.8 616.4 138 618.5 141.2 620.6 144.4 622.7 147.7 624.8 150.9 627 154.1 629.1 157.3 631.2 160.6 633.3 163.8 635.4 167 637.5 170.2 639.6 173.5 641.7 176.7 643.7 179.9 645.7 183.1 647.7 186.4 649.6 189.6 651.6 192.8 653.5 196.1 655.3 199.3 657.1 202.5 659 205.7 661.1 209 663.2 212.2 665.3 215.4 667.4 218.6 669.6 221.9 671.7 225.1 673.9 228.3 675.9 231.5 677.7 234.8 679.5 238 681.3 241.2 683.2 244.4 685.3 247.7 687.5 250.9 689.6 254.1 691.7 257.3 693.7 260.6 695.5 263.8 697.5 267 699.7 270.2 701.8 273.5 704 276.7 705.9 279.9 707.7 283.1 709.4 286.4 711.2 289.6 713.1 292.8 715.3 296.1 717.3 299.3 719.2 302.5 721.2 305.7 723.3 309 725.3 312.2 727.3 315.4 729.2 318.6 731 321.9 732.7 325.1 734.2 328.3 735.5" fill="none" stroke="#FF20F0" stroke-width="0.9"/><path d="M43.6 562.2l-2.4 1.4 -2.4 -1.4 0 -2.8 2.4 -1.4 2.4 1.4zM50.3 566.7l-2.4 1.4 -2.4 -1.4 0 -2.8 2.4 -1.4 2.4 1.4zM57 569.6l-2.4 1.4 -2.4 -1.4 0 -2.8 2.4 -1.4 2.4 1.4zM63.7 572.7l-2.4 1.4 -2.4 -1.4 0 -2.8 2.4 -1.4 2.4 1.4zM70.3 576.2l-2.4 1.4 -2.4 -1.4 0 -2.8 2.4 -1.4 2.4 1.4zM77 580.1l-2.4 1.4 -2.4 -1.4 0 -2.8 2.4 -1.4 2.4 1.4zM83.7 584.5l-2.4 1.4 -2.4 -1.4 0 -2.8 2.4 -1.4 2.4 1.4zM90.4 588.3l-2.4 1.4 -2.4 -1.4 0 -2.8 2.4 -1.4 2.4 1.4zM97 592.7l-2.4 1.4 -2.4 -1.4 0 -2.8 2.4 -1.4 2.4 1.4zM103.7 597.1l-2.4 1.4 -2.4 -1.4 0 -2.8 2.4 -1.4 2.4 1.4zM110.4 600.7l-2.4 1.4 -2.4 -1.4 0 -2.8 2.4 -1.4 2.4 1.4zM117.1 605.1l-2.4 1.4 -2.4 -1.4 0 -2.8 2.4 -1.4 2.4 1.4zM123.8 609.5l-2.4 1.4 -2.4 -1.4 0 -2.8 2.4 -1.4 2.4 1.4zM130.4 613.9l-2.4 1.4 -2.4 -1.4 0 -2.8 2.4 -1.4 2.4 1.4zM137.1 618.2l-2.4 1.4 -2.4 -1.4 0 -2.8 2.4 -1.4 2.4 1.4zM143.8 622.6l-2.4 1.4 -2.4 -1.4 0 -2.8 2.4 -1.4 2.4 1.4zM150.5 627l-2.4 1.4 -2.4 -1.4 0 -2.8 2.4 -1.4 2.4 1.4zM157.1 631.4l-2.4 1.4 -2.4 -1.4 0 -2.8 2.4 -1.4 2.4 1.4zM163.8 635.8l-2.4 1.4 -2.4 -1.4 0 -2.8 2.4 -1.4 2.4 1.4zM170.5 640.2l-2.4 1.4 -2.4 -1.4 0 -2.8 2.4 -1.4 2.4 1.4zM177.2 644.6l-2.4 1.4 -2.4 -1.4 0 -2.8 2.4 -1.4 2.4 1.4zM183.8 648.7l-2.4 1.4 -2.4 -1.4 0 -2.8 2.4 -1.4 2.4 1.4zM190.5 652.8l-2.4 1.4 -2.4 -1.4 0 -2.8 2.4 -1.4 2.4 1.4zM197.2 656.7l-2.4 1.4 -2.4 -1.4 0 -2.8 2.4 -1.4 2.4 1.4zM203.9 660.5l-2.4 1.4 -2.4 -1.4 0 -2.8 2.4 -1.4 2.4 1.4zM210.6 664.8l-2.4 1.4 -2.4 -1.4 0 -2.8 2.4 -1.4 2.4 1.4zM217.2 669.2l-2.4 1.4 -2.4 -1.4 0 -2.8 2.4 -1.4 2.4 1.4zM223.9 673.6l-2.4 1.4 -2.4 -1.4 0 -2.8 2.4 -1.4 2.4 1.4zM230.6 678l-2.4 1.4 -2.4 -1.4 0 -2.8 2.4 -1.4 2.4 1.4zM237.3 681.7l-2.4 1.4 -2.4 -1.4 0 -2.8 2.4 -1.4 2.4 1.4zM243.9 685.6l-2.4 1.4 -2.4 -1.4 0 -2.8 2.4 -1.4 2.4 1.4zM250.6 690l-2.4 1.4 -2.4 -1.4 0 -2.8 2.4 -1.4 2.4 1.4zM257.3 694.4l-2.4 1.4 -2.4 -1.4 0 -2.8 2.4 -1.4 2.4 1.4zM264 698.3l-2.4 1.4 -2.4 -1.4 0 -2.8 2.4 -1.4 2.4 1.4zM270.6 702.7l-2.4 1.4 -2.4 -1.4 0 -2.8 2.4 -1.4 2.4 1.4zM277.3 707.2l-2.4 1.4 -2.4 -1.4 0 -2.8 2.4 -1.4 2.4 1.4zM284 710.9l-2.4 1.4 -2.4 -1.4 0 -2.8 2.4 -1.4 2.4 1.4zM290.7 714.6l-2.4 1.4 -2.4 -1.4 0 -2.8 2.4 -1.4 2.4 1.4zM297.4 719l-2.4 1.4 -2.4 -1.4 0 -2.8 2.4 -1.4 2.4 1.4zM304 723l-2.4 1.4 -2.4 -1.4 0 -2.8 2.4 -1.4 2.4 1.4zM310.7 727.3l-2.4 1.4 -2.4 -1.4 0 -2.8 2.4 -1.4 2.4 1.4zM317.4 731.3l-2.4 1.4 -2.4 -1.4 0 -2.8 2.4 -1.4 2.4 1.4zM324.1 735l-2.4 1.4 -2.4 -1.4 0 -2.8 2.4 -1.4 2.4 1.4zM330.7 737.9l-2.4 1.4 -2.4 -1.4 0 -2.8 2.4 -1.4 2.4 1.4z" fill="#F2F830"/><path d="M41.2 560.8 44.4 563.2 47.7 565.1 50.9 566.7 54.1 568 57.3 569.5 60.6 571 63.8 572.6 67 574.3 70.2 576.1 73.5 578 76.7 580.1 79.9 582.2 83.1 584.2 86.4 586 89.6 588 92.8 590.1 96 592.2 99.3 594.5 102.5 596.4 105.7 598.1 109 599.9 112.2 602 115.4 604.2 118.6 606.3 121.9 608.5 125.1 610.6 128.3 612.7 131.5 614.8 134.8 616.9 138 619 141.2 621.1 144.4 623.3 147.7 625.4 150.9 627.5 154.1 629.6 157.3 631.8 160.6 633.9 163.8 636 167 638.1 170.2 640.2 173.5 642.3 176.7 644.4 179.9 646.4 183.1 648.3 186.4 650.3 189.6 652.3 192.8 654.2 196.1 656 199.3 657.8 202.5 659.7 205.7 661.8 209 663.9 212.2 666.1 215.4 668.2 218.6 670.3 221.9 672.5 225.1 674.6 228.3 676.7 231.5 678.5 234.8 680.3 238 682.1 241.2 684 244.4 686.1 247.7 688.3 250.9 690.4 254.1 692.6 257.3 694.5 260.6 696.3 263.8 698.4 267 700.5 270.2 702.7 273.5 704.9 276.7 706.8 279.9 708.6 283.1 710.3 286.4 712.1 289.6 714 292.8 716.2 296.1 718.3 299.3 720.2 302.5 722.1 305.7 724.2 309 726.3 312.2 728.3 315.4 730.1 318.6 732 321.9 733.7 325.1 735.2 328.3 736.5" fill="none" stroke="#F2F830" stroke-width="0.9"/><path d="M44.3 561.7l-5.3 -2.9 0 5.8zM51 566.1l-5.3 -2.9 0 5.8zM57.7 569l-5.3 -2.9 0 5.8zM64.3 572l-5.3 -2.9 0 5.8zM71 575.5l-5.3 -2.9 0 5.8zM77.7 579.3l-5.3 -2.9 0 5.8zM84.4 583.6l-5.3 -2.9 0 5.8zM91 587.4l-5.3 -2.9 0 5.8zM97.7 591.7l-5.3 -2.9 0 5.8zM104.4 596.1l-5.3 -2.9 0 5.8zM111.1 599.6l-5.3 -2.9 0 5.8zM117.8 604l-5.3 -2.9 0 5.8zM124.4 608.4l-5.3 -2.9 0 5.8zM131.1 612.8l-5.3 -2.9 0 5.8zM137.8 617.1l-5.3 -2.9 0 5.8zM144.5 621.5l-5.3 -2.9 0 5.8zM151.1 625.9l-5.3 -2.9 0 5.8zM157.8 630.3l-5.3 -2.9 0 5.8zM164.5 634.7l-5.3 -2.9 0 5.8zM171.2 639l-5.3 -2.9 0 5.8zM177.8 643.4l-5.3 -2.9 0 5.8zM184.5 647.5l-5.3 -2.9 0 5.8zM191.2 651.6l-5.3 -2.9 0 5.8zM197.9 655.5l-5.3 -2.9 0 5.8zM204.6 659.3l-5.3 -2.9 0 5.8zM211.2 663.6l-5.3 -2.9 0 5.8zM217.9 668l-5.3 -2.9 0 5.8zM224.6 672.4l-5.3 -2.9 0 5.8zM231.3 676.8l-5.3 -2.9 0 5.8zM237.9 680.5l-5.3 -2.9 0 5.8zM244.6 684.4l-5.3 -2.9 0 5.8zM251.3 688.8l-5.3 -2.9 0 5.8zM258 693.2l-5.3 -2.9 0 5.8zM264.6 697.1l-5.3 -2.9 0 5.8zM271.3 701.5l-5.3 -2.9 0 5.8zM278 705.9l-5.3 -2.9 0 5.8zM284.7 709.6l-5.3 -2.9 0 5.8zM291.3 713.3l-5.3 -2.9 0 5.8zM298 717.7l-5.3 -2.9 0 5.8zM304.7 721.7l-5.3 -2.9 0 5.8zM311.4 726l-5.3 -2.9 0 5.8zM318.1 730l-5.3 -2.9 0 5.8zM324.7 733.7l-5.3 -2.9 0 5.8zM331.4 736.6l-5.3 -2.9 0 5.8z" fill="#2A8A22"/><path d="M41.2 561.7 44.4 564 47.7 566 50.9 567.5 54.1 568.8 57.3 570.2 60.6 571.7 63.8 573.3 67 575 70.2 576.8 73.5 578.6 76.7 580.6 79.9 582.8 83.1 584.7 86.4 586.5 89.6 588.4 92.8 590.5 96 592.7 99.3 594.8 102.5 596.8 105.7 598.4 109 600.2 112.2 602.3 115.4 604.5 118.6 606.6 121.9 608.7 125.1 610.9 128.3 613 131.5 615.1 134.8 617.1 138 619.3 141.2 621.4 144.4 623.5 147.7 625.7 150.9 627.8 154.1 629.9 157.3 632 160.6 634.2 163.8 636.2 167 638.3 170.2 640.4 173.5 642.6 176.7 644.6 179.9 646.6 183.1 648.6 186.4 650.6 189.6 652.5 192.8 654.4 196.1 656.2 199.3 658 202.5 659.9 205.7 662 209 664.1 212.2 666.3 215.4 668.4 218.6 670.5 221.9 672.7 225.1 674.8 228.3 676.9 231.5 678.7 234.8 680.5 238 682.3 241.2 684.2 244.4 686.3 247.7 688.5 250.9 690.6 254.1 692.7 257.3 694.7 260.6 696.5 263.8 698.5 267 700.7 270.2 702.9 273.5 705 276.7 706.9 279.9 708.7 283.1 710.5 286.4 712.2 289.6 714.2 292.8 716.3 296.1 718.4 299.3 720.3 302.5 722.3 305.7 724.4 309 726.4 312.2 728.4 315.4 730.3 318.6 732.1 321.9 733.8 325.1 735.3 328.3 736.6" fill="none" stroke="#2A8A22" stroke-width="0.9"/><path d="M41.2 559.1l2.8 2 -1.1 3.2 -3.4 0 -1.1 -3.2zM47.9 563.5l2.8 2 -1.1 3.2 -3.4 0 -1.1 -3.2zM54.6 566.4l2.8 2 -1.1 3.2 -3.4 0 -1.1 -3.2zM61.2 569.4l2.8 2 -1.1 3.2 -3.4 0 -1.1 -3.2zM67.9 572.9l2.8 2 -1.1 3.2 -3.4 0 -1.1 -3.2zM74.6 576.7l2.8 2 -1.1 3.2 -3.4 0 -1.1 -3.2zM81.3 581l2.8 2 -1.1 3.2 -3.4 0 -1.1 -3.2zM87.9 584.8l2.8 2 -1.1 3.2 -3.4 0 -1.1 -3.2zM94.6 589.1l2.8 2 -1.1 3.2 -3.4 0 -1.1 -3.2zM101.3 593.5l2.8 2 -1.1 3.2 -3.4 0 -1.1 -3.2zM108 597l2.8 2 -1.1 3.2 -3.4 0 -1.1 -3.2zM114.7 601.4l2.8 2 -1.1 3.2 -3.4 0 -1.1 -3.2zM121.3 605.8l2.8 2 -1.1 3.2 -3.4 0 -1.1 -3.2zM128 610.2l2.8 2 -1.1 3.2 -3.4 0 -1.1 -3.2zM134.7 614.5l2.8 2 -1.1 3.2 -3.4 0 -1.1 -3.2zM141.4 618.9l2.8 2 -1.1 3.2 -3.4 0 -1.1 -3.2zM148 623.3l2.8 2 -1.1 3.2 -3.4 0 -1.1 -3.2zM154.7 627.7l2.8 2 -1.1 3.2 -3.4 0 -1.1 -3.2zM161.4 632.1l2.8 2 -1.1 3.2 -3.4 0 -1.1 -3.2zM168.1 636.4l2.8 2 -1.1 3.2 -3.4 0 -1.1 -3.2zM174.7 640.8l2.8 2 -1.1 3.2 -3.4 0 -1.1 -3.2zM181.4 644.9l2.8 2 -1.1 3.2 -3.4 0 -1.1 -3.2zM188.1 649l2.8 2 -1.1 3.2 -3.4 0 -1.1 -3.2zM194.8 652.9l2.8 2 -1.1 3.2 -3.4 0 -1.1 -3.2zM201.5 656.7l2.8 2 -1.1 3.2 -3.4 0 -1.1 -3.2zM208.1 661l2.8 2 -1.1 3.2 -3.4 0 -1.1 -3.2zM214.8 665.4l2.8 2 -1.1 3.2 -3.4 0 -1.1 -3.2zM221.5 669.8l2.8 2 -1.1 3.2 -3.4 0 -1.1 -3.2zM228.2 674.2l2.8 2 -1.1 3.2 -3.4 0 -1.1 -3.2zM234.8 677.9l2.8 2 -1.1 3.2 -3.4 0 -1.1 -3.2zM241.5 681.8l2.8 2 -1.1 3.2 -3.4 0 -1.1 -3.2zM248.2 686.2l2.8 2 -1.1 3.2 -3.4 0 -1.1 -3.2zM254.9 690.6l2.8 2 -1.1 3.2 -3.4 0 -1.1 -3.2zM261.5 694.5l2.8 2 -1.1 3.2 -3.4 0 -1.1 -3.2zM268.2 698.9l2.8 2 -1.1 3.2 -3.4 0 -1.1 -3.2zM274.9 703.3l2.8 2 -1.1 3.2 -3.4 0 -1.1 -3.2zM281.6 707l2.8 2 -1.1 3.2 -3.4 0 -1.1 -3.2zM288.2 710.7l2.8 2 -1.1 3.2 -3.4 0 -1.1 -3.2zM294.9 715.1l2.8 2 -1.1 3.2 -3.4 0 -1.1 -3.2zM301.6 719.1l2.8 2 -1.1 3.2 -3.4 0 -1.1 -3.2zM308.3 723.4l2.8 2 -1.1 3.2 -3.4 0 -1.1 -3.2zM315 727.4l2.8 2 -1.1 3.2 -3.4 0 -1.1 -3.2zM321.6 731.1l2.8 2 -1.1 3.2 -3.4 0 -1.1 -3.2zM328.3 734l2.8 2 -1.1 3.2 -3.4 0 -1.1 -3.2z" fill="#000000"/><path d="M41.2 562 44.4 564.3 47.7 566.3 50.9 567.8 54.1 569.1 57.3 570.5 60.6 572 63.8 573.6 67 575.3 70.2 577.1 73.5 578.9 76.7 580.9 79.9 583.1 83.1 585 86.4 586.8 89.6 588.7 92.8 590.8 96 593 99.3 595.1 102.5 597.1 105.7 598.7 109 600.5 112.2 602.6 115.4 604.8 118.6 606.9 121.9 609 125.1 611.2 128.3 613.3 131.5 615.4 134.8 617.4 138 619.6 141.2 621.7 144.4 623.8 147.7 626 150.9 628.1 154.1 630.2 157.3 632.3 160.6 634.5 163.8 636.5 167 638.6 170.2 640.7 173.5 642.9 176.7 644.9 179.9 646.9 183.1 648.9 186.4 650.9 189.6 652.8 192.8 654.7 196.1 656.5 199.3 658.3 202.5 660.2 205.7 662.3 209 664.4 212.2 666.6 215.4 668.7 218.6 670.8 221.9 673 225.1 675.1 228.3 677.2 231.5 679 234.8 680.8 238 682.6 241.2 684.5 244.4 686.6 247.7 688.8 250.9 690.9 254.1 693 257.3 695 260.6 696.8 263.8 698.8 267 701 270.2 703.2 273.5 705.3 276.7 707.2 279.9 709 283.1 710.8 286.4 712.5 289.6 714.5 292.8 716.6 296.1 718.7 299.3 720.6 302.5 722.6 305.7 724.7 309 726.7 312.2 728.7 315.4 730.6 318.6 732.4 321.9 734.1 325.1 735.6 328.3 736.9" fill="none" stroke="#000000" stroke-width="0.9"/></g><g clip-path="url(#cr2)"><path d="M393.9 711h0M400.6 706.2h0M407.2 701.2h0M413.9 695h0M420.6 689.1h0M427.2 681h0M433.9 671h0M440.6 659h0M447.2 645h0M453.9 629h0M460.6 613h0M467.3 599h0M473.9 589h0M480.6 582h0M487.3 578h0M493.9 576h0M500.6 575h0M507.3 574.5h0M513.9 574.5h0M520.6 575h0M527.3 575.5h0M533.9 576h0M540.6 577h0M547.3 580.4h0M553.9 581.9h0M560.6 583.2h0M567.3 584.7h0M573.9 586.9h0M580.6 588h0M587.3 589.1h0M593.9 589.8h0M600.6 590.7h0M607.3 591.3h0M613.9 591.3h0M620.6 592h0M627.3 592h0M633.9 592h0M640.6 592h0M647.3 592h0M653.9 592.9h0M660.6 595.7h0M667.3 597h0M673.9 597.9h0M680.6 599h0" stroke="#D6A43E" stroke-width="4.6" stroke-linecap="square"/><path d="M393.9 711 397.1 708.7 400.4 706.4 403.6 704 406.8 701.6 410 698.7 413.2 695.6 416.5 692.8 419.7 690 422.9 686.5 426.1 682.5 429.3 678.1 432.6 673.2 435.8 667.8 439 662 442.2 655.7 445.5 649 448.7 641.7 451.9 633.9 455.1 626.1 458.3 618.2 461.6 610.8 464.8 603.8 468 597.7 471.2 592.6 474.4 588.4 477.7 584.7 480.9 581.8 484.1 579.6 487.3 578 490.6 576.8 493.8 576 497 575.5 500.2 575 503.4 574.7 506.7 574.5 509.9 574.5 513.1 574.5 516.3 574.6 519.5 574.9 522.8 575.2 526 575.4 529.2 575.6 532.4 575.9 535.7 576.2 538.9 576.7 542.1 577.6 545.3 579.5 548.5 580.8 551.8 581.5 555 582.1 558.2 582.7 561.4 583.4 564.6 584.1 567.9 584.9 571.1 586 574.3 587 577.5 587.5 580.7 588 584 588.6 587.2 589.1 590.4 589.4 593.6 589.8 596.9 590.2 600.1 590.6 603.3 591 606.5 591.3 609.7 591.3 613 591.3 616.2 591.5 619.4 591.9 622.6 592 625.8 592 629.1 592 632.3 592 635.5 592 638.7 592 642 592 645.2 592 648.4 592 651.6 592.4 654.8 593.2 658.1 594.6 661.3 595.9 664.5 596.5 667.7 597.1 670.9 597.5 674.2 597.9 677.4 598.4 680.6 599" fill="none" stroke="#D6A43E" stroke-width="0.9"/><path d="M393.9 702.3h0M400.6 701.2h0M407.2 699h0M413.9 693.5h0M420.6 687.4h0M427.2 680.4h0M433.9 672.1h0M440.6 661.8h0M447.2 649.3h0M453.9 634.4h0M460.6 618.6h0M467.3 603.7h0M473.9 592.4h0M480.6 584h0M487.3 579.2h0M493.9 576.4h0M500.6 574.8h0M507.3 574.2h0M513.9 574.2h0M520.6 574.5h0M527.3 575h0M533.9 575.5h0M540.6 576.3h0M547.3 579.4h0M553.9 580.9h0M560.6 582.2h0M567.3 583.7h0M573.9 585.9h0M580.6 587h0M587.3 588.1h0M593.9 588.8h0M600.6 589.7h0M607.3 590.3h0M613.9 590.3h0M620.6 591h0M627.3 591h0M633.9 591h0M640.6 591h0M647.3 591h0M653.9 591.9h0M660.6 594.7h0M667.3 596h0M673.9 596.9h0M680.6 598h0" stroke="#FF1010" stroke-width="5.6" stroke-linecap="round"/><path d="M393.9 702.3 397.1 701.9 400.4 701.2 403.6 700.4 406.8 699.2 410 697.1 413.2 694.1 416.5 691.3 419.7 688.3 422.9 685.1 426.1 681.7 429.3 677.9 432.6 673.9 435.8 669.4 439 664.4 442.2 658.9 445.5 652.9 448.7 646.3 451.9 639.1 455.1 631.6 458.3 623.9 461.6 616.3 464.8 608.9 468 602.3 471.2 596.6 474.4 591.6 477.7 587.2 480.9 583.7 484.1 581.2 487.3 579.2 490.6 577.6 493.8 576.5 497 575.5 500.2 574.9 503.4 574.4 506.7 574.2 509.9 574.2 513.1 574.2 516.3 574.3 519.5 574.4 522.8 574.6 526 574.9 529.2 575.1 532.4 575.4 535.7 575.7 538.9 576 542.1 576.8 545.3 578.5 548.5 579.7 551.8 580.5 555 581.1 558.2 581.7 561.4 582.4 564.6 583.1 567.9 583.9 571.1 585 574.3 586 577.5 586.5 580.7 587 584 587.6 587.2 588.1 590.4 588.4 593.6 588.8 596.9 589.2 600.1 589.6 603.3 590 606.5 590.3 609.7 590.3 613 590.3 616.2 590.5 619.4 590.9 622.6 591 625.8 591 629.1 591 632.3 591 635.5 591 638.7 591 642 591 645.2 591 648.4 591 651.6 591.4 654.8 592.2 658.1 593.6 661.3 594.9 664.5 595.5 667.7 596.1 670.9 596.5 674.2 596.9 677.4 597.4 680.6 598" fill="none" stroke="#FF1010" stroke-width="0.9"/><path d="M393.9 690.4l2.9 5.3 -5.8 0zM400.6 688.7l2.9 5.3 -5.8 0zM407.2 687.8l2.9 5.3 -5.8 0zM413.9 684.9l2.9 5.3 -5.8 0zM420.6 679.9l2.9 5.3 -5.8 0zM427.2 673.3l2.9 5.3 -5.8 0zM433.9 665.2l2.9 5.3 -5.8 0zM440.6 654.3l2.9 5.3 -5.8 0zM447.2 639l2.9 5.3 -5.8 0zM453.9 622.5l2.9 5.3 -5.8 0zM460.6 607.6l2.9 5.3 -5.8 0zM467.3 593.6l2.9 5.3 -5.8 0zM473.9 584.2l2.9 5.3 -5.8 0zM480.6 577.6l2.9 5.3 -5.8 0zM487.3 573.9l2.9 5.3 -5.8 0zM493.9 572.2l2.9 5.3 -5.8 0zM500.6 571.1l2.9 5.3 -5.8 0zM507.3 570.4l2.9 5.3 -5.8 0zM513.9 570.4l2.9 5.3 -5.8 0zM520.6 570.4l2.9 5.3 -5.8 0zM527.3 571.1l2.9 5.3 -5.8 0zM533.9 571.7l2.9 5.3 -5.8 0zM540.6 572.6l2.9 5.3 -5.8 0zM547.3 575.3l2.9 5.3 -5.8 0zM553.9 576.8l2.9 5.3 -5.8 0zM560.6 578.1l2.9 5.3 -5.8 0zM567.3 579.6l2.9 5.3 -5.8 0zM573.9 581.8l2.9 5.3 -5.8 0zM580.6 582.9l2.9 5.3 -5.8 0zM587.3 584l2.9 5.3 -5.8 0zM593.9 584.7l2.9 5.3 -5.8 0zM600.6 585.6l2.9 5.3 -5.8 0zM607.3 586.2l2.9 5.3 -5.8 0zM613.9 586.2l2.9 5.3 -5.8 0zM620.6 586.9l2.9 5.3 -5.8 0zM627.3 586.9l2.9 5.3 -5.8 0zM633.9 586.9l2.9 5.3 -5.8 0zM640.6 586.9l2.9 5.3 -5.8 0zM647.3 586.9l2.9 5.3 -5.8 0zM653.9 587.8l2.9 5.3 -5.8 0zM660.6 590.6l2.9 5.3 -5.8 0zM667.3 591.9l2.9 5.3 -5.8 0zM673.9 592.8l2.9 5.3 -5.8 0zM680.6 593.9l2.9 5.3 -5.8 0z" fill="#10F010"/><path d="M393.9 693.5 397.1 692.6 400.4 691.8 403.6 691.4 406.8 691 410 690 413.2 688.4 416.5 686.3 419.7 683.8 422.9 680.9 426.1 677.6 429.3 674 432.6 670.1 435.8 665.6 439 660.3 442.2 654 445.5 646.4 448.7 638.6 451.9 630.5 455.1 622.8 458.3 615.6 461.6 608.6 464.8 601.5 468 595.5 471.2 590.7 474.4 586.7 477.7 583.2 480.9 580.5 484.1 578.5 487.3 577 490.6 576 493.8 575.3 497 574.7 500.2 574.3 503.4 573.8 506.7 573.5 509.9 573.5 513.1 573.5 516.3 573.5 519.5 573.5 522.8 573.6 526 574 529.2 574.4 532.4 574.7 535.7 575 538.9 575.4 542.1 576.2 545.3 577.6 548.5 578.7 551.8 579.5 555 580.1 558.2 580.7 561.4 581.4 564.6 582.1 567.9 582.9 571.1 584 574.3 585 577.5 585.5 580.7 586 584 586.6 587.2 587.1 590.4 587.4 593.6 587.8 596.9 588.2 600.1 588.6 603.3 589 606.5 589.3 609.7 589.3 613 589.3 616.2 589.5 619.4 589.9 622.6 590 625.8 590 629.1 590 632.3 590 635.5 590 638.7 590 642 590 645.2 590 648.4 590 651.6 590.4 654.8 591.2 658.1 592.6 661.3 593.9 664.5 594.5 667.7 595.1 670.9 595.5 674.2 595.9 677.4 596.4 680.6 597" fill="none" stroke="#10F010" stroke-width="0.9"/><path d="M393.9 690.5l2.9 -5.3 -5.8 0zM400.6 690.5l2.9 -5.3 -5.8 0zM407.2 689l2.9 -5.3 -5.8 0zM413.9 685.2l2.9 -5.3 -5.8 0zM420.6 680.2l2.9 -5.3 -5.8 0zM427.2 673l2.9 -5.3 -5.8 0zM433.9 663.8l2.9 -5.3 -5.8 0zM440.6 650.6l2.9 -5.3 -5.8 0zM447.2 634.9l2.9 -5.3 -5.8 0zM453.9 618.2l2.9 -5.3 -5.8 0zM460.6 604.2l2.9 -5.3 -5.8 0zM467.3 593.3l2.9 -5.3 -5.8 0zM473.9 585.4l2.9 -5.3 -5.8 0zM480.6 580.1l2.9 -5.3 -5.8 0zM487.3 577.3l2.9 -5.3 -5.8 0zM493.9 575.7l2.9 -5.3 -5.8 0zM500.6 574.7l2.9 -5.3 -5.8 0zM507.3 574.7l2.9 -5.3 -5.8 0zM513.9 574.7l2.9 -5.3 -5.8 0zM520.6 575.1l2.9 -5.3 -5.8 0zM527.3 575.7l2.9 -5.3 -5.8 0zM533.9 576.6l2.9 -5.3 -5.8 0zM540.6 577.9l2.9 -5.3 -5.8 0zM547.3 579.5l2.9 -5.3 -5.8 0zM553.9 581l2.9 -5.3 -5.8 0zM560.6 582.3l2.9 -5.3 -5.8 0zM567.3 583.8l2.9 -5.3 -5.8 0zM573.9 586l2.9 -5.3 -5.8 0zM580.6 587.1l2.9 -5.3 -5.8 0zM587.3 588.2l2.9 -5.3 -5.8 0zM593.9 588.9l2.9 -5.3 -5.8 0zM600.6 589.8l2.9 -5.3 -5.8 0zM607.3 590.4l2.9 -5.3 -5.8 0zM613.9 590.4l2.9 -5.3 -5.8 0zM620.6 591.1l2.9 -5.3 -5.8 0zM627.3 591.1l2.9 -5.3 -5.8 0zM633.9 591.1l2.9 -5.3 -5.8 0zM640.6 591.1l2.9 -5.3 -5.8 0zM647.3 591.1l2.9 -5.3 -5.8 0zM653.9 592l2.9 -5.3 -5.8 0zM660.6 594.8l2.9 -5.3 -5.8 0zM667.3 596.1l2.9 -5.3 -5.8 0zM673.9 597l2.9 -5.3 -5.8 0zM680.6 598.1l2.9 -5.3 -5.8 0z" fill="#1010FF"/><path d="M393.9 687.4 397.1 687.4 400.4 687.4 403.6 687 406.8 686 410 684.6 413.2 682.5 416.5 680.4 419.7 677.9 422.9 674.8 426.1 671.2 429.3 667.3 432.6 662.8 435.8 657.4 439 650.9 442.2 643.8 445.5 636.2 448.7 628.2 451.9 620 455.1 612.4 458.3 605.5 461.6 599.3 464.8 593.9 468 589.2 471.2 585.2 474.4 581.8 477.7 579 480.9 576.8 484.1 575.3 487.3 574.2 490.6 573.3 493.8 572.6 497 572 500.2 571.6 503.4 571.6 506.7 571.6 509.9 571.6 513.1 571.6 516.3 571.7 519.5 571.9 522.8 572.2 526 572.5 529.2 572.8 532.4 573.3 535.7 573.8 538.9 574.4 542.1 575.1 545.3 575.9 548.5 576.7 551.8 577.4 555 578.1 558.2 578.7 561.4 579.4 564.6 580.1 567.9 580.9 571.1 582 574.3 583 577.5 583.5 580.7 584 584 584.6 587.2 585.1 590.4 585.4 593.6 585.8 596.9 586.2 600.1 586.6 603.3 587 606.5 587.3 609.7 587.3 613 587.3 616.2 587.5 619.4 587.9 622.6 588 625.8 588 629.1 588 632.3 588 635.5 588 638.7 588 642 588 645.2 588 648.4 588 651.6 588.4 654.8 589.2 658.1 590.6 661.3 591.9 664.5 592.5 667.7 593.1 670.9 593.5 674.2 593.9 677.4 594.4 680.6 595" fill="none" stroke="#1010FF" stroke-width="0.9"/><path d="M393.9 640.1l2.8 3.1 -2.8 3.1 -2.8 -3.1zM400.6 632.9l2.8 3.1 -2.8 3.1 -2.8 -3.1zM407.2 624.9l2.8 3.1 -2.8 3.1 -2.8 -3.1zM413.9 614.9l2.8 3.1 -2.8 3.1 -2.8 -3.1zM420.6 609.4l2.8 3.1 -2.8 3.1 -2.8 -3.1zM427.2 598.9l2.8 3.1 -2.8 3.1 -2.8 -3.1zM433.9 589.7l2.8 3.1 -2.8 3.1 -2.8 -3.1zM440.6 581.4l2.8 3.1 -2.8 3.1 -2.8 -3.1zM447.2 575.4l2.8 3.1 -2.8 3.1 -2.8 -3.1zM453.9 570.4l2.8 3.1 -2.8 3.1 -2.8 -3.1zM460.6 567.4l2.8 3.1 -2.8 3.1 -2.8 -3.1zM467.3 565.4l2.8 3.1 -2.8 3.1 -2.8 -3.1zM473.9 563.9l2.8 3.1 -2.8 3.1 -2.8 -3.1zM480.6 562.7l2.8 3.1 -2.8 3.1 -2.8 -3.1zM487.3 562.3l2.8 3.1 -2.8 3.1 -2.8 -3.1zM493.9 562.3l2.8 3.1 -2.8 3.1 -2.8 -3.1zM500.6 562.3l2.8 3.1 -2.8 3.1 -2.8 -3.1zM507.3 562.7l2.8 3.1 -2.8 3.1 -2.8 -3.1zM513.9 563.2l2.8 3.1 -2.8 3.1 -2.8 -3.1zM520.6 563.8l2.8 3.1 -2.8 3.1 -2.8 -3.1zM527.3 564.5l2.8 3.1 -2.8 3.1 -2.8 -3.1zM533.9 564.9l2.8 3.1 -2.8 3.1 -2.8 -3.1zM540.6 566l2.8 3.1 -2.8 3.1 -2.8 -3.1zM547.3 567.1l2.8 3.1 -2.8 3.1 -2.8 -3.1zM553.9 568.2l2.8 3.1 -2.8 3.1 -2.8 -3.1zM560.6 568.9l2.8 3.1 -2.8 3.1 -2.8 -3.1zM567.3 569.3l2.8 3.1 -2.8 3.1 -2.8 -3.1zM573.9 569.7l2.8 3.1 -2.8 3.1 -2.8 -3.1zM580.6 571l2.8 3.1 -2.8 3.1 -2.8 -3.1zM587.3 572.2l2.8 3.1 -2.8 3.1 -2.8 -3.1zM593.9 573.2l2.8 3.1 -2.8 3.1 -2.8 -3.1zM600.6 574l2.8 3.1 -2.8 3.1 -2.8 -3.1zM607.3 573.9l2.8 3.1 -2.8 3.1 -2.8 -3.1zM613.9 574l2.8 3.1 -2.8 3.1 -2.8 -3.1zM620.6 574.4l2.8 3.1 -2.8 3.1 -2.8 -3.1zM627.3 575.2l2.8 3.1 -2.8 3.1 -2.8 -3.1zM633.9 576.4l2.8 3.1 -2.8 3.1 -2.8 -3.1zM640.6 578.3l2.8 3.1 -2.8 3.1 -2.8 -3.1zM647.3 579.9l2.8 3.1 -2.8 3.1 -2.8 -3.1zM653.9 582.5l2.8 3.1 -2.8 3.1 -2.8 -3.1zM660.6 585.7l2.8 3.1 -2.8 3.1 -2.8 -3.1zM667.3 588.9l2.8 3.1 -2.8 3.1 -2.8 -3.1zM673.9 592.4l2.8 3.1 -2.8 3.1 -2.8 -3.1zM680.6 594.1l2.8 3.1 -2.8 3.1 -2.8 -3.1z" fill="#50F0F8"/><path d="M393.9 643.2 397.1 639.8 400.4 636.3 403.6 632.6 406.8 628.6 410 623.7 413.2 618.8 416.5 615.8 419.7 613.4 422.9 609.3 426.1 603.8 429.3 599 432.6 594.6 435.8 590.3 439 586.3 442.2 582.9 445.5 580 448.7 577.3 451.9 574.8 455.1 572.9 458.3 571.4 461.6 570.2 464.8 569.2 468 568.3 471.2 567.6 474.4 566.9 477.7 566.2 480.9 565.8 484.1 565.5 487.3 565.4 490.6 565.4 493.8 565.4 497 565.4 500.2 565.4 503.4 565.5 506.7 565.8 509.9 566 513.1 566.2 516.3 566.5 519.5 566.8 522.8 567.1 526 567.5 529.2 567.7 532.4 567.9 535.7 568.2 538.9 568.8 542.1 569.3 545.3 569.9 548.5 570.4 551.8 571 555 571.4 558.2 571.8 561.4 572.1 564.6 572.3 567.9 572.4 571.1 572.6 574.3 572.8 577.5 573.4 580.7 574.1 584 574.7 587.2 575.3 590.4 575.8 593.6 576.3 596.9 576.7 600.1 577.1 603.3 577.1 606.5 577 609.7 577 613 577.1 616.2 577.2 619.4 577.4 622.6 577.6 625.8 578.1 629.1 578.5 632.3 579.1 635.5 579.9 638.7 580.9 642 581.7 645.2 582.5 648.4 583.4 651.6 584.6 654.8 586 658.1 587.5 661.3 589.1 664.5 590.7 667.7 592.2 670.9 594.1 674.2 595.6 677.4 596.6 680.6 597.2" fill="none" stroke="#50F0F8" stroke-width="0.9"/><path d="M390.8 628.3l5.3 -2.9 0 5.8zM397.5 623l5.3 -2.9 0 5.8zM404.1 614.7l5.3 -2.9 0 5.8zM410.8 607.7l5.3 -2.9 0 5.8zM417.5 598.9l5.3 -2.9 0 5.8zM424.1 591l5.3 -2.9 0 5.8zM430.8 583.6l5.3 -2.9 0 5.8zM437.5 577l5.3 -2.9 0 5.8zM444.1 570.9l5.3 -2.9 0 5.8zM450.8 568.5l5.3 -2.9 0 5.8zM457.5 567l5.3 -2.9 0 5.8zM464.2 565.5l5.3 -2.9 0 5.8zM470.8 564.5l5.3 -2.9 0 5.8zM477.5 563.5l5.3 -2.9 0 5.8zM484.2 563.1l5.3 -2.9 0 5.8zM490.8 563.1l5.3 -2.9 0 5.8zM497.5 563.1l5.3 -2.9 0 5.8zM504.2 563.5l5.3 -2.9 0 5.8zM510.8 564l5.3 -2.9 0 5.8zM517.5 564.6l5.3 -2.9 0 5.8zM524.2 565.3l5.3 -2.9 0 5.8zM530.8 565.7l5.3 -2.9 0 5.8zM537.5 566.8l5.3 -2.9 0 5.8zM544.2 567.9l5.3 -2.9 0 5.8zM550.8 569l5.3 -2.9 0 5.8zM557.5 569.7l5.3 -2.9 0 5.8zM564.2 570.1l5.3 -2.9 0 5.8zM570.8 570.5l5.3 -2.9 0 5.8zM577.5 570.8l5.3 -2.9 0 5.8zM584.2 571l5.3 -2.9 0 5.8zM590.8 571l5.3 -2.9 0 5.8zM597.5 570.8l5.3 -2.9 0 5.8zM604.2 570.8l5.3 -2.9 0 5.8zM610.8 571l5.3 -2.9 0 5.8zM617.5 571.4l5.3 -2.9 0 5.8zM624.2 572.3l5.3 -2.9 0 5.8zM630.8 573.6l5.3 -2.9 0 5.8zM637.5 575.6l5.3 -2.9 0 5.8zM644.2 578.4l5.3 -2.9 0 5.8zM650.8 582.1l5.3 -2.9 0 5.8zM657.5 589.2l5.3 -2.9 0 5.8zM664.2 595.2l5.3 -2.9 0 5.8zM670.8 600.7l5.3 -2.9 0 5.8zM677.5 601.8l5.3 -2.9 0 5.8z" fill="#FF20F0"/><path d="M393.9 628.3 397.1 626.1 400.4 623.2 403.6 619.4 406.8 615.2 410 611.8 413.2 608.4 416.5 604.4 419.7 600.1 422.9 596.1 426.1 592.3 429.3 588.6 432.6 585 435.8 581.7 439 578.5 442.2 575.3 445.5 572.2 448.7 570.2 451.9 569.1 455.1 568.2 458.3 567.5 461.6 566.8 464.8 566 468 565.4 471.2 564.9 474.4 564.4 477.7 563.9 480.9 563.5 484.1 563.2 487.3 563.1 490.6 563.1 493.8 563.1 497 563.1 500.2 563.1 503.4 563.2 506.7 563.5 509.9 563.7 513.1 563.9 516.3 564.2 519.5 564.5 522.8 564.8 526 565.2 529.2 565.4 532.4 565.6 535.7 565.9 538.9 566.5 542.1 567 545.3 567.6 548.5 568.1 551.8 568.7 555 569.1 558.2 569.5 561.4 569.8 564.6 570 567.9 570.1 571.1 570.3 574.3 570.5 577.5 570.7 580.7 570.8 584 570.9 587.2 571 590.4 571 593.6 571 596.9 570.9 600.1 570.8 603.3 570.8 606.5 570.8 609.7 570.8 613 571 616.2 571.1 619.4 571.3 622.6 571.6 625.8 572.1 629.1 572.6 632.3 573.2 635.5 574 638.7 575 642 576.1 645.2 577.4 648.4 578.9 651.6 580.6 654.8 582.9 658.1 586.4 661.3 589.8 664.5 592.8 667.7 595.6 670.9 598.7 674.2 600.7 677.4 601.5 680.6 601.8" fill="none" stroke="#FF20F0" stroke-width="0.9"/><path d="M396.3 640.2l-2.4 1.4 -2.4 -1.4 0 -2.8 2.4 -1.4 2.4 1.4zM403 631.9l-2.4 1.4 -2.4 -1.4 0 -2.8 2.4 -1.4 2.4 1.4zM409.7 624.4l-2.4 1.4 -2.4 -1.4 0 -2.8 2.4 -1.4 2.4 1.4zM416.3 613.9l-2.4 1.4 -2.4 -1.4 0 -2.8 2.4 -1.4 2.4 1.4zM423 604l-2.4 1.4 -2.4 -1.4 0 -2.8 2.4 -1.4 2.4 1.4zM429.7 595.4l-2.4 1.4 -2.4 -1.4 0 -2.8 2.4 -1.4 2.4 1.4zM436.3 587.4l-2.4 1.4 -2.4 -1.4 0 -2.8 2.4 -1.4 2.4 1.4zM443 580.9l-2.4 1.4 -2.4 -1.4 0 -2.8 2.4 -1.4 2.4 1.4zM449.7 575.4l-2.4 1.4 -2.4 -1.4 0 -2.8 2.4 -1.4 2.4 1.4zM456.3 571.4l-2.4 1.4 -2.4 -1.4 0 -2.8 2.4 -1.4 2.4 1.4zM463 569.2l-2.4 1.4 -2.4 -1.4 0 -2.8 2.4 -1.4 2.4 1.4zM469.7 567.4l-2.4 1.4 -2.4 -1.4 0 -2.8 2.4 -1.4 2.4 1.4zM476.3 566.4l-2.4 1.4 -2.4 -1.4 0 -2.8 2.4 -1.4 2.4 1.4zM483 565.2l-2.4 1.4 -2.4 -1.4 0 -2.8 2.4 -1.4 2.4 1.4zM489.7 564.8l-2.4 1.4 -2.4 -1.4 0 -2.8 2.4 -1.4 2.4 1.4zM496.3 564.8l-2.4 1.4 -2.4 -1.4 0 -2.8 2.4 -1.4 2.4 1.4zM503 564.8l-2.4 1.4 -2.4 -1.4 0 -2.8 2.4 -1.4 2.4 1.4zM509.7 565.2l-2.4 1.4 -2.4 -1.4 0 -2.8 2.4 -1.4 2.4 1.4zM516.3 565.7l-2.4 1.4 -2.4 -1.4 0 -2.8 2.4 -1.4 2.4 1.4zM523 566.3l-2.4 1.4 -2.4 -1.4 0 -2.8 2.4 -1.4 2.4 1.4zM529.7 567l-2.4 1.4 -2.4 -1.4 0 -2.8 2.4 -1.4 2.4 1.4zM536.4 567.4l-2.4 1.4 -2.4 -1.4 0 -2.8 2.4 -1.4 2.4 1.4zM543 568.5l-2.4 1.4 -2.4 -1.4 0 -2.8 2.4 -1.4 2.4 1.4zM549.7 569.6l-2.4 1.4 -2.4 -1.4 0 -2.8 2.4 -1.4 2.4 1.4zM556.4 570.7l-2.4 1.4 -2.4 -1.4 0 -2.8 2.4 -1.4 2.4 1.4zM563 571.4l-2.4 1.4 -2.4 -1.4 0 -2.8 2.4 -1.4 2.4 1.4zM569.7 571.8l-2.4 1.4 -2.4 -1.4 0 -2.8 2.4 -1.4 2.4 1.4zM576.4 572.2l-2.4 1.4 -2.4 -1.4 0 -2.8 2.4 -1.4 2.4 1.4zM583 572.5l-2.4 1.4 -2.4 -1.4 0 -2.8 2.4 -1.4 2.4 1.4zM589.7 572.7l-2.4 1.4 -2.4 -1.4 0 -2.8 2.4 -1.4 2.4 1.4zM596.4 572.7l-2.4 1.4 -2.4 -1.4 0 -2.8 2.4 -1.4 2.4 1.4zM603 572.5l-2.4 1.4 -2.4 -1.4 0 -2.8 2.4 -1.4 2.4 1.4zM609.7 572.5l-2.4 1.4 -2.4 -1.4 0 -2.8 2.4 -1.4 2.4 1.4zM616.4 572.7l-2.4 1.4 -2.4 -1.4 0 -2.8 2.4 -1.4 2.4 1.4zM623 573.1l-2.4 1.4 -2.4 -1.4 0 -2.8 2.4 -1.4 2.4 1.4zM629.7 574l-2.4 1.4 -2.4 -1.4 0 -2.8 2.4 -1.4 2.4 1.4zM636.4 575.3l-2.4 1.4 -2.4 -1.4 0 -2.8 2.4 -1.4 2.4 1.4zM643 577.3l-2.4 1.4 -2.4 -1.4 0 -2.8 2.4 -1.4 2.4 1.4zM649.7 580.1l-2.4 1.4 -2.4 -1.4 0 -2.8 2.4 -1.4 2.4 1.4zM656.4 583.8l-2.4 1.4 -2.4 -1.4 0 -2.8 2.4 -1.4 2.4 1.4zM663 588.2l-2.4 1.4 -2.4 -1.4 0 -2.8 2.4 -1.4 2.4 1.4zM669.7 591.9l-2.4 1.4 -2.4 -1.4 0 -2.8 2.4 -1.4 2.4 1.4zM676.4 595.9l-2.4 1.4 -2.4 -1.4 0 -2.8 2.4 -1.4 2.4 1.4zM683 598.1l-2.4 1.4 -2.4 -1.4 0 -2.8 2.4 -1.4 2.4 1.4z" fill="#F2F830"/><path d="M393.9 638.8 397.1 634.7 400.4 630.8 403.6 627.2 406.8 623.6 410 618.8 413.2 613.6 416.5 608.6 419.7 603.9 422.9 599.5 426.1 595.4 429.3 591.4 432.6 587.5 435.8 584 439 580.9 442.2 578 445.5 575.3 448.7 573 451.9 571 455.1 569.5 458.3 568.5 461.6 567.5 464.8 566.6 468 565.9 471.2 565.4 474.4 564.9 477.7 564.3 480.9 563.8 484.1 563.5 487.3 563.4 490.6 563.4 493.8 563.4 497 563.4 500.2 563.4 503.4 563.5 506.7 563.8 509.9 564 513.1 564.2 516.3 564.5 519.5 564.8 522.8 565.1 526 565.5 529.2 565.7 532.4 565.9 535.7 566.2 538.9 566.8 542.1 567.3 545.3 567.9 548.5 568.4 551.8 569 555 569.4 558.2 569.8 561.4 570.1 564.6 570.3 567.9 570.4 571.1 570.6 574.3 570.8 577.5 571 580.7 571.1 584 571.2 587.2 571.3 590.4 571.3 593.6 571.3 596.9 571.2 600.1 571.1 603.3 571.1 606.5 571.1 609.7 571.1 613 571.3 616.2 571.4 619.4 571.6 622.6 571.9 625.8 572.4 629.1 572.9 632.3 573.5 635.5 574.3 638.7 575.3 642 576.4 645.2 577.7 648.4 579.3 651.6 581 654.8 583 658.1 585.1 661.3 587.2 664.5 589 667.7 590.8 670.9 592.8 674.2 594.6 677.4 595.8 680.6 596.7" fill="none" stroke="#F2F830" stroke-width="0.9"/><path d="M397 647.7l-5.3 -2.9 0 5.8zM403.7 638.9l-5.3 -2.9 0 5.8zM410.3 630.2l-5.3 -2.9 0 5.8zM417 619.7l-5.3 -2.9 0 5.8zM423.7 608.3l-5.3 -2.9 0 5.8zM430.3 598.2l-5.3 -2.9 0 5.8zM437 589l-5.3 -2.9 0 5.8zM443.7 582l-5.3 -2.9 0 5.8zM450.3 576.3l-5.3 -2.9 0 5.8zM457 571.9l-5.3 -2.9 0 5.8zM463.7 569.3l-5.3 -2.9 0 5.8zM470.4 567.1l-5.3 -2.9 0 5.8zM477 566l-5.3 -2.9 0 5.8zM483.7 564.9l-5.3 -2.9 0 5.8zM490.4 564.5l-5.3 -2.9 0 5.8zM497 564.5l-5.3 -2.9 0 5.8zM503.7 564.5l-5.3 -2.9 0 5.8zM510.4 564.9l-5.3 -2.9 0 5.8zM517 565.4l-5.3 -2.9 0 5.8zM523.7 566l-5.3 -2.9 0 5.8zM530.4 566.7l-5.3 -2.9 0 5.8zM537 567.1l-5.3 -2.9 0 5.8zM543.7 568.2l-5.3 -2.9 0 5.8zM550.4 569.3l-5.3 -2.9 0 5.8zM557 570.4l-5.3 -2.9 0 5.8zM563.7 571.1l-5.3 -2.9 0 5.8zM570.4 571.5l-5.3 -2.9 0 5.8zM577 571.9l-5.3 -2.9 0 5.8zM583.7 572.2l-5.3 -2.9 0 5.8zM590.4 572.4l-5.3 -2.9 0 5.8zM597 572.4l-5.3 -2.9 0 5.8zM603.7 572.2l-5.3 -2.9 0 5.8zM610.4 572.2l-5.3 -2.9 0 5.8zM617 572.4l-5.3 -2.9 0 5.8zM623.7 572.8l-5.3 -2.9 0 5.8zM630.4 573.7l-5.3 -2.9 0 5.8zM637 575l-5.3 -2.9 0 5.8zM643.7 577l-5.3 -2.9 0 5.8zM650.4 579.8l-5.3 -2.9 0 5.8zM657 583.5l-5.3 -2.9 0 5.8zM663.7 587.9l-5.3 -2.9 0 5.8zM670.4 591.6l-5.3 -2.9 0 5.8zM677 595.6l-5.3 -2.9 0 5.8zM683.7 597.8l-5.3 -2.9 0 5.8z" fill="#2A8A22"/><path d="M393.9 647.7 397.1 643.4 400.4 639.2 403.6 635.1 406.8 630.8 410 626 413.2 620.8 416.5 615.3 419.7 609.8 422.9 604.7 426.1 599.8 429.3 595.2 432.6 590.7 435.8 586.9 439 583.5 442.2 580.5 445.5 577.7 448.7 575.2 451.9 573 455.1 571.4 458.3 570.1 461.6 568.9 464.8 567.8 468 567 471.2 566.4 474.4 565.9 477.7 565.3 480.9 564.9 484.1 564.6 487.3 564.5 490.6 564.5 493.8 564.5 497 564.5 500.2 564.5 503.4 564.6 506.7 564.9 509.9 565.1 513.1 565.3 516.3 565.6 519.5 565.9 522.8 566.2 526 566.6 529.2 566.8 532.4 567 535.7 567.3 538.9 567.9 542.1 568.4 545.3 569 548.5 569.5 551.8 570.1 555 570.5 558.2 570.9 561.4 571.2 564.6 571.4 567.9 571.5 571.1 571.7 574.3 571.9 577.5 572.1 580.7 572.2 584 572.3 587.2 572.4 590.4 572.4 593.6 572.4 596.9 572.3 600.1 572.2 603.3 572.2 606.5 572.2 609.7 572.2 613 572.4 616.2 572.5 619.4 572.7 622.6 573 625.8 573.5 629.1 574 632.3 574.6 635.5 575.4 638.7 576.4 642 577.5 645.2 578.8 648.4 580.4 651.6 582.1 654.8 584.1 658.1 586.2 661.3 588.3 664.5 590.1 667.7 591.9 670.9 593.9 674.2 595.7 677.4 596.9 680.6 597.8" fill="none" stroke="#2A8A22" stroke-width="0.9"/><path d="M393.9 644.2l2.8 2 -1.1 3.2 -3.4 0 -1.1 -3.2zM400.6 635.4l2.8 2 -1.1 3.2 -3.4 0 -1.1 -3.2zM407.2 626.7l2.8 2 -1.1 3.2 -3.4 0 -1.1 -3.2zM413.9 616.2l2.8 2 -1.1 3.2 -3.4 0 -1.1 -3.2zM420.6 604.8l2.8 2 -1.1 3.2 -3.4 0 -1.1 -3.2zM427.2 594.7l2.8 2 -1.1 3.2 -3.4 0 -1.1 -3.2zM433.9 585.5l2.8 2 -1.1 3.2 -3.4 0 -1.1 -3.2zM440.6 578.5l2.8 2 -1.1 3.2 -3.4 0 -1.1 -3.2zM447.2 572.8l2.8 2 -1.1 3.2 -3.4 0 -1.1 -3.2zM453.9 568.4l2.8 2 -1.1 3.2 -3.4 0 -1.1 -3.2zM460.6 565.8l2.8 2 -1.1 3.2 -3.4 0 -1.1 -3.2zM467.3 563.6l2.8 2 -1.1 3.2 -3.4 0 -1.1 -3.2zM473.9 562.5l2.8 2 -1.1 3.2 -3.4 0 -1.1 -3.2zM480.6 561.4l2.8 2 -1.1 3.2 -3.4 0 -1.1 -3.2zM487.3 561l2.8 2 -1.1 3.2 -3.4 0 -1.1 -3.2zM493.9 561l2.8 2 -1.1 3.2 -3.4 0 -1.1 -3.2zM500.6 561l2.8 2 -1.1 3.2 -3.4 0 -1.1 -3.2zM507.3 561.4l2.8 2 -1.1 3.2 -3.4 0 -1.1 -3.2zM513.9 561.9l2.8 2 -1.1 3.2 -3.4 0 -1.1 -3.2zM520.6 562.5l2.8 2 -1.1 3.2 -3.4 0 -1.1 -3.2zM527.3 563.2l2.8 2 -1.1 3.2 -3.4 0 -1.1 -3.2zM533.9 563.6l2.8 2 -1.1 3.2 -3.4 0 -1.1 -3.2zM540.6 564.7l2.8 2 -1.1 3.2 -3.4 0 -1.1 -3.2zM547.3 565.8l2.8 2 -1.1 3.2 -3.4 0 -1.1 -3.2zM553.9 566.9l2.8 2 -1.1 3.2 -3.4 0 -1.1 -3.2zM560.6 567.6l2.8 2 -1.1 3.2 -3.4 0 -1.1 -3.2zM567.3 568l2.8 2 -1.1 3.2 -3.4 0 -1.1 -3.2zM573.9 568.4l2.8 2 -1.1 3.2 -3.4 0 -1.1 -3.2zM580.6 568.7l2.8 2 -1.1 3.2 -3.4 0 -1.1 -3.2zM587.3 568.9l2.8 2 -1.1 3.2 -3.4 0 -1.1 -3.2zM593.9 568.9l2.8 2 -1.1 3.2 -3.4 0 -1.1 -3.2zM600.6 568.7l2.8 2 -1.1 3.2 -3.4 0 -1.1 -3.2zM607.3 568.7l2.8 2 -1.1 3.2 -3.4 0 -1.1 -3.2zM613.9 568.9l2.8 2 -1.1 3.2 -3.4 0 -1.1 -3.2zM620.6 569.3l2.8 2 -1.1 3.2 -3.4 0 -1.1 -3.2zM627.3 570.2l2.8 2 -1.1 3.2 -3.4 0 -1.1 -3.2zM633.9 571.5l2.8 2 -1.1 3.2 -3.4 0 -1.1 -3.2zM640.6 573.5l2.8 2 -1.1 3.2 -3.4 0 -1.1 -3.2zM647.3 576.3l2.8 2 -1.1 3.2 -3.4 0 -1.1 -3.2zM653.9 580l2.8 2 -1.1 3.2 -3.4 0 -1.1 -3.2zM660.6 584.4l2.8 2 -1.1 3.2 -3.4 0 -1.1 -3.2zM667.3 588.1l2.8 2 -1.1 3.2 -3.4 0 -1.1 -3.2zM673.9 592.1l2.8 2 -1.1 3.2 -3.4 0 -1.1 -3.2zM680.6 594.3l2.8 2 -1.1 3.2 -3.4 0 -1.1 -3.2z" fill="#000000"/><path d="M393.9 647.1 397.1 642.8 400.4 638.6 403.6 634.5 406.8 630.2 410 625.4 413.2 620.2 416.5 614.7 419.7 609.2 422.9 604.1 426.1 599.2 429.3 594.6 432.6 590.1 435.8 586.3 439 582.9 442.2 579.9 445.5 577.1 448.7 574.6 451.9 572.4 455.1 570.8 458.3 569.5 461.6 568.3 464.8 567.2 468 566.4 471.2 565.8 474.4 565.3 477.7 564.7 480.9 564.3 484.1 564 487.3 563.9 490.6 563.9 493.8 563.9 497 563.9 500.2 563.9 503.4 564 506.7 564.3 509.9 564.5 513.1 564.7 516.3 565 519.5 565.3 522.8 565.6 526 566 529.2 566.2 532.4 566.4 535.7 566.7 538.9 567.3 542.1 567.8 545.3 568.4 548.5 568.9 551.8 569.5 555 569.9 558.2 570.3 561.4 570.6 564.6 570.8 567.9 570.9 571.1 571.1 574.3 571.3 577.5 571.5 580.7 571.6 584 571.7 587.2 571.8 590.4 571.8 593.6 571.8 596.9 571.7 600.1 571.6 603.3 571.6 606.5 571.6 609.7 571.6 613 571.8 616.2 571.9 619.4 572.1 622.6 572.4 625.8 572.9 629.1 573.4 632.3 574 635.5 574.8 638.7 575.8 642 576.9 645.2 578.2 648.4 579.8 651.6 581.5 654.8 583.5 658.1 585.6 661.3 587.7 664.5 589.5 667.7 591.3 670.9 593.3 674.2 595.1 677.4 596.3 680.6 597.2" fill="none" stroke="#000000" stroke-width="0.9"/></g><rect x="40.5" y="550.8" width="289.9" height="232.7" fill="none" stroke="#2b2b2b" stroke-width="1.1"/><path d="M40.5 783.5v4.8M52.37 783.5v2.5M59.32 783.5v2.5M64.25 783.5v2.5M68.07 783.5v2.5M71.19 783.5v2.5M73.83 783.5v2.5M76.12 783.5v2.5M78.14 783.5v2.5M79.94 783.5v4.8M91.82 783.5v2.5M98.76 783.5v2.5M103.69 783.5v2.5M107.51 783.5v2.5M110.63 783.5v2.5M113.27 783.5v2.5M115.56 783.5v2.5M117.58 783.5v2.5M119.38 783.5v4.8M131.26 783.5v2.5M138.2 783.5v2.5M143.13 783.5v2.5M146.95 783.5v2.5M150.08 783.5v2.5M152.72 783.5v2.5M155 783.5v2.5M157.02 783.5v2.5M158.83 783.5v4.8M170.7 783.5v2.5M177.65 783.5v2.5M182.57 783.5v2.5M186.4 783.5v2.5M189.52 783.5v2.5M192.16 783.5v2.5M194.45 783.5v2.5M196.46 783.5v2.5M198.27 783.5v4.8M210.14 783.5v2.5M217.09 783.5v2.5M222.02 783.5v2.5M225.84 783.5v2.5M228.96 783.5v2.5M231.6 783.5v2.5M233.89 783.5v2.5M235.91 783.5v2.5M237.71 783.5v4.8M249.58 783.5v2.5M256.53 783.5v2.5M261.46 783.5v2.5M265.28 783.5v2.5M268.4 783.5v2.5M271.04 783.5v2.5M273.33 783.5v2.5M275.35 783.5v2.5M277.15 783.5v4.8M289.03 783.5v2.5M295.97 783.5v2.5M300.9 783.5v2.5M304.72 783.5v2.5M307.85 783.5v2.5M310.49 783.5v2.5M312.77 783.5v2.5M314.79 783.5v2.5M316.6 783.5v4.8M328.47 783.5v2.5" stroke="#2b2b2b" stroke-width="1" fill="none"/><text x="30.97" y="800.5" font-family="Liberation Sans" font-size="10.6" font-weight="bold" text-anchor="start">10</text><rect x="42.86" y="793.4" width="3.45" height="0.8" fill="#555"/><text x="46.49" y="795.8" font-family="Liberation Sans" font-size="6.9" font-weight="bold" text-anchor="start">2</text><text x="70.42" y="800.5" font-family="Liberation Sans" font-size="10.6" font-weight="bold" text-anchor="start">10</text><rect x="82.3" y="793.4" width="3.45" height="0.8" fill="#555"/><text x="85.93" y="795.8" font-family="Liberation Sans" font-size="6.9" font-weight="bold" text-anchor="start">1</text><text x="111.87" y="800.5" font-family="Liberation Sans" font-size="10.6" font-weight="bold" text-anchor="start">10</text><text x="123.36" y="795.8" font-family="Liberation Sans" font-size="6.9" font-weight="bold" text-anchor="start">0</text><text x="151.31" y="800.5" font-family="Liberation Sans" font-size="10.6" font-weight="bold" text-anchor="start">10</text><text x="162.8" y="795.8" font-family="Liberation Sans" font-size="6.9" font-weight="bold" text-anchor="start">1</text><text x="190.76" y="800.5" font-family="Liberation Sans" font-size="10.6" font-weight="bold" text-anchor="start">10</text><text x="202.24" y="795.8" font-family="Liberation Sans" font-size="6.9" font-weight="bold" text-anchor="start">2</text><text x="230.2" y="800.5" font-family="Liberation Sans" font-size="10.6" font-weight="bold" text-anchor="start">10</text><text x="241.69" y="795.8" font-family="Liberation Sans" font-size="6.9" font-weight="bold" text-anchor="start">3</text><text x="269.64" y="800.5" font-family="Liberation Sans" font-size="10.6" font-weight="bold" text-anchor="start">10</text><text x="281.13" y="795.8" font-family="Liberation Sans" font-size="6.9" font-weight="bold" text-anchor="start">4</text><text x="309.08" y="800.5" font-family="Liberation Sans" font-size="10.6" font-weight="bold" text-anchor="start">10</text><text x="320.57" y="795.8" font-family="Liberation Sans" font-size="6.9" font-weight="bold" text-anchor="start">5</text><text x="185.95" y="817.9" font-family="Liberation Sans" font-size="12.2" font-weight="bold" text-anchor="middle">f (Hz)</text><path d="M40.5 783.5h-2.5M40.5 778.74h-2.5M40.5 775.36h-2.5M40.5 772.74h-2.5M40.5 770.59h-2.5M40.5 768.78h-2.5M40.5 767.21h-2.5M40.5 765.83h-2.5M40.5 764.59h-4.8M40.5 756.45h-2.5M40.5 751.68h-2.5M40.5 748.3h-2.5M40.5 745.68h-2.5M40.5 743.54h-2.5M40.5 741.73h-2.5M40.5 740.16h-2.5M40.5 738.78h-2.5M40.5 737.54h-4.8M40.5 729.4h-2.5M40.5 724.63h-2.5M40.5 721.25h-2.5M40.5 718.63h-2.5M40.5 716.49h-2.5M40.5 714.68h-2.5M40.5 713.11h-2.5M40.5 711.73h-2.5M40.5 710.49h-4.8M40.5 702.35h-2.5M40.5 697.58h-2.5M40.5 694.2h-2.5M40.5 691.58h-2.5M40.5 689.44h-2.5M40.5 687.63h-2.5M40.5 686.06h-2.5M40.5 684.67h-2.5M40.5 683.44h-4.8M40.5 675.29h-2.5M40.5 670.53h-2.5M40.5 667.15h-2.5M40.5 664.53h-2.5M40.5 662.39h-2.5M40.5 660.58h-2.5M40.5 659.01h-2.5M40.5 657.62h-2.5M40.5 656.39h-4.8M40.5 648.24h-2.5M40.5 643.48h-2.5M40.5 640.1h-2.5M40.5 637.48h-2.5M40.5 635.33h-2.5M40.5 633.52h-2.5M40.5 631.95h-2.5M40.5 630.57h-2.5M40.5 629.33h-4.8M40.5 621.19h-2.5M40.5 616.43h-2.5M40.5 613.05h-2.5M40.5 610.43h-2.5M40.5 608.28h-2.5M40.5 606.47h-2.5M40.5 604.9h-2.5M40.5 603.52h-2.5M40.5 602.28h-4.8M40.5 594.14h-2.5M40.5 589.37h-2.5M40.5 586h-2.5M40.5 583.37h-2.5M40.5 581.23h-2.5M40.5 579.42h-2.5M40.5 577.85h-2.5M40.5 576.47h-2.5M40.5 575.23h-4.8M40.5 567.09h-2.5M40.5 562.32h-2.5M40.5 558.94h-2.5M40.5 556.32h-2.5M40.5 554.18h-2.5M40.5 552.37h-2.5M40.5 550.8h-2.5" stroke="#2b2b2b" stroke-width="1" fill="none"/><text x="17.18" y="768.39" font-family="Liberation Sans" font-size="10.6" font-weight="bold" text-anchor="start">10</text><text x="28.66" y="763.69" font-family="Liberation Sans" font-size="6.9" font-weight="bold" text-anchor="start">1</text><text x="17.18" y="741.34" font-family="Liberation Sans" font-size="10.6" font-weight="bold" text-anchor="start">10</text><text x="28.66" y="736.64" font-family="Liberation Sans" font-size="6.9" font-weight="bold" text-anchor="start">2</text><text x="17.18" y="714.29" font-family="Liberation Sans" font-size="10.6" font-weight="bold" text-anchor="start">10</text><text x="28.66" y="709.59" font-family="Liberation Sans" font-size="6.9" font-weight="bold" text-anchor="start">3</text><text x="17.18" y="687.24" font-family="Liberation Sans" font-size="10.6" font-weight="bold" text-anchor="start">10</text><text x="28.66" y="682.54" font-family="Liberation Sans" font-size="6.9" font-weight="bold" text-anchor="start">4</text><text x="17.18" y="660.19" font-family="Liberation Sans" font-size="10.6" font-weight="bold" text-anchor="start">10</text><text x="28.66" y="655.49" font-family="Liberation Sans" font-size="6.9" font-weight="bold" text-anchor="start">5</text><text x="17.18" y="633.13" font-family="Liberation Sans" font-size="10.6" font-weight="bold" text-anchor="start">10</text><text x="28.66" y="628.43" font-family="Liberation Sans" font-size="6.9" font-weight="bold" text-anchor="start">6</text><text x="17.18" y="606.08" font-family="Liberation Sans" font-size="10.6" font-weight="bold" text-anchor="start">10</text><text x="28.66" y="601.38" font-family="Liberation Sans" font-size="6.9" font-weight="bold" text-anchor="start">7</text><text x="17.18" y="579.03" font-family="Liberation Sans" font-size="10.6" font-weight="bold" text-anchor="start">10</text><text x="28.66" y="574.33" font-family="Liberation Sans" font-size="6.9" font-weight="bold" text-anchor="start">8</text><text transform="translate(13.0 667.7) rotate(-90)" font-family="Liberation Sans" font-size="14.5" font-weight="bold" text-anchor="middle" textLength="57" lengthAdjust="spacingAndGlyphs">|Z| (&#937; cm<tspan font-size="9" dy="-5.5">2</tspan><tspan dy="5.5">)</tspan></text><rect x="277.13" y="558.93" width="4.14" height="4.14" fill="#D6A43E"/><text x="294.8" y="564.6" font-family="Liberation Sans" font-size="10.9" font-weight="normal" text-anchor="start" class="lg">1h</text><circle cx="279.2" cy="574.47" r="2.34" fill="#FF1010"/><text x="294.8" y="578.07" font-family="Liberation Sans" font-size="10.9" font-weight="normal" text-anchor="start" class="lg">2h</text><polygon points="279.2,585.15 281.81,589.92 276.59,589.92" fill="#10F010"/><text x="294.8" y="591.54" font-family="Liberation Sans" font-size="10.9" font-weight="normal" text-anchor="start" class="lg">3h</text><polygon points="279.2,604.2 281.81,599.43 276.59,599.43" fill="#1010FF"/><text x="294.8" y="605.01" font-family="Liberation Sans" font-size="10.9" font-weight="normal" text-anchor="start" class="lg">4h</text><polygon points="279.2,612.09 281.72,614.88 279.2,617.67 276.68,614.88" fill="#50F0F8"/><text x="294.8" y="618.48" font-family="Liberation Sans" font-size="10.9" font-weight="normal" text-anchor="start" class="lg">24h</text><polygon points="276.41,628.35 281.18,625.74 281.18,630.96" fill="#FF20F0"/><text x="294.8" y="631.95" font-family="Liberation Sans" font-size="10.9" font-weight="normal" text-anchor="start" class="lg">48h</text><polygon points="281.38,643.08 279.2,644.34 277.02,643.08 277.02,640.56 279.2,639.3 281.38,640.56" fill="#F2F830"/><text x="294.8" y="645.42" font-family="Liberation Sans" font-size="10.9" font-weight="normal" text-anchor="start" class="lg">72h</text><polygon points="281.99,655.29 277.22,652.68 277.22,657.9" fill="#2A8A22"/><text x="294.8" y="658.89" font-family="Liberation Sans" font-size="10.9" font-weight="normal" text-anchor="start" class="lg">96h</text><polygon points="279.2,666.15 281.68,667.95 280.73,670.87 277.67,670.87 276.72,667.95" fill="#000000"/><text x="294.8" y="672.36" font-family="Liberation Sans" font-size="10.9" font-weight="normal" text-anchor="start" class="lg">120h</text><path d="M267.3 682.73H291.8" stroke="#666" stroke-width="1.2"/><text x="294.8" y="686.13" font-family="Liberation Sans" font-size="10.9" font-weight="normal" text-anchor="start" class="lg">fittings</text><rect x="393.2" y="549.3" width="289.5" height="232.7" fill="none" stroke="#2b2b2b" stroke-width="1.1"/><path d="M393.2 782v4.8M405.06 782v2.5M411.99 782v2.5M416.91 782v2.5M420.73 782v2.5M423.85 782v2.5M426.49 782v2.5M428.77 782v2.5M430.79 782v2.5M432.59 782v4.8M444.44 782v2.5M451.38 782v2.5M456.3 782v2.5M460.12 782v2.5M463.24 782v2.5M465.87 782v2.5M468.16 782v2.5M470.17 782v2.5M471.98 782v4.8M483.83 782v2.5M490.77 782v2.5M495.69 782v2.5M499.51 782v2.5M502.63 782v2.5M505.26 782v2.5M507.55 782v2.5M509.56 782v2.5M511.36 782v4.8M523.22 782v2.5M530.16 782v2.5M535.08 782v2.5M538.89 782v2.5M542.01 782v2.5M544.65 782v2.5M546.93 782v2.5M548.95 782v2.5M550.75 782v4.8M562.61 782v2.5M569.54 782v2.5M574.46 782v2.5M578.28 782v2.5M581.4 782v2.5M584.04 782v2.5M586.32 782v2.5M588.34 782v2.5M590.14 782v4.8M602 782v2.5M608.93 782v2.5M613.85 782v2.5M617.67 782v2.5M620.79 782v2.5M623.43 782v2.5M625.71 782v2.5M627.72 782v2.5M629.53 782v4.8M641.38 782v2.5M648.32 782v2.5M653.24 782v2.5M657.06 782v2.5M660.18 782v2.5M662.81 782v2.5M665.1 782v2.5M667.11 782v2.5M668.91 782v4.8M680.77 782v2.5" stroke="#2b2b2b" stroke-width="1" fill="none"/><text x="383.67" y="799" font-family="Liberation Sans" font-size="10.6" font-weight="bold" text-anchor="start">10</text><rect x="395.56" y="791.9" width="3.45" height="0.8" fill="#555"/><text x="399.19" y="794.3" font-family="Liberation Sans" font-size="6.9" font-weight="bold" text-anchor="start">2</text><text x="423.06" y="799" font-family="Liberation Sans" font-size="10.6" font-weight="bold" text-anchor="start">10</text><rect x="434.95" y="791.9" width="3.45" height="0.8" fill="#555"/><text x="438.58" y="794.3" font-family="Liberation Sans" font-size="6.9" font-weight="bold" text-anchor="start">1</text><text x="464.46" y="799" font-family="Liberation Sans" font-size="10.6" font-weight="bold" text-anchor="start">10</text><text x="475.95" y="794.3" font-family="Liberation Sans" font-size="6.9" font-weight="bold" text-anchor="start">0</text><text x="503.85" y="799" font-family="Liberation Sans" font-size="10.6" font-weight="bold" text-anchor="start">10</text><text x="515.34" y="794.3" font-family="Liberation Sans" font-size="6.9" font-weight="bold" text-anchor="start">1</text><text x="543.24" y="799" font-family="Liberation Sans" font-size="10.6" font-weight="bold" text-anchor="start">10</text><text x="554.73" y="794.3" font-family="Liberation Sans" font-size="6.9" font-weight="bold" text-anchor="start">2</text><text x="582.63" y="799" font-family="Liberation Sans" font-size="10.6" font-weight="bold" text-anchor="start">10</text><text x="594.11" y="794.3" font-family="Liberation Sans" font-size="6.9" font-weight="bold" text-anchor="start">3</text><text x="622.01" y="799" font-family="Liberation Sans" font-size="10.6" font-weight="bold" text-anchor="start">10</text><text x="633.5" y="794.3" font-family="Liberation Sans" font-size="6.9" font-weight="bold" text-anchor="start">4</text><text x="661.4" y="799" font-family="Liberation Sans" font-size="10.6" font-weight="bold" text-anchor="start">10</text><text x="672.89" y="794.3" font-family="Liberation Sans" font-size="6.9" font-weight="bold" text-anchor="start">5</text><text x="538.45" y="816.4" font-family="Liberation Sans" font-size="12.2" font-weight="bold" text-anchor="middle">f (Hz)</text><path d="M393.2 782h-4.8M393.2 756.14h-2.5M393.2 730.29h-4.8M393.2 704.43h-2.5M393.2 678.58h-4.8M393.2 652.72h-2.5M393.2 626.87h-4.8M393.2 601.01h-2.5M393.2 575.16h-4.8M393.2 549.3h-2.5" stroke="#2b2b2b" stroke-width="1" fill="none"/><text x="385.9" y="785.8" font-family="Liberation Sans" font-size="11" font-weight="bold" text-anchor="end">0</text><text x="385.9" y="734.09" font-family="Liberation Sans" font-size="11" font-weight="bold" text-anchor="end">20</text><rect x="368.4" y="730.19" width="5.3" height="0.9" fill="#444"/><text x="385.9" y="682.38" font-family="Liberation Sans" font-size="11" font-weight="bold" text-anchor="end">40</text><rect x="368.4" y="678.48" width="5.3" height="0.9" fill="#444"/><text x="385.9" y="630.67" font-family="Liberation Sans" font-size="11" font-weight="bold" text-anchor="end">60</text><rect x="368.4" y="626.77" width="5.3" height="0.9" fill="#444"/><text x="385.9" y="578.96" font-family="Liberation Sans" font-size="11" font-weight="bold" text-anchor="end">80</text><rect x="368.4" y="575.06" width="5.3" height="0.9" fill="#444"/><text transform="translate(363.6 666.15) rotate(-90)" font-family="Liberation Sans" font-size="12.6" font-weight="bold" text-anchor="middle" textLength="116.5" lengthAdjust="spacingAndGlyphs">Phase angle (Degree)</text><text x="77.2" y="575.4" font-family="Liberation Sans" font-size="23.5" font-weight="normal" text-anchor="start" stroke="#000" stroke-width="0.3">(e)</text><text x="113.4" y="575.2" font-family="Liberation Serif" font-size="23.4" font-weight="normal" text-anchor="start" stroke="#000" stroke-width="0.35">PEO-Ce-Zeolite</text><text x="401.5" y="573.6" font-family="Liberation Sans" font-size="23.5" font-weight="normal" text-anchor="start" stroke="#000" stroke-width="0.3">(f)</text><clipPath id="cl3"><rect x="40.5" y="825.4" width="289.9" height="232.8"/></clipPath><clipPath id="cr3"><rect x="393.2" y="823.4" width="289.5" height="232.6"/></clipPath><g clip-path="url(#cl3)"><path d="M41.2 847h0M47.9 851.3h0M54.6 853.5h0M61.2 856.2h0M67.9 858.8h0M74.6 861.6h0M81.3 864.5h0M87.9 867.1h0M94.6 870.4h0M101.3 873.2h0M108 876.3h0M114.7 879.1h0M121.3 881.9h0M128 885h0M134.7 888.9h0M141.4 892.8h0M148 896.6h0M154.7 900.9h0M161.4 906h0M168.1 910.8h0M174.7 915.2h0M181.4 919.9h0M188.1 925.4h0M194.8 933.5h0M201.5 937.8h0M208.1 942h0M214.8 945.4h0M221.5 949.7h0M228.2 953.9h0M234.8 957.5h0M241.5 961.8h0M248.2 966.1h0M254.9 969.7h0M261.5 974h0M268.2 977.8h0M274.9 982.1h0M281.6 985.9h0M288.2 990.2h0M294.9 994.4h0M301.6 998h0M308.3 1002.3h0M315 1005.9h0M321.6 1009.3h0M328.3 1012.9h0" stroke="#D6A43E" stroke-width="4.6" stroke-linecap="square"/><path d="M41.2 847 44.4 849.4 47.7 851.2 50.9 852.4 54.1 853.3 57.3 854.6 60.6 855.9 63.8 857.2 67 858.4 70.2 859.7 73.5 861.1 76.7 862.5 79.9 863.9 83.1 865.2 86.4 866.4 89.6 867.9 92.8 869.5 96 871 99.3 872.3 102.5 873.7 105.7 875.2 109 876.7 112.2 878 115.4 879.4 118.6 880.8 121.9 882.2 125.1 883.6 128.3 885.2 131.5 887 134.8 889 138 890.9 141.2 892.7 144.4 894.6 147.7 896.4 150.9 898.4 154.1 900.5 157.3 902.9 160.6 905.4 163.8 907.8 167 910.1 170.2 912.3 173.5 914.4 176.7 916.5 179.9 918.8 183.1 921.2 186.4 923.8 189.6 927.1 192.8 931.4 196.1 934.5 199.3 936.5 202.5 938.5 205.7 940.5 209 942.4 212.2 944 215.4 945.7 218.6 947.8 221.9 949.9 225.1 952 228.3 954 231.5 955.8 234.8 957.5 238 959.5 241.2 961.6 244.4 963.7 247.7 965.8 250.9 967.6 254.1 969.3 257.3 971.3 260.6 973.4 263.8 975.3 267 977.1 270.2 979.1 273.5 981.2 276.7 983.1 279.9 984.9 283.1 986.8 286.4 988.9 289.6 991 292.8 993.1 296.1 995.1 299.3 996.8 302.5 998.6 305.7 1000.7 309 1002.7 312.2 1004.5 315.4 1006.2 318.6 1007.8 321.9 1009.4 325.1 1011.1 328.3 1012.9" fill="none" stroke="#D6A43E" stroke-width="0.9"/><path d="M41.2 845.8h0M47.9 850.5h0M54.6 852.7h0M61.2 855.4h0M67.9 858h0M74.6 860.8h0M81.3 863.7h0M87.9 866.3h0M94.6 869.6h0M101.3 872.4h0M108 875.5h0M114.7 878.3h0M121.3 881.2h0M128 884.3h0M134.7 888.2h0M141.4 892.1h0M148 895.9h0M154.7 900.2h0M161.4 905.3h0M168.1 910.1h0M174.7 914.5h0M181.4 919.2h0M188.1 924.7h0M194.8 932.8h0M201.5 937.1h0M208.1 941.3h0M214.8 944.7h0M221.5 949h0M228.2 953.3h0M234.8 956.9h0M241.5 961.2h0M248.2 965.5h0M254.9 969.1h0M261.5 973.3h0M268.2 977.1h0M274.9 981.4h0M281.6 985.2h0M288.2 989.5h0M294.9 993.8h0M301.6 997.4h0M308.3 1001.7h0M315 1005.3h0M321.6 1008.7h0M328.3 1012.3h0" stroke="#FF1010" stroke-width="5.6" stroke-linecap="round"/><path d="M41.2 845.8 44.4 848.4 47.7 850.4 50.9 851.6 54.1 852.5 57.3 853.8 60.6 855.1 63.8 856.4 67 857.6 70.2 859 73.5 860.3 76.7 861.7 79.9 863.1 83.1 864.4 86.4 865.7 89.6 867.1 92.8 868.7 96 870.2 99.3 871.5 102.5 872.9 105.7 874.5 109 875.9 112.2 877.3 115.4 878.6 118.6 880 121.9 881.4 125.1 882.9 128.3 884.5 131.5 886.3 134.8 888.2 138 890.1 141.2 892 144.4 893.8 147.7 895.7 150.9 897.7 154.1 899.8 157.3 902.2 160.6 904.7 163.8 907.1 167 909.4 170.2 911.5 173.5 913.6 176.7 915.8 179.9 918.1 183.1 920.5 186.4 923.1 189.6 926.4 192.8 930.7 196.1 933.8 199.3 935.8 202.5 937.8 205.7 939.8 209 941.7 212.2 943.3 215.4 945 218.6 947.1 221.9 949.2 225.1 951.3 228.3 953.3 231.5 955.1 234.8 956.8 238 958.8 241.2 961 244.4 963.1 247.7 965.1 250.9 966.9 254.1 968.6 257.3 970.6 260.6 972.7 263.8 974.6 267 976.4 270.2 978.4 273.5 980.5 276.7 982.5 279.9 984.3 283.1 986.2 286.4 988.3 289.6 990.4 292.8 992.5 296.1 994.5 299.3 996.1 302.5 998 305.7 1000.1 309 1002.1 312.2 1003.9 315.4 1005.5 318.6 1007.2 321.9 1008.8 325.1 1010.5 328.3 1012.3" fill="none" stroke="#FF1010" stroke-width="0.9"/><path d="M41.2 846.1l2.9 5.3 -5.8 0zM47.9 846.7l2.9 5.3 -5.8 0zM54.6 848.9l2.9 5.3 -5.8 0zM61.2 851.6l2.9 5.3 -5.8 0zM67.9 854.2l2.9 5.3 -5.8 0zM74.6 857l2.9 5.3 -5.8 0zM81.3 859.9l2.9 5.3 -5.8 0zM87.9 862.5l2.9 5.3 -5.8 0zM94.6 865.8l2.9 5.3 -5.8 0zM101.3 868.6l2.9 5.3 -5.8 0zM108 871.7l2.9 5.3 -5.8 0zM114.7 874.6l2.9 5.3 -5.8 0zM121.3 877.5l2.9 5.3 -5.8 0zM128 880.6l2.9 5.3 -5.8 0zM134.7 884.5l2.9 5.3 -5.8 0zM141.4 888.4l2.9 5.3 -5.8 0zM148 892.2l2.9 5.3 -5.8 0zM154.7 896.5l2.9 5.3 -5.8 0zM161.4 901.6l2.9 5.3 -5.8 0zM168.1 906.4l2.9 5.3 -5.8 0zM174.7 910.8l2.9 5.3 -5.8 0zM181.4 915.5l2.9 5.3 -5.8 0zM188.1 921l2.9 5.3 -5.8 0zM194.8 929.1l2.9 5.3 -5.8 0zM201.5 933.4l2.9 5.3 -5.8 0zM208.1 937.6l2.9 5.3 -5.8 0zM214.8 941l2.9 5.3 -5.8 0zM221.5 945.3l2.9 5.3 -5.8 0zM228.2 949.6l2.9 5.3 -5.8 0zM234.8 953.2l2.9 5.3 -5.8 0zM241.5 957.5l2.9 5.3 -5.8 0zM248.2 961.8l2.9 5.3 -5.8 0zM254.9 965.4l2.9 5.3 -5.8 0zM261.5 969.7l2.9 5.3 -5.8 0zM268.2 973.5l2.9 5.3 -5.8 0zM274.9 977.8l2.9 5.3 -5.8 0zM281.6 981.6l2.9 5.3 -5.8 0zM288.2 985.9l2.9 5.3 -5.8 0zM294.9 990.2l2.9 5.3 -5.8 0zM301.6 993.8l2.9 5.3 -5.8 0zM308.3 998.1l2.9 5.3 -5.8 0zM315 1001.7l2.9 5.3 -5.8 0zM321.6 1005.1l2.9 5.3 -5.8 0zM328.3 1008.7l2.9 5.3 -5.8 0z" fill="#10F010"/><path d="M41.2 849.2 44.4 849.4 47.7 849.8 50.9 850.6 54.1 851.8 57.3 853.1 60.6 854.4 63.8 855.7 67 857 70.2 858.3 73.5 859.6 76.7 861 79.9 862.5 83.1 863.8 86.4 865 89.6 866.4 92.8 868.1 96 869.6 99.3 870.9 102.5 872.3 105.7 873.8 109 875.3 112.2 876.6 115.4 878 118.6 879.4 121.9 880.8 125.1 882.2 128.3 883.8 131.5 885.7 134.8 887.6 138 889.5 141.2 891.4 144.4 893.2 147.7 895.1 150.9 897 154.1 899.2 157.3 901.5 160.6 904.1 163.8 906.4 167 908.8 170.2 910.9 173.5 913 176.7 915.2 179.9 917.5 183.1 919.9 186.4 922.5 189.6 925.8 192.8 930.1 196.1 933.2 199.3 935.2 202.5 937.2 205.7 939.3 209 941.1 212.2 942.7 215.4 944.5 218.6 946.5 221.9 948.6 225.1 950.8 228.3 952.8 231.5 954.5 234.8 956.3 238 958.3 241.2 960.4 244.4 962.5 247.7 964.6 250.9 966.4 254.1 968.1 257.3 970.1 260.6 972.2 263.8 974.1 267 975.9 270.2 977.9 273.5 980 276.7 981.9 279.9 983.7 283.1 985.7 286.4 987.8 289.6 989.9 292.8 992 296.1 993.9 299.3 995.6 302.5 997.5 305.7 999.6 309 1001.6 312.2 1003.3 315.4 1005 318.6 1006.7 321.9 1008.3 325.1 1010 328.3 1011.8" fill="none" stroke="#10F010" stroke-width="0.9"/><path d="M41.2 853.3l2.9 -5.3 -5.8 0zM47.9 853.9l2.9 -5.3 -5.8 0zM54.6 856.1l2.9 -5.3 -5.8 0zM61.2 858.8l2.9 -5.3 -5.8 0zM67.9 861.4l2.9 -5.3 -5.8 0zM74.6 864.2l2.9 -5.3 -5.8 0zM81.3 867.1l2.9 -5.3 -5.8 0zM87.9 869.7l2.9 -5.3 -5.8 0zM94.6 873l2.9 -5.3 -5.8 0zM101.3 875.8l2.9 -5.3 -5.8 0zM108 878.9l2.9 -5.3 -5.8 0zM114.7 881.7l2.9 -5.3 -5.8 0zM121.3 884.6l2.9 -5.3 -5.8 0zM128 887.7l2.9 -5.3 -5.8 0zM134.7 891.6l2.9 -5.3 -5.8 0zM141.4 895.5l2.9 -5.3 -5.8 0zM148 899.3l2.9 -5.3 -5.8 0zM154.7 903.6l2.9 -5.3 -5.8 0zM161.4 908.7l2.9 -5.3 -5.8 0zM168.1 913.5l2.9 -5.3 -5.8 0zM174.7 917.9l2.9 -5.3 -5.8 0zM181.4 922.6l2.9 -5.3 -5.8 0zM188.1 928.1l2.9 -5.3 -5.8 0zM194.8 936.2l2.9 -5.3 -5.8 0zM201.5 940.5l2.9 -5.3 -5.8 0zM208.1 944.7l2.9 -5.3 -5.8 0zM214.8 948.1l2.9 -5.3 -5.8 0zM221.5 952.4l2.9 -5.3 -5.8 0zM228.2 956.7l2.9 -5.3 -5.8 0zM234.8 960.3l2.9 -5.3 -5.8 0zM241.5 964.6l2.9 -5.3 -5.8 0zM248.2 968.9l2.9 -5.3 -5.8 0zM254.9 972.5l2.9 -5.3 -5.8 0zM261.5 976.7l2.9 -5.3 -5.8 0zM268.2 980.5l2.9 -5.3 -5.8 0zM274.9 984.8l2.9 -5.3 -5.8 0zM281.6 988.6l2.9 -5.3 -5.8 0zM288.2 992.9l2.9 -5.3 -5.8 0zM294.9 997.2l2.9 -5.3 -5.8 0zM301.6 1000.8l2.9 -5.3 -5.8 0zM308.3 1005.1l2.9 -5.3 -5.8 0zM315 1008.7l2.9 -5.3 -5.8 0zM321.6 1012.1l2.9 -5.3 -5.8 0zM328.3 1015.7l2.9 -5.3 -5.8 0z" fill="#1010FF"/><path d="M41.2 850.2 44.4 850.4 47.7 850.8 50.9 851.6 54.1 852.8 57.3 854.1 60.6 855.4 63.8 856.7 67 857.9 70.2 859.3 73.5 860.6 76.7 862 79.9 863.4 83.1 864.7 86.4 866 89.6 867.4 92.8 869 96 870.5 99.3 871.8 102.5 873.2 105.7 874.8 109 876.2 112.2 877.6 115.4 878.9 118.6 880.3 121.9 881.7 125.1 883.2 128.3 884.8 131.5 886.6 134.8 888.5 138 890.4 141.2 892.3 144.4 894.1 147.7 896 150.9 898 154.1 900.1 157.3 902.5 160.6 905 163.8 907.4 167 909.7 170.2 911.8 173.5 913.9 176.7 916.1 179.9 918.4 183.1 920.8 186.4 923.4 189.6 926.7 192.8 931 196.1 934.1 199.3 936.1 202.5 938.1 205.7 940.1 209 942 212.2 943.6 215.4 945.3 218.6 947.4 221.9 949.5 225.1 951.6 228.3 953.6 231.5 955.4 234.8 957.1 238 959.1 241.2 961.3 244.4 963.4 247.7 965.4 250.9 967.2 254.1 968.9 257.3 970.9 260.6 973 263.8 974.9 267 976.7 270.2 978.7 273.5 980.8 276.7 982.8 279.9 984.6 283.1 986.5 286.4 988.6 289.6 990.7 292.8 992.8 296.1 994.8 299.3 996.4 302.5 998.3 305.7 1000.4 309 1002.4 312.2 1004.2 315.4 1005.8 318.6 1007.5 321.9 1009.1 325.1 1010.8 328.3 1012.6" fill="none" stroke="#1010FF" stroke-width="0.9"/><path d="M41.2 854.3l2.8 3.1 -2.8 3.1 -2.8 -3.1zM47.9 854.2l2.8 3.1 -2.8 3.1 -2.8 -3.1zM54.6 855.7l2.8 3.1 -2.8 3.1 -2.8 -3.1zM61.2 857.7l2.8 3.1 -2.8 3.1 -2.8 -3.1zM67.9 859.6l2.8 3.1 -2.8 3.1 -2.8 -3.1zM74.6 862l2.8 3.1 -2.8 3.1 -2.8 -3.1zM81.3 864.4l2.8 3.1 -2.8 3.1 -2.8 -3.1zM87.9 866.6l2.8 3.1 -2.8 3.1 -2.8 -3.1zM94.6 869.5l2.8 3.1 -2.8 3.1 -2.8 -3.1zM101.3 871.9l2.8 3.1 -2.8 3.1 -2.8 -3.1zM108 874.5l2.8 3.1 -2.8 3.1 -2.8 -3.1zM114.7 876.9l2.8 3.1 -2.8 3.1 -2.8 -3.1zM121.3 879.4l2.8 3.1 -2.8 3.1 -2.8 -3.1zM128 882.5l2.8 3.1 -2.8 3.1 -2.8 -3.1zM134.7 886.4l2.8 3.1 -2.8 3.1 -2.8 -3.1zM141.4 890.3l2.8 3.1 -2.8 3.1 -2.8 -3.1zM148 894l2.8 3.1 -2.8 3.1 -2.8 -3.1zM154.7 898.3l2.8 3.1 -2.8 3.1 -2.8 -3.1zM161.4 903.4l2.8 3.1 -2.8 3.1 -2.8 -3.1zM168.1 908.2l2.8 3.1 -2.8 3.1 -2.8 -3.1zM174.7 912.6l2.8 3.1 -2.8 3.1 -2.8 -3.1zM181.4 917.3l2.8 3.1 -2.8 3.1 -2.8 -3.1zM188.1 922.8l2.8 3.1 -2.8 3.1 -2.8 -3.1zM194.8 930.9l2.8 3.1 -2.8 3.1 -2.8 -3.1zM201.5 935.1l2.8 3.1 -2.8 3.1 -2.8 -3.1zM208.1 939.3l2.8 3.1 -2.8 3.1 -2.8 -3.1zM214.8 942.7l2.8 3.1 -2.8 3.1 -2.8 -3.1zM221.5 947l2.8 3.1 -2.8 3.1 -2.8 -3.1zM228.2 951.3l2.8 3.1 -2.8 3.1 -2.8 -3.1zM234.8 954.8l2.8 3.1 -2.8 3.1 -2.8 -3.1zM241.5 959.1l2.8 3.1 -2.8 3.1 -2.8 -3.1zM248.2 963.4l2.8 3.1 -2.8 3.1 -2.8 -3.1zM254.9 967l2.8 3.1 -2.8 3.1 -2.8 -3.1zM261.5 971.3l2.8 3.1 -2.8 3.1 -2.8 -3.1zM268.2 975.1l2.8 3.1 -2.8 3.1 -2.8 -3.1zM274.9 979.3l2.8 3.1 -2.8 3.1 -2.8 -3.1zM281.6 983.1l2.8 3.1 -2.8 3.1 -2.8 -3.1zM288.2 987.4l2.8 3.1 -2.8 3.1 -2.8 -3.1zM294.9 991.7l2.8 3.1 -2.8 3.1 -2.8 -3.1zM301.6 995.3l2.8 3.1 -2.8 3.1 -2.8 -3.1zM308.3 999.6l2.8 3.1 -2.8 3.1 -2.8 -3.1zM315 1003.1l2.8 3.1 -2.8 3.1 -2.8 -3.1zM321.6 1006.5l2.8 3.1 -2.8 3.1 -2.8 -3.1zM328.3 1010.1l2.8 3.1 -2.8 3.1 -2.8 -3.1z" fill="#50F0F8"/><path d="M41.2 857.4 44.4 857.3 47.7 857.3 50.9 857.8 54.1 858.7 57.3 859.6 60.6 860.6 63.8 861.5 67 862.4 70.2 863.5 73.5 864.7 76.7 865.9 79.9 867.1 83.1 868.2 86.4 869.2 89.6 870.4 92.8 871.8 96 873.1 99.3 874.3 102.5 875.4 105.7 876.8 109 878 112.2 879.1 115.4 880.3 118.6 881.5 121.9 882.7 125.1 884.2 128.3 885.8 131.5 887.6 134.8 889.5 138 891.4 141.2 893.3 144.4 895.1 147.7 896.9 150.9 898.9 154.1 901 157.3 903.4 160.6 905.9 163.8 908.3 167 910.6 170.2 912.8 173.5 914.8 176.7 917 179.9 919.3 183.1 921.7 186.4 924.3 189.6 927.6 192.8 931.8 196.1 934.9 199.3 936.9 202.5 938.9 205.7 941 209 942.9 212.2 944.4 215.4 946.2 218.6 948.2 221.9 950.3 225.1 952.4 228.3 954.4 231.5 956.2 234.8 957.9 238 959.9 241.2 962 244.4 964.1 247.7 966.2 250.9 968 254.1 969.7 257.3 971.7 260.6 973.8 263.8 975.7 267 977.5 270.2 979.4 273.5 981.6 276.7 983.5 279.9 985.3 283.1 987.2 286.4 989.3 289.6 991.4 292.8 993.5 296.1 995.4 299.3 997.1 302.5 998.9 305.7 1001 309 1003 312.2 1004.8 315.4 1006.5 318.6 1008.1 321.9 1009.7 325.1 1011.4 328.3 1013.2" fill="none" stroke="#50F0F8" stroke-width="0.9"/><path d="M38.1 862.2l5.3 -2.9 0 5.8zM44.8 862.5l5.3 -2.9 0 5.8zM51.5 864.4l5.3 -2.9 0 5.8zM58.1 866.4l5.3 -2.9 0 5.8zM64.8 868.2l5.3 -2.9 0 5.8zM71.5 870.3l5.3 -2.9 0 5.8zM78.2 872.4l5.3 -2.9 0 5.8zM84.8 874.3l5.3 -2.9 0 5.8zM91.5 876.9l5.3 -2.9 0 5.8zM98.2 878.9l5.3 -2.9 0 5.8zM104.9 881.3l5.3 -2.9 0 5.8zM111.6 883.3l5.3 -2.9 0 5.8zM118.2 885.5l5.3 -2.9 0 5.8zM124.9 887.8l5.3 -2.9 0 5.8zM131.6 891l5.3 -2.9 0 5.8zM138.3 894.7l5.3 -2.9 0 5.8zM144.9 898.4l5.3 -2.9 0 5.8zM151.6 902.5l5.3 -2.9 0 5.8zM158.3 907.5l5.3 -2.9 0 5.8zM165 912.1l5.3 -2.9 0 5.8zM171.6 916.3l5.3 -2.9 0 5.8zM178.3 920.9l5.3 -2.9 0 5.8zM185 926.2l5.3 -2.9 0 5.8zM191.7 934.3l5.3 -2.9 0 5.8zM198.4 938.6l5.3 -2.9 0 5.8zM205 942.8l5.3 -2.9 0 5.8zM211.7 946.1l5.3 -2.9 0 5.8zM218.4 950.4l5.3 -2.9 0 5.8zM225.1 954.7l5.3 -2.9 0 5.8zM231.7 958.3l5.3 -2.9 0 5.8zM238.4 962.6l5.3 -2.9 0 5.8zM245.1 966.9l5.3 -2.9 0 5.8zM251.8 970.5l5.3 -2.9 0 5.8zM258.4 974.7l5.3 -2.9 0 5.8zM265.1 978.5l5.3 -2.9 0 5.8zM271.8 982.8l5.3 -2.9 0 5.8zM278.5 986.6l5.3 -2.9 0 5.8zM285.1 990.9l5.3 -2.9 0 5.8zM291.8 995.2l5.3 -2.9 0 5.8zM298.5 998.8l5.3 -2.9 0 5.8zM305.2 1003l5.3 -2.9 0 5.8zM311.9 1006.6l5.3 -2.9 0 5.8zM318.5 1010l5.3 -2.9 0 5.8zM325.2 1013.6l5.3 -2.9 0 5.8z" fill="#FF20F0"/><path d="M41.2 862.2 44.4 862.3 47.7 862.5 50.9 863.2 54.1 864.3 57.3 865.2 60.6 866.2 63.8 867.1 67 868 70.2 868.9 73.5 869.9 76.7 871 79.9 872 83.1 873 86.4 873.8 89.6 874.9 92.8 876.2 96 877.3 99.3 878.3 102.5 879.3 105.7 880.5 109 881.6 112.2 882.6 115.4 883.6 118.6 884.6 121.9 885.7 125.1 886.8 128.3 888 131.5 889.4 134.8 891 138 892.8 141.2 894.7 144.4 896.4 147.7 898.2 150.9 900.1 154.1 902.1 157.3 904.4 160.6 906.8 163.8 909.2 167 911.4 170.2 913.5 173.5 915.5 176.7 917.6 179.9 919.8 183.1 922.1 186.4 924.7 189.6 927.9 192.8 932.2 196.1 935.3 199.3 937.3 202.5 939.2 205.7 941.3 209 943.2 212.2 944.8 215.4 946.5 218.6 948.5 221.9 950.7 225.1 952.8 228.3 954.8 231.5 956.5 234.8 958.3 238 960.3 241.2 962.4 244.4 964.5 247.7 966.6 250.9 968.3 254.1 970 257.3 972 260.6 974.1 263.8 976 267 977.8 270.2 979.8 273.5 981.9 276.7 983.9 279.9 985.6 283.1 987.6 286.4 989.7 289.6 991.8 292.8 993.9 296.1 995.8 299.3 997.5 302.5 999.3 305.7 1001.4 309 1003.4 312.2 1005.2 315.4 1006.9 318.6 1008.5 321.9 1010.1 325.1 1011.8 328.3 1013.6" fill="none" stroke="#FF20F0" stroke-width="0.9"/><path d="M43.6 867.1l-2.4 1.4 -2.4 -1.4 0 -2.8 2.4 -1.4 2.4 1.4zM50.3 866.9l-2.4 1.4 -2.4 -1.4 0 -2.8 2.4 -1.4 2.4 1.4zM57 868.4l-2.4 1.4 -2.4 -1.4 0 -2.8 2.4 -1.4 2.4 1.4zM63.7 870.4l-2.4 1.4 -2.4 -1.4 0 -2.8 2.4 -1.4 2.4 1.4zM70.3 872.2l-2.4 1.4 -2.4 -1.4 0 -2.8 2.4 -1.4 2.4 1.4zM77 874.2l-2.4 1.4 -2.4 -1.4 0 -2.8 2.4 -1.4 2.4 1.4zM83.7 876.4l-2.4 1.4 -2.4 -1.4 0 -2.8 2.4 -1.4 2.4 1.4zM90.4 878.2l-2.4 1.4 -2.4 -1.4 0 -2.8 2.4 -1.4 2.4 1.4zM97 880.8l-2.4 1.4 -2.4 -1.4 0 -2.8 2.4 -1.4 2.4 1.4zM103.7 882.9l-2.4 1.4 -2.4 -1.4 0 -2.8 2.4 -1.4 2.4 1.4zM110.4 885.2l-2.4 1.4 -2.4 -1.4 0 -2.8 2.4 -1.4 2.4 1.4zM117.1 887.2l-2.4 1.4 -2.4 -1.4 0 -2.8 2.4 -1.4 2.4 1.4zM123.8 889.4l-2.4 1.4 -2.4 -1.4 0 -2.8 2.4 -1.4 2.4 1.4zM130.4 891.8l-2.4 1.4 -2.4 -1.4 0 -2.8 2.4 -1.4 2.4 1.4zM137.1 894.9l-2.4 1.4 -2.4 -1.4 0 -2.8 2.4 -1.4 2.4 1.4zM143.8 898l-2.4 1.4 -2.4 -1.4 0 -2.8 2.4 -1.4 2.4 1.4zM150.5 901.1l-2.4 1.4 -2.4 -1.4 0 -2.8 2.4 -1.4 2.4 1.4zM157.1 905.1l-2.4 1.4 -2.4 -1.4 0 -2.8 2.4 -1.4 2.4 1.4zM163.8 909.8l-2.4 1.4 -2.4 -1.4 0 -2.8 2.4 -1.4 2.4 1.4zM170.5 914.3l-2.4 1.4 -2.4 -1.4 0 -2.8 2.4 -1.4 2.4 1.4zM177.2 918.4l-2.4 1.4 -2.4 -1.4 0 -2.8 2.4 -1.4 2.4 1.4zM183.8 922.7l-2.4 1.4 -2.4 -1.4 0 -2.8 2.4 -1.4 2.4 1.4zM190.5 927.9l-2.4 1.4 -2.4 -1.4 0 -2.8 2.4 -1.4 2.4 1.4zM197.2 936l-2.4 1.4 -2.4 -1.4 0 -2.8 2.4 -1.4 2.4 1.4zM203.9 940.3l-2.4 1.4 -2.4 -1.4 0 -2.8 2.4 -1.4 2.4 1.4zM210.6 944.5l-2.4 1.4 -2.4 -1.4 0 -2.8 2.4 -1.4 2.4 1.4zM217.2 947.9l-2.4 1.4 -2.4 -1.4 0 -2.8 2.4 -1.4 2.4 1.4zM223.9 952.2l-2.4 1.4 -2.4 -1.4 0 -2.8 2.4 -1.4 2.4 1.4zM230.6 956.5l-2.4 1.4 -2.4 -1.4 0 -2.8 2.4 -1.4 2.4 1.4zM237.3 960.1l-2.4 1.4 -2.4 -1.4 0 -2.8 2.4 -1.4 2.4 1.4zM243.9 964.4l-2.4 1.4 -2.4 -1.4 0 -2.8 2.4 -1.4 2.4 1.4zM250.6 968.7l-2.4 1.4 -2.4 -1.4 0 -2.8 2.4 -1.4 2.4 1.4zM257.3 972.3l-2.4 1.4 -2.4 -1.4 0 -2.8 2.4 -1.4 2.4 1.4zM264 976.5l-2.4 1.4 -2.4 -1.4 0 -2.8 2.4 -1.4 2.4 1.4zM270.6 980.3l-2.4 1.4 -2.4 -1.4 0 -2.8 2.4 -1.4 2.4 1.4zM277.3 984.6l-2.4 1.4 -2.4 -1.4 0 -2.8 2.4 -1.4 2.4 1.4zM284 988.4l-2.4 1.4 -2.4 -1.4 0 -2.8 2.4 -1.4 2.4 1.4zM290.7 992.7l-2.4 1.4 -2.4 -1.4 0 -2.8 2.4 -1.4 2.4 1.4zM297.4 997l-2.4 1.4 -2.4 -1.4 0 -2.8 2.4 -1.4 2.4 1.4zM304 1000.6l-2.4 1.4 -2.4 -1.4 0 -2.8 2.4 -1.4 2.4 1.4zM310.7 1004.9l-2.4 1.4 -2.4 -1.4 0 -2.8 2.4 -1.4 2.4 1.4zM317.4 1008.5l-2.4 1.4 -2.4 -1.4 0 -2.8 2.4 -1.4 2.4 1.4zM324.1 1011.9l-2.4 1.4 -2.4 -1.4 0 -2.8 2.4 -1.4 2.4 1.4zM330.7 1015.5l-2.4 1.4 -2.4 -1.4 0 -2.8 2.4 -1.4 2.4 1.4z" fill="#F2F830"/><path d="M41.2 865.7 44.4 865.6 47.7 865.6 50.9 866 54.1 866.9 57.3 867.8 60.6 868.8 63.8 869.7 67 870.5 70.2 871.5 73.5 872.5 76.7 873.5 79.9 874.6 83.1 875.5 86.4 876.4 89.6 877.4 92.8 878.7 96 879.9 99.3 880.8 102.5 881.9 105.7 883 109 884.1 112.2 885.1 115.4 886.1 118.6 887.1 121.9 888.2 125.1 889.3 128.3 890.5 131.5 892 134.8 893.5 138 895.1 141.2 896.6 144.4 898 147.7 899.5 150.9 901.3 154.1 903.3 157.3 905.5 160.6 907.8 163.8 910.1 167 912.2 170.2 914.2 173.5 916.2 176.7 918.2 179.9 920.3 183.1 922.6 186.4 925 189.6 928.2 192.8 932.5 196.1 935.6 199.3 937.6 202.5 939.6 205.7 941.6 209 943.5 212.2 945.1 215.4 946.8 218.6 948.9 221.9 951 225.1 953.1 228.3 955.1 231.5 956.9 234.8 958.6 238 960.6 241.2 962.8 244.4 964.9 247.7 966.9 250.9 968.7 254.1 970.4 257.3 972.4 260.6 974.5 263.8 976.4 267 978.2 270.2 980.2 273.5 982.3 276.7 984.3 279.9 986.1 283.1 988 286.4 990.1 289.6 992.2 292.8 994.3 296.1 996.3 299.3 997.9 302.5 999.8 305.7 1001.9 309 1003.9 312.2 1005.7 315.4 1007.3 318.6 1009 321.9 1010.6 325.1 1012.3 328.3 1014.1" fill="none" stroke="#F2F830" stroke-width="0.9"/><path d="M44.3 867.7l-5.3 -2.9 0 5.8zM51 867.1l-5.3 -2.9 0 5.8zM57.7 868.1l-5.3 -2.9 0 5.8zM64.3 869.7l-5.3 -2.9 0 5.8zM71 871.1l-5.3 -2.9 0 5.8zM77.7 872.7l-5.3 -2.9 0 5.8zM84.4 874.2l-5.3 -2.9 0 5.8zM91 875.3l-5.3 -2.9 0 5.8zM97.7 877.2l-5.3 -2.9 0 5.8zM104.4 878.5l-5.3 -2.9 0 5.8zM111.1 880.2l-5.3 -2.9 0 5.8zM117.8 882.7l-5.3 -2.9 0 5.8zM124.4 885.2l-5.3 -2.9 0 5.8zM131.1 888l-5.3 -2.9 0 5.8zM137.8 891.6l-5.3 -2.9 0 5.8zM144.5 895.1l-5.3 -2.9 0 5.8zM151.1 898.6l-5.3 -2.9 0 5.8zM157.8 902.6l-5.3 -2.9 0 5.8zM164.5 907.4l-5.3 -2.9 0 5.8zM171.2 911.8l-5.3 -2.9 0 5.8zM177.8 915.9l-5.3 -2.9 0 5.8zM184.5 920.9l-5.3 -2.9 0 5.8zM191.2 926.6l-5.3 -2.9 0 5.8zM197.9 934.7l-5.3 -2.9 0 5.8zM204.6 939l-5.3 -2.9 0 5.8zM211.2 943.2l-5.3 -2.9 0 5.8zM217.9 946.7l-5.3 -2.9 0 5.8zM224.6 951l-5.3 -2.9 0 5.8zM231.3 955.3l-5.3 -2.9 0 5.8zM237.9 958.9l-5.3 -2.9 0 5.8zM244.6 963.2l-5.3 -2.9 0 5.8zM251.3 967.5l-5.3 -2.9 0 5.8zM258 971.1l-5.3 -2.9 0 5.8zM264.6 975.5l-5.3 -2.9 0 5.8zM271.3 979.3l-5.3 -2.9 0 5.8zM278 983.6l-5.3 -2.9 0 5.8zM284.7 987.4l-5.3 -2.9 0 5.8zM291.3 991.7l-5.3 -2.9 0 5.8zM298 996l-5.3 -2.9 0 5.8zM304.7 999.6l-5.3 -2.9 0 5.8zM311.4 1004l-5.3 -2.9 0 5.8zM318.1 1007.6l-5.3 -2.9 0 5.8zM324.7 1011l-5.3 -2.9 0 5.8zM331.4 1014.6l-5.3 -2.9 0 5.8z" fill="#2A8A22"/><path d="M41.2 867.7 44.4 867.3 47.7 867.1 50.9 867.4 54.1 868.1 57.3 868.7 60.6 869.5 63.8 870.2 67 870.9 70.2 871.6 73.5 872.4 76.7 873.2 79.9 873.9 83.1 874.5 86.4 875 89.6 875.7 92.8 876.7 96 877.5 99.3 878.1 102.5 878.8 105.7 879.6 109 880.5 112.2 881.7 115.4 883 118.6 884.2 121.9 885.4 125.1 886.7 128.3 888.2 131.5 889.8 134.8 891.6 138 893.4 141.2 895.1 144.4 896.7 147.7 898.4 150.9 900.2 154.1 902.2 157.3 904.4 160.6 906.8 163.8 909 167 911.2 170.2 913.2 173.5 915.1 176.7 917.3 179.9 919.7 183.1 922.2 186.4 925 189.6 928.4 192.8 932.6 196.1 935.7 199.3 937.7 202.5 939.7 205.7 941.8 209 943.7 212.2 945.3 215.4 947 218.6 949.1 221.9 951.2 225.1 953.3 228.3 955.4 231.5 957.1 234.8 958.9 238 960.9 241.2 963 244.4 965.1 247.7 967.2 250.9 969 254.1 970.7 257.3 972.7 260.6 974.8 263.8 976.8 267 978.6 270.2 980.6 273.5 982.7 276.7 984.6 279.9 986.4 283.1 988.4 286.4 990.5 289.6 992.6 292.8 994.7 296.1 996.7 299.3 998.4 302.5 1000.2 305.7 1002.3 309 1004.3 312.2 1006.1 315.4 1007.8 318.6 1009.4 321.9 1011.1 325.1 1012.8 328.3 1014.6" fill="none" stroke="#2A8A22" stroke-width="0.9"/><path d="M41.2 874.2l2.8 2 -1.1 3.2 -3.4 0 -1.1 -3.2zM47.9 874.7l2.8 2 -1.1 3.2 -3.4 0 -1.1 -3.2zM54.6 875.7l2.8 2 -1.1 3.2 -3.4 0 -1.1 -3.2zM61.2 876.8l2.8 2 -1.1 3.2 -3.4 0 -1.1 -3.2zM67.9 877.9l2.8 2 -1.1 3.2 -3.4 0 -1.1 -3.2zM74.6 878.6l2.8 2 -1.1 3.2 -3.4 0 -1.1 -3.2zM81.3 879.5l2.8 2 -1.1 3.2 -3.4 0 -1.1 -3.2zM87.9 880.8l2.8 2 -1.1 3.2 -3.4 0 -1.1 -3.2zM94.6 881.7l2.8 2 -1.1 3.2 -3.4 0 -1.1 -3.2zM101.3 883l2.8 2 -1.1 3.2 -3.4 0 -1.1 -3.2zM108 884.5l2.8 2 -1.1 3.2 -3.4 0 -1.1 -3.2zM114.7 886.7l2.8 2 -1.1 3.2 -3.4 0 -1.1 -3.2zM121.3 890l2.8 2 -1.1 3.2 -3.4 0 -1.1 -3.2zM128 893.3l2.8 2 -1.1 3.2 -3.4 0 -1.1 -3.2zM134.7 896.5l2.8 2 -1.1 3.2 -3.4 0 -1.1 -3.2zM141.4 900.5l2.8 2 -1.1 3.2 -3.4 0 -1.1 -3.2zM148 903.6l2.8 2 -1.1 3.2 -3.4 0 -1.1 -3.2zM154.7 907.9l2.8 2 -1.1 3.2 -3.4 0 -1.1 -3.2zM161.4 911.9l2.8 2 -1.1 3.2 -3.4 0 -1.1 -3.2zM168.1 915.8l2.8 2 -1.1 3.2 -3.4 0 -1.1 -3.2zM174.7 920.2l2.8 2 -1.1 3.2 -3.4 0 -1.1 -3.2zM181.4 923.8l2.8 2 -1.1 3.2 -3.4 0 -1.1 -3.2zM188.1 928.2l2.8 2 -1.1 3.2 -3.4 0 -1.1 -3.2zM194.8 932.6l2.8 2 -1.1 3.2 -3.4 0 -1.1 -3.2zM201.5 937l2.8 2 -1.1 3.2 -3.4 0 -1.1 -3.2zM208.1 941.3l2.8 2 -1.1 3.2 -3.4 0 -1.1 -3.2zM214.8 944.8l2.8 2 -1.1 3.2 -3.4 0 -1.1 -3.2zM221.5 949.2l2.8 2 -1.1 3.2 -3.4 0 -1.1 -3.2zM228.2 953.6l2.8 2 -1.1 3.2 -3.4 0 -1.1 -3.2zM234.8 957.3l2.8 2 -1.1 3.2 -3.4 0 -1.1 -3.2zM241.5 961.7l2.8 2 -1.1 3.2 -3.4 0 -1.1 -3.2zM248.2 966.1l2.8 2 -1.1 3.2 -3.4 0 -1.1 -3.2zM254.9 969.8l2.8 2 -1.1 3.2 -3.4 0 -1.1 -3.2zM261.5 974.2l2.8 2 -1.1 3.2 -3.4 0 -1.1 -3.2zM268.2 978.1l2.8 2 -1.1 3.2 -3.4 0 -1.1 -3.2zM274.9 982.5l2.8 2 -1.1 3.2 -3.4 0 -1.1 -3.2zM281.6 986.4l2.8 2 -1.1 3.2 -3.4 0 -1.1 -3.2zM288.2 990.8l2.8 2 -1.1 3.2 -3.4 0 -1.1 -3.2zM294.9 995.2l2.8 2 -1.1 3.2 -3.4 0 -1.1 -3.2zM301.6 998.9l2.8 2 -1.1 3.2 -3.4 0 -1.1 -3.2zM308.3 1003.3l2.8 2 -1.1 3.2 -3.4 0 -1.1 -3.2zM315 1007l2.8 2 -1.1 3.2 -3.4 0 -1.1 -3.2zM321.6 1010.5l2.8 2 -1.1 3.2 -3.4 0 -1.1 -3.2zM328.3 1014.2l2.8 2 -1.1 3.2 -3.4 0 -1.1 -3.2z" fill="#000000"/><path d="M41.2 877.1 44.4 877.3 47.7 877.6 50.9 878 54.1 878.5 57.3 879.1 60.6 879.6 63.8 880.1 67 880.7 70.2 881.1 73.5 881.4 76.7 881.8 79.9 882.2 83.1 882.7 86.4 883.4 89.6 883.9 92.8 884.3 96 884.8 99.3 885.5 102.5 886.1 105.7 886.8 109 887.7 112.2 888.7 115.4 889.9 118.6 891.5 121.9 893.2 125.1 894.8 128.3 896.3 131.5 897.9 134.8 899.4 138 901.4 141.2 903.3 144.4 904.8 147.7 906.3 150.9 908.3 154.1 910.4 157.3 912.4 160.6 914.3 163.8 916.2 167 918.1 170.2 920.1 173.5 922.3 176.7 924.2 179.9 925.9 183.1 927.8 186.4 929.9 189.6 932.1 192.8 934.2 196.1 936.3 199.3 938.5 202.5 940.6 205.7 942.7 209 944.7 212.2 946.3 215.4 948.1 218.6 950.2 221.9 952.4 225.1 954.5 228.3 956.6 231.5 958.4 234.8 960.2 238 962.2 241.2 964.4 244.4 966.6 247.7 968.7 250.9 970.5 254.1 972.3 257.3 974.3 260.6 976.5 263.8 978.4 267 980.3 270.2 982.3 273.5 984.5 276.7 986.5 279.9 988.3 283.1 990.3 286.4 992.4 289.6 994.6 292.8 996.8 296.1 998.7 299.3 1000.5 302.5 1002.4 305.7 1004.5 309 1006.6 312.2 1008.4 315.4 1010.1 318.6 1011.8 321.9 1013.5 325.1 1015.3 328.3 1017.1" fill="none" stroke="#000000" stroke-width="0.9"/></g><g clip-path="url(#cr3)"><path d="M393.9 936.9h0M400.6 921.5h0M407.2 916.1h0M413.9 916.7h0M420.6 920h0M427.2 924.2h0M433.9 927.7h0M440.6 929h0M447.2 930.7h0M453.9 921.1h0M460.6 903h0M467.3 884h0M473.9 868h0M480.6 857h0M487.3 849h0M493.9 844h0M500.6 840.5h0M507.3 838h0M513.9 836.5h0M520.6 834.9h0M527.3 834.2h0M533.9 833.8h0M540.6 834.2h0M547.3 833.8h0M553.9 833.8h0M560.6 833.8h0M567.3 833.8h0M573.9 833.8h0M580.6 833.8h0M587.3 833.8h0M593.9 833.8h0M600.6 833.8h0M607.3 833.8h0M613.9 833.8h0M620.6 834h0M627.3 834.2h0M633.9 834.5h0M640.6 834.9h0M647.3 836.4h0M653.9 838.6h0M660.6 841.4h0M667.3 842.5h0M673.9 842h0M680.6 840h0" stroke="#D6A43E" stroke-width="4.6" stroke-linecap="square"/><path d="M393.9 936.9 397.1 928 400.4 921.9 403.6 918.2 406.8 916.2 410 916.2 413.2 916.6 416.5 917.6 419.7 919.5 422.9 921.4 426.1 923.5 429.3 925.5 432.6 927.2 435.8 928.1 439 928.7 442.2 929.5 445.5 930.5 448.7 930 451.9 925 455.1 918.4 458.3 909.6 461.6 900.2 464.8 890.9 468 882.1 471.2 873.9 474.4 867 477.7 861.4 480.9 856.6 484.1 852.4 487.3 848.9 490.6 846.3 493.8 844.1 497 842.2 500.2 840.7 503.4 839.3 506.7 838.2 509.9 837.4 513.1 836.7 516.3 835.9 519.5 835.1 522.8 834.6 526 834.3 529.2 834 532.4 833.8 535.7 833.9 538.9 834.1 542.1 834.1 545.3 833.9 548.5 833.8 551.8 833.8 555 833.8 558.2 833.8 561.4 833.8 564.6 833.8 567.9 833.8 571.1 833.8 574.3 833.8 577.5 833.8 580.7 833.8 584 833.8 587.2 833.8 590.4 833.8 593.6 833.8 596.9 833.8 600.1 833.8 603.3 833.8 606.5 833.8 609.7 833.8 613 833.8 616.2 833.8 619.4 834 622.6 834.1 625.8 834.2 629.1 834.3 632.3 834.4 635.5 834.6 638.7 834.8 642 835.1 645.2 835.8 648.4 836.7 651.6 837.8 654.8 839 658.1 840.5 661.3 841.6 664.5 842.2 667.7 842.5 670.9 842.3 674.2 842 677.4 841.2 680.6 840" fill="none" stroke="#D6A43E" stroke-width="0.9"/><path d="M400.6 931.4h0M407.2 927.7h0M413.9 927.7h0M420.6 929.9h0M427.2 955.5h0M433.9 935h0M440.6 933h0M447.2 924.8h0M453.9 909.5h0M460.6 892.6h0M467.3 875.1h0M473.9 862.4h0M480.6 853.2h0M487.3 846.5h0M493.9 842h0M500.6 839h0M507.3 837h0M513.9 835.5h0M520.6 835h0M527.3 833.2h0M533.9 832.8h0M540.6 833.2h0M547.3 832.8h0M553.9 832.8h0M560.6 832.8h0M567.3 832.8h0M573.9 832.8h0M580.6 832.8h0M587.3 832.8h0M593.9 832.8h0M600.6 832.8h0M607.3 832.8h0M613.9 832.8h0M620.6 833h0M627.3 833.2h0M633.9 833.5h0M640.6 833.9h0M647.3 835.4h0M653.9 837.6h0M660.6 840.4h0M667.3 841.5h0M673.9 841h0M680.6 839h0" stroke="#FF1010" stroke-width="5.6" stroke-linecap="round"/><path d="M393.9 938 397.1 934.4 400.4 931.6 403.6 929.2 406.8 927.7 410 927.7 413.2 927.7 416.5 928.2 419.7 929.5 422.9 931 426.1 932.5 429.3 933.8 432.6 934.9 435.8 934.8 439 933.7 442.2 931.7 445.5 927.6 448.7 922.2 451.9 914.5 455.1 906.6 458.3 898.4 461.6 890 464.8 881.2 468 873.5 471.2 867.1 474.4 861.6 477.7 856.9 480.9 852.9 484.1 849.4 487.3 846.4 490.6 844.1 493.8 842.1 497 840.5 500.2 839.1 503.4 838.1 506.7 837.2 509.9 836.3 513.1 835.6 516.3 835.3 519.5 835.1 522.8 834.5 526 833.5 529.2 833 532.4 832.8 535.7 832.9 538.9 833.1 542.1 833.1 545.3 832.9 548.5 832.8 551.8 832.8 555 832.8 558.2 832.8 561.4 832.8 564.6 832.8 567.9 832.8 571.1 832.8 574.3 832.8 577.5 832.8 580.7 832.8 584 832.8 587.2 832.8 590.4 832.8 593.6 832.8 596.9 832.8 600.1 832.8 603.3 832.8 606.5 832.8 609.7 832.8 613 832.8 616.2 832.8 619.4 833 622.6 833.1 625.8 833.2 629.1 833.3 632.3 833.4 635.5 833.6 638.7 833.8 642 834.1 645.2 834.8 648.4 835.7 651.6 836.8 654.8 838 658.1 839.5 661.3 840.6 664.5 841.2 667.7 841.5 670.9 841.3 674.2 841 677.4 840.2 680.6 839" fill="none" stroke="#FF1010" stroke-width="0.9"/><path d="M400.6 929.9l2.9 5.3 -5.8 0zM407.2 928.3l2.9 5.3 -5.8 0zM413.9 928.3l2.9 5.3 -5.8 0zM420.6 928.9l2.9 5.3 -5.8 0zM427.2 929.9l2.9 5.3 -5.8 0zM433.9 929.9l2.9 5.3 -5.8 0zM440.6 927.9l2.9 5.3 -5.8 0zM447.2 917.3l2.9 5.3 -5.8 0zM453.9 901.4l2.9 5.3 -5.8 0zM460.6 883.4l2.9 5.3 -5.8 0zM467.3 866.3l2.9 5.3 -5.8 0zM473.9 854.9l2.9 5.3 -5.8 0zM480.6 846.6l2.9 5.3 -5.8 0zM487.3 840.7l2.9 5.3 -5.8 0zM493.9 836.9l2.9 5.3 -5.8 0zM500.6 834.4l2.9 5.3 -5.8 0zM507.3 832.4l2.9 5.3 -5.8 0zM513.9 831.4l2.9 5.3 -5.8 0zM520.6 830.9l2.9 5.3 -5.8 0zM527.3 830.6l2.9 5.3 -5.8 0zM533.9 830.2l2.9 5.3 -5.8 0zM540.6 830.6l2.9 5.3 -5.8 0zM547.3 830.2l2.9 5.3 -5.8 0zM553.9 830.2l2.9 5.3 -5.8 0zM560.6 830.2l2.9 5.3 -5.8 0zM567.3 830.2l2.9 5.3 -5.8 0zM573.9 830.2l2.9 5.3 -5.8 0zM580.6 830.2l2.9 5.3 -5.8 0zM587.3 830.2l2.9 5.3 -5.8 0zM593.9 830.2l2.9 5.3 -5.8 0zM600.6 830.2l2.9 5.3 -5.8 0zM607.3 830.2l2.9 5.3 -5.8 0zM613.9 830.2l2.9 5.3 -5.8 0zM620.6 830.4l2.9 5.3 -5.8 0zM627.3 830.6l2.9 5.3 -5.8 0zM633.9 830.9l2.9 5.3 -5.8 0zM640.6 831.3l2.9 5.3 -5.8 0zM647.3 832.8l2.9 5.3 -5.8 0zM653.9 835l2.9 5.3 -5.8 0zM660.6 837.8l2.9 5.3 -5.8 0zM667.3 838.9l2.9 5.3 -5.8 0zM673.9 838.4l2.9 5.3 -5.8 0zM680.6 836.4l2.9 5.3 -5.8 0z" fill="#10F010"/><path d="M393.9 935 397.1 934 400.4 933.1 403.6 932.1 406.8 931.4 410 931.4 413.2 931.4 416.5 931.5 419.7 931.9 422.9 932.4 426.1 932.9 429.3 933 432.6 933 435.8 932.8 439 931.7 442.2 929.4 445.5 923.9 448.7 917.5 451.9 909.7 455.1 901.4 458.3 892.6 461.6 883.9 464.8 875.2 468 867.9 471.2 862.2 474.4 857.3 477.7 853 480.9 849.4 484.1 846.3 487.3 843.8 490.6 841.7 493.8 840.1 497 838.8 500.2 837.6 503.4 836.5 506.7 835.6 509.9 835 513.1 834.6 516.3 834.3 519.5 834.1 522.8 833.9 526 833.8 529.2 833.6 532.4 833.3 535.7 833.4 538.9 833.6 542.1 833.6 545.3 833.4 548.5 833.3 551.8 833.3 555 833.3 558.2 833.3 561.4 833.3 564.6 833.3 567.9 833.3 571.1 833.3 574.3 833.3 577.5 833.3 580.7 833.3 584 833.3 587.2 833.3 590.4 833.3 593.6 833.3 596.9 833.3 600.1 833.3 603.3 833.3 606.5 833.3 609.7 833.3 613 833.3 616.2 833.3 619.4 833.5 622.6 833.6 625.8 833.7 629.1 833.8 632.3 833.9 635.5 834.1 638.7 834.3 642 834.6 645.2 835.3 648.4 836.2 651.6 837.3 654.8 838.5 658.1 840 661.3 841.1 664.5 841.7 667.7 842 670.9 841.8 674.2 841.5 677.4 840.7 680.6 839.5" fill="none" stroke="#10F010" stroke-width="0.9"/><path d="M400.6 949.8l2.9 -5.3 -5.8 0zM407.2 944.3l2.9 -5.3 -5.8 0zM413.9 941.1l2.9 -5.3 -5.8 0zM420.6 941.1l2.9 -5.3 -5.8 0zM427.2 935.6l2.9 -5.3 -5.8 0zM433.9 940.4l2.9 -5.3 -5.8 0zM440.6 938.2l2.9 -5.3 -5.8 0zM447.2 930.1l2.9 -5.3 -5.8 0zM453.9 919.2l2.9 -5.3 -5.8 0zM460.6 901.6l2.9 -5.3 -5.8 0zM467.3 881.9l2.9 -5.3 -5.8 0zM473.9 868.8l2.9 -5.3 -5.8 0zM480.6 857.8l2.9 -5.3 -5.8 0zM487.3 850.2l2.9 -5.3 -5.8 0zM493.9 845.4l2.9 -5.3 -5.8 0zM500.6 841.9l2.9 -5.3 -5.8 0zM507.3 839.2l2.9 -5.3 -5.8 0zM513.9 837.1l2.9 -5.3 -5.8 0zM520.6 836l2.9 -5.3 -5.8 0zM527.3 835.3l2.9 -5.3 -5.8 0zM533.9 834.9l2.9 -5.3 -5.8 0zM540.6 835.3l2.9 -5.3 -5.8 0zM547.3 834.9l2.9 -5.3 -5.8 0zM553.9 834.9l2.9 -5.3 -5.8 0zM560.6 834.9l2.9 -5.3 -5.8 0zM567.3 834.9l2.9 -5.3 -5.8 0zM573.9 834.9l2.9 -5.3 -5.8 0zM580.6 834.9l2.9 -5.3 -5.8 0zM587.3 834.9l2.9 -5.3 -5.8 0zM593.9 834.9l2.9 -5.3 -5.8 0zM600.6 834.9l2.9 -5.3 -5.8 0zM607.3 834.9l2.9 -5.3 -5.8 0zM613.9 834.9l2.9 -5.3 -5.8 0zM620.6 835.1l2.9 -5.3 -5.8 0zM627.3 835.3l2.9 -5.3 -5.8 0zM633.9 835.6l2.9 -5.3 -5.8 0zM640.6 836l2.9 -5.3 -5.8 0zM647.3 837.5l2.9 -5.3 -5.8 0zM653.9 839.7l2.9 -5.3 -5.8 0zM660.6 842.5l2.9 -5.3 -5.8 0zM667.3 843.6l2.9 -5.3 -5.8 0zM673.9 843.1l2.9 -5.3 -5.8 0zM680.6 841.1l2.9 -5.3 -5.8 0z" fill="#1010FF"/><path d="M393.9 946.7 397.1 946.7 400.4 946.7 403.6 944.8 406.8 941.5 410 939.4 413.2 938.1 416.5 938 419.7 938 422.9 936.4 426.1 933 429.3 933.7 432.6 936.7 435.8 937.1 439 935.9 442.2 933.7 445.5 929.6 448.7 925 451.9 919.9 455.1 913.4 458.3 904.9 461.6 895.7 464.8 885.6 468 877.1 471.2 870.6 474.4 864.8 477.7 859.1 480.9 854.3 484.1 850.3 487.3 847 490.6 844.5 493.8 842.4 497 840.6 500.2 839 503.4 837.6 506.7 836.3 509.9 835.2 513.1 834.2 516.3 833.5 519.5 833 522.8 832.6 526 832.3 529.2 832 532.4 831.8 535.7 831.9 538.9 832.1 542.1 832.1 545.3 831.9 548.5 831.8 551.8 831.8 555 831.8 558.2 831.8 561.4 831.8 564.6 831.8 567.9 831.8 571.1 831.8 574.3 831.8 577.5 831.8 580.7 831.8 584 831.8 587.2 831.8 590.4 831.8 593.6 831.8 596.9 831.8 600.1 831.8 603.3 831.8 606.5 831.8 609.7 831.8 613 831.8 616.2 831.8 619.4 832 622.6 832.1 625.8 832.2 629.1 832.3 632.3 832.4 635.5 832.6 638.7 832.8 642 833.1 645.2 833.8 648.4 834.7 651.6 835.8 654.8 837 658.1 838.5 661.3 839.6 664.5 840.2 667.7 840.5 670.9 840.3 674.2 840 677.4 839.2 680.6 838" fill="none" stroke="#1010FF" stroke-width="0.9"/><path d="M393.9 967.7l2.8 3.1 -2.8 3.1 -2.8 -3.1zM400.6 964l2.8 3.1 -2.8 3.1 -2.8 -3.1zM407.2 962.2l2.8 3.1 -2.8 3.1 -2.8 -3.1zM413.9 960.9l2.8 3.1 -2.8 3.1 -2.8 -3.1zM420.6 959.6l2.8 3.1 -2.8 3.1 -2.8 -3.1zM427.2 956.8l2.8 3.1 -2.8 3.1 -2.8 -3.1zM433.9 952.9l2.8 3.1 -2.8 3.1 -2.8 -3.1zM440.6 946.9l2.8 3.1 -2.8 3.1 -2.8 -3.1zM447.2 936.9l2.8 3.1 -2.8 3.1 -2.8 -3.1zM453.9 921.9l2.8 3.1 -2.8 3.1 -2.8 -3.1zM460.6 902.9l2.8 3.1 -2.8 3.1 -2.8 -3.1zM467.3 884.9l2.8 3.1 -2.8 3.1 -2.8 -3.1zM473.9 868.9l2.8 3.1 -2.8 3.1 -2.8 -3.1zM480.6 856.9l2.8 3.1 -2.8 3.1 -2.8 -3.1zM487.3 848.9l2.8 3.1 -2.8 3.1 -2.8 -3.1zM493.9 842.9l2.8 3.1 -2.8 3.1 -2.8 -3.1zM500.6 838.9l2.8 3.1 -2.8 3.1 -2.8 -3.1zM507.3 836.4l2.8 3.1 -2.8 3.1 -2.8 -3.1zM513.9 834.9l2.8 3.1 -2.8 3.1 -2.8 -3.1zM520.6 833.9l2.8 3.1 -2.8 3.1 -2.8 -3.1zM527.3 833.1l2.8 3.1 -2.8 3.1 -2.8 -3.1zM533.9 832.7l2.8 3.1 -2.8 3.1 -2.8 -3.1zM540.6 833.1l2.8 3.1 -2.8 3.1 -2.8 -3.1zM547.3 832.7l2.8 3.1 -2.8 3.1 -2.8 -3.1zM553.9 832.7l2.8 3.1 -2.8 3.1 -2.8 -3.1zM560.6 832.7l2.8 3.1 -2.8 3.1 -2.8 -3.1zM567.3 832.7l2.8 3.1 -2.8 3.1 -2.8 -3.1zM573.9 832.7l2.8 3.1 -2.8 3.1 -2.8 -3.1zM580.6 832.7l2.8 3.1 -2.8 3.1 -2.8 -3.1zM587.3 832.7l2.8 3.1 -2.8 3.1 -2.8 -3.1zM593.9 832.7l2.8 3.1 -2.8 3.1 -2.8 -3.1zM600.6 832.7l2.8 3.1 -2.8 3.1 -2.8 -3.1zM607.3 832.7l2.8 3.1 -2.8 3.1 -2.8 -3.1zM613.9 832.7l2.8 3.1 -2.8 3.1 -2.8 -3.1zM620.6 832.9l2.8 3.1 -2.8 3.1 -2.8 -3.1zM627.3 833.1l2.8 3.1 -2.8 3.1 -2.8 -3.1zM633.9 833.4l2.8 3.1 -2.8 3.1 -2.8 -3.1zM640.6 833.8l2.8 3.1 -2.8 3.1 -2.8 -3.1zM647.3 835.3l2.8 3.1 -2.8 3.1 -2.8 -3.1zM653.9 837.5l2.8 3.1 -2.8 3.1 -2.8 -3.1zM660.6 840.3l2.8 3.1 -2.8 3.1 -2.8 -3.1zM667.3 841.4l2.8 3.1 -2.8 3.1 -2.8 -3.1zM673.9 840.9l2.8 3.1 -2.8 3.1 -2.8 -3.1zM680.6 838.9l2.8 3.1 -2.8 3.1 -2.8 -3.1z" fill="#50F0F8"/><path d="M393.9 970.8 397.1 968.7 400.4 967.2 403.6 966.2 406.8 965.4 410 964.7 413.2 964.1 416.5 963.5 419.7 962.9 422.9 961.9 426.1 960.4 429.3 958.8 432.6 956.9 435.8 954.6 439 951.7 442.2 947.9 445.5 943.1 448.7 937.3 451.9 930 455.1 921.8 458.3 912.5 461.6 903.3 464.8 894.5 468 886.1 471.2 878.1 474.4 870.9 477.7 864.8 480.9 859.6 484.1 855.5 487.3 851.9 490.6 848.8 493.8 846.1 497 844 500.2 842.2 503.4 840.8 506.7 839.7 509.9 838.8 513.1 838.2 516.3 837.6 519.5 837.1 522.8 836.7 526 836.3 529.2 836 532.4 835.8 535.7 835.9 538.9 836.1 542.1 836.1 545.3 835.9 548.5 835.8 551.8 835.8 555 835.8 558.2 835.8 561.4 835.8 564.6 835.8 567.9 835.8 571.1 835.8 574.3 835.8 577.5 835.8 580.7 835.8 584 835.8 587.2 835.8 590.4 835.8 593.6 835.8 596.9 835.8 600.1 835.8 603.3 835.8 606.5 835.8 609.7 835.8 613 835.8 616.2 835.8 619.4 836 622.6 836.1 625.8 836.2 629.1 836.3 632.3 836.4 635.5 836.6 638.7 836.8 642 837.1 645.2 837.8 648.4 838.7 651.6 839.8 654.8 841 658.1 842.5 661.3 843.6 664.5 844.2 667.7 844.5 670.9 844.3 674.2 844 677.4 843.2 680.6 842" fill="none" stroke="#50F0F8" stroke-width="0.9"/><path d="M390.8 978.5l5.3 -2.9 0 5.8zM397.5 979.6l5.3 -2.9 0 5.8zM404.1 977.4l5.3 -2.9 0 5.8zM410.8 972l5.3 -2.9 0 5.8zM417.5 967.5l5.3 -2.9 0 5.8zM424.1 962l5.3 -2.9 0 5.8zM430.8 954.4l5.3 -2.9 0 5.8zM437.5 947l5.3 -2.9 0 5.8zM444.1 937l5.3 -2.9 0 5.8zM450.8 922l5.3 -2.9 0 5.8zM457.5 904l5.3 -2.9 0 5.8zM464.2 887l5.3 -2.9 0 5.8zM470.8 872l5.3 -2.9 0 5.8zM477.5 861l5.3 -2.9 0 5.8zM484.2 853l5.3 -2.9 0 5.8zM490.8 847.5l5.3 -2.9 0 5.8zM497.5 844l5.3 -2.9 0 5.8zM504.2 841.5l5.3 -2.9 0 5.8zM510.8 840l5.3 -2.9 0 5.8zM517.5 838.9l5.3 -2.9 0 5.8zM524.2 838.2l5.3 -2.9 0 5.8zM530.8 837.8l5.3 -2.9 0 5.8zM537.5 838.2l5.3 -2.9 0 5.8zM544.2 837.8l5.3 -2.9 0 5.8zM550.8 837.8l5.3 -2.9 0 5.8zM557.5 837.8l5.3 -2.9 0 5.8zM564.2 837.8l5.3 -2.9 0 5.8zM570.8 837.8l5.3 -2.9 0 5.8zM577.5 837.8l5.3 -2.9 0 5.8zM584.2 837.8l5.3 -2.9 0 5.8zM590.8 837.8l5.3 -2.9 0 5.8zM597.5 837.8l5.3 -2.9 0 5.8zM604.2 837.8l5.3 -2.9 0 5.8zM610.8 837.8l5.3 -2.9 0 5.8zM617.5 838l5.3 -2.9 0 5.8zM624.2 838.2l5.3 -2.9 0 5.8zM630.8 838.5l5.3 -2.9 0 5.8zM637.5 838.9l5.3 -2.9 0 5.8zM644.2 840.4l5.3 -2.9 0 5.8zM650.8 842.6l5.3 -2.9 0 5.8zM657.5 845.4l5.3 -2.9 0 5.8zM664.2 846.5l5.3 -2.9 0 5.8zM670.8 844.9l5.3 -2.9 0 5.8zM677.5 840.5l5.3 -2.9 0 5.8z" fill="#FF20F0"/><path d="M393.9 978.5 397.1 979.4 400.4 979.6 403.6 979 406.8 977.6 410 975.4 413.2 972.6 416.5 970.3 419.7 968.1 422.9 965.7 426.1 963 429.3 959.8 432.6 956 435.8 952.4 439 948.9 442.2 944.8 445.5 940 448.7 934.2 451.9 926.9 455.1 918.9 458.3 910.1 461.6 901.4 464.8 893.1 468 885.2 471.2 877.7 474.4 871 477.7 865.4 480.9 860.6 484.1 856.4 487.3 852.9 490.6 850 493.8 847.6 497 845.7 500.2 844.2 503.4 842.8 506.7 841.7 509.9 840.8 513.1 840.2 516.3 839.6 519.5 839 522.8 838.6 526 838.3 529.2 838 532.4 837.8 535.7 837.9 538.9 838.1 542.1 838.1 545.3 837.9 548.5 837.8 551.8 837.8 555 837.8 558.2 837.8 561.4 837.8 564.6 837.8 567.9 837.8 571.1 837.8 574.3 837.8 577.5 837.8 580.7 837.8 584 837.8 587.2 837.8 590.4 837.8 593.6 837.8 596.9 837.8 600.1 837.8 603.3 837.8 606.5 837.8 609.7 837.8 613 837.8 616.2 837.8 619.4 838 622.6 838.1 625.8 838.2 629.1 838.3 632.3 838.4 635.5 838.6 638.7 838.8 642 839.1 645.2 839.8 648.4 840.7 651.6 841.8 654.8 843 658.1 844.5 661.3 845.6 664.5 846.2 667.7 846.5 670.9 845.9 674.2 844.8 677.4 843 680.6 840.5" fill="none" stroke="#FF20F0" stroke-width="0.9"/><path d="M409.7 989.1l-2.4 1.4 -2.4 -1.4 0 -2.8 2.4 -1.4 2.4 1.4zM416.3 984.7l-2.4 1.4 -2.4 -1.4 0 -2.8 2.4 -1.4 2.4 1.4zM423 978.8l-2.4 1.4 -2.4 -1.4 0 -2.8 2.4 -1.4 2.4 1.4zM429.7 972.2l-2.4 1.4 -2.4 -1.4 0 -2.8 2.4 -1.4 2.4 1.4zM436.3 965.6l-2.4 1.4 -2.4 -1.4 0 -2.8 2.4 -1.4 2.4 1.4zM443 956.9l-2.4 1.4 -2.4 -1.4 0 -2.8 2.4 -1.4 2.4 1.4zM449.7 945.3l-2.4 1.4 -2.4 -1.4 0 -2.8 2.4 -1.4 2.4 1.4zM456.3 930.4l-2.4 1.4 -2.4 -1.4 0 -2.8 2.4 -1.4 2.4 1.4zM463 914.6l-2.4 1.4 -2.4 -1.4 0 -2.8 2.4 -1.4 2.4 1.4zM469.7 902.1l-2.4 1.4 -2.4 -1.4 0 -2.8 2.4 -1.4 2.4 1.4zM476.3 885.4l-2.4 1.4 -2.4 -1.4 0 -2.8 2.4 -1.4 2.4 1.4zM483 871.4l-2.4 1.4 -2.4 -1.4 0 -2.8 2.4 -1.4 2.4 1.4zM489.7 861.4l-2.4 1.4 -2.4 -1.4 0 -2.8 2.4 -1.4 2.4 1.4zM496.3 853.4l-2.4 1.4 -2.4 -1.4 0 -2.8 2.4 -1.4 2.4 1.4zM503 848.4l-2.4 1.4 -2.4 -1.4 0 -2.8 2.4 -1.4 2.4 1.4zM509.7 845.4l-2.4 1.4 -2.4 -1.4 0 -2.8 2.4 -1.4 2.4 1.4zM516.3 843.4l-2.4 1.4 -2.4 -1.4 0 -2.8 2.4 -1.4 2.4 1.4zM523 841.3l-2.4 1.4 -2.4 -1.4 0 -2.8 2.4 -1.4 2.4 1.4zM529.7 840.6l-2.4 1.4 -2.4 -1.4 0 -2.8 2.4 -1.4 2.4 1.4zM536.4 840.2l-2.4 1.4 -2.4 -1.4 0 -2.8 2.4 -1.4 2.4 1.4zM543 840.6l-2.4 1.4 -2.4 -1.4 0 -2.8 2.4 -1.4 2.4 1.4zM549.7 840.2l-2.4 1.4 -2.4 -1.4 0 -2.8 2.4 -1.4 2.4 1.4zM556.4 840.2l-2.4 1.4 -2.4 -1.4 0 -2.8 2.4 -1.4 2.4 1.4zM563 840.2l-2.4 1.4 -2.4 -1.4 0 -2.8 2.4 -1.4 2.4 1.4zM569.7 840.2l-2.4 1.4 -2.4 -1.4 0 -2.8 2.4 -1.4 2.4 1.4zM576.4 840.2l-2.4 1.4 -2.4 -1.4 0 -2.8 2.4 -1.4 2.4 1.4zM583 840.2l-2.4 1.4 -2.4 -1.4 0 -2.8 2.4 -1.4 2.4 1.4zM589.7 840.2l-2.4 1.4 -2.4 -1.4 0 -2.8 2.4 -1.4 2.4 1.4zM596.4 840.2l-2.4 1.4 -2.4 -1.4 0 -2.8 2.4 -1.4 2.4 1.4zM603 840.2l-2.4 1.4 -2.4 -1.4 0 -2.8 2.4 -1.4 2.4 1.4zM609.7 840.2l-2.4 1.4 -2.4 -1.4 0 -2.8 2.4 -1.4 2.4 1.4zM616.4 840.2l-2.4 1.4 -2.4 -1.4 0 -2.8 2.4 -1.4 2.4 1.4zM623 840.4l-2.4 1.4 -2.4 -1.4 0 -2.8 2.4 -1.4 2.4 1.4zM629.7 840.6l-2.4 1.4 -2.4 -1.4 0 -2.8 2.4 -1.4 2.4 1.4zM636.4 840.9l-2.4 1.4 -2.4 -1.4 0 -2.8 2.4 -1.4 2.4 1.4zM643 841.3l-2.4 1.4 -2.4 -1.4 0 -2.8 2.4 -1.4 2.4 1.4zM649.7 842.8l-2.4 1.4 -2.4 -1.4 0 -2.8 2.4 -1.4 2.4 1.4zM656.4 845l-2.4 1.4 -2.4 -1.4 0 -2.8 2.4 -1.4 2.4 1.4zM663 847.8l-2.4 1.4 -2.4 -1.4 0 -2.8 2.4 -1.4 2.4 1.4zM669.7 848.9l-2.4 1.4 -2.4 -1.4 0 -2.8 2.4 -1.4 2.4 1.4zM676.4 838.6l-2.4 1.4 -2.4 -1.4 0 -2.8 2.4 -1.4 2.4 1.4zM683 829.9l-2.4 1.4 -2.4 -1.4 0 -2.8 2.4 -1.4 2.4 1.4z" fill="#F2F830"/><path d="M393.9 990 397.1 989.6 400.4 989 403.6 988.5 406.8 987.8 410 986.3 413.2 983.8 416.5 981.2 419.7 978.2 422.9 975.2 426.1 971.9 429.3 968.8 432.6 965.6 435.8 962 439 957.8 442.2 952.9 445.5 947.3 448.7 941 451.9 933.7 455.1 926.1 458.3 918.3 461.6 911.3 464.8 905.5 468 899 471.2 890.8 474.4 882.8 477.7 875.7 480.9 869.5 484.1 864.4 487.3 859.9 490.6 855.7 493.8 852.2 497 849.4 500.2 847.2 503.4 845.6 506.7 844.2 509.9 843.2 513.1 842.2 516.3 841.2 519.5 840.1 522.8 839.6 526 839.3 529.2 839 532.4 838.8 535.7 838.9 538.9 839.1 542.1 839.1 545.3 838.9 548.5 838.8 551.8 838.8 555 838.8 558.2 838.8 561.4 838.8 564.6 838.8 567.9 838.8 571.1 838.8 574.3 838.8 577.5 838.8 580.7 838.8 584 838.8 587.2 838.8 590.4 838.8 593.6 838.8 596.9 838.8 600.1 838.8 603.3 838.8 606.5 838.8 609.7 838.8 613 838.8 616.2 838.8 619.4 839 622.6 839.1 625.8 839.2 629.1 839.3 632.3 839.4 635.5 839.6 638.7 839.8 642 840.1 645.2 840.8 648.4 841.7 651.6 842.8 654.8 844 658.1 845.5 661.3 846.6 664.5 847.2 667.7 847.4 670.9 842.8 674.2 836.9 677.4 832.5 680.6 828.5" fill="none" stroke="#F2F830" stroke-width="0.9"/><path d="M397 1000.8l-5.3 -2.9 0 5.8zM403.7 1001.5l-5.3 -2.9 0 5.8zM410.3 999.3l-5.3 -2.9 0 5.8zM417 993.8l-5.3 -2.9 0 5.8zM423.7 987.7l-5.3 -2.9 0 5.8zM430.3 980.2l-5.3 -2.9 0 5.8zM437 973l-5.3 -2.9 0 5.8zM443.7 964.2l-5.3 -2.9 0 5.8zM450.3 953.3l-5.3 -2.9 0 5.8zM457 936.9l-5.3 -2.9 0 5.8zM463.7 917.6l-5.3 -2.9 0 5.8zM470.4 897.4l-5.3 -2.9 0 5.8zM477 880.4l-5.3 -2.9 0 5.8zM483.7 866.4l-5.3 -2.9 0 5.8zM490.4 857l-5.3 -2.9 0 5.8zM497 851l-5.3 -2.9 0 5.8zM503.7 847l-5.3 -2.9 0 5.8zM510.4 845l-5.3 -2.9 0 5.8zM517 843.5l-5.3 -2.9 0 5.8zM523.7 842.5l-5.3 -2.9 0 5.8zM530.4 842l-5.3 -2.9 0 5.8zM537 841.5l-5.3 -2.9 0 5.8zM543.7 841l-5.3 -2.9 0 5.8zM550.4 840l-5.3 -2.9 0 5.8zM557 839.5l-5.3 -2.9 0 5.8zM563.7 839.5l-5.3 -2.9 0 5.8zM570.4 839.5l-5.3 -2.9 0 5.8zM577 840l-5.3 -2.9 0 5.8zM583.7 840.5l-5.3 -2.9 0 5.8zM590.4 841l-5.3 -2.9 0 5.8zM597 841.5l-5.3 -2.9 0 5.8zM603.7 842l-5.3 -2.9 0 5.8zM610.4 842.5l-5.3 -2.9 0 5.8zM617 843l-5.3 -2.9 0 5.8zM623.7 843.5l-5.3 -2.9 0 5.8zM630.4 843.5l-5.3 -2.9 0 5.8zM637 843.5l-5.3 -2.9 0 5.8zM643.7 843.8l-5.3 -2.9 0 5.8zM650.4 844l-5.3 -2.9 0 5.8zM657 844.5l-5.3 -2.9 0 5.8zM663.7 846l-5.3 -2.9 0 5.8zM670.4 846l-5.3 -2.9 0 5.8zM677 843l-5.3 -2.9 0 5.8zM683.7 832.9l-5.3 -2.9 0 5.8z" fill="#2A8A22"/><path d="M393.9 1000.8 397.1 1001.4 400.4 1001.5 403.6 1000.9 406.8 999.5 410 997.4 413.2 994.4 416.5 991.6 419.7 988.6 422.9 985.2 426.1 981.5 429.3 978 432.6 974.5 435.8 970.7 439 966.4 442.2 961.8 445.5 956.6 448.7 950.3 451.9 942.3 455.1 933.6 458.3 924.3 461.6 914.7 464.8 904.7 468 895.4 471.2 886.9 474.4 879.2 477.7 872 480.9 865.9 484.1 861 487.3 856.9 490.6 853.7 493.8 851.1 497 848.9 500.2 847.2 503.4 846 506.7 845.2 509.9 844.4 513.1 843.7 516.3 843.1 519.5 842.6 522.8 842.3 526 842.1 529.2 841.9 532.4 841.6 535.7 841.4 538.9 841.2 542.1 840.8 545.3 840.3 548.5 839.9 551.8 839.6 555 839.5 558.2 839.5 561.4 839.5 564.6 839.5 567.9 839.5 571.1 839.7 574.3 840 577.5 840.3 580.7 840.5 584 840.8 587.2 841 590.4 841.2 593.6 841.5 596.9 841.7 600.1 842 603.3 842.2 606.5 842.4 609.7 842.7 613 842.9 616.2 843.2 619.4 843.5 622.6 843.5 625.8 843.5 629.1 843.5 632.3 843.5 635.5 843.5 638.7 843.7 642 843.8 645.2 843.9 648.4 844.1 651.6 844.3 654.8 844.7 658.1 845.6 661.3 846 664.5 846 667.7 846 670.9 844.9 674.2 842.8 677.4 838.9 680.6 832.9" fill="none" stroke="#2A8A22" stroke-width="0.9"/><path d="M393.9 1004l2.8 2 -1.1 3.2 -3.4 0 -1.1 -3.2zM400.6 1005.1l2.8 2 -1.1 3.2 -3.4 0 -1.1 -3.2zM407.2 1006.7l2.8 2 -1.1 3.2 -3.4 0 -1.1 -3.2zM413.9 1003.6l2.8 2 -1.1 3.2 -3.4 0 -1.1 -3.2zM420.6 999.2l2.8 2 -1.1 3.2 -3.4 0 -1.1 -3.2zM427.2 995.3l2.8 2 -1.1 3.2 -3.4 0 -1.1 -3.2zM433.9 991.3l2.8 2 -1.1 3.2 -3.4 0 -1.1 -3.2zM440.6 988.3l2.8 2 -1.1 3.2 -3.4 0 -1.1 -3.2zM447.2 982.1l2.8 2 -1.1 3.2 -3.4 0 -1.1 -3.2zM453.9 971.2l2.8 2 -1.1 3.2 -3.4 0 -1.1 -3.2zM460.6 954.8l2.8 2 -1.1 3.2 -3.4 0 -1.1 -3.2zM467.3 932.9l2.8 2 -1.1 3.2 -3.4 0 -1.1 -3.2zM473.9 908.8l2.8 2 -1.1 3.2 -3.4 0 -1.1 -3.2zM480.6 888.4l2.8 2 -1.1 3.2 -3.4 0 -1.1 -3.2zM487.3 872.7l2.8 2 -1.1 3.2 -3.4 0 -1.1 -3.2zM493.9 861.3l2.8 2 -1.1 3.2 -3.4 0 -1.1 -3.2zM500.6 853.4l2.8 2 -1.1 3.2 -3.4 0 -1.1 -3.2zM507.3 848.6l2.8 2 -1.1 3.2 -3.4 0 -1.1 -3.2zM513.9 845.3l2.8 2 -1.1 3.2 -3.4 0 -1.1 -3.2zM520.6 843.1l2.8 2 -1.1 3.2 -3.4 0 -1.1 -3.2zM527.3 841.6l2.8 2 -1.1 3.2 -3.4 0 -1.1 -3.2zM533.9 840.2l2.8 2 -1.1 3.2 -3.4 0 -1.1 -3.2zM540.6 839.4l2.8 2 -1.1 3.2 -3.4 0 -1.1 -3.2zM547.3 838.1l2.8 2 -1.1 3.2 -3.4 0 -1.1 -3.2zM553.9 837.6l2.8 2 -1.1 3.2 -3.4 0 -1.1 -3.2zM560.6 837.6l2.8 2 -1.1 3.2 -3.4 0 -1.1 -3.2zM567.3 837.6l2.8 2 -1.1 3.2 -3.4 0 -1.1 -3.2zM573.9 838.1l2.8 2 -1.1 3.2 -3.4 0 -1.1 -3.2zM580.6 838.7l2.8 2 -1.1 3.2 -3.4 0 -1.1 -3.2zM587.3 839.4l2.8 2 -1.1 3.2 -3.4 0 -1.1 -3.2zM593.9 839.8l2.8 2 -1.1 3.2 -3.4 0 -1.1 -3.2zM600.6 840.9l2.8 2 -1.1 3.2 -3.4 0 -1.1 -3.2zM607.3 841.6l2.8 2 -1.1 3.2 -3.4 0 -1.1 -3.2zM613.9 842l2.8 2 -1.1 3.2 -3.4 0 -1.1 -3.2zM620.6 842l2.8 2 -1.1 3.2 -3.4 0 -1.1 -3.2zM627.3 842l2.8 2 -1.1 3.2 -3.4 0 -1.1 -3.2zM633.9 841.6l2.8 2 -1.1 3.2 -3.4 0 -1.1 -3.2zM640.6 842l2.8 2 -1.1 3.2 -3.4 0 -1.1 -3.2zM647.3 841.6l2.8 2 -1.1 3.2 -3.4 0 -1.1 -3.2zM653.9 839.4l2.8 2 -1.1 3.2 -3.4 0 -1.1 -3.2zM660.6 834.3l2.8 2 -1.1 3.2 -3.4 0 -1.1 -3.2zM667.3 826.2l2.8 2 -1.1 3.2 -3.4 0 -1.1 -3.2zM680.6 831.1l2.8 2 -1.1 3.2 -3.4 0 -1.1 -3.2z" fill="#000000"/><path d="M393.5 1009 396.7 1009.3 400 1009.5 403.2 1009.6 406.4 1009.6 409.6 1009.2 412.9 1007.8 416.1 1005.8 419.3 1003.7 422.5 1001.9 425.8 1000 429 998 432.2 996 435.4 994.1 438.7 992.5 441.9 990.9 445.1 988.9 448.3 985.8 451.6 980 454.8 973 458 964.9 461.2 955.8 464.5 945.5 467.7 934.4 470.9 922.4 474.1 910.9 477.4 900.6 480.6 891.3 483.8 883.2 487 876.1 490.3 869.9 493.5 864.7 496.7 860.8 500 857.3 503.2 854.3 506.4 852 509.6 850.3 512.9 848.9 516.1 847.6 519.3 846.5 522.5 845.6 525.8 844.8 529 844.2 532.2 843.5 535.4 843 538.7 842.4 541.9 841.9 545.1 841.5 548.3 841.2 551.6 841 554.8 841 558 841.1 561.2 841.2 564.5 841.3 567.7 841.5 570.9 841.7 574.1 842 577.4 842.2 580.6 842.5 583.8 842.8 587.1 843.2 590.3 843.7 593.5 844.2 596.7 844.7 600 845.3 603.2 845.8 606.4 846.4 609.6 846.9 612.9 847.5 616.1 848.1 619.3 848.5 622.5 848.5 625.8 848.4 629 848.3 632.2 848.1 635.4 847.9 638.7 847.7 641.9 847.4 645.1 846.9 648.3 846.3 651.6 845.5 654.8 844.6 658 843.7 661.2 842.8 664.5 841.9 667.7 840.8 670.9 839.7 674.1 838.6 677.4 837.3 680.6 836" fill="none" stroke="#000000" stroke-width="0.9"/></g><rect x="40.5" y="825.4" width="289.9" height="232.8" fill="none" stroke="#2b2b2b" stroke-width="1.1"/><path d="M40.5 1058.2v4.8M52.37 1058.2v2.5M59.32 1058.2v2.5M64.25 1058.2v2.5M68.07 1058.2v2.5M71.19 1058.2v2.5M73.83 1058.2v2.5M76.12 1058.2v2.5M78.14 1058.2v2.5M79.94 1058.2v4.8M91.82 1058.2v2.5M98.76 1058.2v2.5M103.69 1058.2v2.5M107.51 1058.2v2.5M110.63 1058.2v2.5M113.27 1058.2v2.5M115.56 1058.2v2.5M117.58 1058.2v2.5M119.38 1058.2v4.8M131.26 1058.2v2.5M138.2 1058.2v2.5M143.13 1058.2v2.5M146.95 1058.2v2.5M150.08 1058.2v2.5M152.72 1058.2v2.5M155 1058.2v2.5M157.02 1058.2v2.5M158.83 1058.2v4.8M170.7 1058.2v2.5M177.65 1058.2v2.5M182.57 1058.2v2.5M186.4 1058.2v2.5M189.52 1058.2v2.5M192.16 1058.2v2.5M194.45 1058.2v2.5M196.46 1058.2v2.5M198.27 1058.2v4.8M210.14 1058.2v2.5M217.09 1058.2v2.5M222.02 1058.2v2.5M225.84 1058.2v2.5M228.96 1058.2v2.5M231.6 1058.2v2.5M233.89 1058.2v2.5M235.91 1058.2v2.5M237.71 1058.2v4.8M249.58 1058.2v2.5M256.53 1058.2v2.5M261.46 1058.2v2.5M265.28 1058.2v2.5M268.4 1058.2v2.5M271.04 1058.2v2.5M273.33 1058.2v2.5M275.35 1058.2v2.5M277.15 1058.2v4.8M289.03 1058.2v2.5M295.97 1058.2v2.5M300.9 1058.2v2.5M304.72 1058.2v2.5M307.85 1058.2v2.5M310.49 1058.2v2.5M312.77 1058.2v2.5M314.79 1058.2v2.5M316.6 1058.2v4.8M328.47 1058.2v2.5" stroke="#2b2b2b" stroke-width="1" fill="none"/><text x="30.97" y="1075.2" font-family="Liberation Sans" font-size="10.6" font-weight="bold" text-anchor="start">10</text><rect x="42.86" y="1068.1" width="3.45" height="0.8" fill="#555"/><text x="46.49" y="1070.5" font-family="Liberation Sans" font-size="6.9" font-weight="bold" text-anchor="start">2</text><text x="70.42" y="1075.2" font-family="Liberation Sans" font-size="10.6" font-weight="bold" text-anchor="start">10</text><rect x="82.3" y="1068.1" width="3.45" height="0.8" fill="#555"/><text x="85.93" y="1070.5" font-family="Liberation Sans" font-size="6.9" font-weight="bold" text-anchor="start">1</text><text x="111.87" y="1075.2" font-family="Liberation Sans" font-size="10.6" font-weight="bold" text-anchor="start">10</text><text x="123.36" y="1070.5" font-family="Liberation Sans" font-size="6.9" font-weight="bold" text-anchor="start">0</text><text x="151.31" y="1075.2" font-family="Liberation Sans" font-size="10.6" font-weight="bold" text-anchor="start">10</text><text x="162.8" y="1070.5" font-family="Liberation Sans" font-size="6.9" font-weight="bold" text-anchor="start">1</text><text x="190.76" y="1075.2" font-family="Liberation Sans" font-size="10.6" font-weight="bold" text-anchor="start">10</text><text x="202.24" y="1070.5" font-family="Liberation Sans" font-size="6.9" font-weight="bold" text-anchor="start">2</text><text x="230.2" y="1075.2" font-family="Liberation Sans" font-size="10.6" font-weight="bold" text-anchor="start">10</text><text x="241.69" y="1070.5" font-family="Liberation Sans" font-size="6.9" font-weight="bold" text-anchor="start">3</text><text x="269.64" y="1075.2" font-family="Liberation Sans" font-size="10.6" font-weight="bold" text-anchor="start">10</text><text x="281.13" y="1070.5" font-family="Liberation Sans" font-size="6.9" font-weight="bold" text-anchor="start">4</text><text x="309.08" y="1075.2" font-family="Liberation Sans" font-size="10.6" font-weight="bold" text-anchor="start">10</text><text x="320.57" y="1070.5" font-family="Liberation Sans" font-size="6.9" font-weight="bold" text-anchor="start">5</text><text x="185.95" y="1092.6" font-family="Liberation Sans" font-size="12.2" font-weight="bold" text-anchor="middle">f (Hz)</text><path d="M40.5 1058.2h-2.5M40.5 1053.43h-2.5M40.5 1050.05h-2.5M40.5 1047.43h-2.5M40.5 1045.29h-2.5M40.5 1043.48h-2.5M40.5 1041.91h-2.5M40.5 1040.52h-2.5M40.5 1039.28h-4.8M40.5 1031.14h-2.5M40.5 1026.37h-2.5M40.5 1022.99h-2.5M40.5 1020.37h-2.5M40.5 1018.22h-2.5M40.5 1016.41h-2.5M40.5 1014.84h-2.5M40.5 1013.46h-2.5M40.5 1012.22h-4.8M40.5 1004.07h-2.5M40.5 999.31h-2.5M40.5 995.93h-2.5M40.5 993.3h-2.5M40.5 991.16h-2.5M40.5 989.35h-2.5M40.5 987.78h-2.5M40.5 986.4h-2.5M40.5 985.16h-4.8M40.5 977.01h-2.5M40.5 972.24h-2.5M40.5 968.86h-2.5M40.5 966.24h-2.5M40.5 964.1h-2.5M40.5 962.29h-2.5M40.5 960.72h-2.5M40.5 959.33h-2.5M40.5 958.09h-4.8M40.5 949.95h-2.5M40.5 945.18h-2.5M40.5 941.8h-2.5M40.5 939.18h-2.5M40.5 937.03h-2.5M40.5 935.22h-2.5M40.5 933.65h-2.5M40.5 932.27h-2.5M40.5 931.03h-4.8M40.5 922.88h-2.5M40.5 918.12h-2.5M40.5 914.74h-2.5M40.5 912.11h-2.5M40.5 909.97h-2.5M40.5 908.16h-2.5M40.5 906.59h-2.5M40.5 905.21h-2.5M40.5 903.97h-4.8M40.5 895.82h-2.5M40.5 891.05h-2.5M40.5 887.67h-2.5M40.5 885.05h-2.5M40.5 882.91h-2.5M40.5 881.1h-2.5M40.5 879.53h-2.5M40.5 878.14h-2.5M40.5 876.9h-4.8M40.5 868.76h-2.5M40.5 863.99h-2.5M40.5 860.61h-2.5M40.5 857.99h-2.5M40.5 855.84h-2.5M40.5 854.03h-2.5M40.5 852.46h-2.5M40.5 851.08h-2.5M40.5 849.84h-4.8M40.5 841.69h-2.5M40.5 836.93h-2.5M40.5 833.55h-2.5M40.5 830.92h-2.5M40.5 828.78h-2.5M40.5 826.97h-2.5M40.5 825.4h-2.5" stroke="#2b2b2b" stroke-width="1" fill="none"/><text x="17.18" y="1043.08" font-family="Liberation Sans" font-size="10.6" font-weight="bold" text-anchor="start">10</text><text x="28.66" y="1038.38" font-family="Liberation Sans" font-size="6.9" font-weight="bold" text-anchor="start">1</text><text x="17.18" y="1016.02" font-family="Liberation Sans" font-size="10.6" font-weight="bold" text-anchor="start">10</text><text x="28.66" y="1011.32" font-family="Liberation Sans" font-size="6.9" font-weight="bold" text-anchor="start">2</text><text x="17.18" y="988.96" font-family="Liberation Sans" font-size="10.6" font-weight="bold" text-anchor="start">10</text><text x="28.66" y="984.26" font-family="Liberation Sans" font-size="6.9" font-weight="bold" text-anchor="start">3</text><text x="17.18" y="961.89" font-family="Liberation Sans" font-size="10.6" font-weight="bold" text-anchor="start">10</text><text x="28.66" y="957.19" font-family="Liberation Sans" font-size="6.9" font-weight="bold" text-anchor="start">4</text><text x="17.18" y="934.83" font-family="Liberation Sans" font-size="10.6" font-weight="bold" text-anchor="start">10</text><text x="28.66" y="930.13" font-family="Liberation Sans" font-size="6.9" font-weight="bold" text-anchor="start">5</text><text x="17.18" y="907.77" font-family="Liberation Sans" font-size="10.6" font-weight="bold" text-anchor="start">10</text><text x="28.66" y="903.07" font-family="Liberation Sans" font-size="6.9" font-weight="bold" text-anchor="start">6</text><text x="17.18" y="880.7" font-family="Liberation Sans" font-size="10.6" font-weight="bold" text-anchor="start">10</text><text x="28.66" y="876" font-family="Liberation Sans" font-size="6.9" font-weight="bold" text-anchor="start">7</text><text x="17.18" y="853.64" font-family="Liberation Sans" font-size="10.6" font-weight="bold" text-anchor="start">10</text><text x="28.66" y="848.94" font-family="Liberation Sans" font-size="6.9" font-weight="bold" text-anchor="start">8</text><text transform="translate(13.0 942.3) rotate(-90)" font-family="Liberation Sans" font-size="14.5" font-weight="bold" text-anchor="middle" textLength="57" lengthAdjust="spacingAndGlyphs">|Z| (&#937; cm<tspan font-size="9" dy="-5.5">2</tspan><tspan dy="5.5">)</tspan></text><rect x="277.13" y="833.53" width="4.14" height="4.14" fill="#D6A43E"/><text x="294.8" y="839.2" font-family="Liberation Sans" font-size="10.9" font-weight="normal" text-anchor="start" class="lg">1h</text><circle cx="279.2" cy="849.07" r="2.34" fill="#FF1010"/><text x="294.8" y="852.67" font-family="Liberation Sans" font-size="10.9" font-weight="normal" text-anchor="start" class="lg">2h</text><polygon points="279.2,859.75 281.81,864.52 276.59,864.52" fill="#10F010"/><text x="294.8" y="866.14" font-family="Liberation Sans" font-size="10.9" font-weight="normal" text-anchor="start" class="lg">3h</text><polygon points="279.2,878.8 281.81,874.03 276.59,874.03" fill="#1010FF"/><text x="294.8" y="879.61" font-family="Liberation Sans" font-size="10.9" font-weight="normal" text-anchor="start" class="lg">4h</text><polygon points="279.2,886.69 281.72,889.48 279.2,892.27 276.68,889.48" fill="#50F0F8"/><text x="294.8" y="893.08" font-family="Liberation Sans" font-size="10.9" font-weight="normal" text-anchor="start" class="lg">24h</text><polygon points="276.41,902.95 281.18,900.34 281.18,905.56" fill="#FF20F0"/><text x="294.8" y="906.55" font-family="Liberation Sans" font-size="10.9" font-weight="normal" text-anchor="start" class="lg">48h</text><polygon points="281.38,917.68 279.2,918.94 277.02,917.68 277.02,915.16 279.2,913.9 281.38,915.16" fill="#F2F830"/><text x="294.8" y="920.02" font-family="Liberation Sans" font-size="10.9" font-weight="normal" text-anchor="start" class="lg">72h</text><polygon points="281.99,929.89 277.22,927.28 277.22,932.5" fill="#2A8A22"/><text x="294.8" y="933.49" font-family="Liberation Sans" font-size="10.9" font-weight="normal" text-anchor="start" class="lg">96h</text><polygon points="279.2,940.75 281.68,942.55 280.73,945.47 277.67,945.47 276.72,942.55" fill="#000000"/><text x="294.8" y="946.96" font-family="Liberation Sans" font-size="10.9" font-weight="normal" text-anchor="start" class="lg">120h</text><path d="M267.3 957.33H291.8" stroke="#666" stroke-width="1.2"/><text x="294.8" y="960.73" font-family="Liberation Sans" font-size="10.9" font-weight="normal" text-anchor="start" class="lg">fittings</text><rect x="393.2" y="823.4" width="289.5" height="232.6" fill="none" stroke="#2b2b2b" stroke-width="1.1"/><path d="M393.2 1056v4.8M405.06 1056v2.5M411.99 1056v2.5M416.91 1056v2.5M420.73 1056v2.5M423.85 1056v2.5M426.49 1056v2.5M428.77 1056v2.5M430.79 1056v2.5M432.59 1056v4.8M444.44 1056v2.5M451.38 1056v2.5M456.3 1056v2.5M460.12 1056v2.5M463.24 1056v2.5M465.87 1056v2.5M468.16 1056v2.5M470.17 1056v2.5M471.98 1056v4.8M483.83 1056v2.5M490.77 1056v2.5M495.69 1056v2.5M499.51 1056v2.5M502.63 1056v2.5M505.26 1056v2.5M507.55 1056v2.5M509.56 1056v2.5M511.36 1056v4.8M523.22 1056v2.5M530.16 1056v2.5M535.08 1056v2.5M538.89 1056v2.5M542.01 1056v2.5M544.65 1056v2.5M546.93 1056v2.5M548.95 1056v2.5M550.75 1056v4.8M562.61 1056v2.5M569.54 1056v2.5M574.46 1056v2.5M578.28 1056v2.5M581.4 1056v2.5M584.04 1056v2.5M586.32 1056v2.5M588.34 1056v2.5M590.14 1056v4.8M602 1056v2.5M608.93 1056v2.5M613.85 1056v2.5M617.67 1056v2.5M620.79 1056v2.5M623.43 1056v2.5M625.71 1056v2.5M627.72 1056v2.5M629.53 1056v4.8M641.38 1056v2.5M648.32 1056v2.5M653.24 1056v2.5M657.06 1056v2.5M660.18 1056v2.5M662.81 1056v2.5M665.1 1056v2.5M667.11 1056v2.5M668.91 1056v4.8M680.77 1056v2.5" stroke="#2b2b2b" stroke-width="1" fill="none"/><text x="383.67" y="1073" font-family="Liberation Sans" font-size="10.6" font-weight="bold" text-anchor="start">10</text><rect x="395.56" y="1065.9" width="3.45" height="0.8" fill="#555"/><text x="399.19" y="1068.3" font-family="Liberation Sans" font-size="6.9" font-weight="bold" text-anchor="start">2</text><text x="423.06" y="1073" font-family="Liberation Sans" font-size="10.6" font-weight="bold" text-anchor="start">10</text><rect x="434.95" y="1065.9" width="3.45" height="0.8" fill="#555"/><text x="438.58" y="1068.3" font-family="Liberation Sans" font-size="6.9" font-weight="bold" text-anchor="start">1</text><text x="464.46" y="1073" font-family="Liberation Sans" font-size="10.6" font-weight="bold" text-anchor="start">10</text><text x="475.95" y="1068.3" font-family="Liberation Sans" font-size="6.9" font-weight="bold" text-anchor="start">0</text><text x="503.85" y="1073" font-family="Liberation Sans" font-size="10.6" font-weight="bold" text-anchor="start">10</text><text x="515.34" y="1068.3" font-family="Liberation Sans" font-size="6.9" font-weight="bold" text-anchor="start">1</text><text x="543.24" y="1073" font-family="Liberation Sans" font-size="10.6" font-weight="bold" text-anchor="start">10</text><text x="554.73" y="1068.3" font-family="Liberation Sans" font-size="6.9" font-weight="bold" text-anchor="start">2</text><text x="582.63" y="1073" font-family="Liberation Sans" font-size="10.6" font-weight="bold" text-anchor="start">10</text><text x="594.11" y="1068.3" font-family="Liberation Sans" font-size="6.9" font-weight="bold" text-anchor="start">3</text><text x="622.01" y="1073" font-family="Liberation Sans" font-size="10.6" font-weight="bold" text-anchor="start">10</text><text x="633.5" y="1068.3" font-family="Liberation Sans" font-size="6.9" font-weight="bold" text-anchor="start">4</text><text x="661.4" y="1073" font-family="Liberation Sans" font-size="10.6" font-weight="bold" text-anchor="start">10</text><text x="672.89" y="1068.3" font-family="Liberation Sans" font-size="6.9" font-weight="bold" text-anchor="start">5</text><text x="538.45" y="1090.4" font-family="Liberation Sans" font-size="12.2" font-weight="bold" text-anchor="middle">f (Hz)</text><path d="M393.2 1056h-4.8M393.2 1030.16h-2.5M393.2 1004.31h-4.8M393.2 978.47h-2.5M393.2 952.62h-4.8M393.2 926.78h-2.5M393.2 900.93h-4.8M393.2 875.09h-2.5M393.2 849.24h-4.8M393.2 823.4h-2.5" stroke="#2b2b2b" stroke-width="1" fill="none"/><text x="385.9" y="1059.8" font-family="Liberation Sans" font-size="11" font-weight="bold" text-anchor="end">0</text><text x="385.9" y="1008.11" font-family="Liberation Sans" font-size="11" font-weight="bold" text-anchor="end">20</text><rect x="368.4" y="1004.21" width="5.3" height="0.9" fill="#444"/><text x="385.9" y="956.42" font-family="Liberation Sans" font-size="11" font-weight="bold" text-anchor="end">40</text><rect x="368.4" y="952.52" width="5.3" height="0.9" fill="#444"/><text x="385.9" y="904.73" font-family="Liberation Sans" font-size="11" font-weight="bold" text-anchor="end">60</text><rect x="368.4" y="900.83" width="5.3" height="0.9" fill="#444"/><text x="385.9" y="853.04" font-family="Liberation Sans" font-size="11" font-weight="bold" text-anchor="end">80</text><rect x="368.4" y="849.14" width="5.3" height="0.9" fill="#444"/><text transform="translate(363.6 940.2) rotate(-90)" font-family="Liberation Sans" font-size="12.6" font-weight="bold" text-anchor="middle" textLength="116.5" lengthAdjust="spacingAndGlyphs">Phase angle (Degree)</text><text x="76.9" y="850" font-family="Liberation Sans" font-size="23.5" font-weight="normal" text-anchor="start" stroke="#000" stroke-width="0.3">(g)</text><text x="125.2" y="849.8" font-family="Liberation Serif" font-size="23.4" font-weight="normal" text-anchor="start" stroke="#000" stroke-width="0.35">PEO-HNT</text><text x="401.5" y="847.7" font-family="Liberation Sans" font-size="23.5" font-weight="normal" text-anchor="start" stroke="#000" stroke-width="0.3">(h)</text><clipPath id="cl4"><rect x="40.5" y="1096.4" width="289.9" height="233.1"/></clipPath><clipPath id="cr4"><rect x="393.2" y="1097" width="289.5" height="232.5"/></clipPath><g clip-path="url(#cl4)"><path d="M41.2 1118.8h0M47.9 1121h0M54.6 1123.2h0M61.2 1125.4h0M67.9 1127.6h0M74.6 1129.7h0M81.3 1132.6h0M87.9 1135.2h0M94.6 1138.5h0M101.3 1141.5h0M108 1143.7h0M114.7 1147.6h0M121.3 1151.5h0M128 1155.4h0M134.7 1159.3h0M141.4 1163.1h0M148 1166.4h0M154.7 1170.2h0M161.4 1174.8h0M168.1 1178.6h0M174.7 1182.5h0M181.4 1186h0M188.1 1190.4h0M194.8 1194.9h0M201.5 1198.9h0M208.1 1203.2h0M214.8 1207.5h0M221.5 1211.8h0M228.2 1215.7h0M234.8 1220h0M241.5 1224.3h0M248.2 1228.7h0M254.9 1233h0M261.5 1237.8h0M268.2 1241.6h0M274.9 1246h0M281.6 1250.3h0M288.2 1254.6h0M294.9 1258.3h0M301.6 1262.6h0M308.3 1267h0M315 1270.6h0M321.6 1274.5h0M328.3 1277.7h0" stroke="#D6A43E" stroke-width="4.6" stroke-linecap="square"/><path d="M41.2 1118.8 44.4 1119.9 47.7 1120.9 50.9 1122 54.1 1123.1 57.3 1124.1 60.6 1125.2 63.8 1126.2 67 1127.3 70.2 1128.3 73.5 1129.3 76.7 1130.6 79.9 1132 83.1 1133.3 86.4 1134.6 89.6 1136 92.8 1137.6 96 1139.2 99.3 1140.7 102.5 1141.9 105.7 1142.9 109 1144.2 112.2 1146.1 115.4 1148 118.6 1149.9 121.9 1151.8 125.1 1153.7 128.3 1155.6 131.5 1157.5 134.8 1159.3 138 1161.2 141.2 1163 144.4 1164.6 147.7 1166.2 150.9 1167.9 154.1 1169.8 157.3 1172 160.6 1174.3 163.8 1176.2 167 1178 170.2 1179.9 173.5 1181.8 176.7 1183.5 179.9 1185.2 183.1 1187.1 186.4 1189.2 189.6 1191.4 192.8 1193.6 196.1 1195.7 199.3 1197.6 202.5 1199.5 205.7 1201.6 209 1203.7 212.2 1205.8 215.4 1207.9 218.6 1210 221.9 1212 225.1 1213.9 228.3 1215.8 231.5 1217.9 234.8 1219.9 238 1222 241.2 1224.1 244.4 1226.2 247.7 1228.3 250.9 1230.4 254.1 1232.5 257.3 1234.8 260.6 1237.1 263.8 1239.1 267 1240.9 270.2 1242.9 273.5 1245 276.7 1247.1 279.9 1249.2 283.1 1251.3 286.4 1253.5 289.6 1255.4 292.8 1257.1 296.1 1259 299.3 1261.1 302.5 1263.2 305.7 1265.4 309 1267.4 312.2 1269.1 315.4 1270.9 318.6 1272.8 321.9 1274.6 325.1 1276.2 328.3 1277.7" fill="none" stroke="#D6A43E" stroke-width="0.9"/><path d="M41.2 1119.8h0M47.9 1122h0M54.6 1124.2h0M61.2 1126.4h0M67.9 1128.6h0M74.6 1130.7h0M81.3 1133.6h0M87.9 1136.2h0M94.6 1139.5h0M101.3 1142.5h0M108 1144.2h0M114.7 1148.1h0M121.3 1152h0M128 1155.9h0M134.7 1159.8h0M141.4 1163.7h0M148 1167h0M154.7 1170.8h0M161.4 1175.4h0M168.1 1179.2h0M174.7 1183.1h0M181.4 1186.6h0M188.1 1191h0M194.8 1195.5h0M201.5 1199.5h0M208.1 1203.8h0M214.8 1208.1h0M221.5 1212.4h0M228.2 1216.4h0M234.8 1220.6h0M241.5 1225h0M248.2 1229.3h0M254.9 1233.7h0M261.5 1238.4h0M268.2 1242.3h0M274.9 1246.6h0M281.6 1251h0M288.2 1255.3h0M294.9 1259h0M301.6 1263.3h0M308.3 1267.7h0M315 1271.3h0M321.6 1275.2h0M328.3 1278.4h0" stroke="#FF1010" stroke-width="5.6" stroke-linecap="round"/><path d="M41.2 1119.8 44.4 1120.9 47.7 1121.9 50.9 1123 54.1 1124.1 57.3 1125.1 60.6 1126.2 63.8 1127.2 67 1128.3 70.2 1129.3 73.5 1130.3 76.7 1131.6 79.9 1133 83.1 1134.3 86.4 1135.6 89.6 1137 92.8 1138.6 96 1140.2 99.3 1141.7 102.5 1142.8 105.7 1143.6 109 1144.6 112.2 1146.5 115.4 1148.6 118.6 1150.4 121.9 1152.3 125.1 1154.2 128.3 1156.1 131.5 1158 134.8 1159.9 138 1161.8 141.2 1163.6 144.4 1165.2 147.7 1166.8 150.9 1168.5 154.1 1170.4 157.3 1172.6 160.6 1174.8 163.8 1176.8 167 1178.6 170.2 1180.5 173.5 1182.4 176.7 1184.1 179.9 1185.8 183.1 1187.7 186.4 1189.8 189.6 1192 192.8 1194.3 196.1 1196.3 199.3 1198.2 202.5 1200.2 205.7 1202.3 209 1204.4 212.2 1206.4 215.4 1208.5 218.6 1210.6 221.9 1212.7 225.1 1214.6 228.3 1216.5 231.5 1218.5 234.8 1220.6 238 1222.7 241.2 1224.8 244.4 1226.9 247.7 1229 250.9 1231.1 254.1 1233.2 257.3 1235.4 260.6 1237.8 263.8 1239.8 267 1241.6 270.2 1243.6 273.5 1245.7 276.7 1247.8 279.9 1249.9 283.1 1252 286.4 1254.1 289.6 1256.1 292.8 1257.8 296.1 1259.7 299.3 1261.8 302.5 1263.9 305.7 1266 309 1268 312.2 1269.8 315.4 1271.6 318.6 1273.5 321.9 1275.3 325.1 1276.9 328.3 1278.4" fill="none" stroke="#FF1010" stroke-width="0.9"/><path d="M41.2 1115.2l2.9 5.3 -5.8 0zM47.9 1117.4l2.9 5.3 -5.8 0zM54.6 1119.6l2.9 5.3 -5.8 0zM61.2 1121.8l2.9 5.3 -5.8 0zM67.9 1124l2.9 5.3 -5.8 0zM74.6 1126.1l2.9 5.3 -5.8 0zM81.3 1129l2.9 5.3 -5.8 0zM87.9 1131.6l2.9 5.3 -5.8 0zM94.6 1134.9l2.9 5.3 -5.8 0zM101.3 1137.9l2.9 5.3 -5.8 0zM108 1140.4l2.9 5.3 -5.8 0zM114.7 1144.4l2.9 5.3 -5.8 0zM121.3 1148.3l2.9 5.3 -5.8 0zM128 1152.2l2.9 5.3 -5.8 0zM134.7 1156.2l2.9 5.3 -5.8 0zM141.4 1160l2.9 5.3 -5.8 0zM148 1163.4l2.9 5.3 -5.8 0zM154.7 1167.2l2.9 5.3 -5.8 0zM161.4 1171.8l2.9 5.3 -5.8 0zM168.1 1175.7l2.9 5.3 -5.8 0zM174.7 1179.6l2.9 5.3 -5.8 0zM181.4 1183.1l2.9 5.3 -5.8 0zM188.1 1187.5l2.9 5.3 -5.8 0zM194.8 1192l2.9 5.3 -5.8 0zM201.5 1196l2.9 5.3 -5.8 0zM208.1 1200.3l2.9 5.3 -5.8 0zM214.8 1204.6l2.9 5.3 -5.8 0zM221.5 1208.9l2.9 5.3 -5.8 0zM228.2 1212.9l2.9 5.3 -5.8 0zM234.8 1217.1l2.9 5.3 -5.8 0zM241.5 1221.5l2.9 5.3 -5.8 0zM248.2 1225.8l2.9 5.3 -5.8 0zM254.9 1230.2l2.9 5.3 -5.8 0zM261.5 1234.9l2.9 5.3 -5.8 0zM268.2 1238.8l2.9 5.3 -5.8 0zM274.9 1243.1l2.9 5.3 -5.8 0zM281.6 1247.5l2.9 5.3 -5.8 0zM288.2 1251.8l2.9 5.3 -5.8 0zM294.9 1255.5l2.9 5.3 -5.8 0zM301.6 1259.8l2.9 5.3 -5.8 0zM308.3 1264.2l2.9 5.3 -5.8 0zM315 1267.8l2.9 5.3 -5.8 0zM321.6 1271.7l2.9 5.3 -5.8 0zM328.3 1274.9l2.9 5.3 -5.8 0z" fill="#10F010"/><path d="M41.2 1118.3 44.4 1119.4 47.7 1120.4 50.9 1121.5 54.1 1122.6 57.3 1123.6 60.6 1124.7 63.8 1125.7 67 1126.8 70.2 1127.8 73.5 1128.8 76.7 1130.1 79.9 1131.5 83.1 1132.8 86.4 1134.1 89.6 1135.5 92.8 1137.1 96 1138.7 99.3 1140.1 102.5 1141.5 105.7 1142.6 109 1144 112.2 1145.9 115.4 1147.9 118.6 1149.8 121.9 1151.7 125.1 1153.6 128.3 1155.5 131.5 1157.4 134.8 1159.3 138 1161.2 141.2 1163 144.4 1164.7 147.7 1166.3 150.9 1168 154.1 1169.9 157.3 1172.1 160.6 1174.4 163.8 1176.4 167 1178.2 170.2 1180.1 173.5 1182 176.7 1183.7 179.9 1185.4 183.1 1187.3 186.4 1189.4 189.6 1191.6 192.8 1193.9 196.1 1195.9 199.3 1197.8 202.5 1199.8 205.7 1201.9 209 1204 212.2 1206 215.4 1208.1 218.6 1210.2 221.9 1212.3 225.1 1214.2 228.3 1216.1 231.5 1218.1 234.8 1220.2 238 1222.3 241.2 1224.4 244.4 1226.5 247.7 1228.6 250.9 1230.7 254.1 1232.8 257.3 1235 260.6 1237.4 263.8 1239.4 267 1241.2 270.2 1243.2 273.5 1245.3 276.7 1247.4 279.9 1249.5 283.1 1251.6 286.4 1253.7 289.6 1255.7 292.8 1257.4 296.1 1259.3 299.3 1261.4 302.5 1263.5 305.7 1265.6 309 1267.6 312.2 1269.4 315.4 1271.2 318.6 1273.1 321.9 1274.9 325.1 1276.5 328.3 1278" fill="none" stroke="#10F010" stroke-width="0.9"/><path d="M41.2 1119.9l2.9 -5.3 -5.8 0zM47.9 1122.1l2.9 -5.3 -5.8 0zM54.6 1124.3l2.9 -5.3 -5.8 0zM61.2 1126.5l2.9 -5.3 -5.8 0zM67.9 1128.7l2.9 -5.3 -5.8 0zM74.6 1130.8l2.9 -5.3 -5.8 0zM81.3 1133.7l2.9 -5.3 -5.8 0zM87.9 1136.3l2.9 -5.3 -5.8 0zM94.6 1139.6l2.9 -5.3 -5.8 0zM101.3 1142.6l2.9 -5.3 -5.8 0zM108 1146.4l2.9 -5.3 -5.8 0zM114.7 1150.5l2.9 -5.3 -5.8 0zM121.3 1154.5l2.9 -5.3 -5.8 0zM128 1158.5l2.9 -5.3 -5.8 0zM134.7 1162.6l2.9 -5.3 -5.8 0zM141.4 1166.5l2.9 -5.3 -5.8 0zM148 1170l2.9 -5.3 -5.8 0zM154.7 1173.9l2.9 -5.3 -5.8 0zM161.4 1178.6l2.9 -5.3 -5.8 0zM168.1 1182.6l2.9 -5.3 -5.8 0zM174.7 1186.6l2.9 -5.3 -5.8 0zM181.4 1190.1l2.9 -5.3 -5.8 0zM188.1 1194.4l2.9 -5.3 -5.8 0zM194.8 1198.9l2.9 -5.3 -5.8 0zM201.5 1202.8l2.9 -5.3 -5.8 0zM208.1 1207l2.9 -5.3 -5.8 0zM214.8 1211.2l2.9 -5.3 -5.8 0zM221.5 1215.5l2.9 -5.3 -5.8 0zM228.2 1219.4l2.9 -5.3 -5.8 0zM234.8 1223.6l2.9 -5.3 -5.8 0zM241.5 1228l2.9 -5.3 -5.8 0zM248.2 1232.4l2.9 -5.3 -5.8 0zM254.9 1236.8l2.9 -5.3 -5.8 0zM261.5 1241.5l2.9 -5.3 -5.8 0zM268.2 1245.4l2.9 -5.3 -5.8 0zM274.9 1249.8l2.9 -5.3 -5.8 0zM281.6 1254.2l2.9 -5.3 -5.8 0zM288.2 1258.6l2.9 -5.3 -5.8 0zM294.9 1262.3l2.9 -5.3 -5.8 0zM301.6 1266.7l2.9 -5.3 -5.8 0zM308.3 1271l2.9 -5.3 -5.8 0zM315 1274.7l2.9 -5.3 -5.8 0zM321.6 1278.6l2.9 -5.3 -5.8 0zM328.3 1281.9l2.9 -5.3 -5.8 0z" fill="#1010FF"/><path d="M41.2 1116.8 44.4 1117.9 47.7 1118.9 50.9 1120 54.1 1121.1 57.3 1122.1 60.6 1123.2 63.8 1124.2 67 1125.3 70.2 1126.3 73.5 1127.3 76.7 1128.6 79.9 1130 83.1 1131.3 86.4 1132.6 89.6 1134 92.8 1135.6 96 1137.1 99.3 1138.5 102.5 1140.1 105.7 1142 109 1143.9 112.2 1145.9 115.4 1147.8 118.6 1149.8 121.9 1151.7 125.1 1153.7 128.3 1155.6 131.5 1157.6 134.8 1159.5 138 1161.5 141.2 1163.3 144.4 1165 147.7 1166.7 150.9 1168.5 154.1 1170.4 157.3 1172.6 160.6 1175 163.8 1177 167 1178.8 170.2 1180.8 173.5 1182.8 176.7 1184.5 179.9 1186.2 183.1 1188 186.4 1190.1 189.6 1192.3 192.8 1194.5 196.1 1196.5 199.3 1198.4 202.5 1200.3 205.7 1202.4 209 1204.5 212.2 1206.5 215.4 1208.5 218.6 1210.6 221.9 1212.6 225.1 1214.5 228.3 1216.4 231.5 1218.4 234.8 1220.5 238 1222.6 241.2 1224.7 244.4 1226.8 247.7 1228.9 250.9 1231 254.1 1233.2 257.3 1235.4 260.6 1237.8 263.8 1239.8 267 1241.6 270.2 1243.6 273.5 1245.8 276.7 1247.9 279.9 1250 283.1 1252.2 286.4 1254.3 289.6 1256.3 292.8 1258 296.1 1259.9 299.3 1262 302.5 1264.2 305.7 1266.3 309 1268.3 312.2 1270.1 315.4 1271.9 318.6 1273.8 321.9 1275.6 325.1 1277.3 328.3 1278.8" fill="none" stroke="#1010FF" stroke-width="0.9"/><path d="M41.2 1102.1l2.8 3.1 -2.8 3.1 -2.8 -3.1zM47.9 1105.4l2.8 3.1 -2.8 3.1 -2.8 -3.1zM54.6 1108.4l2.8 3.1 -2.8 3.1 -2.8 -3.1zM61.2 1111.4l2.8 3.1 -2.8 3.1 -2.8 -3.1zM67.9 1114.6l2.8 3.1 -2.8 3.1 -2.8 -3.1zM74.6 1117.9l2.8 3.1 -2.8 3.1 -2.8 -3.1zM81.3 1122.4l2.8 3.1 -2.8 3.1 -2.8 -3.1zM87.9 1126.6l2.8 3.1 -2.8 3.1 -2.8 -3.1zM94.6 1131.2l2.8 3.1 -2.8 3.1 -2.8 -3.1zM101.3 1135.4l2.8 3.1 -2.8 3.1 -2.8 -3.1zM108 1139.6l2.8 3.1 -2.8 3.1 -2.8 -3.1zM114.7 1143.9l2.8 3.1 -2.8 3.1 -2.8 -3.1zM121.3 1148.1l2.8 3.1 -2.8 3.1 -2.8 -3.1zM128 1152.4l2.8 3.1 -2.8 3.1 -2.8 -3.1zM134.7 1156.6l2.8 3.1 -2.8 3.1 -2.8 -3.1zM141.4 1160.8l2.8 3.1 -2.8 3.1 -2.8 -3.1zM148 1164.5l2.8 3.1 -2.8 3.1 -2.8 -3.1zM154.7 1168.6l2.8 3.1 -2.8 3.1 -2.8 -3.1zM161.4 1173.6l2.8 3.1 -2.8 3.1 -2.8 -3.1zM168.1 1177.7l2.8 3.1 -2.8 3.1 -2.8 -3.1zM174.7 1182l2.8 3.1 -2.8 3.1 -2.8 -3.1zM181.4 1185.6l2.8 3.1 -2.8 3.1 -2.8 -3.1zM188.1 1189.9l2.8 3.1 -2.8 3.1 -2.8 -3.1zM194.8 1194.5l2.8 3.1 -2.8 3.1 -2.8 -3.1zM201.5 1198.5l2.8 3.1 -2.8 3.1 -2.8 -3.1zM208.1 1202.9l2.8 3.1 -2.8 3.1 -2.8 -3.1zM214.8 1207.1l2.8 3.1 -2.8 3.1 -2.8 -3.1zM221.5 1211.5l2.8 3.1 -2.8 3.1 -2.8 -3.1zM228.2 1215.5l2.8 3.1 -2.8 3.1 -2.8 -3.1zM234.8 1219.8l2.8 3.1 -2.8 3.1 -2.8 -3.1zM241.5 1224.1l2.8 3.1 -2.8 3.1 -2.8 -3.1zM248.2 1228.5l2.8 3.1 -2.8 3.1 -2.8 -3.1zM254.9 1232.9l2.8 3.1 -2.8 3.1 -2.8 -3.1zM261.5 1237.7l2.8 3.1 -2.8 3.1 -2.8 -3.1zM268.2 1241.5l2.8 3.1 -2.8 3.1 -2.8 -3.1zM274.9 1245.9l2.8 3.1 -2.8 3.1 -2.8 -3.1zM281.6 1250.3l2.8 3.1 -2.8 3.1 -2.8 -3.1zM288.2 1254.7l2.8 3.1 -2.8 3.1 -2.8 -3.1zM294.9 1258.3l2.8 3.1 -2.8 3.1 -2.8 -3.1zM301.6 1262.7l2.8 3.1 -2.8 3.1 -2.8 -3.1zM308.3 1267.1l2.8 3.1 -2.8 3.1 -2.8 -3.1zM315 1270.8l2.8 3.1 -2.8 3.1 -2.8 -3.1zM321.6 1274.6l2.8 3.1 -2.8 3.1 -2.8 -3.1zM328.3 1277.9l2.8 3.1 -2.8 3.1 -2.8 -3.1z" fill="#50F0F8"/><path d="M41.2 1105.2 44.4 1106.8 47.7 1108.4 50.9 1109.9 54.1 1111.3 57.3 1112.7 60.6 1114.2 63.8 1115.7 67 1117.3 70.2 1118.8 73.5 1120.4 76.7 1122.3 79.9 1124.6 83.1 1126.7 86.4 1128.7 89.6 1130.8 92.8 1133.1 96 1135.2 99.3 1137.2 102.5 1139.3 105.7 1141.3 109 1143.3 112.2 1145.4 115.4 1147.4 118.6 1149.5 121.9 1151.6 125.1 1153.6 128.3 1155.7 131.5 1157.7 134.8 1159.8 138 1161.8 141.2 1163.8 144.4 1165.6 147.7 1167.3 150.9 1169.3 154.1 1171.3 157.3 1173.7 160.6 1176.1 163.8 1178.2 167 1180.2 170.2 1182.2 173.5 1184.3 176.7 1186.2 179.9 1187.8 183.1 1189.7 186.4 1191.9 189.6 1194.1 192.8 1196.3 196.1 1198.4 199.3 1200.3 202.5 1202.3 205.7 1204.4 209 1206.5 212.2 1208.6 215.4 1210.6 218.6 1212.8 221.9 1214.8 225.1 1216.8 228.3 1218.7 231.5 1220.7 234.8 1222.8 238 1224.9 241.2 1227 244.4 1229.2 247.7 1231.3 250.9 1233.4 254.1 1235.5 257.3 1237.8 260.6 1240.1 263.8 1242.1 267 1243.9 270.2 1245.9 273.5 1248.1 276.7 1250.2 279.9 1252.3 283.1 1254.4 286.4 1256.6 289.6 1258.5 292.8 1260.3 296.1 1262.1 299.3 1264.3 302.5 1266.4 305.7 1268.6 309 1270.6 312.2 1272.3 315.4 1274.1 318.6 1276 321.9 1277.8 325.1 1279.5 328.3 1281" fill="none" stroke="#50F0F8" stroke-width="0.9"/><path d="M38.1 1107.5l5.3 -2.9 0 5.8zM44.8 1110.8l5.3 -2.9 0 5.8zM51.5 1113l5.3 -2.9 0 5.8zM58.1 1115.9l5.3 -2.9 0 5.8zM64.8 1118.7l5.3 -2.9 0 5.8zM71.5 1121.8l5.3 -2.9 0 5.8zM78.2 1126.2l5.3 -2.9 0 5.8zM84.8 1130.1l5.3 -2.9 0 5.8zM91.5 1134.6l5.3 -2.9 0 5.8zM98.2 1138.6l5.3 -2.9 0 5.8zM104.9 1142.9l5.3 -2.9 0 5.8zM111.6 1147.2l5.3 -2.9 0 5.8zM118.2 1151.6l5.3 -2.9 0 5.8zM124.9 1156l5.3 -2.9 0 5.8zM131.6 1160.3l5.3 -2.9 0 5.8zM138.3 1164.5l5.3 -2.9 0 5.8zM144.9 1168.3l5.3 -2.9 0 5.8zM151.6 1172.5l5.3 -2.9 0 5.8zM158.3 1177.6l5.3 -2.9 0 5.8zM165 1181.8l5.3 -2.9 0 5.8zM171.6 1186.2l5.3 -2.9 0 5.8zM178.3 1189.8l5.3 -2.9 0 5.8zM185 1194.2l5.3 -2.9 0 5.8zM191.7 1198.8l5.3 -2.9 0 5.8zM198.4 1202.8l5.3 -2.9 0 5.8zM205 1207.2l5.3 -2.9 0 5.8zM211.7 1211.4l5.3 -2.9 0 5.8zM218.4 1215.8l5.3 -2.9 0 5.8zM225.1 1219.8l5.3 -2.9 0 5.8zM231.7 1224.1l5.3 -2.9 0 5.8zM238.4 1228.5l5.3 -2.9 0 5.8zM245.1 1232.9l5.3 -2.9 0 5.8zM251.8 1237.3l5.3 -2.9 0 5.8zM258.4 1242.1l5.3 -2.9 0 5.8zM265.1 1246l5.3 -2.9 0 5.8zM271.8 1250.4l5.3 -2.9 0 5.8zM278.5 1254.8l5.3 -2.9 0 5.8zM285.1 1259.2l5.3 -2.9 0 5.8zM291.8 1262.8l5.3 -2.9 0 5.8zM298.5 1267.2l5.3 -2.9 0 5.8zM305.2 1271.6l5.3 -2.9 0 5.8zM311.9 1275.3l5.3 -2.9 0 5.8zM318.5 1279.2l5.3 -2.9 0 5.8zM325.2 1282.5l5.3 -2.9 0 5.8z" fill="#FF20F0"/><path d="M41.2 1107.5 44.4 1109.2 47.7 1110.7 50.9 1111.8 54.1 1112.9 57.3 1114.2 60.6 1115.6 63.8 1116.9 67 1118.3 70.2 1119.7 73.5 1121.2 76.7 1123.1 79.9 1125.3 83.1 1127.3 86.4 1129.2 89.6 1131.2 92.8 1133.4 96 1135.4 99.3 1137.4 102.5 1139.3 105.7 1141.4 109 1143.5 112.2 1145.6 115.4 1147.7 118.6 1149.8 121.9 1151.9 125.1 1154 128.3 1156.1 131.5 1158.3 134.8 1160.3 138 1162.4 141.2 1164.5 144.4 1166.3 147.7 1168.1 150.9 1170 154.1 1172.1 157.3 1174.5 160.6 1177 163.8 1179.2 167 1181.2 170.2 1183.3 173.5 1185.4 176.7 1187.3 179.9 1189 183.1 1190.9 186.4 1193 189.6 1195.2 192.8 1197.5 196.1 1199.6 199.3 1201.5 202.5 1203.4 205.7 1205.6 209 1207.7 212.2 1209.8 215.4 1211.8 218.6 1214 221.9 1216.1 225.1 1218 228.3 1219.9 231.5 1222 234.8 1224.1 238 1226.2 241.2 1228.3 244.4 1230.4 247.7 1232.6 250.9 1234.7 254.1 1236.8 257.3 1239.1 260.6 1241.4 263.8 1243.4 267 1245.3 270.2 1247.3 273.5 1249.4 276.7 1251.6 279.9 1253.7 283.1 1255.8 286.4 1258 289.6 1259.9 292.8 1261.7 296.1 1263.5 299.3 1265.7 302.5 1267.8 305.7 1270 309 1272 312.2 1273.8 315.4 1275.6 318.6 1277.5 321.9 1279.3 325.1 1281 328.3 1282.5" fill="none" stroke="#FF20F0" stroke-width="0.9"/><path d="M43.6 1108.4l-2.4 1.4 -2.4 -1.4 0 -2.8 2.4 -1.4 2.4 1.4zM50.3 1111.8l-2.4 1.4 -2.4 -1.4 0 -2.8 2.4 -1.4 2.4 1.4zM57 1114l-2.4 1.4 -2.4 -1.4 0 -2.8 2.4 -1.4 2.4 1.4zM63.7 1116.9l-2.4 1.4 -2.4 -1.4 0 -2.8 2.4 -1.4 2.4 1.4zM70.3 1119.8l-2.4 1.4 -2.4 -1.4 0 -2.8 2.4 -1.4 2.4 1.4zM77 1123l-2.4 1.4 -2.4 -1.4 0 -2.8 2.4 -1.4 2.4 1.4zM83.7 1127.4l-2.4 1.4 -2.4 -1.4 0 -2.8 2.4 -1.4 2.4 1.4zM90.4 1131.4l-2.4 1.4 -2.4 -1.4 0 -2.8 2.4 -1.4 2.4 1.4zM97 1135.9l-2.4 1.4 -2.4 -1.4 0 -2.8 2.4 -1.4 2.4 1.4zM103.7 1139.9l-2.4 1.4 -2.4 -1.4 0 -2.8 2.4 -1.4 2.4 1.4zM110.4 1144.3l-2.4 1.4 -2.4 -1.4 0 -2.8 2.4 -1.4 2.4 1.4zM117.1 1148.7l-2.4 1.4 -2.4 -1.4 0 -2.8 2.4 -1.4 2.4 1.4zM123.8 1153.1l-2.4 1.4 -2.4 -1.4 0 -2.8 2.4 -1.4 2.4 1.4zM130.4 1157.5l-2.4 1.4 -2.4 -1.4 0 -2.8 2.4 -1.4 2.4 1.4zM137.1 1162l-2.4 1.4 -2.4 -1.4 0 -2.8 2.4 -1.4 2.4 1.4zM143.8 1166.3l-2.4 1.4 -2.4 -1.4 0 -2.8 2.4 -1.4 2.4 1.4zM150.5 1170.1l-2.4 1.4 -2.4 -1.4 0 -2.8 2.4 -1.4 2.4 1.4zM157.1 1174.4l-2.4 1.4 -2.4 -1.4 0 -2.8 2.4 -1.4 2.4 1.4zM163.8 1179.5l-2.4 1.4 -2.4 -1.4 0 -2.8 2.4 -1.4 2.4 1.4zM170.5 1183.8l-2.4 1.4 -2.4 -1.4 0 -2.8 2.4 -1.4 2.4 1.4zM177.2 1188.3l-2.4 1.4 -2.4 -1.4 0 -2.8 2.4 -1.4 2.4 1.4zM183.8 1191.9l-2.4 1.4 -2.4 -1.4 0 -2.8 2.4 -1.4 2.4 1.4zM190.5 1196.3l-2.4 1.4 -2.4 -1.4 0 -2.8 2.4 -1.4 2.4 1.4zM197.2 1200.9l-2.4 1.4 -2.4 -1.4 0 -2.8 2.4 -1.4 2.4 1.4zM203.9 1204.9l-2.4 1.4 -2.4 -1.4 0 -2.8 2.4 -1.4 2.4 1.4zM210.6 1209.3l-2.4 1.4 -2.4 -1.4 0 -2.8 2.4 -1.4 2.4 1.4zM217.2 1213.6l-2.4 1.4 -2.4 -1.4 0 -2.8 2.4 -1.4 2.4 1.4zM223.9 1218.1l-2.4 1.4 -2.4 -1.4 0 -2.8 2.4 -1.4 2.4 1.4zM230.6 1222.1l-2.4 1.4 -2.4 -1.4 0 -2.8 2.4 -1.4 2.4 1.4zM237.3 1226.4l-2.4 1.4 -2.4 -1.4 0 -2.8 2.4 -1.4 2.4 1.4zM243.9 1230.8l-2.4 1.4 -2.4 -1.4 0 -2.8 2.4 -1.4 2.4 1.4zM250.6 1235.2l-2.4 1.4 -2.4 -1.4 0 -2.8 2.4 -1.4 2.4 1.4zM257.3 1239.6l-2.4 1.4 -2.4 -1.4 0 -2.8 2.4 -1.4 2.4 1.4zM264 1244.4l-2.4 1.4 -2.4 -1.4 0 -2.8 2.4 -1.4 2.4 1.4zM270.6 1248.4l-2.4 1.4 -2.4 -1.4 0 -2.8 2.4 -1.4 2.4 1.4zM277.3 1252.8l-2.4 1.4 -2.4 -1.4 0 -2.8 2.4 -1.4 2.4 1.4zM284 1257.2l-2.4 1.4 -2.4 -1.4 0 -2.8 2.4 -1.4 2.4 1.4zM290.7 1261.6l-2.4 1.4 -2.4 -1.4 0 -2.8 2.4 -1.4 2.4 1.4zM297.4 1265.3l-2.4 1.4 -2.4 -1.4 0 -2.8 2.4 -1.4 2.4 1.4zM304 1269.7l-2.4 1.4 -2.4 -1.4 0 -2.8 2.4 -1.4 2.4 1.4zM310.7 1274.2l-2.4 1.4 -2.4 -1.4 0 -2.8 2.4 -1.4 2.4 1.4zM317.4 1277.9l-2.4 1.4 -2.4 -1.4 0 -2.8 2.4 -1.4 2.4 1.4zM324.1 1281.8l-2.4 1.4 -2.4 -1.4 0 -2.8 2.4 -1.4 2.4 1.4zM330.7 1285.1l-2.4 1.4 -2.4 -1.4 0 -2.8 2.4 -1.4 2.4 1.4z" fill="#F2F830"/><path d="M41.2 1107 44.4 1108.8 47.7 1110.3 50.9 1111.4 54.1 1112.5 57.3 1113.8 60.6 1115.2 63.8 1116.6 67 1118 70.2 1119.4 73.5 1121 76.7 1122.9 79.9 1125.1 83.1 1127.2 86.4 1129 89.6 1131.1 92.8 1133.3 96 1135.3 99.3 1137.3 102.5 1139.3 105.7 1141.4 109 1143.5 112.2 1145.7 115.4 1147.8 118.6 1149.9 121.9 1152.1 125.1 1154.2 128.3 1156.3 131.5 1158.5 134.8 1160.6 138 1162.7 141.2 1164.8 144.4 1166.6 147.7 1168.5 150.9 1170.5 154.1 1172.6 157.3 1175 160.6 1177.5 163.8 1179.7 167 1181.8 170.2 1183.9 173.5 1186.1 176.7 1187.9 179.9 1189.6 183.1 1191.5 186.4 1193.7 189.6 1195.9 192.8 1198.2 196.1 1200.3 199.3 1202.2 202.5 1204.2 205.7 1206.3 209 1208.5 212.2 1210.5 215.4 1212.6 218.6 1214.8 221.9 1216.9 225.1 1218.8 228.3 1220.8 231.5 1222.8 234.8 1224.9 238 1227.1 241.2 1229.2 244.4 1231.3 247.7 1233.5 250.9 1235.6 254.1 1237.7 257.3 1240 260.6 1242.4 263.8 1244.4 267 1246.2 270.2 1248.3 273.5 1250.4 276.7 1252.6 279.9 1254.7 283.1 1256.9 286.4 1259 289.6 1261 292.8 1262.7 296.1 1264.6 299.3 1266.8 302.5 1268.9 305.7 1271.1 309 1273.1 312.2 1274.9 315.4 1276.7 318.6 1278.7 321.9 1280.5 325.1 1282.2 328.3 1283.7" fill="none" stroke="#F2F830" stroke-width="0.9"/><path d="M44.3 1108.1l-5.3 -2.9 0 5.8zM51 1111.4l-5.3 -2.9 0 5.8zM57.7 1113.6l-5.3 -2.9 0 5.8zM64.3 1116.4l-5.3 -2.9 0 5.8zM71 1119.2l-5.3 -2.9 0 5.8zM77.7 1122.3l-5.3 -2.9 0 5.8zM84.4 1126.7l-5.3 -2.9 0 5.8zM91 1130.6l-5.3 -2.9 0 5.8zM97.7 1135l-5.3 -2.9 0 5.8zM104.4 1139l-5.3 -2.9 0 5.8zM111.1 1143.3l-5.3 -2.9 0 5.8zM117.8 1147.7l-5.3 -2.9 0 5.8zM124.4 1152.1l-5.3 -2.9 0 5.8zM131.1 1156.5l-5.3 -2.9 0 5.8zM137.8 1160.9l-5.3 -2.9 0 5.8zM144.5 1165.2l-5.3 -2.9 0 5.8zM151.1 1169l-5.3 -2.9 0 5.8zM157.8 1173.3l-5.3 -2.9 0 5.8zM164.5 1178.4l-5.3 -2.9 0 5.8zM171.2 1182.7l-5.3 -2.9 0 5.8zM177.8 1187.1l-5.3 -2.9 0 5.8zM184.5 1190.7l-5.3 -2.9 0 5.8zM191.2 1195.1l-5.3 -2.9 0 5.8zM197.9 1199.7l-5.3 -2.9 0 5.8zM204.6 1203.7l-5.3 -2.9 0 5.8zM211.2 1208.1l-5.3 -2.9 0 5.8zM217.9 1212.4l-5.3 -2.9 0 5.8zM224.6 1216.8l-5.3 -2.9 0 5.8zM231.3 1220.8l-5.3 -2.9 0 5.8zM237.9 1225.1l-5.3 -2.9 0 5.8zM244.6 1229.5l-5.3 -2.9 0 5.8zM251.3 1233.9l-5.3 -2.9 0 5.8zM258 1238.3l-5.3 -2.9 0 5.8zM264.6 1243.1l-5.3 -2.9 0 5.8zM271.3 1247l-5.3 -2.9 0 5.8zM278 1251.4l-5.3 -2.9 0 5.8zM284.7 1255.8l-5.3 -2.9 0 5.8zM291.3 1260.2l-5.3 -2.9 0 5.8zM298 1263.9l-5.3 -2.9 0 5.8zM304.7 1268.3l-5.3 -2.9 0 5.8zM311.4 1272.7l-5.3 -2.9 0 5.8zM318.1 1276.4l-5.3 -2.9 0 5.8zM324.7 1280.3l-5.3 -2.9 0 5.8zM331.4 1283.6l-5.3 -2.9 0 5.8z" fill="#2A8A22"/><path d="M41.2 1108.1 44.4 1109.8 47.7 1111.3 50.9 1112.4 54.1 1113.4 57.3 1114.7 60.6 1116.1 63.8 1117.5 67 1118.8 70.2 1120.2 73.5 1121.7 76.7 1123.6 79.9 1125.8 83.1 1127.8 86.4 1129.7 89.6 1131.7 92.8 1133.8 96 1135.9 99.3 1137.8 102.5 1139.8 105.7 1141.8 109 1143.9 112.2 1146.1 115.4 1148.2 118.6 1150.3 121.9 1152.4 125.1 1154.6 128.3 1156.7 131.5 1158.8 134.8 1160.9 138 1163.1 141.2 1165.1 144.4 1167 147.7 1168.8 150.9 1170.8 154.1 1172.9 157.3 1175.3 160.6 1177.8 163.8 1180 167 1182 170.2 1184.2 173.5 1186.3 176.7 1188.2 179.9 1189.9 183.1 1191.8 186.4 1193.9 189.6 1196.1 192.8 1198.4 196.1 1200.5 199.3 1202.4 202.5 1204.4 205.7 1206.5 209 1208.6 212.2 1210.7 215.4 1212.8 218.6 1214.9 221.9 1217 225.1 1219 228.3 1220.9 231.5 1222.9 234.8 1225.1 238 1227.2 241.2 1229.3 244.4 1231.4 247.7 1233.6 250.9 1235.7 254.1 1237.8 257.3 1240.1 260.6 1242.4 263.8 1244.5 267 1246.3 270.2 1248.3 273.5 1250.5 276.7 1252.6 279.9 1254.7 283.1 1256.9 286.4 1259 289.6 1261 292.8 1262.7 296.1 1264.6 299.3 1266.7 302.5 1268.9 305.7 1271.1 309 1273.1 312.2 1274.9 315.4 1276.7 318.6 1278.6 321.9 1280.4 325.1 1282.1 328.3 1283.6" fill="none" stroke="#2A8A22" stroke-width="0.9"/><path d="M41.2 1105.6l2.8 2 -1.1 3.2 -3.4 0 -1.1 -3.2zM47.9 1108.9l2.8 2 -1.1 3.2 -3.4 0 -1.1 -3.2zM54.6 1111.1l2.8 2 -1.1 3.2 -3.4 0 -1.1 -3.2zM61.2 1113.9l2.8 2 -1.1 3.2 -3.4 0 -1.1 -3.2zM67.9 1116.7l2.8 2 -1.1 3.2 -3.4 0 -1.1 -3.2zM74.6 1119.8l2.8 2 -1.1 3.2 -3.4 0 -1.1 -3.2zM81.3 1124.2l2.8 2 -1.1 3.2 -3.4 0 -1.1 -3.2zM87.9 1128.1l2.8 2 -1.1 3.2 -3.4 0 -1.1 -3.2zM94.6 1132.5l2.8 2 -1.1 3.2 -3.4 0 -1.1 -3.2zM101.3 1136.5l2.8 2 -1.1 3.2 -3.4 0 -1.1 -3.2zM108 1140.8l2.8 2 -1.1 3.2 -3.4 0 -1.1 -3.2zM114.7 1145.2l2.8 2 -1.1 3.2 -3.4 0 -1.1 -3.2zM121.3 1149.6l2.8 2 -1.1 3.2 -3.4 0 -1.1 -3.2zM128 1154l2.8 2 -1.1 3.2 -3.4 0 -1.1 -3.2zM134.7 1158.4l2.8 2 -1.1 3.2 -3.4 0 -1.1 -3.2zM141.4 1162.7l2.8 2 -1.1 3.2 -3.4 0 -1.1 -3.2zM148 1166.5l2.8 2 -1.1 3.2 -3.4 0 -1.1 -3.2zM154.7 1170.8l2.8 2 -1.1 3.2 -3.4 0 -1.1 -3.2zM161.4 1175.9l2.8 2 -1.1 3.2 -3.4 0 -1.1 -3.2zM168.1 1180.2l2.8 2 -1.1 3.2 -3.4 0 -1.1 -3.2zM174.7 1184.6l2.8 2 -1.1 3.2 -3.4 0 -1.1 -3.2zM181.4 1188.2l2.8 2 -1.1 3.2 -3.4 0 -1.1 -3.2zM188.1 1192.6l2.8 2 -1.1 3.2 -3.4 0 -1.1 -3.2zM194.8 1197.2l2.8 2 -1.1 3.2 -3.4 0 -1.1 -3.2zM201.5 1201.2l2.8 2 -1.1 3.2 -3.4 0 -1.1 -3.2zM208.1 1205.6l2.8 2 -1.1 3.2 -3.4 0 -1.1 -3.2zM214.8 1209.9l2.8 2 -1.1 3.2 -3.4 0 -1.1 -3.2zM221.5 1214.3l2.8 2 -1.1 3.2 -3.4 0 -1.1 -3.2zM228.2 1218.3l2.8 2 -1.1 3.2 -3.4 0 -1.1 -3.2zM234.8 1222.6l2.8 2 -1.1 3.2 -3.4 0 -1.1 -3.2zM241.5 1227l2.8 2 -1.1 3.2 -3.4 0 -1.1 -3.2zM248.2 1231.4l2.8 2 -1.1 3.2 -3.4 0 -1.1 -3.2zM254.9 1235.8l2.8 2 -1.1 3.2 -3.4 0 -1.1 -3.2zM261.5 1240.6l2.8 2 -1.1 3.2 -3.4 0 -1.1 -3.2zM268.2 1244.5l2.8 2 -1.1 3.2 -3.4 0 -1.1 -3.2zM274.9 1248.9l2.8 2 -1.1 3.2 -3.4 0 -1.1 -3.2zM281.6 1253.3l2.8 2 -1.1 3.2 -3.4 0 -1.1 -3.2zM288.2 1257.7l2.8 2 -1.1 3.2 -3.4 0 -1.1 -3.2zM294.9 1261.4l2.8 2 -1.1 3.2 -3.4 0 -1.1 -3.2zM301.6 1265.8l2.8 2 -1.1 3.2 -3.4 0 -1.1 -3.2zM308.3 1270.2l2.8 2 -1.1 3.2 -3.4 0 -1.1 -3.2zM315 1273.9l2.8 2 -1.1 3.2 -3.4 0 -1.1 -3.2zM321.6 1277.8l2.8 2 -1.1 3.2 -3.4 0 -1.1 -3.2zM328.3 1281.1l2.8 2 -1.1 3.2 -3.4 0 -1.1 -3.2z" fill="#000000"/><path d="M41.2 1108.5 44.4 1110.2 47.7 1111.7 50.9 1112.8 54.1 1113.8 57.3 1115.1 60.6 1116.5 63.8 1117.9 67 1119.2 70.2 1120.6 73.5 1122.1 76.7 1124 79.9 1126.2 83.1 1128.2 86.4 1130.1 89.6 1132.1 92.8 1134.2 96 1136.3 99.3 1138.2 102.5 1140.2 105.7 1142.2 109 1144.3 112.2 1146.5 115.4 1148.6 118.6 1150.7 121.9 1152.8 125.1 1155 128.3 1157.1 131.5 1159.2 134.8 1161.3 138 1163.5 141.2 1165.5 144.4 1167.4 147.7 1169.2 150.9 1171.2 154.1 1173.3 157.3 1175.7 160.6 1178.2 163.8 1180.4 167 1182.4 170.2 1184.6 173.5 1186.7 176.7 1188.6 179.9 1190.3 183.1 1192.2 186.4 1194.3 189.6 1196.5 192.8 1198.8 196.1 1200.9 199.3 1202.8 202.5 1204.8 205.7 1206.9 209 1209 212.2 1211.1 215.4 1213.2 218.6 1215.3 221.9 1217.4 225.1 1219.4 228.3 1221.3 231.5 1223.3 234.8 1225.5 238 1227.6 241.2 1229.7 244.4 1231.8 247.7 1234 250.9 1236.1 254.1 1238.2 257.3 1240.5 260.6 1242.8 263.8 1244.9 267 1246.7 270.2 1248.7 273.5 1250.9 276.7 1253 279.9 1255.1 283.1 1257.3 286.4 1259.4 289.6 1261.4 292.8 1263.1 296.1 1265 299.3 1267.1 302.5 1269.3 305.7 1271.5 309 1273.5 312.2 1275.3 315.4 1277.1 318.6 1279 321.9 1280.8 325.1 1282.5 328.3 1284" fill="none" stroke="#000000" stroke-width="0.9"/></g><g clip-path="url(#cr4)"><path d="M393.9 1236h0M400.6 1231.7h0M407.2 1227.3h0M413.9 1221h0M420.6 1211h0M427.2 1199h0M433.9 1186h0M440.6 1171.4h0M447.2 1158.7h0M453.9 1147.8h0M460.6 1138.2h0M467.3 1131.6h0M473.9 1126.6h0M480.6 1123.5h0M487.3 1122h0M493.9 1121.5h0M500.6 1121.5h0M507.3 1121.5h0M513.9 1122.6h0M520.6 1122.6h0M527.3 1122.1h0M533.9 1122.1h0M540.6 1122.1h0M547.3 1122.1h0M553.9 1122.1h0M560.6 1121.5h0M567.3 1120.8h0M573.9 1120.4h0M580.6 1120h0M587.3 1120h0M593.9 1119.3h0M600.6 1118.6h0M607.3 1118.2h0M613.9 1118.2h0M620.6 1118.2h0M627.3 1118.6h0M633.9 1118.6h0M640.6 1119.3h0M647.3 1120.4h0M653.9 1121.5h0M660.6 1126.5h0M667.3 1131.3h0M673.9 1136.8h0M680.6 1143.4h0" stroke="#D6A43E" stroke-width="4.6" stroke-linecap="square"/><path d="M393.9 1236 397.1 1233.9 400.4 1231.8 403.6 1229.8 406.8 1227.6 410 1225 413.2 1221.7 416.5 1217.6 419.7 1212.5 422.9 1207 426.1 1201.1 429.3 1195 432.6 1188.7 435.8 1182 439 1174.8 442.2 1168.1 445.5 1161.9 448.7 1156.2 451.9 1151 455.1 1146 458.3 1141.1 461.6 1137.1 464.8 1133.8 468 1131 471.2 1128.4 474.4 1126.3 477.7 1124.6 480.9 1123.4 484.1 1122.6 487.3 1122 490.6 1121.7 493.8 1121.5 497 1121.5 500.2 1121.5 503.4 1121.5 506.7 1121.5 509.9 1121.9 513.1 1122.5 516.3 1122.6 519.5 1122.6 522.8 1122.5 526 1122.2 529.2 1122.1 532.4 1122.1 535.7 1122.1 538.9 1122.1 542.1 1122.1 545.3 1122.1 548.5 1122.1 551.8 1122.1 555 1122.1 558.2 1121.8 561.4 1121.4 564.6 1121.1 567.9 1120.8 571.1 1120.6 574.3 1120.4 577.5 1120.1 580.7 1120 584 1120 587.2 1120 590.4 1119.8 593.6 1119.3 596.9 1119 600.1 1118.6 603.3 1118.4 606.5 1118.2 609.7 1118.2 613 1118.2 616.2 1118.2 619.4 1118.2 622.6 1118.3 625.8 1118.6 629.1 1118.6 632.3 1118.6 635.5 1118.7 638.7 1119 642 1119.5 645.2 1120 648.4 1120.6 651.6 1121 654.8 1121.9 658.1 1124.3 661.3 1127 664.5 1129.3 667.7 1131.6 670.9 1134.2 674.2 1137 677.4 1140.1 680.6 1143.4" fill="none" stroke="#D6A43E" stroke-width="0.9"/><path d="M393.9 1240.4h0M400.6 1236.7h0M407.2 1234.5h0M413.9 1228.4h0M420.6 1219.6h0M427.2 1207.6h0M433.9 1195.5h0M440.6 1184.6h0M447.2 1172.5h0M453.9 1161.6h0M460.6 1150h0M467.3 1140.8h0M473.9 1134.2h0M480.6 1129.4h0M487.3 1126.6h0M493.9 1125h0M500.6 1124.4h0M507.3 1123.8h0M513.9 1124.1h0M520.6 1124.1h0M527.3 1123.6h0M533.9 1123.6h0M540.6 1123.6h0M547.3 1123.6h0M553.9 1123.6h0M560.6 1123h0M567.3 1122.3h0M573.9 1121.9h0M580.6 1121.5h0M587.3 1121.5h0M593.9 1120.8h0M600.6 1120.1h0M607.3 1119.7h0M613.9 1119.7h0M620.6 1119.7h0M627.3 1120.1h0M633.9 1120.1h0M640.6 1120.8h0M647.3 1121.9h0M653.9 1125h0M660.6 1130h0M667.3 1136h0M673.9 1141.6h0M680.6 1149.3h0" stroke="#FF1010" stroke-width="5.6" stroke-linecap="round"/><path d="M393.9 1240.4 397.1 1238.4 400.4 1236.8 403.6 1235.8 406.8 1234.7 410 1232.5 413.2 1229.1 416.5 1225.4 419.7 1220.9 422.9 1215.7 426.1 1209.7 429.3 1203.8 432.6 1197.9 435.8 1192.4 439 1187.2 442.2 1181.7 445.5 1175.7 448.7 1170.1 451.9 1164.9 455.1 1159.5 458.3 1153.7 461.6 1148.5 464.8 1143.9 468 1140 471.2 1136.6 474.4 1133.8 477.7 1131.3 480.9 1129.3 484.1 1127.7 487.3 1126.6 490.6 1125.7 493.8 1125 497 1124.7 500.2 1124.4 503.4 1124.1 506.7 1123.8 509.9 1123.9 513.1 1124.1 516.3 1124.1 519.5 1124.1 522.8 1124 526 1123.7 529.2 1123.6 532.4 1123.6 535.7 1123.6 538.9 1123.6 542.1 1123.6 545.3 1123.6 548.5 1123.6 551.8 1123.6 555 1123.6 558.2 1123.3 561.4 1122.9 564.6 1122.6 567.9 1122.3 571.1 1122.1 574.3 1121.9 577.5 1121.6 580.7 1121.5 584 1121.5 587.2 1121.5 590.4 1121.3 593.6 1120.8 596.9 1120.5 600.1 1120.1 603.3 1119.9 606.5 1119.7 609.7 1119.7 613 1119.7 616.2 1119.7 619.4 1119.7 622.6 1119.8 625.8 1120.1 629.1 1120.1 632.3 1120.1 635.5 1120.2 638.7 1120.5 642 1121 645.2 1121.5 648.4 1122.3 651.6 1123.7 654.8 1125.6 658.1 1127.9 661.3 1130.6 664.5 1133.5 667.7 1136.4 670.9 1139 674.2 1141.8 677.4 1145.3 680.6 1149.3" fill="none" stroke="#FF1010" stroke-width="0.9"/><path d="M393.9 1227l2.9 5.3 -5.8 0zM400.6 1225.3l2.9 5.3 -5.8 0zM407.2 1221.3l2.9 5.3 -5.8 0zM413.9 1215.4l2.9 5.3 -5.8 0zM420.6 1207.3l2.9 5.3 -5.8 0zM427.2 1196.8l2.9 5.3 -5.8 0zM433.9 1186.9l2.9 5.3 -5.8 0zM440.6 1177.5l2.9 5.3 -5.8 0zM447.2 1167.3l2.9 5.3 -5.8 0zM453.9 1157.4l2.9 5.3 -5.8 0zM460.6 1146.5l2.9 5.3 -5.8 0zM467.3 1137.7l2.9 5.3 -5.8 0zM473.9 1131.6l2.9 5.3 -5.8 0zM480.6 1126.7l2.9 5.3 -5.8 0zM487.3 1123.5l2.9 5.3 -5.8 0zM493.9 1121.3l2.9 5.3 -5.8 0zM500.6 1120.2l2.9 5.3 -5.8 0zM507.3 1119.7l2.9 5.3 -5.8 0zM513.9 1120.2l2.9 5.3 -5.8 0zM520.6 1120.2l2.9 5.3 -5.8 0zM527.3 1119.7l2.9 5.3 -5.8 0zM533.9 1119.7l2.9 5.3 -5.8 0zM540.6 1119.7l2.9 5.3 -5.8 0zM547.3 1119.7l2.9 5.3 -5.8 0zM553.9 1119.7l2.9 5.3 -5.8 0zM560.6 1119.1l2.9 5.3 -5.8 0zM567.3 1118.4l2.9 5.3 -5.8 0zM573.9 1118l2.9 5.3 -5.8 0zM580.6 1117.6l2.9 5.3 -5.8 0zM587.3 1117.6l2.9 5.3 -5.8 0zM593.9 1116.9l2.9 5.3 -5.8 0zM600.6 1116.2l2.9 5.3 -5.8 0zM607.3 1115.8l2.9 5.3 -5.8 0zM613.9 1115.8l2.9 5.3 -5.8 0zM620.6 1115.8l2.9 5.3 -5.8 0zM627.3 1116.2l2.9 5.3 -5.8 0zM633.9 1116.2l2.9 5.3 -5.8 0zM640.6 1116.9l2.9 5.3 -5.8 0zM647.3 1118l2.9 5.3 -5.8 0zM653.9 1121.1l2.9 5.3 -5.8 0zM660.6 1126.1l2.9 5.3 -5.8 0zM667.3 1132.1l2.9 5.3 -5.8 0zM673.9 1137.7l2.9 5.3 -5.8 0zM680.6 1145.4l2.9 5.3 -5.8 0z" fill="#10F010"/><path d="M393.9 1230.1 397.1 1229.5 400.4 1228.5 403.6 1226.9 406.8 1224.7 410 1222.2 413.2 1219.2 416.5 1215.7 419.7 1211.6 422.9 1206.9 426.1 1201.7 429.3 1196.7 432.6 1192 435.8 1187.3 439 1182.9 442.2 1178.1 445.5 1173.2 448.7 1168.3 451.9 1163.6 455.1 1158.6 458.3 1153.2 461.6 1148.2 464.8 1143.8 468 1140 471.2 1137 474.4 1134.3 477.7 1131.8 480.9 1129.6 484.1 1128 487.3 1126.6 490.6 1125.4 493.8 1124.4 497 1123.8 500.2 1123.3 503.4 1123 506.7 1122.8 509.9 1123 513.1 1123.3 516.3 1123.3 519.5 1123.3 522.8 1123.2 526 1122.9 529.2 1122.8 532.4 1122.8 535.7 1122.8 538.9 1122.8 542.1 1122.8 545.3 1122.8 548.5 1122.8 551.8 1122.8 555 1122.8 558.2 1122.5 561.4 1122.1 564.6 1121.8 567.9 1121.5 571.1 1121.3 574.3 1121.1 577.5 1120.8 580.7 1120.7 584 1120.7 587.2 1120.7 590.4 1120.5 593.6 1120 596.9 1119.7 600.1 1119.3 603.3 1119.1 606.5 1118.9 609.7 1118.9 613 1118.9 616.2 1118.9 619.4 1118.9 622.6 1119 625.8 1119.3 629.1 1119.3 632.3 1119.3 635.5 1119.4 638.7 1119.7 642 1120.2 645.2 1120.7 648.4 1121.5 651.6 1122.9 654.8 1124.8 658.1 1127.1 661.3 1129.8 664.5 1132.7 667.7 1135.6 670.9 1138.2 674.2 1141 677.4 1144.5 680.6 1148.5" fill="none" stroke="#10F010" stroke-width="0.9"/><path d="M393.9 1222.7l2.9 -5.3 -5.8 0zM400.6 1220.5l2.9 -5.3 -5.8 0zM407.2 1217.9l2.9 -5.3 -5.8 0zM413.9 1212.9l2.9 -5.3 -5.8 0zM420.6 1205.6l2.9 -5.3 -5.8 0zM427.2 1195.3l2.9 -5.3 -5.8 0zM433.9 1187.2l2.9 -5.3 -5.8 0zM440.6 1177.8l2.9 -5.3 -5.8 0zM447.2 1166.9l2.9 -5.3 -5.8 0zM453.9 1156.6l2.9 -5.3 -5.8 0zM460.6 1146.5l2.9 -5.3 -5.8 0zM467.3 1139.1l2.9 -5.3 -5.8 0zM473.9 1132.9l2.9 -5.3 -5.8 0zM480.6 1129l2.9 -5.3 -5.8 0zM487.3 1126.8l2.9 -5.3 -5.8 0zM493.9 1125.3l2.9 -5.3 -5.8 0zM500.6 1124.6l2.9 -5.3 -5.8 0zM507.3 1124.2l2.9 -5.3 -5.8 0zM513.9 1124.2l2.9 -5.3 -5.8 0zM520.6 1124.2l2.9 -5.3 -5.8 0zM527.3 1123.7l2.9 -5.3 -5.8 0zM533.9 1123.7l2.9 -5.3 -5.8 0zM540.6 1123.7l2.9 -5.3 -5.8 0zM547.3 1123.7l2.9 -5.3 -5.8 0zM553.9 1123.7l2.9 -5.3 -5.8 0zM560.6 1123.1l2.9 -5.3 -5.8 0zM567.3 1122.4l2.9 -5.3 -5.8 0zM573.9 1122l2.9 -5.3 -5.8 0zM580.6 1121.6l2.9 -5.3 -5.8 0zM587.3 1121.6l2.9 -5.3 -5.8 0zM593.9 1120.9l2.9 -5.3 -5.8 0zM600.6 1120.2l2.9 -5.3 -5.8 0zM607.3 1119.8l2.9 -5.3 -5.8 0zM613.9 1119.8l2.9 -5.3 -5.8 0zM620.6 1119.8l2.9 -5.3 -5.8 0zM627.3 1120.2l2.9 -5.3 -5.8 0zM633.9 1120.2l2.9 -5.3 -5.8 0zM640.6 1120.9l2.9 -5.3 -5.8 0zM647.3 1122l2.9 -5.3 -5.8 0zM653.9 1125.1l2.9 -5.3 -5.8 0zM660.6 1130.1l2.9 -5.3 -5.8 0zM667.3 1136.1l2.9 -5.3 -5.8 0zM673.9 1141.7l2.9 -5.3 -5.8 0zM680.6 1149.4l2.9 -5.3 -5.8 0z" fill="#1010FF"/><path d="M393.9 1219.6 397.1 1218.6 400.4 1217.5 403.6 1216.3 406.8 1215 410 1213 413.2 1210.4 416.5 1207.3 419.7 1203.6 422.9 1199.1 426.1 1193.9 429.3 1189.6 432.6 1185.8 435.8 1181.6 439 1177 442.2 1172.1 445.5 1166.7 448.7 1161.6 451.9 1156.6 455.1 1151.6 458.3 1146.6 461.6 1142.2 464.8 1138.6 468 1135.2 471.2 1132.1 474.4 1129.4 477.7 1127.4 480.9 1125.8 484.1 1124.6 487.3 1123.7 490.6 1122.9 493.8 1122.2 497 1121.8 500.2 1121.5 503.4 1121.3 506.7 1121.1 509.9 1121.1 513.1 1121.1 516.3 1121.1 519.5 1121.1 522.8 1121 526 1120.7 529.2 1120.6 532.4 1120.6 535.7 1120.6 538.9 1120.6 542.1 1120.6 545.3 1120.6 548.5 1120.6 551.8 1120.6 555 1120.6 558.2 1120.3 561.4 1119.9 564.6 1119.6 567.9 1119.3 571.1 1119.1 574.3 1118.9 577.5 1118.6 580.7 1118.5 584 1118.5 587.2 1118.5 590.4 1118.3 593.6 1117.8 596.9 1117.5 600.1 1117.1 603.3 1116.9 606.5 1116.7 609.7 1116.7 613 1116.7 616.2 1116.7 619.4 1116.7 622.6 1116.8 625.8 1117.1 629.1 1117.1 632.3 1117.1 635.5 1117.2 638.7 1117.5 642 1118 645.2 1118.5 648.4 1119.3 651.6 1120.7 654.8 1122.6 658.1 1124.9 661.3 1127.6 664.5 1130.5 667.7 1133.4 670.9 1136 674.2 1138.8 677.4 1142.3 680.6 1146.3" fill="none" stroke="#1010FF" stroke-width="0.9"/><path d="M393.9 1174.9l2.8 3.1 -2.8 3.1 -2.8 -3.1zM400.6 1167.3l2.8 3.1 -2.8 3.1 -2.8 -3.1zM407.2 1159.6l2.8 3.1 -2.8 3.1 -2.8 -3.1zM413.9 1151.9l2.8 3.1 -2.8 3.1 -2.8 -3.1zM420.6 1142.5l2.8 3.1 -2.8 3.1 -2.8 -3.1zM427.2 1133.8l2.8 3.1 -2.8 3.1 -2.8 -3.1zM433.9 1126.7l2.8 3.1 -2.8 3.1 -2.8 -3.1zM440.6 1120.6l2.8 3.1 -2.8 3.1 -2.8 -3.1zM447.2 1116.4l2.8 3.1 -2.8 3.1 -2.8 -3.1zM453.9 1113.4l2.8 3.1 -2.8 3.1 -2.8 -3.1zM460.6 1111.7l2.8 3.1 -2.8 3.1 -2.8 -3.1zM467.3 1110.9l2.8 3.1 -2.8 3.1 -2.8 -3.1zM473.9 1110.4l2.8 3.1 -2.8 3.1 -2.8 -3.1zM480.6 1110.4l2.8 3.1 -2.8 3.1 -2.8 -3.1zM487.3 1110.4l2.8 3.1 -2.8 3.1 -2.8 -3.1zM493.9 1110.7l2.8 3.1 -2.8 3.1 -2.8 -3.1zM500.6 1111.2l2.8 3.1 -2.8 3.1 -2.8 -3.1zM507.3 1111.7l2.8 3.1 -2.8 3.1 -2.8 -3.1zM513.9 1112.2l2.8 3.1 -2.8 3.1 -2.8 -3.1zM520.6 1112.5l2.8 3.1 -2.8 3.1 -2.8 -3.1zM527.3 1112.9l2.8 3.1 -2.8 3.1 -2.8 -3.1zM533.9 1113.2l2.8 3.1 -2.8 3.1 -2.8 -3.1zM540.6 1113.4l2.8 3.1 -2.8 3.1 -2.8 -3.1zM547.3 1113.4l2.8 3.1 -2.8 3.1 -2.8 -3.1zM553.9 1113.4l2.8 3.1 -2.8 3.1 -2.8 -3.1zM560.6 1113.2l2.8 3.1 -2.8 3.1 -2.8 -3.1zM567.3 1112.9l2.8 3.1 -2.8 3.1 -2.8 -3.1zM573.9 1112.7l2.8 3.1 -2.8 3.1 -2.8 -3.1zM580.6 1112.4l2.8 3.1 -2.8 3.1 -2.8 -3.1zM587.3 1112.2l2.8 3.1 -2.8 3.1 -2.8 -3.1zM593.9 1112.2l2.8 3.1 -2.8 3.1 -2.8 -3.1zM600.6 1111.9l2.8 3.1 -2.8 3.1 -2.8 -3.1zM607.3 1111.9l2.8 3.1 -2.8 3.1 -2.8 -3.1zM613.9 1111.9l2.8 3.1 -2.8 3.1 -2.8 -3.1zM620.6 1112.2l2.8 3.1 -2.8 3.1 -2.8 -3.1zM627.3 1112.5l2.8 3.1 -2.8 3.1 -2.8 -3.1zM633.9 1113.4l2.8 3.1 -2.8 3.1 -2.8 -3.1zM640.6 1115.4l2.8 3.1 -2.8 3.1 -2.8 -3.1zM647.3 1118.4l2.8 3.1 -2.8 3.1 -2.8 -3.1zM653.9 1122.4l2.8 3.1 -2.8 3.1 -2.8 -3.1zM660.6 1127.4l2.8 3.1 -2.8 3.1 -2.8 -3.1zM667.3 1133.9l2.8 3.1 -2.8 3.1 -2.8 -3.1zM673.9 1140.9l2.8 3.1 -2.8 3.1 -2.8 -3.1zM680.6 1148.9l2.8 3.1 -2.8 3.1 -2.8 -3.1z" fill="#50F0F8"/><path d="M393.9 1178 397.1 1174.3 400.4 1170.7 403.6 1166.9 406.8 1163.2 410 1159.6 413.2 1155.8 416.5 1151.5 419.7 1146.8 422.9 1142.5 426.1 1138.3 429.3 1134.5 432.6 1131.1 435.8 1128 439 1125 442.2 1122.5 445.5 1120.5 448.7 1118.8 451.9 1117.3 455.1 1116.1 458.3 1115.3 461.6 1114.6 464.8 1114.2 468 1113.9 471.2 1113.6 474.4 1113.5 477.7 1113.5 480.9 1113.5 484.1 1113.5 487.3 1113.5 490.6 1113.6 493.8 1113.8 497 1114 500.2 1114.3 503.4 1114.5 506.7 1114.8 509.9 1115 513.1 1115.2 516.3 1115.4 519.5 1115.6 522.8 1115.7 526 1115.9 529.2 1116.1 532.4 1116.2 535.7 1116.4 538.9 1116.5 542.1 1116.5 545.3 1116.5 548.5 1116.5 551.8 1116.5 555 1116.5 558.2 1116.4 561.4 1116.3 564.6 1116.1 567.9 1116 571.1 1115.9 574.3 1115.8 577.5 1115.6 580.7 1115.5 584 1115.4 587.2 1115.3 590.4 1115.3 593.6 1115.3 596.9 1115.2 600.1 1115 603.3 1115 606.5 1115 609.7 1115 613 1115 616.2 1115.1 619.4 1115.2 622.6 1115.4 625.8 1115.5 629.1 1115.8 632.3 1116.2 635.5 1116.9 638.7 1117.8 642 1119 645.2 1120.5 648.4 1122.1 651.6 1124 654.8 1126.1 658.1 1128.5 661.3 1131.1 664.5 1134.2 667.7 1137.5 670.9 1140.8 674.2 1144.3 677.4 1148 680.6 1152" fill="none" stroke="#50F0F8" stroke-width="0.9"/><path d="M390.8 1185.7l5.3 -2.9 0 5.8zM397.5 1181.3l5.3 -2.9 0 5.8zM404.1 1173.6l5.3 -2.9 0 5.8zM410.8 1166.6l5.3 -2.9 0 5.8zM417.5 1156l5.3 -2.9 0 5.8zM424.1 1144.5l5.3 -2.9 0 5.8zM430.8 1134l5.3 -2.9 0 5.8zM437.5 1126l5.3 -2.9 0 5.8zM444.1 1120.5l5.3 -2.9 0 5.8zM450.8 1116.8l5.3 -2.9 0 5.8zM457.5 1114.5l5.3 -2.9 0 5.8zM464.2 1113.5l5.3 -2.9 0 5.8zM470.8 1113l5.3 -2.9 0 5.8zM477.5 1113l5.3 -2.9 0 5.8zM484.2 1113l5.3 -2.9 0 5.8zM490.8 1113.3l5.3 -2.9 0 5.8zM497.5 1113.8l5.3 -2.9 0 5.8zM504.2 1114.3l5.3 -2.9 0 5.8zM510.8 1114.8l5.3 -2.9 0 5.8zM517.5 1115.2l5.3 -2.9 0 5.8zM524.2 1115.6l5.3 -2.9 0 5.8zM530.8 1116l5.3 -2.9 0 5.8zM537.5 1116.3l5.3 -2.9 0 5.8zM544.2 1116.5l5.3 -2.9 0 5.8zM550.8 1116.5l5.3 -2.9 0 5.8zM557.5 1116.3l5.3 -2.9 0 5.8zM564.2 1116l5.3 -2.9 0 5.8zM570.8 1115.8l5.3 -2.9 0 5.8zM577.5 1115.5l5.3 -2.9 0 5.8zM584.2 1115.3l5.3 -2.9 0 5.8zM590.8 1115.3l5.3 -2.9 0 5.8zM597.5 1115l5.3 -2.9 0 5.8zM604.2 1115l5.3 -2.9 0 5.8zM610.8 1115l5.3 -2.9 0 5.8zM617.5 1115.3l5.3 -2.9 0 5.8zM624.2 1115.6l5.3 -2.9 0 5.8zM630.8 1116.5l5.3 -2.9 0 5.8zM637.5 1118.5l5.3 -2.9 0 5.8zM644.2 1121.5l5.3 -2.9 0 5.8zM650.8 1126l5.3 -2.9 0 5.8zM657.5 1131.5l5.3 -2.9 0 5.8zM664.2 1138.5l5.3 -2.9 0 5.8zM670.8 1145l5.3 -2.9 0 5.8zM677.5 1149.6l5.3 -2.9 0 5.8z" fill="#FF20F0"/><path d="M393.9 1185.7 397.1 1183.9 400.4 1181.5 403.6 1178.1 406.8 1174.1 410 1170.8 413.2 1167.4 416.5 1162.9 419.7 1157.5 422.9 1152 426.1 1146.4 429.3 1141 432.6 1135.9 435.8 1131.5 439 1127.7 442.2 1124.5 445.5 1121.8 448.7 1119.6 451.9 1117.8 455.1 1116.3 458.3 1115.1 461.6 1114.3 464.8 1113.8 468 1113.4 471.2 1113.1 474.4 1113 477.7 1113 480.9 1113 484.1 1113 487.3 1113 490.6 1113.1 493.8 1113.3 497 1113.5 500.2 1113.8 503.4 1114 506.7 1114.3 509.9 1114.5 513.1 1114.7 516.3 1115 519.5 1115.1 522.8 1115.3 526 1115.5 529.2 1115.7 532.4 1115.9 535.7 1116.1 538.9 1116.2 542.1 1116.4 545.3 1116.5 548.5 1116.5 551.8 1116.5 555 1116.5 558.2 1116.4 561.4 1116.3 564.6 1116.1 567.9 1116 571.1 1115.9 574.3 1115.8 577.5 1115.6 580.7 1115.5 584 1115.4 587.2 1115.3 590.4 1115.3 593.6 1115.3 596.9 1115.2 600.1 1115 603.3 1115 606.5 1115 609.7 1115 613 1115 616.2 1115.1 619.4 1115.2 622.6 1115.4 625.8 1115.5 629.1 1115.8 632.3 1116.2 635.5 1116.9 638.7 1117.8 642 1119 645.2 1120.4 648.4 1122.2 651.6 1124.3 654.8 1126.7 658.1 1129.3 661.3 1132.2 664.5 1135.5 667.7 1139 670.9 1142.2 674.2 1145.2 677.4 1147.6 680.6 1149.6" fill="none" stroke="#FF20F0" stroke-width="0.9"/><path d="M396.3 1194.7l-2.4 1.4 -2.4 -1.4 0 -2.8 2.4 -1.4 2.4 1.4zM403 1188.2l-2.4 1.4 -2.4 -1.4 0 -2.8 2.4 -1.4 2.4 1.4zM409.7 1179.4l-2.4 1.4 -2.4 -1.4 0 -2.8 2.4 -1.4 2.4 1.4zM416.3 1169.9l-2.4 1.4 -2.4 -1.4 0 -2.8 2.4 -1.4 2.4 1.4zM423 1158.9l-2.4 1.4 -2.4 -1.4 0 -2.8 2.4 -1.4 2.4 1.4zM429.7 1146.9l-2.4 1.4 -2.4 -1.4 0 -2.8 2.4 -1.4 2.4 1.4zM436.3 1136.4l-2.4 1.4 -2.4 -1.4 0 -2.8 2.4 -1.4 2.4 1.4zM443 1128.2l-2.4 1.4 -2.4 -1.4 0 -2.8 2.4 -1.4 2.4 1.4zM449.7 1122.4l-2.4 1.4 -2.4 -1.4 0 -2.8 2.4 -1.4 2.4 1.4zM456.3 1118.4l-2.4 1.4 -2.4 -1.4 0 -2.8 2.4 -1.4 2.4 1.4zM463 1115.9l-2.4 1.4 -2.4 -1.4 0 -2.8 2.4 -1.4 2.4 1.4zM469.7 1114.8l-2.4 1.4 -2.4 -1.4 0 -2.8 2.4 -1.4 2.4 1.4zM476.3 1114.2l-2.4 1.4 -2.4 -1.4 0 -2.8 2.4 -1.4 2.4 1.4zM483 1114l-2.4 1.4 -2.4 -1.4 0 -2.8 2.4 -1.4 2.4 1.4zM489.7 1114l-2.4 1.4 -2.4 -1.4 0 -2.8 2.4 -1.4 2.4 1.4zM496.3 1114.2l-2.4 1.4 -2.4 -1.4 0 -2.8 2.4 -1.4 2.4 1.4zM503 1114.7l-2.4 1.4 -2.4 -1.4 0 -2.8 2.4 -1.4 2.4 1.4zM509.7 1115l-2.4 1.4 -2.4 -1.4 0 -2.8 2.4 -1.4 2.4 1.4zM516.3 1115.4l-2.4 1.4 -2.4 -1.4 0 -2.8 2.4 -1.4 2.4 1.4zM523 1115.9l-2.4 1.4 -2.4 -1.4 0 -2.8 2.4 -1.4 2.4 1.4zM529.7 1116.4l-2.4 1.4 -2.4 -1.4 0 -2.8 2.4 -1.4 2.4 1.4zM536.4 1116.7l-2.4 1.4 -2.4 -1.4 0 -2.8 2.4 -1.4 2.4 1.4zM543 1117l-2.4 1.4 -2.4 -1.4 0 -2.8 2.4 -1.4 2.4 1.4zM549.7 1117.2l-2.4 1.4 -2.4 -1.4 0 -2.8 2.4 -1.4 2.4 1.4zM556.4 1117.2l-2.4 1.4 -2.4 -1.4 0 -2.8 2.4 -1.4 2.4 1.4zM563 1116.9l-2.4 1.4 -2.4 -1.4 0 -2.8 2.4 -1.4 2.4 1.4zM569.7 1116.7l-2.4 1.4 -2.4 -1.4 0 -2.8 2.4 -1.4 2.4 1.4zM576.4 1116.4l-2.4 1.4 -2.4 -1.4 0 -2.8 2.4 -1.4 2.4 1.4zM583 1116.2l-2.4 1.4 -2.4 -1.4 0 -2.8 2.4 -1.4 2.4 1.4zM589.7 1115.9l-2.4 1.4 -2.4 -1.4 0 -2.8 2.4 -1.4 2.4 1.4zM596.4 1115.7l-2.4 1.4 -2.4 -1.4 0 -2.8 2.4 -1.4 2.4 1.4zM603 1115.4l-2.4 1.4 -2.4 -1.4 0 -2.8 2.4 -1.4 2.4 1.4zM609.7 1115.4l-2.4 1.4 -2.4 -1.4 0 -2.8 2.4 -1.4 2.4 1.4zM616.4 1115.4l-2.4 1.4 -2.4 -1.4 0 -2.8 2.4 -1.4 2.4 1.4zM623 1115.7l-2.4 1.4 -2.4 -1.4 0 -2.8 2.4 -1.4 2.4 1.4zM629.7 1116.2l-2.4 1.4 -2.4 -1.4 0 -2.8 2.4 -1.4 2.4 1.4zM636.4 1117.2l-2.4 1.4 -2.4 -1.4 0 -2.8 2.4 -1.4 2.4 1.4zM643 1119.2l-2.4 1.4 -2.4 -1.4 0 -2.8 2.4 -1.4 2.4 1.4zM649.7 1122.4l-2.4 1.4 -2.4 -1.4 0 -2.8 2.4 -1.4 2.4 1.4zM656.4 1126.9l-2.4 1.4 -2.4 -1.4 0 -2.8 2.4 -1.4 2.4 1.4zM663 1132.4l-2.4 1.4 -2.4 -1.4 0 -2.8 2.4 -1.4 2.4 1.4zM669.7 1139.4l-2.4 1.4 -2.4 -1.4 0 -2.8 2.4 -1.4 2.4 1.4zM676.4 1146.9l-2.4 1.4 -2.4 -1.4 0 -2.8 2.4 -1.4 2.4 1.4zM683 1154.4l-2.4 1.4 -2.4 -1.4 0 -2.8 2.4 -1.4 2.4 1.4z" fill="#F2F830"/><path d="M393.9 1193.3 397.1 1190.4 400.4 1187 403.6 1183.1 406.8 1178.6 410 1174.2 413.2 1169.5 416.5 1164.5 419.7 1159 422.9 1153.3 426.1 1147.5 429.3 1142 432.6 1136.9 435.8 1132.5 439 1128.5 442.2 1125.2 445.5 1122.4 448.7 1120 451.9 1118 455.1 1116.5 458.3 1115.2 461.6 1114.3 464.8 1113.7 468 1113.3 471.2 1113 474.4 1112.8 477.7 1112.7 480.9 1112.6 484.1 1112.6 487.3 1112.6 490.6 1112.7 493.8 1112.8 497 1113 500.2 1113.3 503.4 1113.4 506.7 1113.6 509.9 1113.7 513.1 1113.9 516.3 1114.2 519.5 1114.4 522.8 1114.7 526 1114.9 529.2 1115.1 532.4 1115.2 535.7 1115.4 538.9 1115.5 542.1 1115.7 545.3 1115.8 548.5 1115.8 551.8 1115.8 555 1115.8 558.2 1115.6 561.4 1115.5 564.6 1115.4 567.9 1115.3 571.1 1115.1 574.3 1115 577.5 1114.9 580.7 1114.8 584 1114.6 587.2 1114.5 590.4 1114.4 593.6 1114.3 596.9 1114.1 600.1 1114 603.3 1114 606.5 1114 609.7 1114 613 1114 616.2 1114.1 619.4 1114.2 622.6 1114.4 625.8 1114.7 629.1 1115 632.3 1115.5 635.5 1116.2 638.7 1117.1 642 1118.3 645.2 1119.9 648.4 1121.7 651.6 1123.8 654.8 1126.2 658.1 1128.8 661.3 1131.7 664.5 1135 667.7 1138.5 670.9 1142.1 674.2 1145.8 677.4 1149.4 680.6 1153" fill="none" stroke="#F2F830" stroke-width="0.9"/><path d="M397 1198.2l-5.3 -2.9 0 5.8zM403.7 1193.3l-5.3 -2.9 0 5.8zM410.3 1183.5l-5.3 -2.9 0 5.8zM417 1171.4l-5.3 -2.9 0 5.8zM423.7 1158.5l-5.3 -2.9 0 5.8zM430.3 1146.5l-5.3 -2.9 0 5.8zM437 1136l-5.3 -2.9 0 5.8zM443.7 1127.5l-5.3 -2.9 0 5.8zM450.3 1121.5l-5.3 -2.9 0 5.8zM457 1117.2l-5.3 -2.9 0 5.8zM463.7 1114.5l-5.3 -2.9 0 5.8zM470.4 1113.2l-5.3 -2.9 0 5.8zM477 1112.5l-5.3 -2.9 0 5.8zM483.7 1112l-5.3 -2.9 0 5.8zM490.4 1112l-5.3 -2.9 0 5.8zM497 1112.2l-5.3 -2.9 0 5.8zM503.7 1112.8l-5.3 -2.9 0 5.8zM510.4 1113l-5.3 -2.9 0 5.8zM517 1113.4l-5.3 -2.9 0 5.8zM523.7 1113.8l-5.3 -2.9 0 5.8zM530.4 1114.3l-5.3 -2.9 0 5.8zM537 1114.6l-5.3 -2.9 0 5.8zM543.7 1115l-5.3 -2.9 0 5.8zM550.4 1115l-5.3 -2.9 0 5.8zM557 1115l-5.3 -2.9 0 5.8zM563.7 1114.6l-5.3 -2.9 0 5.8zM570.4 1114.3l-5.3 -2.9 0 5.8zM577 1114l-5.3 -2.9 0 5.8zM583.7 1113.6l-5.3 -2.9 0 5.8zM590.4 1113.3l-5.3 -2.9 0 5.8zM597 1113l-5.3 -2.9 0 5.8zM603.7 1112.8l-5.3 -2.9 0 5.8zM610.4 1112.8l-5.3 -2.9 0 5.8zM617 1113l-5.3 -2.9 0 5.8zM623.7 1113.4l-5.3 -2.9 0 5.8zM630.4 1114l-5.3 -2.9 0 5.8zM637 1115.5l-5.3 -2.9 0 5.8zM643.7 1118l-5.3 -2.9 0 5.8zM650.4 1121.5l-5.3 -2.9 0 5.8zM657 1126l-5.3 -2.9 0 5.8zM663.7 1132l-5.3 -2.9 0 5.8zM670.4 1140l-5.3 -2.9 0 5.8zM677 1150l-5.3 -2.9 0 5.8zM683.7 1160l-5.3 -2.9 0 5.8z" fill="#2A8A22"/><path d="M393.9 1198.2 397.1 1196.3 400.4 1193.5 403.6 1189.4 406.8 1184.2 410 1178.7 413.2 1172.7 416.5 1166.5 419.7 1160.2 422.9 1154.2 426.1 1148.4 429.3 1143 432.6 1138 435.8 1133.4 439 1129.3 442.2 1125.8 445.5 1122.9 448.7 1120.5 451.9 1118.3 455.1 1116.6 458.3 1115.2 461.6 1114.3 464.8 1113.6 468 1113.1 471.2 1112.7 474.4 1112.5 477.7 1112.1 480.9 1112 484.1 1112 487.3 1112 490.6 1112.1 493.8 1112.2 497 1112.5 500.2 1112.8 503.4 1112.9 506.7 1113 509.9 1113.1 513.1 1113.3 516.3 1113.5 519.5 1113.7 522.8 1114 526 1114.2 529.2 1114.4 532.4 1114.5 535.7 1114.7 538.9 1114.9 542.1 1115 545.3 1115 548.5 1115 551.8 1115 555 1115 558.2 1114.8 561.4 1114.6 564.6 1114.4 567.9 1114.3 571.1 1114.1 574.3 1114 577.5 1113.8 580.7 1113.6 584 1113.4 587.2 1113.3 590.4 1113.2 593.6 1113 596.9 1112.9 600.1 1112.8 603.3 1112.8 606.5 1112.8 609.7 1112.8 613 1113 616.2 1113.1 619.4 1113.3 622.6 1113.5 625.8 1113.8 629.1 1114.3 632.3 1115.1 635.5 1116 638.7 1117.2 642 1118.6 645.2 1120.3 648.4 1122.2 651.6 1124.3 654.8 1126.7 658.1 1129.5 661.3 1132.7 664.5 1136.4 667.7 1140.6 670.9 1145.4 674.2 1150.3 677.4 1155.2 680.6 1160" fill="none" stroke="#2A8A22" stroke-width="0.9"/><path d="M393.9 1195.3l2.8 2 -1.1 3.2 -3.4 0 -1.1 -3.2zM400.6 1195.9l2.8 2 -1.1 3.2 -3.4 0 -1.1 -3.2zM407.2 1185.6l2.8 2 -1.1 3.2 -3.4 0 -1.1 -3.2zM413.9 1172.5l2.8 2 -1.1 3.2 -3.4 0 -1.1 -3.2zM420.6 1158l2.8 2 -1.1 3.2 -3.4 0 -1.1 -3.2zM427.2 1144.9l2.8 2 -1.1 3.2 -3.4 0 -1.1 -3.2zM433.9 1133.5l2.8 2 -1.1 3.2 -3.4 0 -1.1 -3.2zM440.6 1124.8l2.8 2 -1.1 3.2 -3.4 0 -1.1 -3.2zM447.2 1118.6l2.8 2 -1.1 3.2 -3.4 0 -1.1 -3.2zM453.9 1114.2l2.8 2 -1.1 3.2 -3.4 0 -1.1 -3.2zM460.6 1111.2l2.8 2 -1.1 3.2 -3.4 0 -1.1 -3.2zM467.3 1109.9l2.8 2 -1.1 3.2 -3.4 0 -1.1 -3.2zM473.9 1109l2.8 2 -1.1 3.2 -3.4 0 -1.1 -3.2zM480.6 1108.3l2.8 2 -1.1 3.2 -3.4 0 -1.1 -3.2zM487.3 1108.3l2.8 2 -1.1 3.2 -3.4 0 -1.1 -3.2zM493.9 1108.3l2.8 2 -1.1 3.2 -3.4 0 -1.1 -3.2zM500.6 1109l2.8 2 -1.1 3.2 -3.4 0 -1.1 -3.2zM507.3 1109l2.8 2 -1.1 3.2 -3.4 0 -1.1 -3.2zM513.9 1109.4l2.8 2 -1.1 3.2 -3.4 0 -1.1 -3.2zM520.6 1109.9l2.8 2 -1.1 3.2 -3.4 0 -1.1 -3.2zM527.3 1110.5l2.8 2 -1.1 3.2 -3.4 0 -1.1 -3.2zM533.9 1110.9l2.8 2 -1.1 3.2 -3.4 0 -1.1 -3.2zM540.6 1111.2l2.8 2 -1.1 3.2 -3.4 0 -1.1 -3.2zM547.3 1111.2l2.8 2 -1.1 3.2 -3.4 0 -1.1 -3.2zM553.9 1111.2l2.8 2 -1.1 3.2 -3.4 0 -1.1 -3.2zM560.6 1110.5l2.8 2 -1.1 3.2 -3.4 0 -1.1 -3.2zM567.3 1110.5l2.8 2 -1.1 3.2 -3.4 0 -1.1 -3.2zM573.9 1109.9l2.8 2 -1.1 3.2 -3.4 0 -1.1 -3.2zM580.6 1109.4l2.8 2 -1.1 3.2 -3.4 0 -1.1 -3.2zM587.3 1109l2.8 2 -1.1 3.2 -3.4 0 -1.1 -3.2zM593.9 1109l2.8 2 -1.1 3.2 -3.4 0 -1.1 -3.2zM600.6 1108.6l2.8 2 -1.1 3.2 -3.4 0 -1.1 -3.2zM607.3 1108.6l2.8 2 -1.1 3.2 -3.4 0 -1.1 -3.2zM613.9 1109l2.8 2 -1.1 3.2 -3.4 0 -1.1 -3.2zM620.6 1109.4l2.8 2 -1.1 3.2 -3.4 0 -1.1 -3.2zM627.3 1109.9l2.8 2 -1.1 3.2 -3.4 0 -1.1 -3.2zM633.9 1111.6l2.8 2 -1.1 3.2 -3.4 0 -1.1 -3.2zM640.6 1114.2l2.8 2 -1.1 3.2 -3.4 0 -1.1 -3.2zM647.3 1117.7l2.8 2 -1.1 3.2 -3.4 0 -1.1 -3.2zM653.9 1122.1l2.8 2 -1.1 3.2 -3.4 0 -1.1 -3.2zM660.6 1128l2.8 2 -1.1 3.2 -3.4 0 -1.1 -3.2zM667.3 1136.1l2.8 2 -1.1 3.2 -3.4 0 -1.1 -3.2zM673.9 1146.2l2.8 2 -1.1 3.2 -3.4 0 -1.1 -3.2zM680.6 1156.5l2.8 2 -1.1 3.2 -3.4 0 -1.1 -3.2z" fill="#000000"/><path d="M393.9 1198.2 397.1 1198.7 400.4 1198.7 403.6 1195.6 406.8 1189.3 410 1183.3 413.2 1176.8 416.5 1169.9 419.7 1162.8 422.9 1156.2 426.1 1149.9 429.3 1144 432.6 1138.5 435.8 1133.7 439 1129.5 442.2 1126 445.5 1123 448.7 1120.4 451.9 1118.3 455.1 1116.5 458.3 1114.9 461.6 1113.9 464.8 1113.2 468 1112.7 471.2 1112.2 474.4 1111.8 477.7 1111.4 480.9 1111.2 484.1 1111.2 487.3 1111.2 490.6 1111.2 493.8 1111.2 497 1111.5 500.2 1111.9 503.4 1111.9 506.7 1111.9 509.9 1112 513.1 1112.2 516.3 1112.5 519.5 1112.7 522.8 1113 526 1113.3 529.2 1113.5 532.4 1113.7 535.7 1113.9 538.9 1114.1 542.1 1114.1 545.3 1114.1 548.5 1114.1 551.8 1114.1 555 1114 558.2 1113.6 561.4 1113.4 564.6 1113.4 567.9 1113.4 571.1 1113.1 574.3 1112.8 577.5 1112.5 580.7 1112.3 584 1112 587.2 1111.9 590.4 1111.9 593.6 1111.9 596.9 1111.7 600.1 1111.5 603.3 1111.5 606.5 1111.5 609.7 1111.6 613 1111.8 616.2 1112 619.4 1112.2 622.6 1112.4 625.8 1112.7 629.1 1113.1 632.3 1114 635.5 1115 638.7 1116.3 642 1117.7 645.2 1119.4 648.4 1121.3 651.6 1123.3 654.8 1125.7 658.1 1128.4 661.3 1131.6 664.5 1135.4 667.7 1139.6 670.9 1144.4 674.2 1149.4 677.4 1154.4 680.6 1159.4" fill="none" stroke="#000000" stroke-width="0.9"/></g><rect x="40.5" y="1096.4" width="289.9" height="233.1" fill="none" stroke="#2b2b2b" stroke-width="1.1"/><path d="M40.5 1329.5v4.8M52.37 1329.5v2.5M59.32 1329.5v2.5M64.25 1329.5v2.5M68.07 1329.5v2.5M71.19 1329.5v2.5M73.83 1329.5v2.5M76.12 1329.5v2.5M78.14 1329.5v2.5M79.94 1329.5v4.8M91.82 1329.5v2.5M98.76 1329.5v2.5M103.69 1329.5v2.5M107.51 1329.5v2.5M110.63 1329.5v2.5M113.27 1329.5v2.5M115.56 1329.5v2.5M117.58 1329.5v2.5M119.38 1329.5v4.8M131.26 1329.5v2.5M138.2 1329.5v2.5M143.13 1329.5v2.5M146.95 1329.5v2.5M150.08 1329.5v2.5M152.72 1329.5v2.5M155 1329.5v2.5M157.02 1329.5v2.5M158.83 1329.5v4.8M170.7 1329.5v2.5M177.65 1329.5v2.5M182.57 1329.5v2.5M186.4 1329.5v2.5M189.52 1329.5v2.5M192.16 1329.5v2.5M194.45 1329.5v2.5M196.46 1329.5v2.5M198.27 1329.5v4.8M210.14 1329.5v2.5M217.09 1329.5v2.5M222.02 1329.5v2.5M225.84 1329.5v2.5M228.96 1329.5v2.5M231.6 1329.5v2.5M233.89 1329.5v2.5M235.91 1329.5v2.5M237.71 1329.5v4.8M249.58 1329.5v2.5M256.53 1329.5v2.5M261.46 1329.5v2.5M265.28 1329.5v2.5M268.4 1329.5v2.5M271.04 1329.5v2.5M273.33 1329.5v2.5M275.35 1329.5v2.5M277.15 1329.5v4.8M289.03 1329.5v2.5M295.97 1329.5v2.5M300.9 1329.5v2.5M304.72 1329.5v2.5M307.85 1329.5v2.5M310.49 1329.5v2.5M312.77 1329.5v2.5M314.79 1329.5v2.5M316.6 1329.5v4.8M328.47 1329.5v2.5" stroke="#2b2b2b" stroke-width="1" fill="none"/><text x="30.97" y="1346.5" font-family="Liberation Sans" font-size="10.6" font-weight="bold" text-anchor="start">10</text><rect x="42.86" y="1339.4" width="3.45" height="0.8" fill="#555"/><text x="46.49" y="1341.8" font-family="Liberation Sans" font-size="6.9" font-weight="bold" text-anchor="start">2</text><text x="70.42" y="1346.5" font-family="Liberation Sans" font-size="10.6" font-weight="bold" text-anchor="start">10</text><rect x="82.3" y="1339.4" width="3.45" height="0.8" fill="#555"/><text x="85.93" y="1341.8" font-family="Liberation Sans" font-size="6.9" font-weight="bold" text-anchor="start">1</text><text x="111.87" y="1346.5" font-family="Liberation Sans" font-size="10.6" font-weight="bold" text-anchor="start">10</text><text x="123.36" y="1341.8" font-family="Liberation Sans" font-size="6.9" font-weight="bold" text-anchor="start">0</text><text x="151.31" y="1346.5" font-family="Liberation Sans" font-size="10.6" font-weight="bold" text-anchor="start">10</text><text x="162.8" y="1341.8" font-family="Liberation Sans" font-size="6.9" font-weight="bold" text-anchor="start">1</text><text x="190.76" y="1346.5" font-family="Liberation Sans" font-size="10.6" font-weight="bold" text-anchor="start">10</text><text x="202.24" y="1341.8" font-family="Liberation Sans" font-size="6.9" font-weight="bold" text-anchor="start">2</text><text x="230.2" y="1346.5" font-family="Liberation Sans" font-size="10.6" font-weight="bold" text-anchor="start">10</text><text x="241.69" y="1341.8" font-family="Liberation Sans" font-size="6.9" font-weight="bold" text-anchor="start">3</text><text x="269.64" y="1346.5" font-family="Liberation Sans" font-size="10.6" font-weight="bold" text-anchor="start">10</text><text x="281.13" y="1341.8" font-family="Liberation Sans" font-size="6.9" font-weight="bold" text-anchor="start">4</text><text x="309.08" y="1346.5" font-family="Liberation Sans" font-size="10.6" font-weight="bold" text-anchor="start">10</text><text x="320.57" y="1341.8" font-family="Liberation Sans" font-size="6.9" font-weight="bold" text-anchor="start">5</text><text x="185.95" y="1363.9" font-family="Liberation Sans" font-size="12.2" font-weight="bold" text-anchor="middle">f (Hz)</text><path d="M40.5 1329.5h-2.5M40.5 1324.73h-2.5M40.5 1321.34h-2.5M40.5 1318.72h-2.5M40.5 1316.57h-2.5M40.5 1314.76h-2.5M40.5 1313.19h-2.5M40.5 1311.8h-2.5M40.5 1310.56h-4.8M40.5 1302.4h-2.5M40.5 1297.63h-2.5M40.5 1294.24h-2.5M40.5 1291.62h-2.5M40.5 1289.47h-2.5M40.5 1287.66h-2.5M40.5 1286.09h-2.5M40.5 1284.7h-2.5M40.5 1283.46h-4.8M40.5 1275.3h-2.5M40.5 1270.53h-2.5M40.5 1267.15h-2.5M40.5 1264.52h-2.5M40.5 1262.37h-2.5M40.5 1260.56h-2.5M40.5 1258.99h-2.5M40.5 1257.6h-2.5M40.5 1256.36h-4.8M40.5 1248.21h-2.5M40.5 1243.43h-2.5M40.5 1240.05h-2.5M40.5 1237.42h-2.5M40.5 1235.28h-2.5M40.5 1233.46h-2.5M40.5 1231.89h-2.5M40.5 1230.5h-2.5M40.5 1229.26h-4.8M40.5 1221.11h-2.5M40.5 1216.34h-2.5M40.5 1212.95h-2.5M40.5 1210.32h-2.5M40.5 1208.18h-2.5M40.5 1206.36h-2.5M40.5 1204.79h-2.5M40.5 1203.41h-2.5M40.5 1202.17h-4.8M40.5 1194.01h-2.5M40.5 1189.24h-2.5M40.5 1185.85h-2.5M40.5 1183.23h-2.5M40.5 1181.08h-2.5M40.5 1179.27h-2.5M40.5 1177.69h-2.5M40.5 1176.31h-2.5M40.5 1175.07h-4.8M40.5 1166.91h-2.5M40.5 1162.14h-2.5M40.5 1158.75h-2.5M40.5 1156.13h-2.5M40.5 1153.98h-2.5M40.5 1152.17h-2.5M40.5 1150.6h-2.5M40.5 1149.21h-2.5M40.5 1147.97h-4.8M40.5 1139.81h-2.5M40.5 1135.04h-2.5M40.5 1131.66h-2.5M40.5 1129.03h-2.5M40.5 1126.88h-2.5M40.5 1125.07h-2.5M40.5 1123.5h-2.5M40.5 1122.11h-2.5M40.5 1120.87h-4.8M40.5 1112.71h-2.5M40.5 1107.94h-2.5M40.5 1104.56h-2.5M40.5 1101.93h-2.5M40.5 1099.79h-2.5M40.5 1097.97h-2.5M40.5 1096.4h-2.5" stroke="#2b2b2b" stroke-width="1" fill="none"/><text x="17.18" y="1314.36" font-family="Liberation Sans" font-size="10.6" font-weight="bold" text-anchor="start">10</text><text x="28.66" y="1309.66" font-family="Liberation Sans" font-size="6.9" font-weight="bold" text-anchor="start">1</text><text x="17.18" y="1287.26" font-family="Liberation Sans" font-size="10.6" font-weight="bold" text-anchor="start">10</text><text x="28.66" y="1282.56" font-family="Liberation Sans" font-size="6.9" font-weight="bold" text-anchor="start">2</text><text x="17.18" y="1260.16" font-family="Liberation Sans" font-size="10.6" font-weight="bold" text-anchor="start">10</text><text x="28.66" y="1255.46" font-family="Liberation Sans" font-size="6.9" font-weight="bold" text-anchor="start">3</text><text x="17.18" y="1233.06" font-family="Liberation Sans" font-size="10.6" font-weight="bold" text-anchor="start">10</text><text x="28.66" y="1228.36" font-family="Liberation Sans" font-size="6.9" font-weight="bold" text-anchor="start">4</text><text x="17.18" y="1205.97" font-family="Liberation Sans" font-size="10.6" font-weight="bold" text-anchor="start">10</text><text x="28.66" y="1201.27" font-family="Liberation Sans" font-size="6.9" font-weight="bold" text-anchor="start">5</text><text x="17.18" y="1178.87" font-family="Liberation Sans" font-size="10.6" font-weight="bold" text-anchor="start">10</text><text x="28.66" y="1174.17" font-family="Liberation Sans" font-size="6.9" font-weight="bold" text-anchor="start">6</text><text x="17.18" y="1151.77" font-family="Liberation Sans" font-size="10.6" font-weight="bold" text-anchor="start">10</text><text x="28.66" y="1147.07" font-family="Liberation Sans" font-size="6.9" font-weight="bold" text-anchor="start">7</text><text x="17.18" y="1124.67" font-family="Liberation Sans" font-size="10.6" font-weight="bold" text-anchor="start">10</text><text x="28.66" y="1119.97" font-family="Liberation Sans" font-size="6.9" font-weight="bold" text-anchor="start">8</text><text transform="translate(13.0 1213.3) rotate(-90)" font-family="Liberation Sans" font-size="14.5" font-weight="bold" text-anchor="middle" textLength="57" lengthAdjust="spacingAndGlyphs">|Z| (&#937; cm<tspan font-size="9" dy="-5.5">2</tspan><tspan dy="5.5">)</tspan></text><rect x="277.13" y="1104.53" width="4.14" height="4.14" fill="#D6A43E"/><text x="294.8" y="1110.2" font-family="Liberation Sans" font-size="10.9" font-weight="normal" text-anchor="start" class="lg">1h</text><circle cx="279.2" cy="1120.07" r="2.34" fill="#FF1010"/><text x="294.8" y="1123.67" font-family="Liberation Sans" font-size="10.9" font-weight="normal" text-anchor="start" class="lg">2h</text><polygon points="279.2,1130.75 281.81,1135.52 276.59,1135.52" fill="#10F010"/><text x="294.8" y="1137.14" font-family="Liberation Sans" font-size="10.9" font-weight="normal" text-anchor="start" class="lg">3h</text><polygon points="279.2,1149.8 281.81,1145.03 276.59,1145.03" fill="#1010FF"/><text x="294.8" y="1150.61" font-family="Liberation Sans" font-size="10.9" font-weight="normal" text-anchor="start" class="lg">4h</text><polygon points="279.2,1157.69 281.72,1160.48 279.2,1163.27 276.68,1160.48" fill="#50F0F8"/><text x="294.8" y="1164.08" font-family="Liberation Sans" font-size="10.9" font-weight="normal" text-anchor="start" class="lg">24h</text><polygon points="276.41,1173.95 281.18,1171.34 281.18,1176.56" fill="#FF20F0"/><text x="294.8" y="1177.55" font-family="Liberation Sans" font-size="10.9" font-weight="normal" text-anchor="start" class="lg">48h</text><polygon points="281.38,1188.68 279.2,1189.94 277.02,1188.68 277.02,1186.16 279.2,1184.9 281.38,1186.16" fill="#F2F830"/><text x="294.8" y="1191.02" font-family="Liberation Sans" font-size="10.9" font-weight="normal" text-anchor="start" class="lg">72h</text><polygon points="281.99,1200.89 277.22,1198.28 277.22,1203.5" fill="#2A8A22"/><text x="294.8" y="1204.49" font-family="Liberation Sans" font-size="10.9" font-weight="normal" text-anchor="start" class="lg">96h</text><polygon points="279.2,1211.75 281.68,1213.55 280.73,1216.47 277.67,1216.47 276.72,1213.55" fill="#000000"/><text x="294.8" y="1217.96" font-family="Liberation Sans" font-size="10.9" font-weight="normal" text-anchor="start" class="lg">120h</text><path d="M267.3 1228.33H291.8" stroke="#666" stroke-width="1.2"/><text x="294.8" y="1231.73" font-family="Liberation Sans" font-size="10.9" font-weight="normal" text-anchor="start" class="lg">fittings</text><rect x="393.2" y="1097" width="289.5" height="232.5" fill="none" stroke="#2b2b2b" stroke-width="1.1"/><path d="M393.2 1329.5v4.8M405.06 1329.5v2.5M411.99 1329.5v2.5M416.91 1329.5v2.5M420.73 1329.5v2.5M423.85 1329.5v2.5M426.49 1329.5v2.5M428.77 1329.5v2.5M430.79 1329.5v2.5M432.59 1329.5v4.8M444.44 1329.5v2.5M451.38 1329.5v2.5M456.3 1329.5v2.5M460.12 1329.5v2.5M463.24 1329.5v2.5M465.87 1329.5v2.5M468.16 1329.5v2.5M470.17 1329.5v2.5M471.98 1329.5v4.8M483.83 1329.5v2.5M490.77 1329.5v2.5M495.69 1329.5v2.5M499.51 1329.5v2.5M502.63 1329.5v2.5M505.26 1329.5v2.5M507.55 1329.5v2.5M509.56 1329.5v2.5M511.36 1329.5v4.8M523.22 1329.5v2.5M530.16 1329.5v2.5M535.08 1329.5v2.5M538.89 1329.5v2.5M542.01 1329.5v2.5M544.65 1329.5v2.5M546.93 1329.5v2.5M548.95 1329.5v2.5M550.75 1329.5v4.8M562.61 1329.5v2.5M569.54 1329.5v2.5M574.46 1329.5v2.5M578.28 1329.5v2.5M581.4 1329.5v2.5M584.04 1329.5v2.5M586.32 1329.5v2.5M588.34 1329.5v2.5M590.14 1329.5v4.8M602 1329.5v2.5M608.93 1329.5v2.5M613.85 1329.5v2.5M617.67 1329.5v2.5M620.79 1329.5v2.5M623.43 1329.5v2.5M625.71 1329.5v2.5M627.72 1329.5v2.5M629.53 1329.5v4.8M641.38 1329.5v2.5M648.32 1329.5v2.5M653.24 1329.5v2.5M657.06 1329.5v2.5M660.18 1329.5v2.5M662.81 1329.5v2.5M665.1 1329.5v2.5M667.11 1329.5v2.5M668.91 1329.5v4.8M680.77 1329.5v2.5" stroke="#2b2b2b" stroke-width="1" fill="none"/><text x="383.67" y="1346.5" font-family="Liberation Sans" font-size="10.6" font-weight="bold" text-anchor="start">10</text><rect x="395.56" y="1339.4" width="3.45" height="0.8" fill="#555"/><text x="399.19" y="1341.8" font-family="Liberation Sans" font-size="6.9" font-weight="bold" text-anchor="start">2</text><text x="423.06" y="1346.5" font-family="Liberation Sans" font-size="10.6" font-weight="bold" text-anchor="start">10</text><rect x="434.95" y="1339.4" width="3.45" height="0.8" fill="#555"/><text x="438.58" y="1341.8" font-family="Liberation Sans" font-size="6.9" font-weight="bold" text-anchor="start">1</text><text x="464.46" y="1346.5" font-family="Liberation Sans" font-size="10.6" font-weight="bold" text-anchor="start">10</text><text x="475.95" y="1341.8" font-family="Liberation Sans" font-size="6.9" font-weight="bold" text-anchor="start">0</text><text x="503.85" y="1346.5" font-family="Liberation Sans" font-size="10.6" font-weight="bold" text-anchor="start">10</text><text x="515.34" y="1341.8" font-family="Liberation Sans" font-size="6.9" font-weight="bold" text-anchor="start">1</text><text x="543.24" y="1346.5" font-family="Liberation Sans" font-size="10.6" font-weight="bold" text-anchor="start">10</text><text x="554.73" y="1341.8" font-family="Liberation Sans" font-size="6.9" font-weight="bold" text-anchor="start">2</text><text x="582.63" y="1346.5" font-family="Liberation Sans" font-size="10.6" font-weight="bold" text-anchor="start">10</text><text x="594.11" y="1341.8" font-family="Liberation Sans" font-size="6.9" font-weight="bold" text-anchor="start">3</text><text x="622.01" y="1346.5" font-family="Liberation Sans" font-size="10.6" font-weight="bold" text-anchor="start">10</text><text x="633.5" y="1341.8" font-family="Liberation Sans" font-size="6.9" font-weight="bold" text-anchor="start">4</text><text x="661.4" y="1346.5" font-family="Liberation Sans" font-size="10.6" font-weight="bold" text-anchor="start">10</text><text x="672.89" y="1341.8" font-family="Liberation Sans" font-size="6.9" font-weight="bold" text-anchor="start">5</text><text x="538.45" y="1363.9" font-family="Liberation Sans" font-size="12.2" font-weight="bold" text-anchor="middle">f (Hz)</text><path d="M393.2 1329.5h-4.8M393.2 1303.67h-2.5M393.2 1277.83h-4.8M393.2 1252h-2.5M393.2 1226.17h-4.8M393.2 1200.33h-2.5M393.2 1174.5h-4.8M393.2 1148.67h-2.5M393.2 1122.83h-4.8M393.2 1097h-2.5" stroke="#2b2b2b" stroke-width="1" fill="none"/><text x="385.9" y="1333.3" font-family="Liberation Sans" font-size="11" font-weight="bold" text-anchor="end">0</text><text x="385.9" y="1281.63" font-family="Liberation Sans" font-size="11" font-weight="bold" text-anchor="end">20</text><rect x="368.4" y="1277.73" width="5.3" height="0.9" fill="#444"/><text x="385.9" y="1229.97" font-family="Liberation Sans" font-size="11" font-weight="bold" text-anchor="end">40</text><rect x="368.4" y="1226.07" width="5.3" height="0.9" fill="#444"/><text x="385.9" y="1178.3" font-family="Liberation Sans" font-size="11" font-weight="bold" text-anchor="end">60</text><rect x="368.4" y="1174.4" width="5.3" height="0.9" fill="#444"/><text x="385.9" y="1126.63" font-family="Liberation Sans" font-size="11" font-weight="bold" text-anchor="end">80</text><rect x="368.4" y="1122.73" width="5.3" height="0.9" fill="#444"/><text transform="translate(363.6 1213.75) rotate(-90)" font-family="Liberation Sans" font-size="12.6" font-weight="bold" text-anchor="middle" textLength="116.5" lengthAdjust="spacingAndGlyphs">Phase angle (Degree)</text><text x="84.9" y="1121" font-family="Liberation Sans" font-size="23.5" font-weight="normal" text-anchor="start" stroke="#000" stroke-width="0.3">(i)</text><text x="116.6" y="1120.8" font-family="Liberation Serif" font-size="23.4" font-weight="normal" text-anchor="start" stroke="#000" stroke-width="0.35">PEO-Ce-HNT</text><text x="401.5" y="1121.3" font-family="Liberation Sans" font-size="23.5" font-weight="normal" text-anchor="start" stroke="#000" stroke-width="0.3">(j)</text></svg></body></html>
